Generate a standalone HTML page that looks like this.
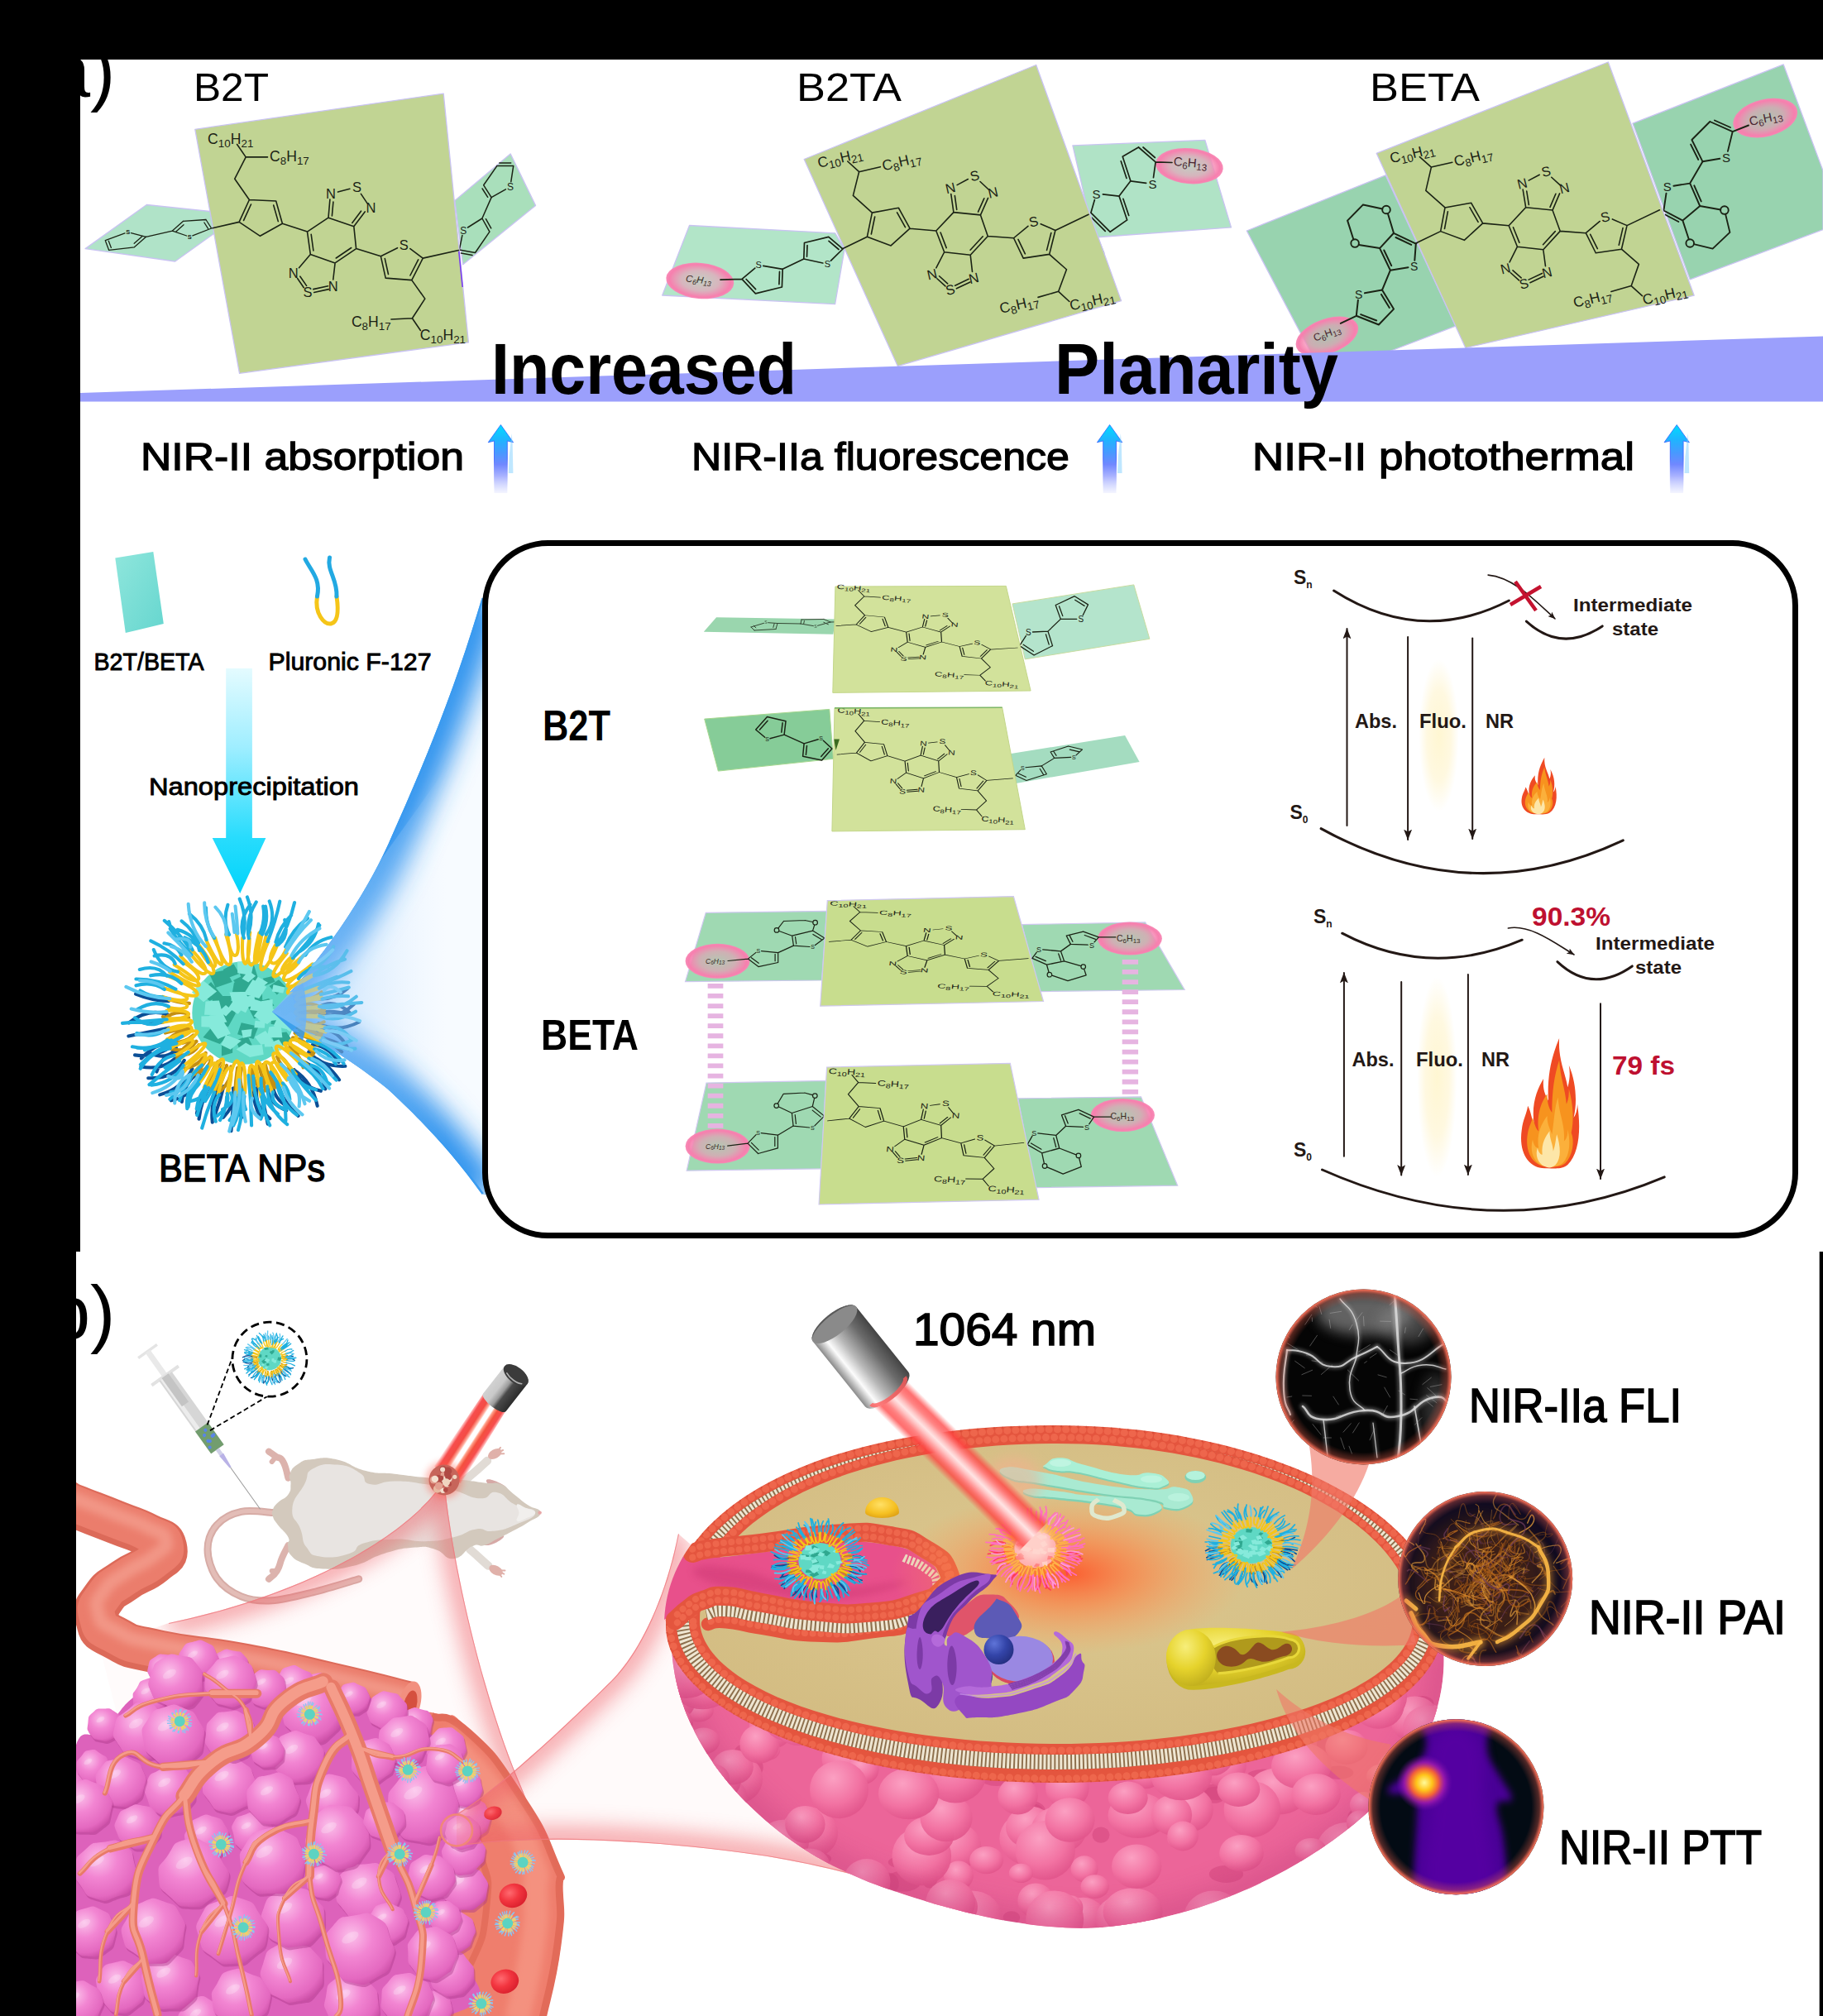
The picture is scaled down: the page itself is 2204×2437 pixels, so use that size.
<!DOCTYPE html>
<html><head><meta charset="utf-8"><title>Figure</title>
<style>html,body{margin:0;padding:0;background:#fff;overflow:hidden}svg{display:block}</style>
</head><body>
<svg width="2204" height="2437" viewBox="0 0 2204 2437" font-family="Liberation Sans, sans-serif">
<defs><g id="core" font-family="Liberation Sans, sans-serif" fill="#1b2315"><path d="M397 263.2 L427.8 273.7 M427.8 273.7 L430.6 300.6 M430.6 300.6 L405.1 317.9 M405.1 317.9 L375.3 307.4 M375.3 307.4 L371.5 280.1 M371.5 280.1 L397 263.2 M424.7 299.5 L406.3 312 M378.9 303 L376.2 283.3 M397 263.2 L398.9 241.1 M401.4 260.9 L402.9 244.1 M408.5 232.1 L422.9 228.2 M436.4 234.4 L444.1 245.9 M441.2 255.9 L427.8 273.7 M436.5 255.2 L425.8 269.4 M375.3 307.4 L361.5 323.7 M359.6 336.5 L367.3 347.7 M362.9 334.2 L370.6 345.4 M378.8 349.6 L396.6 345.7 M379.7 353.5 L397.5 349.6 M402.8 338 L405.1 317.9 M301.4 241.5 L333.7 243 M333.7 243 L341.4 270.3 M341.4 270.3 L314.5 285.3 M314.5 285.3 L289.1 268.4 M289.1 268.4 L301.4 241.5 M330.7 248 L336.3 267.6 M294.6 266.4 L303.5 247 M341.4 270.3 L371.5 280.1 M289.1 268.4 L256.9 275.7 M301.4 241.5 L283.8 216.2 M283.8 216.2 L297.2 189.9 M297.2 189.9 L286.6 174.5 M297.2 189.9 L323.5 189.9 M460.4 309.8 L480.5 299.7 M495.9 300.6 L511.3 312.1 M460.4 309.8 L466.2 336.1 M466.2 336.1 L497.8 338.6 M497.8 338.6 L511.3 312.1 M465.3 312.6 L469.5 331.5 M495.9 333 L505.7 313.9 M430.6 300.6 L460.4 309.8 M511.3 312.1 L554.5 302.5 M497.8 338.6 L513.8 361.1 M513.8 361.1 L498.4 384.7 M498.4 384.7 L472.9 386 M498.4 384.7 L508.4 399.5" stroke="#1b2315" stroke-width="1.6" fill="none" stroke-linecap="round"/><text x="399.9" y="239.7" font-size="16.5" text-anchor="middle">N</text><text x="431.6" y="231.7" font-size="16.5" text-anchor="middle">S</text><text x="448.5" y="256.6" font-size="16.5" text-anchor="middle">N</text><text x="354.8" y="335.9" font-size="16.5" text-anchor="middle">N</text><text x="372.1" y="358.9" font-size="16.5" text-anchor="middle">S</text><text x="402.8" y="351.7" font-size="16.5" text-anchor="middle">N</text><text x="488.2" y="301.7" font-size="16.5" text-anchor="middle">S</text><text x="251.1" y="174.4" font-size="17.6" text-anchor="start" ><tspan dy="0" font-size="17.6">C</tspan><tspan dy="3.9" font-size="13.4">10</tspan><tspan dy="-3.9" font-size="17.6">H</tspan><tspan dy="3.9" font-size="13.4">21</tspan></text><text x="326" y="195.3" font-size="17.6" text-anchor="start" ><tspan dy="0" font-size="17.6">C</tspan><tspan dy="3.9" font-size="13.4">8</tspan><tspan dy="-3.9" font-size="17.6">H</tspan><tspan dy="3.9" font-size="13.4">17</tspan></text><text x="424.9" y="395" font-size="17.6" text-anchor="start" ><tspan dy="0" font-size="17.6">C</tspan><tspan dy="3.9" font-size="13.4">8</tspan><tspan dy="-3.9" font-size="17.6">H</tspan><tspan dy="3.9" font-size="13.4">17</tspan></text><text x="507.8" y="410.6" font-size="17.6" text-anchor="start" ><tspan dy="0" font-size="17.6">C</tspan><tspan dy="3.9" font-size="13.4">10</tspan><tspan dy="-3.9" font-size="17.6">H</tspan><tspan dy="3.9" font-size="13.4">21</tspan></text></g><radialGradient id="pinkg"><stop offset="0" stop-color="#f58fb5" stop-opacity="0.25"/><stop offset="0.55" stop-color="#f58fb5" stop-opacity="0.55"/><stop offset="0.9" stop-color="#f77fae" stop-opacity="1"/><stop offset="1" stop-color="#f886b4" stop-opacity="0.95"/></radialGradient><linearGradient id="bluearrow" x1="0" y1="0" x2="0" y2="1"><stop offset="0" stop-color="#00dcff"/><stop offset="0.22" stop-color="#1fb4ff"/><stop offset="0.42" stop-color="#4a98ff"/><stop offset="0.58" stop-color="#7088ff"/><stop offset="0.75" stop-color="#a9b2ff"/><stop offset="1" stop-color="#eef0ff" stop-opacity="0.7"/></linearGradient><linearGradient id="bluearrow2" x1="0" y1="0" x2="0" y2="1"><stop offset="0" stop-color="#2a6aff"/><stop offset="0.5" stop-color="#3a5aff"/><stop offset="0.8" stop-color="#a0a8ff" stop-opacity="0.5"/><stop offset="1" stop-color="#fff" stop-opacity="0"/></linearGradient><linearGradient id="tealrect" x1="0" y1="0" x2="1" y2="1"><stop offset="0" stop-color="#8fe6dc"/><stop offset="1" stop-color="#66d6cf"/></linearGradient><linearGradient id="cyanarrow" x1="0" y1="0" x2="0" y2="1"><stop offset="0" stop-color="#e4fbff"/><stop offset="0.35" stop-color="#9feeff"/><stop offset="0.75" stop-color="#28dcfd"/><stop offset="1" stop-color="#00d4fb"/></linearGradient><filter id="blur14" filterUnits="userSpaceOnUse" x="200" y="600" width="600" height="1000"><feGaussianBlur stdDeviation="16"/></filter><filter id="blur5" filterUnits="userSpaceOnUse" x="200" y="600" width="600" height="1000"><feGaussianBlur stdDeviation="5"/></filter><linearGradient id="conefade" gradientUnits="userSpaceOnUse" x1="329" y1="0" x2="540" y2="0"><stop offset="0" stop-color="#7fbdf9" stop-opacity="0.75"/><stop offset="0.45" stop-color="#a9d3fb" stop-opacity="0.4"/><stop offset="1" stop-color="#d5e9ff" stop-opacity="0"/></linearGradient><clipPath id="coneclip"><path d="M329 1223 C390 1160 440 1085 468.8 1021.8 C505 940 545 850 582.6 722.7 L590 722 L590 1445 L582.6 1443.7 C545 1390 500 1345 468.8 1316.4 C430 1285 380 1255 329 1223 Z"/></clipPath><radialGradient id="glowy"><stop offset="0" stop-color="#fff6d0" stop-opacity="0.95"/><stop offset="0.6" stop-color="#fff4cc" stop-opacity="0.6"/><stop offset="1" stop-color="#fff4cc" stop-opacity="0"/></radialGradient><marker id="ah" viewBox="0 0 13 10" refX="12.4" refY="5" markerWidth="13" markerHeight="10" markerUnits="userSpaceOnUse" orient="auto-start-reverse"><path d="M0 0 L13 5 L0 10 L3 5 Z" fill="#231815"/></marker><marker id="ah2" viewBox="0 0 10 8" refX="9.4" refY="4" markerWidth="9" markerHeight="7.2" markerUnits="userSpaceOnUse" orient="auto-start-reverse"><path d="M0 0 L10 4 L0 8 L2.4 4 Z" fill="#231815"/></marker><g id="flame"><path d="M50 158 C20 160 2 140 8 112 C10 100 16 94 18 84 C24 92 24 100 28 104 C24 80 34 64 44 52 C42 66 48 72 52 78 C50 50 56 28 70 4 C68 30 80 44 84 62 C88 52 88 44 86 36 C98 56 100 80 94 98 C98 94 100 88 100 82 C106 110 104 140 84 154 C74 160 62 158 50 158 Z" fill="#ef4a23"/><path d="M50 156 C26 156 12 138 18 116 C20 108 24 104 26 98 C30 108 32 112 36 114 C32 92 42 78 50 70 C50 82 54 88 58 92 C58 66 62 48 70 30 C72 52 80 64 82 82 C86 76 86 70 86 64 C94 84 94 104 90 116 C96 126 92 144 80 152 C72 157 60 156 50 156 Z" fill="#f7931e"/><path d="M48 156 C30 154 20 140 26 124 C28 132 32 134 36 134 C32 116 42 104 50 96 C50 108 56 112 58 118 C62 100 62 86 68 74 C70 96 80 106 78 126 C84 122 84 116 84 112 C90 130 86 146 74 153 C66 157 56 157 48 156 Z" fill="#fbb03b"/><path d="M46 156 C34 152 30 142 34 134 C36 140 40 142 42 142 C40 128 48 120 54 114 C54 124 60 130 60 138 C64 130 64 124 66 118 C72 132 74 146 64 154 C58 158 52 158 46 156 Z" fill="#fde6a8"/></g><radialGradient id="cellg" cx="0.38" cy="0.32" r="0.75"><stop offset="0" stop-color="#fbc0ea"/><stop offset="0.4" stop-color="#f285d2"/><stop offset="0.8" stop-color="#e469c0"/><stop offset="1" stop-color="#c84aa2"/></radialGradient><radialGradient id="rbcg" cx="0.4" cy="0.35" r="0.7"><stop offset="0" stop-color="#ff6a70"/><stop offset="0.5" stop-color="#f2353f"/><stop offset="1" stop-color="#d81e2c"/></radialGradient><filter id="b8" filterUnits="userSpaceOnUse" x="0" y="1500" width="2204" height="940"><feGaussianBlur stdDeviation="8"/></filter><filter id="b14" filterUnits="userSpaceOnUse" x="0" y="1500" width="2204" height="940"><feGaussianBlur stdDeviation="14"/></filter><filter id="b4" filterUnits="userSpaceOnUse" x="0" y="1500" width="2204" height="940"><feGaussianBlur stdDeviation="4"/></filter><filter id="b2" filterUnits="userSpaceOnUse" x="0" y="1500" width="2204" height="940"><feGaussianBlur stdDeviation="2"/></filter><filter id="b25" filterUnits="userSpaceOnUse" x="0" y="1500" width="2204" height="940"><feGaussianBlur stdDeviation="25"/></filter><linearGradient id="metal" x1="0" y1="0" x2="1" y2="0"><stop offset="0" stop-color="#6e6e6e"/><stop offset="0.22" stop-color="#f2f2f2"/><stop offset="0.45" stop-color="#9a9a9a"/><stop offset="0.8" stop-color="#4a4a4a"/><stop offset="1" stop-color="#2e2e2e"/></linearGradient><linearGradient id="metal2" x1="0" y1="0" x2="1" y2="0"><stop offset="0" stop-color="#d2d2d2"/><stop offset="0.3" stop-color="#c9c9c9"/><stop offset="0.5" stop-color="#9a9a9a"/><stop offset="0.62" stop-color="#4a4a4a"/><stop offset="1" stop-color="#2c2c2c"/></linearGradient><linearGradient id="beam" x1="0" y1="0" x2="1" y2="0"><stop offset="0" stop-color="#ff3a3a" stop-opacity="0"/><stop offset="0.16" stop-color="#ff4040" stop-opacity="0.75"/><stop offset="0.3" stop-color="#ff8888"/><stop offset="0.42" stop-color="#ffc4c4"/><stop offset="0.5" stop-color="#ffe4e4"/><stop offset="0.58" stop-color="#ffc4c4"/><stop offset="0.7" stop-color="#ff8888"/><stop offset="0.84" stop-color="#ff4040" stop-opacity="0.75"/><stop offset="1" stop-color="#ff3a3a" stop-opacity="0"/></linearGradient><linearGradient id="beam2" x1="0" y1="0" x2="1" y2="0"><stop offset="0" stop-color="#ff3a3a" stop-opacity="0"/><stop offset="0.14" stop-color="#f64444" stop-opacity="0.95"/><stop offset="0.3" stop-color="#f44c44"/><stop offset="0.4" stop-color="#ffb0a0"/><stop offset="0.45" stop-color="#fff"/><stop offset="0.57" stop-color="#fff"/><stop offset="0.62" stop-color="#ffa088"/><stop offset="0.72" stop-color="#f4503e"/><stop offset="0.86" stop-color="#f64444" stop-opacity="0.95"/><stop offset="1" stop-color="#ff3a3a" stop-opacity="0"/></linearGradient><clipPath id="cone1clip"><path d="M537 1789 C500 1850 380 1925 204 1962 L120 1990 L200 2300 L672 2263 C660 2235 645 2195 625 2148 C585 2050 548 1900 537 1789 Z"/></clipPath><clipPath id="cone2clip"><path d="M552 2193 C600 2165 680 2090 740 2031 C775 1995 805 1930 820 1854 L850 1880 L900 2050 L1260 2325 C1080 2280 1000 2254 914 2242 C770 2222 640 2218 552 2232 Z"/></clipPath><clipPath id="botclip"><rect x="92" y="1500" width="2108" height="937"/></clipPath><radialGradient id="tang" cx="0.5" cy="0.45" r="0.6"><stop offset="0" stop-color="#dcc890"/><stop offset="1" stop-color="#d3bc82"/></radialGradient><radialGradient id="hotglow"><stop offset="0" stop-color="#ff5226" stop-opacity="0.9"/><stop offset="0.4" stop-color="#ff7a3e" stop-opacity="0.62"/><stop offset="1" stop-color="#ff9a58" stop-opacity="0"/></radialGradient><radialGradient id="bumpl" cx="0.4" cy="0.3" r="0.7"><stop offset="0" stop-color="#fba0c2"/><stop offset="0.65" stop-color="#f272a2"/><stop offset="1" stop-color="#e2568c" stop-opacity="0.9"/></radialGradient><radialGradient id="yelg" cx="0.4" cy="0.3" r="0.8"><stop offset="0" stop-color="#f7ee7a"/><stop offset="0.5" stop-color="#e6d32c"/><stop offset="1" stop-color="#b9a71a"/></radialGradient><radialGradient id="domeg" cx="0.45" cy="0.35" r="0.75"><stop offset="0" stop-color="#ffe066"/><stop offset="0.6" stop-color="#f6c021"/><stop offset="1" stop-color="#d99a12"/></radialGradient><radialGradient id="nucl" cx="0.35" cy="0.3" r="0.8"><stop offset="0" stop-color="#5f74d8"/><stop offset="0.5" stop-color="#3344a8"/><stop offset="1" stop-color="#222c7a"/></radialGradient><linearGradient id="metalL" x1="0" y1="0" x2="1" y2="0"><stop offset="0" stop-color="#8a8a8a"/><stop offset="0.2" stop-color="#fcfcfc"/><stop offset="0.42" stop-color="#b8b8b8"/><stop offset="0.75" stop-color="#6a6a6a"/><stop offset="1" stop-color="#444"/></linearGradient><clipPath id="pinkclip"><path d="M812 1990 C815 2095 900 2215 1050 2275 C1150 2312 1250 2335 1330 2330 C1480 2318 1650 2230 1720 2110 C1740 2070 1748 2030 1745 1990 L1745 1940 L812 1940 Z"/></clipPath><clipPath id="e2clip"><path d="M818 1963 C818 1825.6 1000.8 1734 1275 1734 C1527.4 1734 1732 1836.5 1732 1963 C1732 2060.2 1527.4 2139 1275 2139 C1022.6 2139 818 2060.2 818 1963Z"/></clipPath><clipPath id="e1clip"><path d="M803 1965 C803 1818.6 991.8 1721 1275 1721 C1535.7 1721 1747 1830.2 1747 1965 C1747 2071 1535.7 2157 1275 2157 C1014.3 2157 803 2071 803 1965Z"/></clipPath><clipPath id="topclip"><ellipse cx="1267" cy="1926" rx="437" ry="182"/></clipPath><radialGradient id="fli_r"><stop offset="0.9" stop-color="#000"/><stop offset="0.97" stop-color="#7a2a20"/><stop offset="1" stop-color="#e8604c"/></radialGradient><radialGradient id="hot"><stop offset="0" stop-color="#fffb9a"/><stop offset="0.28" stop-color="#ffc41a"/><stop offset="0.5" stop-color="#f2603a"/><stop offset="0.72" stop-color="#b020b0" stop-opacity="0.7"/><stop offset="1" stop-color="#7010a8" stop-opacity="0"/></radialGradient><radialGradient id="ringglow"><stop offset="0.86" stop-color="#e8604c" stop-opacity="0"/><stop offset="0.95" stop-color="#e8604c" stop-opacity="0.35"/><stop offset="0.985" stop-color="#ee6a54" stop-opacity="0.9"/><stop offset="1" stop-color="#f07860" stop-opacity="1"/></radialGradient><clipPath id="c1"><circle cx="1648.5" cy="1664.4" r="106"/></clipPath><clipPath id="c2"><circle cx="1795.7" cy="1908.5" r="105.5"/></clipPath><clipPath id="c3"><circle cx="1760.4" cy="2184.3" r="106"/></clipPath><linearGradient id="tail" x1="0" y1="0" x2="0" y2="1"><stop offset="0" stop-color="#f0705c" stop-opacity="0.35"/><stop offset="1" stop-color="#ee5f50" stop-opacity="0.8"/></linearGradient></defs>
<rect width="2204" height="2437" fill="#fff"/>
<g><polygon points="103.1,300.6 177.3,247.5 262,256.4 262,280 211.7,316" fill="#b0e3c8" stroke="#c9c3f2" stroke-width="1.3" stroke-linejoin="round"/><g font-family="Liberation Sans, sans-serif" font-weight="bold"><path d="M176.6 286.3 L162.4 298.8 M162.4 298.8 L131.7 302.4 M131.7 302.4 L127.3 290.7 M127.3 290.7 L151 281.9 M158.5 281.6 L176.6 286.3 M172.1 285.5 L162.2 294.2 M134.4 299.4 L131.3 291.2" stroke="#1b2315" stroke-width="1.3" fill="none" stroke-linecap="round"/><text x="154.7" y="283.3" font-size="7.5" text-anchor="middle" fill="#1b2315">S</text><path d="M208.4 279.1 L221.6 267.3 M221.6 267.3 L249 265.5 M249 265.5 L255.6 276 M255.6 276 L232.9 284.9 M225.6 285 L208.4 279.1 M212.8 280 L222 271.8 M246.9 269 L251.6 276.3 M176.6 286.3 L208.4 279.1" stroke="#1b2315" stroke-width="1.3" fill="none" stroke-linecap="round"/><text x="229.3" y="289" font-size="7.5" text-anchor="middle" fill="#1b2315">S</text></g><polygon points="549.9,242.6 617.1,185.9 647.5,248.4 559.7,319.8" fill="#a9dfbb" stroke="#c9c3f2" stroke-width="1.3" stroke-linejoin="round"/><g font-family="Liberation Sans, sans-serif"><path d="M594.1 238.6 L584.7 223.8 M584.7 223.8 L600.8 200.6 M600.8 200.6 L620.7 200.6 M620.7 200.6 L617.8 219.7 M611.4 228.9 L594.1 238.6 M589.7 238.3 L583.1 228 M603.8 197 L617.7 197" stroke="#1b2315" stroke-width="1.5" fill="none" stroke-linecap="round"/><text x="616.9" y="230.2" font-size="12" text-anchor="middle" fill="#1b2315">S</text><path d="M582.9 264 L591.9 280.1 M591.9 280.1 L574.5 305.5 M574.5 305.5 L555.3 302 M555.3 302 L558.9 284.4 M565.5 275 L582.9 264 M587.4 264.7 L593.7 275.9 M571 308.5 L557.5 306.1 M594.1 238.6 L582.9 264" stroke="#1b2315" stroke-width="1.5" fill="none" stroke-linecap="round"/><text x="560.2" y="282.6" font-size="12" text-anchor="middle" fill="#1b2315">S</text></g><polygon points="235.8,156.3 536.2,113.1 566.4,413.9 289.5,451.3" fill="#c1d493" stroke="#c9c3f2" stroke-width="1.3" stroke-linejoin="round"/><line x1="554.8" y1="303.8" x2="559.2" y2="347" stroke="#7a3df0" stroke-width="1.6"/><use href="#core"/><polygon points="800.7,357 833.5,272.5 1009.6,281.8 1021,301.3 1009.6,367.6" fill="#b2e5c8" stroke="#c9c3f2" stroke-width="1.3" stroke-linejoin="round"/><ellipse cx="846.3" cy="339.4" rx="41.1" ry="21.6" transform="rotate(5 846.3 339.4)" fill="url(#pinkg)"/><g font-family="Liberation Sans, sans-serif"><text x="829" y="342.5" font-size="11.5" text-anchor="start" font-style="italic" fill="#3a2a24" transform="rotate(7 848 339)"><tspan dy="0" font-size="11.5">C</tspan><tspan dy="2.5" font-size="8.7">6</tspan><tspan dy="-2.5" font-size="11.5">H</tspan><tspan dy="2.5" font-size="8.7">13</tspan></text><path d="M946.2 325.3 L945.4 347 M945.4 347 L913.4 354.8 M913.4 354.8 L897 337.3 M897 337.3 L912.8 324.1 M922.8 321.4 L946.2 325.3 M942.5 328.4 L941.9 343.6 M913.6 349.7 L902.1 337.5 M871 338.2 L897 337.3" stroke="#1b2315" stroke-width="1.7" fill="none" stroke-linecap="round"/><text x="917.2" y="324.4" font-size="11" text-anchor="middle" fill="#1b2315">S</text><path d="M971.8 313 L972.5 293.5 M972.5 293.5 L1001.8 286.4 M1001.8 286.4 L1018.9 301 M1018.9 301 L1004.5 315.2 M994.8 318 L971.8 313 M975.5 310.2 L976 296.6 M1002 291.3 L1014 301.5 M946.2 325.3 L971.8 313" stroke="#1b2315" stroke-width="1.7" fill="none" stroke-linecap="round"/><text x="1000.4" y="323.2" font-size="11" text-anchor="middle" fill="#1b2315">S</text></g><polygon points="1296.9,175.9 1456.8,169.3 1488.5,274.9 1323.4,287 1314,250" fill="#b0e3c6" stroke="#c9c3f2" stroke-width="1.3" stroke-linejoin="round"/><polygon points="1317.4,262 1322.2,311.1 1335.5,306.3" fill="#3f7553" /><ellipse cx="1437.9" cy="200.7" rx="41" ry="21.5" transform="rotate(5 1437.9 200.7)" fill="url(#pinkg)"/><g font-family="Liberation Sans, sans-serif"><text x="1418.5" y="201.5" font-size="15" text-anchor="start" fill="#4a2530" transform="rotate(5 1437 200)"><tspan dy="0" font-size="15">C</tspan><tspan dy="3.3" font-size="11.4">6</tspan><tspan dy="-3.3" font-size="15">H</tspan><tspan dy="3.3" font-size="11.4">13</tspan></text><path d="M1366.9 218.8 L1357.2 189.2 M1357.2 189.2 L1376.5 178 M1376.5 178 L1397.1 195.9 M1397.1 195.9 L1394.5 214.7 M1385.7 221.4 L1366.9 218.8 M1362 215.5 L1355.2 194.8 M1382 178 L1396.4 190.5 M1397.1 195.9 L1417 196.5" stroke="#1b2315" stroke-width="1.7" fill="none" stroke-linecap="round"/><text x="1393.4" y="227.8" font-size="15" text-anchor="middle" fill="#1b2315">S</text><path d="M1353 237.1 L1362.7 265.9 M1362.7 265.9 L1342.2 280.3 M1342.2 280.3 L1318.9 257.2 M1318.9 257.2 L1323.4 241.6 M1333.4 234.9 L1353 237.1 M1357.9 240.3 L1364.7 260.4 M1336.2 279.4 L1319.9 263.2 M1366.9 218.8 L1353 237.1" stroke="#1b2315" stroke-width="1.7" fill="none" stroke-linecap="round"/><text x="1325.6" y="239.5" font-size="15" text-anchor="middle" fill="#1b2315">S</text></g><polygon points="972.2,192.5 1252.7,78.5 1355.6,363.6 1085.3,442.6" fill="#c1d493" stroke="#c9c3f2" stroke-width="1.3" stroke-linejoin="round"/><use href="#core" transform="matrix(0.97940 -0.22714 0.22608 0.97717 704.59095 89.60579)"/><polygon points="1507.3,279 1675.1,211.8 1759.9,394.2 1640,440 1592,440" fill="#98d3af" stroke="#c9c3f2" stroke-width="1.3" stroke-linejoin="round"/><polygon points="1974,149.2 2156.2,77.9 2204,206.3 2204,277.6 2043.2,337.9" fill="#98d3af" stroke="#c9c3f2" stroke-width="1.3" stroke-linejoin="round"/><ellipse cx="1604.4" cy="406.5" rx="39.5" ry="21" transform="rotate(-20 1604.4 406.5)" fill="url(#pinkg)"/><ellipse cx="2134.2" cy="142.6" rx="39.8" ry="22.5" transform="rotate(-14 2134.2 142.6)" fill="url(#pinkg)"/><g font-family="Liberation Sans, sans-serif"><text x="1587" y="407" font-size="12.5" text-anchor="start" fill="#4a2530" transform="rotate(-20 1605 402)"><tspan dy="0" font-size="12.5">C</tspan><tspan dy="2.8" font-size="9.5">6</tspan><tspan dy="-2.8" font-size="12.5">H</tspan><tspan dy="2.8" font-size="9.5">13</tspan></text><text x="2116" y="152" font-size="15" text-anchor="start" fill="#4a2530" transform="rotate(-12 2116 152)"><tspan dy="0" font-size="15">C</tspan><tspan dy="3.3" font-size="11.4">6</tspan><tspan dy="-3.3" font-size="15">H</tspan><tspan dy="3.3" font-size="11.4">13</tspan></text><path d="M1680.9 326.7 L1668.1 300.1 M1668.1 300.1 L1685 281.8 M1685 281.8 L1711.8 294.6 M1711.8 294.6 L1710.3 314.8 M1702.5 323.2 L1680.9 326.7 M1682.2 321.1 L1673.3 302.5 M1687.5 287 L1706.2 295.9 M1711.8 294.6 L1741.8 279.8 M1680.9 326.7 L1671 350.6 M1685 281.8 L1678 258.5 M1671.3 252.4 L1648 247.4 M1648 247.4 L1629.1 266.6 M1629.1 266.6 L1636.3 289.2 M1642.8 296 L1668.1 300.1" stroke="#1b2315" stroke-width="2.0" fill="none" stroke-linecap="round"/><text x="1709.7" y="327.1" font-size="14" text-anchor="middle" fill="#1b2315">S</text><path d="M1671 350.6 L1685 373.6 M1685 373.6 L1666.9 392.5 M1666.9 392.5 L1639.8 381.8 M1639.8 381.8 L1641.9 362.7 M1649.9 354.3 L1671 350.6 M1670 355.9 L1679.8 372 M1664.2 387.5 L1645.2 380.1 M1639.8 381.8 L1620.8 390.9" stroke="#1b2315" stroke-width="2.0" fill="none" stroke-linecap="round"/><text x="1642.7" y="360.5" font-size="14" text-anchor="middle" fill="#1b2315">S</text><circle cx="1676" cy="253.5" r="4.8" fill="none" stroke="#1b2315" stroke-width="1.9"/><circle cx="1638.1" cy="294.1" r="4.8" fill="none" stroke="#1b2315" stroke-width="1.9"/><circle cx="2084.9" cy="254.1" r="4.8" fill="none" stroke="#1b2315" stroke-width="1.9"/><circle cx="2043.2" cy="294" r="4.8" fill="none" stroke="#1b2315" stroke-width="1.9"/><path d="M2058.5 195.3 L2045.4 169 M2045.4 169 L2067.3 147 M2067.3 147 L2094.7 159.1 M2094.7 159.1 L2088.9 182.9 M2079.3 191.8 L2058.5 195.3 M2053.3 193 L2044.1 174.6 M2072.9 145.5 L2092 154 M2094.7 159.1 L2114 151.5" stroke="#1b2315" stroke-width="1.9" fill="none" stroke-linecap="round"/><text x="2087" y="195.9" font-size="15" text-anchor="middle" fill="#1b2315">S</text><path d="M2043.2 221.6 L2055.2 249 M2055.2 249 L2034.4 266.6 M2034.4 266.6 L2011.4 254.5 M2011.4 254.5 L2014.5 233.7 M2023.4 224.8 L2043.2 221.6 M2048.3 224.3 L2056.7 243.4 M2029.3 268 L2013.2 259.5 M2058.5 195.3 L2043.2 221.6 M2011.4 254.5 L1968.6 272.1 M2055.2 249 L2080.2 253.5 M2086.1 258.9 L2091.4 280.9 M2091.4 280.9 L2070.6 300.6 M2070.6 300.6 L2047.9 295.2 M2041.8 289.3 L2034.4 266.6" stroke="#1b2315" stroke-width="1.9" fill="none" stroke-linecap="round"/><text x="2015.7" y="231.4" font-size="15" text-anchor="middle" fill="#1b2315">S</text></g><polygon points="1664.2,185.3 1944.3,75 2048.2,357.2 1771.8,420.6" fill="#c1d493" stroke="#c9c3f2" stroke-width="1.3" stroke-linejoin="round"/><use href="#core" transform="matrix(0.96640 -0.22127 0.24314 0.96509 1397.02166 84.56742)"/><g font-family="Liberation Sans, sans-serif" font-size="49" fill="#000"><text x="234" y="121.8" textLength="91" lengthAdjust="spacingAndGlyphs">B2T</text><text x="963" y="121.8" textLength="127" lengthAdjust="spacingAndGlyphs">B2TA</text><text x="1656" y="121.8" textLength="133" lengthAdjust="spacingAndGlyphs">BETA</text></g><polygon points="97,475 2204,406.5 2204,485.5 97,485.5" fill="#9b9ffc" /><g font-family="Liberation Sans, sans-serif" font-weight="bold" font-size="88" fill="#000"><text x="594" y="475.5" textLength="369" lengthAdjust="spacingAndGlyphs">Increased</text><text x="1275" y="475.5" textLength="343" lengthAdjust="spacingAndGlyphs">Planarity</text></g><g font-family="Liberation Sans, sans-serif" font-size="47" fill="#000" stroke="#000" stroke-width="1.3"><text x="170" y="568" textLength="391" lengthAdjust="spacingAndGlyphs">NIR-II absorption</text><text x="836" y="568" textLength="457" lengthAdjust="spacingAndGlyphs">NIR-IIa fluorescence</text><text x="1514" y="568" textLength="462" lengthAdjust="spacingAndGlyphs">NIR-II photothermal</text></g><path d="M605.4 513.5 L620.6 534.8 L613.3 533 L613.3 596 L597.5 596 L597.5 533 L590.2 534.8 Z" fill="url(#bluearrow)" stroke="url(#bluearrow2)" stroke-width="0.8"/><path d="M618.6 524 L619.6 534 L620.4 572 L614.8 572 L615.6 552 Z" fill="#7fd0ff" opacity="0.5"/><path d="M1341.6 513.5 L1356.8 534.8 L1349.5 533 L1349.5 596 L1333.7 596 L1333.7 533 L1326.4 534.8 Z" fill="url(#bluearrow)" stroke="url(#bluearrow2)" stroke-width="0.8"/><path d="M1354.8 524 L1355.8 534 L1356.6 572 L1351 572 L1351.8 552 Z" fill="#7fd0ff" opacity="0.5"/><path d="M2027.2 513.5 L2042.4 534.8 L2035.1 533 L2035.1 596 L2019.3 596 L2019.3 533 L2012 534.8 Z" fill="url(#bluearrow)" stroke="url(#bluearrow2)" stroke-width="0.8"/><path d="M2040.4 524 L2041.4 534 L2042.2 572 L2036.6 572 L2037.4 552 Z" fill="#7fd0ff" opacity="0.5"/></g>
<g><g clip-path="url(#coneclip)"><path d="M329 1223 C390 1160 440 1085 468.8 1021.8 C505 940 545 850 582.6 722.7 L590 722 L590 1445 L582.6 1443.7 C545 1390 500 1345 468.8 1316.4 C430 1285 380 1255 329 1223 Z" fill="#f7fbff"/><path d="M329 1223 C390 1160 440 1085 468.8 1021.8 C505 940 545 850 582.6 722.7" fill="none" stroke="#2f93ee" stroke-width="54" filter="url(#blur14)"/><path d="M329 1223 C380 1255 430 1285 468.8 1316.4 C500 1345 545 1390 582.6 1443.7" fill="none" stroke="#2f93ee" stroke-width="54" filter="url(#blur14)"/><path d="M329 1223 C390 1160 440 1085 468.8 1021.8 C505 940 545 850 582.6 722.7" fill="none" stroke="#3a9bf0" stroke-width="5"/><path d="M329 1223 C380 1255 430 1285 468.8 1316.4 C500 1345 545 1390 582.6 1443.7" fill="none" stroke="#3a9bf0" stroke-width="5"/></g><polygon points="139.3,674.5 185.3,666.9 197.8,753.9 151.8,765.1" fill="url(#tealrect)" /><g fill="none" stroke-width="5" stroke-linecap="round"><path d="M383.5 721 C380 742 392 755 400 754 C410 752 409 735 407 721" stroke="#f5c518"/><path d="M369 676 C376 690 388 700 383.5 721" stroke="#22a9e2"/><path d="M398.5 674 C395 690 408 700 407 721" stroke="#22a9e2"/></g><g font-family="Liberation Sans, sans-serif" fill="#000" stroke="#000"><text x="113.5" y="809.5" font-size="30" stroke-width="0.9" textLength="133" lengthAdjust="spacingAndGlyphs">B2T/BETA</text><text x="324.5" y="809.5" font-size="30" stroke-width="0.9" textLength="197" lengthAdjust="spacingAndGlyphs">Pluronic F-127</text></g><path d="M273.2 808 L304.9 808 L304.9 1013 L321.4 1013 L290.2 1080 L256.7 1013 L273.2 1013 Z" fill="url(#cyanarrow)"/><g font-family="Liberation Sans, sans-serif" fill="#000" stroke="#000"><text x="180" y="960.5" font-size="30" stroke-width="0.9" textLength="254" lengthAdjust="spacingAndGlyphs">Nanoprecipitation</text><text x="192" y="1428" font-size="47" stroke-width="1.4" textLength="201" lengthAdjust="spacingAndGlyphs">BETA NPs</text></g><g fill="none" stroke-linecap="round" stroke-width="4.1"><path d="M386.3 1223.9 Q403.6 1220.6 421 1226.7 M386.3 1224.1 Q406.8 1234 427.8 1214.1 M385.4 1237.2 Q407.8 1248.8 434.1 1235.5 M383.7 1246 Q404.9 1240.7 419.5 1265 M381.8 1252.7 Q403.3 1256.5 422.1 1268.9 M380.8 1255.8 Q398.8 1258.3 413.2 1271.4 M377.9 1262.7 Q397.5 1264.8 409.5 1283.9 M371.6 1274.3 Q395 1283.3 410.1 1305.3 M373.3 1271.5 Q389.3 1290 417.4 1288.8 M365.3 1282.9 Q386.9 1290.2 393.3 1316.5 M355.2 1293.3 Q377.6 1307.7 383.7 1336.8 M355.5 1293 Q363.6 1312.9 387.9 1318.8 M334.7 1307 Q340.9 1331.1 360.6 1348.9 M329.5 1309.3 Q329.8 1327.7 348.8 1338.7 M324.7 1311.2 Q320.7 1331.6 346.3 1342.3 M314.3 1314.1 Q319.5 1336.3 323.7 1358.7 M311 1314.8 Q306.2 1335.5 326.3 1352.1 M306.7 1315.5 Q305.6 1333.2 314.5 1349.6 M289.1 1316.1 Q282.9 1333 292.1 1350.9 M284.4 1315.7 Q280.8 1341.3 279.5 1367.1 M281.8 1315.4 Q286.1 1334.5 269.9 1350.9 M270.4 1313 Q266.7 1330 260.4 1346.2 M266 1311.7 Q254 1331.7 256.8 1356.7 M256.6 1308.1 Q243.4 1328 240.5 1352.7 M253.8 1306.7 Q241.6 1324.2 237.9 1345.8 M241.3 1299.3 Q236.5 1323.3 206.9 1330.3 M238.9 1297.5 Q222.4 1309.2 219.9 1331.9 M232.4 1292.1 Q221.4 1315.4 193.2 1323.4 M222.8 1281.8 Q211.1 1304.6 179.2 1303.2 M215.6 1271.3 Q196.7 1273.4 189.4 1295.6 M216.7 1273.2 Q202.4 1294.8 170.4 1289.5 M213 1266.7 Q203.7 1282.5 180.6 1273 M210.8 1262 Q191.5 1278.7 163 1275.4 M209.3 1258.5 Q187.3 1261.7 170.9 1279.4 M204.5 1242.6 Q180 1247.6 155.4 1252.5 M203.2 1233.9 Q183.3 1240.8 161.8 1233.3 M202.8 1226.5 Q179.2 1218.3 155.8 1236.3 M203.9 1210.2 Q183.5 1209.4 164.1 1201.5 M384.6 1207.2 Q403.9 1209 420.2 1194.9 M386 1217.4 Q403 1206.3 422.9 1224.2" stroke="#0b4f96"/><path d="M361.1 1222.9 Q376.5 1220.2 392.2 1224.5 M361.1 1224.4 Q376.3 1231.6 391.9 1217.1 M360.1 1235.8 Q374.2 1244.3 391.6 1235.3 M360 1236.4 Q376.3 1231.8 389 1249.2 M358.8 1241.9 Q374.3 1243.8 388.2 1252.1 M356.5 1248.9 Q371.9 1251.9 384.3 1262.9 M354.1 1254.2 Q370 1257 379.8 1272.2 M353.4 1255.7 Q368.7 1259.7 379.1 1273.3 M349.4 1262.2 Q359 1275.4 378 1275.2 M346.3 1266.4 Q361.9 1271.4 366.6 1290.4 M337.1 1275.7 Q350.9 1284.3 353 1302.7 M335.1 1277.3 Q340.4 1292.6 358.1 1298.6 M320.5 1285.8 Q323.3 1301.4 335.8 1313 M318.4 1286.7 Q319.1 1302.9 334.2 1313.7 M315.2 1287.8 Q312.4 1304.7 332.1 1314.7 M312.9 1288.5 Q317.4 1303.4 321.2 1318.5 M306.5 1290 Q303.1 1306.2 318.1 1319.3 M302.3 1290.6 Q301.6 1306.3 308.5 1321.2 M292.2 1291.1 Q287.8 1306.4 295 1322.2 M287.1 1290.7 Q284.8 1306.1 284.1 1321.6 M279.2 1289.3 Q280.7 1305.5 267.1 1318.3 M274.1 1287.9 Q270 1302.9 263.9 1317.3 M270 1286.4 Q260.8 1299.4 262.1 1316.7 M265.9 1284.7 Q256.9 1297.5 255 1313.9 M263.4 1283.4 Q254.2 1296.1 251 1311.9 M255.6 1278.6 Q252.6 1295.1 231.8 1299.4 M254.1 1277.4 Q241.2 1287 238.7 1304.7 M248.7 1272.9 Q242.1 1287.7 223.6 1291.7 M240.3 1263.2 Q232.2 1278.1 210.9 1275.1 M237.5 1259 Q221.4 1261.9 214.1 1280 M237.4 1258.7 Q228.2 1273 207.1 1268.1 M234.2 1252.7 Q223.5 1265.8 203.1 1259.1 M233.6 1251.5 Q221.6 1262.4 203.3 1259.4 M230.9 1244.3 Q215 1245.3 202.4 1257.1 M230 1240.9 Q214.9 1244.8 199.8 1248.6 M228.1 1230 Q213 1234.9 196.9 1229.1 M227.9 1225.8 Q212.5 1219.8 197.1 1232.5 M228.9 1212.9 Q213.3 1212 198.6 1205.8 M359.5 1209.9 Q375.4 1210.5 388.9 1199.2 M360.7 1217 Q375 1208 392.1 1220.8" stroke="#c48f12"/></g><circle cx="294.5" cy="1224.5" r="62.2" fill="#5fd8c4"/><path d="M300.4 1205 L286.1 1201.7 L292.6 1191.5 L305.9 1198.6Z M281.1 1267.9 L267.3 1263.5 L272.7 1255.7 L282.7 1256.2Z M288.4 1193.1 L282 1184.9 L294 1179.2 L298.5 1190.7Z M275.8 1241.5 L261.5 1232.9 L271.3 1219.8 L285.1 1224.7Z M292.9 1186.6 L288.4 1171.5 L307 1166.5 L313 1185.7Z M290.7 1271.1 L285 1257.4 L299.5 1252.4 L305.3 1264.6Z M327.5 1237.7 L328.6 1229.9 L342.4 1229.7 L341 1240.4Z M287.1 1250.2 L291.7 1236.2 L312.6 1240.7 L306.5 1255.9Z M294.8 1200.6 L281 1199 L283 1187.5 L297.8 1192.1Z M291.4 1192.2 L299.1 1183.9 L308.7 1190.1 L301 1199.3Z M307.2 1231.4 L298.4 1214.4 L314.1 1208.5 L321.5 1225Z M269.4 1204.2 L253.4 1209.7 L241.2 1200.7 L255.1 1187.1Z M260.6 1194 L252.9 1176.4 L273.3 1172.4 L280.7 1187Z M245.5 1254 L257.1 1240.2 L276.4 1251.1 L265.8 1262.1Z M328.3 1266.2 L332.6 1257.9 L342.9 1261.8 L340 1269.4Z M320.6 1191.6 L317.9 1182.7 L329.4 1180.1 L332.6 1186.8Z M299.9 1200.8 L293.5 1184.9 L311.4 1182.3 L317.1 1194Z M273.8 1182.8 L269.8 1171.9 L282.5 1165.3 L289.4 1177.1Z M345.2 1192.4 L334.8 1202.5 L325.6 1192.1 L337 1184.2Z M254.6 1218.5 L258.2 1204.1 L280 1204 L277.8 1221.2Z M334.2 1266.2 L327.2 1249.8 L346.4 1247.4 L354 1258.4Z M284.5 1224.4 L264 1227.9 L263 1210.5 L285.1 1210Z M329.4 1263 L334.5 1256.3 L344.3 1259.3 L340.2 1269Z M314.6 1199.3 L303.3 1197 L308.1 1189 L320 1191.9Z M267.9 1276.6 L268 1260.7 L281.4 1261.9 L281.1 1272.8Z M301.5 1217.2 L301.8 1199.8 L316.9 1199 L317.4 1214.4Z M305.1 1199.8 L291.2 1195 L296.7 1183.3 L307.1 1186.5Z M316.8 1221.5 L309.7 1211.3 L325.2 1206.9 L331.5 1215.6Z" fill="#2fa890"/><path d="M287.8 1225.8 L276.1 1218.6 L283.4 1207.8 L297.3 1213.7Z M306.8 1228.2 L319.2 1211.8 L333.9 1222.2 L322.3 1237.7Z M317.6 1218.8 L315.9 1210.2 L329.6 1208.1 L329.8 1219.5Z M278.9 1249.5 L263.4 1256 L251.7 1239.9 L268.4 1231.2Z M243.4 1241.3 L243.4 1228.6 L265.6 1227.7 L262.6 1242.1Z M300.3 1187.4 L292.6 1183.1 L300.7 1173.4 L309.1 1179.8Z M269.7 1227.6 L247 1226.7 L248.5 1210.4 L264.9 1209.4Z M325.6 1234.3 L321.5 1222.9 L339.7 1221.6 L341.2 1232.3Z M274.5 1235.5 L257.5 1238 L252.5 1227.9 L268.4 1222.9Z M328.8 1198.6 L330.5 1190.2 L344.3 1193.6 L342.3 1200.5Z M301.9 1278.1 L301.4 1263.5 L317 1263.1 L318.7 1274.7Z M315.6 1262.9 L307.9 1253.4 L321 1246 L330.5 1258.7Z M346 1243.9 L330.7 1239.9 L337.2 1226.5 L352.9 1229.6Z M313.2 1207 L294.8 1201.4 L305.6 1184 L322.4 1193.1Z M307.3 1242.2 L308.6 1233.8 L320.6 1235.5 L319.8 1242.8Z M267 1263.1 L273.3 1251 L291.9 1258 L278.8 1268.8Z M295.8 1217.9 L293.4 1205.6 L307.3 1203.1 L309 1215.4Z M302.3 1277.9 L285.6 1268.6 L297.2 1260.4 L312.3 1269.4Z M246.1 1211.2 L231.9 1199.4 L245.6 1185.2 L262.1 1198.5Z M264.7 1222.5 L273 1214.9 L280.3 1220.9 L273.2 1228.4Z M350.3 1247 L335.2 1235.3 L352.8 1223 L365 1238.1Z M328.4 1230.8 L315.5 1236.9 L311.4 1226.5 L319.8 1223Z M332.7 1272 L326.1 1260.7 L337.1 1256.5 L344.1 1266.9Z M312.1 1232.5 L317.2 1223.2 L332.9 1229.7 L323.2 1238Z M303.6 1179.1 L287.2 1176.3 L287.1 1162.8 L306.9 1163.8Z M320 1265.4 L319.1 1257.3 L329.7 1256.9 L328.6 1265.2Z M301.9 1221 L306.3 1207.4 L318.8 1211.4 L314.4 1222.4Z M315 1194.7 L306.1 1189.4 L311.8 1180.7 L324 1187.8Z M341.4 1254.3 L322.9 1254 L325.2 1241.5 L339.6 1239.4Z M297 1224.2 L279.5 1215.6 L287.7 1200.3 L305.8 1207.9Z M303.4 1252.7 L293.9 1254.7 L291.8 1245.6 L304.7 1243.9Z M282.5 1215.7 L277.4 1199.4 L297.3 1198.8 L301.2 1212.8Z" fill="#86eadb"/><g fill="none" stroke-linecap="round" stroke-width="4.1"><path d="M386.1 1218.2 C347.3 1217.1 347.4 1230.9 386.2 1229.1 M394.3 1229.2 C348.3 1223 346.7 1237.7 392.9 1241.6 M393.9 1247.5 C352.9 1234.6 349.6 1246.2 391.3 1256.5 M387.2 1259 C352.4 1241.2 345.7 1256.3 382.2 1270.3 M380.1 1268 C346.7 1246.2 338.6 1259.8 373.9 1278.5 M377.4 1279.7 C336.9 1249.4 330.8 1257.6 371.8 1287.3 M362.3 1285.2 C330.8 1252.3 321.6 1261.4 353.9 1293.4 M357 1298 C329.5 1259.6 318.1 1268.1 346.9 1305.5 M348.1 1303.5 C333.2 1272.4 317 1281.8 336.6 1310.1 M342.6 1314.4 C323.6 1269.3 308.7 1276 329.7 1320.2 M324.5 1313 C313.5 1271.3 303 1274.3 315.7 1315.5 M315.5 1325.9 C308.3 1274 295.7 1275.9 304 1327.6 M296.2 1320.8 C298.5 1273.5 287.1 1273.1 286.1 1320.5 M287.7 1323.9 C295 1269.8 281.9 1268 274.6 1322.1 M274.5 1325.8 C287 1281.5 273.8 1278.2 263.7 1323 M258 1320 C280.5 1270.7 269 1265.5 246.8 1314.9 M251.8 1314.8 C272.9 1280.6 258.5 1272.7 240.9 1308.8 M240.2 1310.3 C268.2 1273.5 256.3 1264.9 230.3 1303.2 M228.7 1302.5 C260.2 1270 251.7 1262.2 221.8 1296.1 M222.1 1288.4 C261 1257.7 254.8 1249.9 216.3 1281.1 M210.8 1276.2 C244.9 1259.6 238.2 1247.4 205.9 1267.2 M206.2 1266.4 C252.3 1248.1 247.8 1237 202.1 1256.1 M207 1257 C243.1 1249 238 1231.3 203.2 1243.8 M198.1 1246.4 C244.8 1239.3 242.7 1226.9 196.2 1235.7 M201.6 1231.3 C237.1 1232.3 236.8 1219.2 201.4 1221.7 M203.8 1218.1 C232.8 1223.9 234.5 1210.1 205 1208.8 M196.6 1204.9 C234 1216.2 237.4 1203 199.1 1195.1 M196.3 1193.3 C249 1214.4 254.6 1200.4 201.9 1179.3 M205.2 1175 C248.6 1202.6 254.6 1193 210.7 1166.2 M215.4 1174.1 C241.2 1196.3 251.7 1181.9 222.9 1163.9 M218.2 1155.7 C250.1 1191 262.8 1178.7 228.9 1145.4 M227.5 1149.3 C259.8 1191.8 271.9 1182.6 239.1 1140.4 M241.7 1148.6 C258.7 1179.2 269.6 1172.4 249.7 1143.6 M249.2 1136.1 C267.5 1178.6 277.7 1174 257.8 1132.2 M260.1 1133.6 C273.1 1179.7 287.7 1175.4 273.1 1129.7 M275.2 1130.1 C278 1164.7 293.3 1162.5 286 1128.6 M293.3 1133.9 C291.1 1175 301.2 1175.3 301.7 1134.2 M302.3 1127.2 C294.1 1178.2 308.8 1180.5 316.4 1129.4 M313.4 1127.5 C301.4 1174.8 311.1 1177.1 322.1 1129.6 M324.3 1138.3 C306.1 1180 318.1 1185 335.1 1142.8 M335.1 1139.5 C316.4 1166.4 333.2 1175.9 346.7 1146.1 M346.7 1152.4 C319.4 1184.3 328.9 1192.1 354.8 1159 M353.3 1155.8 C330.6 1175.5 342.2 1186.8 361.1 1163.4 M368.4 1153.9 C328.3 1186 338.7 1198.6 377.8 1165.3 M374.1 1170 C335.1 1192.8 341.2 1202.8 379.3 1178.5 M380.2 1177.7 C333.3 1198.9 339.2 1211.9 385.9 1190.1 M385.9 1195 C346.2 1204.6 349.1 1215.3 388.2 1203.4 M389.2 1206.9 C345.2 1212 346.7 1222.9 390.5 1216" stroke="#f5c518"/><path d="M385.9 1216.7 Q409.2 1222.9 430.8 1204.7 M386.2 1228.3 Q407.5 1236.7 430 1222.7 M392.8 1242.5 Q410.7 1237.5 424.7 1256.3 M387.7 1257.6 Q406.2 1269.2 429.4 1267.6 M380.1 1268 Q396.2 1270.8 405.9 1286.2 M373.4 1279.3 Q392.3 1289.1 406.6 1305.6 M371.1 1288.1 Q384.6 1299.7 398.8 1310.6 M362.1 1285.4 Q380.1 1296.3 390.4 1316 M353.5 1293.8 Q359.9 1312 382.1 1317.2 M355.8 1299 Q368.2 1314.9 381.9 1329.9 M335.1 1310.9 Q338.9 1333.2 359.1 1347.9 M329.9 1320.1 Q326.6 1334.8 345.9 1341.5 M323.3 1313.4 Q323 1340.1 347.2 1359.2 M314.2 1315.9 Q324.7 1332 315.3 1352.6 M316.4 1325.7 Q317.8 1343.8 326.2 1360.3 M288.6 1324 Q291.7 1342.6 282.2 1360.6 M274.7 1322.1 Q278.7 1337.4 262.6 1348.8 M274.2 1325.7 Q273.9 1340.7 266 1354.1 M264.8 1323.4 Q254.8 1337 260.8 1355.7 M259.2 1320.4 Q250.4 1341.5 244.2 1363.6 M247.8 1315.4 Q239.3 1326.2 237.7 1340.5 M252.2 1315 Q243.3 1330.6 238.3 1348.1 M239.3 1307.8 Q223.8 1317.8 226.3 1340.2 M240.5 1310.5 Q229.3 1321.2 227.6 1338 M229 1302.8 Q218.9 1317.2 205.4 1328.7 M221.7 1287.9 Q210 1308.2 183.1 1311.7 M217.3 1282.5 Q198.3 1295.9 180.5 1311.1 M210.5 1275.7 Q192.4 1279.5 183.7 1299.1 M205.9 1267.1 Q183.6 1270.4 169.7 1291.8 M205.5 1264.7 Q190.6 1267.9 179.6 1279.7 M202.4 1257.1 Q184.5 1270.4 159.9 1265.3 M207.1 1257.3 Q191 1263.3 174.9 1269.4 M198 1246.4 Q183.4 1254.8 165.4 1249 M196.1 1234.4 Q180.9 1243.8 163.1 1230.3 M201.7 1232.3 Q174.8 1234.5 148 1236.9 M203.9 1216.6 Q186.1 1208.1 166.2 1220.1 M196.5 1205.4 Q182.2 1205.4 169.4 1197.5 M198.8 1196 Q184.1 1185.8 164.5 1191.3 M201.7 1179.7 Q190.3 1165.6 168.8 1172 M211.7 1164.8 Q205.9 1151.1 186.6 1155.5 M214.9 1174.8 Q194.6 1170.9 185.8 1148 M221.7 1165.3 Q205 1147.7 182.3 1137.3 M219.4 1154.3 Q213.4 1142.6 198.4 1140.3 M228.7 1145.6 Q216.1 1127.3 198.8 1112.9 M227.8 1149 Q209.8 1137.2 204.3 1114.1 M240.1 1139.8 Q233.7 1124.1 219.6 1113.3 M241.1 1149 Q236.9 1130.1 214.5 1123.8 M249.6 1135.9 Q245.3 1117.4 228.9 1104.7 M259.1 1134 Q248.6 1117.9 249 1097.4 M277.1 1129.8 Q268.9 1113.2 275.4 1093.8 M294.9 1133.9 Q287.4 1113.8 302.5 1093.5 M300.8 1134.2 Q296.4 1111.7 309.8 1090.4 M300.9 1127.1 Q307.1 1106.3 298.9 1084.4 M317 1129.5 Q324.8 1114 321 1095.7 M314.6 1127.7 Q320.9 1112.6 318.2 1095.5 M321.7 1129.5 Q334.3 1112.6 325.7 1089.4 M323.6 1138 Q333.1 1114.6 338.3 1089.7 M334.6 1142.6 Q349.7 1119 356.1 1091 M333.4 1138.7 Q337.7 1120.3 352.1 1106.4 M353.9 1158.2 Q372.5 1140.5 386.3 1118.6 M369.2 1154.7 Q379.1 1137.7 400.5 1132.9 M374.6 1170.7 Q394 1165.2 403.2 1144.1 M379.7 1179.3 Q405.1 1175 419.5 1149.2 M380.1 1177.4 Q397 1165.6 417 1159.5 M385.9 1189.9 Q405.8 1183.8 424.4 1174 M385.8 1194.8 Q401.6 1185.2 421.4 1187.7 M387.9 1202.1 Q405 1198.4 421.8 1193.5 M389.4 1207.7 Q404.6 1202.8 421 1204.3 M390.5 1216 Q413.9 1213.7 437.3 1212 M371.8 1258.3 Q398 1261.7 415.6 1285.6 M279.2 1321.4 Q285.1 1332.8 269 1341 M315.7 1303.5 Q313.8 1328.1 335.9 1346.6 M327.1 1296.2 Q346.4 1321 345.4 1355.3 M342 1309.3 Q349.4 1317.4 350.4 1329 M231 1301.5 Q227.1 1317.8 206.4 1320.4 M376.4 1287.7 Q391.2 1291.7 395.7 1309.6 M284.9 1327.4 Q288.9 1341.4 277.6 1354.2 M220.4 1252.6 Q196.4 1267.9 166 1266.8 M292.4 1317.4 Q295 1341.8 288 1366 M266.1 1292.9 Q259.7 1313.1 248.1 1331.2 M213.3 1261.3 Q188.4 1266.9 169.9 1286.8 M251.8 1163.3 Q245.4 1143.1 223.3 1133.5 M244.2 1287.5 Q224.5 1303.8 217.1 1330.2 M227.7 1271.8 Q214.5 1282.4 199.5 1290.6 M295.5 1325.2 Q293.8 1333.2 297.1 1341.1 M300.4 1300 Q303.6 1330.1 304.1 1360.4 M367.4 1196.1 Q387.2 1188.3 407.1 1180.8 M232.7 1148.3 Q228.7 1137.5 216.3 1133.4 M390.2 1254.6 Q404 1269.2 427 1256.3 M348.2 1144.9 Q357.8 1132.2 365.3 1118 M306.1 1300.7 Q306.7 1323.1 315.6 1344.3 M294.3 1129.9 Q298.8 1108.3 289.7 1086.6 M212.5 1195.7 Q190.7 1183.3 164.4 1183.5 M248 1313.1 Q249.3 1327.1 230.6 1331 M345.1 1144.5 Q353 1123.8 372 1110 M219.4 1189 Q205.5 1174.4 182.2 1179.3 M360.8 1182.9 Q372.9 1167 396.4 1168.8 M250.6 1289.2 Q242.6 1306.7 226.7 1318.9 M231.4 1154 Q216.7 1140.1 205.7 1122.7 M362.7 1149.9 Q380.3 1139.4 385 1116.9 M336.6 1141.9 Q349.9 1131.9 344.2 1111.9" stroke="#1fb0e0"/><path d="M394.3 1228.7 Q414.9 1225.9 435.1 1234.1 M394.2 1246 Q413.7 1246 430.7 1257.9 M390.9 1257.7 Q408 1263.5 425.1 1269.6 M382.1 1270.5 Q394.7 1284.6 416.6 1281.4 M377.4 1279.7 Q392.9 1285.2 401.9 1300.5 M348.4 1304.5 Q364.5 1314.4 361.6 1337.5 M349 1302.8 Q355.7 1320.8 374.1 1330.8 M342.7 1314.3 Q347.9 1334.1 365.5 1347.3 M304.9 1327.6 Q299.5 1340.3 313.4 1351.4 M294.7 1320.9 Q292.7 1338.3 296.8 1355.7 M284.4 1320.3 Q284.2 1344.3 277.2 1367.6 M229.1 1302.2 Q224 1320.4 201 1324 M220.4 1294.7 Q208.4 1314.1 184.3 1321.1 M203.4 1244.8 Q184.8 1251.7 164.5 1250.7 M201.3 1223 Q180 1225.4 158.7 1219.6 M205.3 1207.2 Q177.7 1206 152.4 1192.9 M196.7 1192.1 Q183.9 1185.3 168.9 1185.3 M205.8 1174 Q195.3 1166.4 182.6 1162.5 M248.9 1144.1 Q229.6 1123.5 227.7 1092.9 M258.5 1132 Q246.9 1114.1 247.2 1091.4 M273.4 1129.6 Q275.2 1111.4 260.4 1096.6 M287.4 1128.5 Q286.5 1111.9 284.5 1095.5 M346.4 1145.9 Q361.8 1125.1 373.9 1102 M345.5 1151.5 Q357.8 1129.9 375.9 1112.2 M352.4 1155.1 Q363.6 1133.9 386.4 1122.3 M361.1 1163.4 Q370.7 1145 394.7 1141.8 M378.6 1166.4 Q391.7 1159.3 402.2 1148.3 M221 1295.4 Q221.6 1307.7 203.3 1301 M283.5 1127 Q282.4 1115.8 280.8 1104.7 M391.9 1197.3 Q398.5 1187.2 411.7 1199.3 M231.8 1162.7 Q224 1148.7 206.8 1144 M339.9 1286.5 Q360.3 1305.9 368.5 1334.3 M239.6 1299.7 Q233.1 1316 216.2 1324.8 M230.1 1144.7 Q231.6 1132 212.2 1135.5 M289.2 1305.3 Q291.9 1332.6 281 1359.1 M230.1 1155.3 Q217.4 1140.8 203.4 1127.4 M230.3 1298.8 Q211.2 1307.7 211.2 1333.6 M351.7 1273 Q377.3 1291.6 398.1 1315.7" stroke="#5cc8f0"/></g><path d="M329 1223 L366 1188 C372 1210 372 1238 366 1258 Z" fill="#2f93ee" opacity="0.85"/><g clip-path="url(#coneclip)"><path d="M329 1223 L560 900 L560 1400 Z" fill="url(#conefade)"/></g></g>
<g><rect x="586.5" y="656.5" width="1584" height="837" rx="76" ry="76" fill="#fff" stroke="#000" stroke-width="7"/><g font-family="Liberation Sans, sans-serif" font-weight="bold" font-size="52" fill="#000"><text x="656" y="894.5" textLength="82" lengthAdjust="spacingAndGlyphs">B2T</text><text x="654" y="1269" textLength="118" lengthAdjust="spacingAndGlyphs">BETA</text></g><g font-family="Liberation Sans, sans-serif"><polygon points="850.8,763.7 866.1,746.2 1009.9,748.4 1007.4,766.8" fill="#9ad6ae" /><g opacity="0.8"><path d="M940 753.5 L938 760.5 M938 760.5 L912 762 M912 762 L908 758 M908 758 L923.5 753.3 M928.6 752.7 L940 753.5 M936.2 753.6 L934.8 758.5 M913.9 758.9 L911.1 756.1" stroke="#1b2315" stroke-width="1.0" fill="none" stroke-linecap="round"/><text x="926" y="754.3" font-size="5" text-anchor="middle" fill="#1b2315">S</text><path d="M968 754 L969 749 M969 749 L996 748.5 M996 748.5 L1004 752 M1004 752 L988.5 756.3 M983.4 756.6 L968 754 M971.7 754 L972.4 750.5 M995.8 752.3 L1001.4 754.8 M940 753.5 L968 754 M1004 752 L1032 751.4" stroke="#1b2315" stroke-width="1.0" fill="none" stroke-linecap="round"/><text x="986" y="758.8" font-size="5" text-anchor="middle" fill="#1b2315">S</text></g><polygon points="1224,729.9 1370.8,706.9 1389.9,772.3 1239.3,796.9" fill="#b4e4cc" stroke="#c8dca0" stroke-width="1"/><path d="M1267 763.1 L1272.5 780.6 M1272.5 780.6 L1250.1 792 M1250.1 792 L1232.6 780.6 M1232.6 780.6 L1240.4 768.6 M1248.5 764 L1267 763.1 M1264.4 766.8 L1268.2 779.1 M1249.4 787.3 L1237.2 779.3 M1267 763.1 L1282.3 748.4" stroke="#1b2315" stroke-width="1.3" fill="none" stroke-linecap="round"/><text x="1243.3" y="767.9" font-size="10" text-anchor="middle" fill="#1b2315">S</text><path d="M1282.3 748.4 L1276.2 731.5 M1276.2 731.5 L1299.2 720.7 M1299.2 720.7 L1315.5 730.9 M1315.5 730.9 L1309.2 743.7 M1301.7 748.4 L1282.3 748.4 M1284.8 744.6 L1280.5 732.8 M1299.7 725.3 L1311.1 732.4" stroke="#1b2315" stroke-width="1.3" fill="none" stroke-linecap="round"/><text x="1306.9" y="752" font-size="10" text-anchor="middle" fill="#1b2315">S</text><polygon points="1009.9,709 1216.3,708.4 1246.1,835 1006.8,837.4" fill="#d2e29b" stroke="#c3d68a" stroke-width="1"/><use href="#core" transform="matrix(0.74082 0.04938 -0.04678 0.43851 833.55094 622.94926)"/><polygon points="851.7,869.1 1002.8,857.4 1007.4,917.3 868.3,932.1" fill="#86cc98" stroke="#a8d890" stroke-width="1"/><path d="M948.1 888.1 L950 871.8 M950 871.8 L927.5 866.6 M927.5 866.6 L913.7 882 M913.7 882 L924.7 891.3 M931 892.7 L948.1 888.1 M944.8 885.2 L946.1 873.8 M928.1 871.3 L918.5 882.1 M948.1 888.1 L972.1 898.9" stroke="#1b2315" stroke-width="1.5" fill="none" stroke-linecap="round"/><text x="927.5" y="896.2" font-size="7" text-anchor="middle" fill="#1b2315">S</text><path d="M972.1 898.9 L970.6 914.2 M970.6 914.2 L993.6 918.9 M993.6 918.9 L1005.9 905 M1005.9 905 L995.4 895.2 M989.2 893.7 L972.1 898.9 M975.5 901.5 L974.4 912.3 M992.7 914.4 L1001.4 904.7" stroke="#1b2315" stroke-width="1.5" fill="none" stroke-linecap="round"/><text x="992.7" y="895.2" font-size="7" text-anchor="middle" fill="#1b2315">S</text><polygon points="1220.9,911.2 1360.1,889.1 1377.6,921 1225.5,947.4" fill="#a4dcc0" /><path d="M1259.3 925.9 L1265.4 935.7 M1265.4 935.7 L1240.9 943.4 M1240.9 943.4 L1227.7 937.3 M1227.7 937.3 L1233.8 930.8 M1239.9 927.8 L1259.3 925.9 M1257.2 929.3 L1261.4 936.1 M1240.4 939.2 L1231.2 934.9 M1259.3 925.9 L1274.7 916.4" stroke="#1b2315" stroke-width="1.1" fill="none" stroke-linecap="round"/><text x="1236.3" y="930.6" font-size="7" text-anchor="middle" fill="#1b2315">S</text><path d="M1274.7 916.4 L1270.1 909 M1270.1 909 L1291.6 902 M1291.6 902 L1308.5 906 M1308.5 906 L1301 912.8 M1294.7 915.4 L1274.7 916.4 M1277.1 913.4 L1273.8 908.2 M1293.3 906.1 L1305.1 908.9" stroke="#1b2315" stroke-width="1.1" fill="none" stroke-linecap="round"/><text x="1298.3" y="917.7" font-size="7" text-anchor="middle" fill="#1b2315">S</text><polygon points="1009,855.9 1211.7,855.3 1239.3,1002.7 1005.9,1004.9" fill="#d2e29b" stroke="#c3d68a" stroke-width="1"/><use href="#core" transform="matrix(0.71700 0.05196 -0.04317 0.49926 839.78540 761.04977)"/><polygon points="1008.3,893.5 1015,893.5 1010.5,907" fill="#3a6a20" /><line x1="1009" y1="855.9" x2="1211.7" y2="855.3" stroke="#7fb86a" stroke-width="1.6"/><polygon points="853.3,1103.3 999.6,1101.3 993.5,1185 828.5,1186.7" fill="#9fd9b2" stroke="#cfc8f0" stroke-width="1.2"/><polygon points="1235.6,1117.6 1384.6,1114.9 1432.2,1196.5 1256,1198.6" fill="#9fd9b2" stroke="#cfc8f0" stroke-width="1.2"/><polygon points="854,1309.1 998.6,1306.4 992.8,1412.8 830.2,1415.2" fill="#9fd9b2" stroke="#cfc8f0" stroke-width="1.2"/><polygon points="1230.8,1327.8 1379.5,1325.8 1423.7,1433.2 1251.2,1435.6" fill="#9fd9b2" stroke="#cfc8f0" stroke-width="1.2"/><line x1="865" y1="1189" x2="865" y2="1366" stroke="#e6b4e1" stroke-width="18.7" stroke-dasharray="5.8 6.27"/><line x1="1366.4" y1="1160" x2="1366.4" y2="1326" stroke="#e6b4e1" stroke-width="19.4" stroke-dasharray="5.8 6.27"/><ellipse cx="867.6" cy="1161.8" rx="39" ry="21" transform="rotate(0 867.6 1161.8)" fill="url(#pinkg)"/><path d="M940.7 1151.6 L940.7 1163.5 M940.7 1163.5 L916.9 1168.6 M916.9 1168.6 L904.3 1159.1 M904.3 1159.1 L914 1151.4 M920.5 1149.6 L940.7 1151.6 M937.1 1153.4 L937.1 1161.7 M917.2 1164.3 L908.4 1157.7 M940.7 1151.6 L959.4 1143.1 M904.3 1159.1 L880 1161.5" stroke="#1b2315" stroke-width="1.2" fill="none" stroke-linecap="round"/><text x="916.9" y="1151.7" font-size="7" text-anchor="middle" fill="#1b2315">S</text><path d="M959.4 1143.1 L957.7 1131.2 M957.7 1131.2 L982.6 1125.1 M982.6 1125.1 L996.9 1133.9 M996.9 1133.9 L985.5 1142.6 M979 1144.5 L959.4 1143.1 M962.7 1140.8 L961.5 1132.5 M982.9 1129.5 L992.9 1135.6 M996.9 1133.9 L1025.1 1132.9 M957.7 1131.2 L942 1125.5 M941 1121.9 L947.5 1113.5 M947.5 1113.5 L973 1112.5 M973 1112.5 L982.5 1114.5 M984.7 1118.3 L982.6 1125.1" stroke="#1b2315" stroke-width="1.2" fill="none" stroke-linecap="round"/><text x="982.6" y="1147.3" font-size="7" text-anchor="middle" fill="#1b2315">S</text><circle cx="939" cy="1124.4" r="2.8" fill="none" stroke="#1b2315" stroke-width="1.2"/><circle cx="985.6" cy="1115.2" r="2.8" fill="none" stroke="#1b2315" stroke-width="1.2"/><text x="853" y="1164.5" font-size="8.5" text-anchor="start" font-style="italic" fill="#3a2a24"><tspan dy="0" font-size="8.5">C</tspan><tspan dy="1.9" font-size="6.5">6</tspan><tspan dy="-1.9" font-size="8.5">H</tspan><tspan dy="1.9" font-size="6.5">13</tspan></text><ellipse cx="867.6" cy="1385.6" rx="39" ry="21" transform="rotate(0 867.6 1385.6)" fill="url(#pinkg)"/><path d="M940.4 1372.2 L940.4 1387.8 M940.4 1387.8 L916.6 1394.5 M916.6 1394.5 L904 1382.1 M904 1382.1 L914.1 1371.7 M920.2 1369.6 L940.4 1372.2 M936.8 1374.6 L936.8 1385.5 M917.2 1390.1 L908.4 1381.4 M940.4 1372.2 L959.1 1361.1 M904 1382.1 L879.7 1385.2" stroke="#1b2315" stroke-width="1.2" fill="none" stroke-linecap="round"/><text x="916.6" y="1371.6" font-size="7" text-anchor="middle" fill="#1b2315">S</text><path d="M959.1 1361.1 L957.4 1345.5 M957.4 1345.5 L982.3 1337.5 M982.3 1337.5 L996.6 1349.1 M996.6 1349.1 L984.9 1360.8 M978.7 1363 L959.1 1361.1 M962.4 1358.4 L961.2 1347.5 M982.2 1342.1 L992.2 1350.1 M996.6 1349.1 L1024.8 1347.7 M957.4 1345.5 L941.6 1338 M940.3 1333.9 L947.2 1322.3 M947.2 1322.3 L972.7 1321 M972.7 1321 L982.2 1323.7 M984.6 1327.7 L982.3 1337.5" stroke="#1b2315" stroke-width="1.2" fill="none" stroke-linecap="round"/><text x="982.3" y="1365.8" font-size="7" text-anchor="middle" fill="#1b2315">S</text><circle cx="938.7" cy="1336.6" r="2.8" fill="none" stroke="#1b2315" stroke-width="1.2"/><circle cx="985.3" cy="1324.6" r="2.8" fill="none" stroke="#1b2315" stroke-width="1.2"/><text x="853" y="1388.5" font-size="8.5" text-anchor="start" font-style="italic" fill="#3a2a24"><tspan dy="0" font-size="8.5">C</tspan><tspan dy="1.9" font-size="6.5">6</tspan><tspan dy="-1.9" font-size="8.5">H</tspan><tspan dy="1.9" font-size="6.5">13</tspan></text><ellipse cx="1365.9" cy="1134.6" rx="39" ry="20" transform="rotate(0 1365.9 1134.6)" fill="url(#pinkg)"/><path d="M1282.5 1149.9 L1286.6 1161.8 M1286.6 1161.8 L1265.5 1166.2 M1265.5 1166.2 L1247.9 1158.4 M1247.9 1158.4 L1253.2 1151.3 M1260.7 1147.9 L1282.5 1149.9 M1279.7 1152.9 L1282.6 1161.2 M1264.3 1161.7 L1252 1156.3 M1282.5 1149.9 L1294.4 1141.4 M1247.9 1158.4 L1207.7 1160.1 M1286.6 1161.8 L1306.6 1167.7 M1310.7 1171.6 L1313.1 1178.8 M1313.1 1178.8 L1291 1185.6 M1291 1185.6 L1271.9 1179.2 M1268 1175.1 L1265.5 1166.2" stroke="#1b2315" stroke-width="1.3" fill="none" stroke-linecap="round"/><text x="1256" y="1150.7" font-size="9" text-anchor="middle" fill="#1b2315">S</text><path d="M1294.4 1141.4 L1289.3 1131.2 M1289.3 1131.2 L1309.7 1126.1 M1309.7 1126.1 L1328.4 1132.9 M1328.4 1132.9 L1323 1138.9 M1315.2 1142.2 L1294.4 1141.4 M1296.9 1138.3 L1293.3 1131.1 M1311.3 1130.5 L1324.4 1135.3 M1328.4 1132.9 L1348.9 1132.9" stroke="#1b2315" stroke-width="1.3" fill="none" stroke-linecap="round"/><text x="1319.9" y="1145.6" font-size="9" text-anchor="middle" fill="#1b2315">S</text><circle cx="1309.7" cy="1168.6" r="2.8" fill="none" stroke="#1b2315" stroke-width="1.2"/><circle cx="1268.9" cy="1178.2" r="2.8" fill="none" stroke="#1b2315" stroke-width="1.2"/><text x="1350" y="1137.5" font-size="10.5" text-anchor="start" fill="#3a2a24"><tspan dy="0" font-size="10.5">C</tspan><tspan dy="2.3" font-size="8">6</tspan><tspan dy="-2.3" font-size="10.5">H</tspan><tspan dy="2.3" font-size="8">13</tspan></text><ellipse cx="1357.4" cy="1347.9" rx="38.6" ry="20" transform="rotate(0 1357.4 1347.9)" fill="url(#pinkg)"/><path d="M1276.7 1372.4 L1280.8 1388 M1280.8 1388 L1259.7 1393.8 M1259.7 1393.8 L1242.1 1383.6 M1242.1 1383.6 L1247.9 1373.4 M1254.8 1369.9 L1276.7 1372.4 M1273.8 1375.7 L1276.7 1386.6 M1258.9 1389.2 L1246.5 1382 M1276.7 1372.4 L1288.6 1361.3 M1242.1 1383.6 L1201.9 1385.8 M1280.8 1388 L1300.9 1395.8 M1304.7 1400 L1307.3 1410.3 M1307.3 1410.3 L1285.2 1419.2 M1285.2 1419.2 L1266 1410.8 M1262.4 1406.4 L1259.7 1393.8" stroke="#1b2315" stroke-width="1.3" fill="none" stroke-linecap="round"/><text x="1250.2" y="1372.5" font-size="9" text-anchor="middle" fill="#1b2315">S</text><path d="M1288.6 1361.3 L1283.5 1347.9 M1283.5 1347.9 L1303.9 1341.3 M1303.9 1341.3 L1322.6 1350.2 M1322.6 1350.2 L1316.7 1358.8 M1309.4 1362.4 L1288.6 1361.3 M1291.2 1358 L1287.6 1348.7 M1305.2 1345.9 L1318.2 1352.1 M1322.6 1350.2 L1343.1 1350.2" stroke="#1b2315" stroke-width="1.3" fill="none" stroke-linecap="round"/><text x="1314.1" y="1365.9" font-size="9" text-anchor="middle" fill="#1b2315">S</text><circle cx="1303.9" cy="1396.9" r="2.8" fill="none" stroke="#1b2315" stroke-width="1.2"/><circle cx="1263.1" cy="1409.5" r="2.8" fill="none" stroke="#1b2315" stroke-width="1.2"/><text x="1342.5" y="1352.5" font-size="10.5" text-anchor="start" fill="#3a2a24"><tspan dy="0" font-size="10.5">C</tspan><tspan dy="2.3" font-size="8">6</tspan><tspan dy="-2.3" font-size="10.5">H</tspan><tspan dy="2.3" font-size="8">13</tspan></text><polygon points="1000.3,1088.7 1225.4,1083.6 1261.5,1210.5 991.7,1216.2" fill="#c8dd8e" stroke="#cfc8f0" stroke-width="1.2"/><use href="#core" transform="matrix(0.81305 0.02917 -0.05133 0.43041 807.80067 1012.20592)"/><polygon points="999.6,1290 1221.3,1285.3 1256,1450.2 990.1,1456" fill="#c8dd8e" stroke="#cfc8f0" stroke-width="1.2"/><use href="#core" transform="matrix(0.80129 0.03856 -0.05524 0.55950 810.02397 1190.76195)"/></g><g fill="none" stroke="#231815" stroke-linecap="round"><ellipse cx="1739.6" cy="889" rx="24" ry="92" fill="url(#glowy)" stroke="none"/><ellipse cx="1737.4" cy="1301.6" rx="24" ry="121" fill="url(#glowy)" stroke="none"/><path d="M1612.6 714.1 Q1717.5 781 1824.3 726" stroke-width="3"/><path d="M1845.4 751.1 Q1888 790 1937.2 756.9" stroke-width="3"/><path d="M1799.1 695.1 C1830 698 1855 725 1880 748" stroke-width="1.6" marker-end="url(#ah2)"/><path d="M1597.1 1001.6 Q1779.3 1102 1962.3 1015.8" stroke-width="3"/><path d="M1628.5 998 L1628.5 760" stroke-width="2" marker-end="url(#ah)"/><path d="M1702.1 770 L1702.1 1015" stroke-width="2" marker-end="url(#ah)"/><path d="M1780.2 771.4 L1780.2 1014" stroke-width="2" marker-end="url(#ah)"/><path d="M1832 703 L1857 738 M1826 731 L1863 709" stroke="#c4122f" stroke-width="4.5" stroke-linecap="butt"/><path d="M1622.7 1128.2 Q1728.6 1184 1840.2 1136.2" stroke-width="3"/><path d="M1882.9 1162.6 Q1924.8 1202 1973.3 1167.9" stroke-width="3"/><path d="M1823.4 1122 C1850 1117 1880 1140 1903 1154" stroke-width="1.6" marker-end="url(#ah2)"/><path d="M1598.5 1414 Q1810.2 1508 2012.2 1422.8" stroke-width="3"/><path d="M1624.9 1397.7 L1624.9 1176" stroke-width="2" marker-end="url(#ah)"/><path d="M1694.2 1187 L1694.2 1420.5" stroke-width="2" marker-end="url(#ah)"/><path d="M1774.9 1178 L1774.9 1420" stroke-width="2" marker-end="url(#ah)"/><path d="M1935 1213.3 L1935 1425" stroke-width="2" marker-end="url(#ah)"/></g><use href="#flame" transform="translate(1836.5 914) scale(0.44 0.445)"/><use href="#flame" transform="translate(1834 1251) scale(0.73 1.02)"/><g font-family="Liberation Sans, sans-serif" font-weight="bold" fill="#231815"><text x="1564" y="705.5" font-size="23">S<tspan font-size="12" dy="5">n</tspan></text><text x="1559.5" y="990" font-size="23">S<tspan font-size="12" dy="5">0</tspan></text><text x="1588" y="1115.5" font-size="23">S<tspan font-size="12" dy="5">n</tspan></text><text x="1564" y="1398" font-size="23">S<tspan font-size="12" dy="5">0</tspan></text><text x="1902" y="739.2" font-size="22.5" textLength="144" lengthAdjust="spacingAndGlyphs">Intermediate</text><text x="1949" y="768" font-size="22.5" textLength="56" lengthAdjust="spacingAndGlyphs">state</text><text x="1929" y="1148" font-size="22.5" textLength="144" lengthAdjust="spacingAndGlyphs">Intermediate</text><text x="1977" y="1177.2" font-size="22.5" textLength="56" lengthAdjust="spacingAndGlyphs">state</text><text x="1638" y="880.4" font-size="24.5" textLength="51" lengthAdjust="spacingAndGlyphs">Abs.</text><text x="1716" y="880.4" font-size="24.5" textLength="57" lengthAdjust="spacingAndGlyphs">Fluo.</text><text x="1796" y="880.4" font-size="24.5" textLength="34" lengthAdjust="spacingAndGlyphs">NR</text><text x="1634.5" y="1289.2" font-size="24.5" textLength="51" lengthAdjust="spacingAndGlyphs">Abs.</text><text x="1712" y="1289.2" font-size="24.5" textLength="57" lengthAdjust="spacingAndGlyphs">Fluo.</text><text x="1791" y="1289.2" font-size="24.5" textLength="34" lengthAdjust="spacingAndGlyphs">NR</text><text x="1852" y="1118.5" font-size="31" fill="#be1030" textLength="95" lengthAdjust="spacingAndGlyphs">90.3%</text><text x="1949" y="1299.4" font-size="32" fill="#be1030" textLength="76" lengthAdjust="spacingAndGlyphs">79 fs</text></g></g>
<g><g clip-path="url(#botclip)"><path d="M331.2 1828.6 C324.6 1828.4 303.2 1824.9 291.7 1827.4 C280.2 1829.8 268.9 1835.8 262.1 1843.4 C255.3 1851 251 1862.4 251 1873 C251 1883.7 255.3 1898.1 262.1 1907.6 C268.9 1917.1 280.6 1925.3 291.7 1929.8 C302.8 1934.4 314.3 1935.6 328.7 1934.8 C343.1 1933.9 360.6 1929.2 378.1 1924.9 C395.6 1920.6 424.4 1911.5 433.7 1908.8" fill="none" stroke="#d7aca6" stroke-width="9" stroke-linecap="round"/><path d="M331.2 1828.6 C324.6 1828.4 303.2 1824.9 291.7 1827.4 C280.2 1829.8 268.9 1835.8 262.1 1843.4 C255.3 1851 251 1862.4 251 1873 C251 1883.7 255.3 1898.1 262.1 1907.6 C268.9 1917.1 280.6 1925.3 291.7 1929.8 C302.8 1934.4 314.3 1935.6 328.7 1934.8 C343.1 1933.9 360.6 1929.2 378.1 1924.9 C395.6 1920.6 424.4 1911.5 433.7 1908.8" fill="none" stroke="#e3bdb7" stroke-width="5" stroke-linecap="round"/><path d="M348.5 1786.7 C346.8 1781.4 346.3 1773.8 342.3 1766.9 C338.4 1760 338.3 1764 333.7 1760.7 C329.1 1757.4 327.3 1756.2 325 1754.6" fill="none" stroke="#dcb3ad" stroke-width="8" stroke-linecap="round" stroke-linejoin="round"/><path d="M333.7 1760.7 C332.4 1762.4 330.1 1765.3 328.7 1766.9" fill="none" stroke="#dcb3ad" stroke-width="6" stroke-linecap="round" stroke-linejoin="round"/><path d="M348.5 1868.1 C346.5 1872.1 344.7 1874.7 341.1 1882.9 C337.5 1891.2 339.2 1892.1 334.9 1899 C330.6 1905.9 327.7 1906.2 325 1908.8" fill="none" stroke="#dcb3ad" stroke-width="8" stroke-linecap="round" stroke-linejoin="round"/><path d="M334.9 1899 C333.3 1899 330.4 1899 328.7 1899" fill="none" stroke="#dcb3ad" stroke-width="6" stroke-linecap="round" stroke-linejoin="round"/><path d="M560.8 1790.4 C564.7 1787.1 568 1784.6 575.6 1778 C583.2 1771.4 585.6 1769 589.2 1765.7" fill="none" stroke="#e1dbd5" stroke-width="10" stroke-linecap="round" stroke-linejoin="round"/><path d="M568.2 1873 C570.8 1875.4 572.1 1876.4 578.1 1881.7 C584 1887 587.1 1889.8 590.4 1892.8" fill="none" stroke="#e1dbd5" stroke-width="10" stroke-linecap="round" stroke-linejoin="round"/><ellipse cx="598.3" cy="1757.5" rx="9" ry="5.5" fill="#e0b1aa" transform="rotate(-30 598.3 1757.5)"/><line x1="598.3" y1="1757.5" x2="605.1" y2="1749.9" stroke="#e0b1aa" stroke-width="2" stroke-linecap="round"/><line x1="598.3" y1="1757.5" x2="608.1" y2="1753" stroke="#e0b1aa" stroke-width="2" stroke-linecap="round"/><line x1="598.3" y1="1757.5" x2="609.3" y2="1757.2" stroke="#e0b1aa" stroke-width="2" stroke-linecap="round"/><ellipse cx="599.5" cy="1898.2" rx="9" ry="5.5" fill="#e0b1aa" transform="rotate(30 599.5 1898.2)"/><line x1="599.5" y1="1898.2" x2="610.5" y2="1898.5" stroke="#e0b1aa" stroke-width="2" stroke-linecap="round"/><line x1="599.5" y1="1898.2" x2="609.3" y2="1902.7" stroke="#e0b1aa" stroke-width="2" stroke-linecap="round"/><line x1="599.5" y1="1898.2" x2="606.3" y2="1905.9" stroke="#e0b1aa" stroke-width="2" stroke-linecap="round"/><path d="M587.9 1790.4 C587.4 1787.6 592.1 1787.8 597.8 1789.9 C603.6 1791.9 612 1796.3 612.6 1799 C613.2 1801.7 606 1803.5 600.3 1801.5 C594.5 1799.4 588.5 1793.1 587.9 1790.4Z" fill="#d6a9a6"/><path d="M585.5 1867.6 C583.7 1866.2 587.4 1860.9 592.9 1858.2 C598.3 1855.6 607.2 1854.8 608.9 1856.3 C610.6 1857.7 605.8 1861.8 600.3 1864.4 C594.8 1867.1 587.2 1869.1 585.5 1867.6Z" fill="#d6a9a6"/><path d="M330 1824.9 C331.6 1820.3 331.2 1821.2 336.1 1816.3 C341.1 1811.3 344.4 1812.3 348.5 1806.4 C352.6 1800.5 350.9 1800.6 351.5 1794.1 C352 1787.5 348 1788.3 350.5 1781.7 C353 1775.1 353.5 1774.1 360.8 1769.4 C368.2 1764.6 365.6 1765.3 378.1 1763.9 C390.6 1762.6 390.6 1760.7 407.7 1764.4 C424.8 1768.2 423.9 1773.4 442.3 1778 C460.7 1782.6 457.1 1779.5 476.9 1781.7 C496.6 1783.9 494.6 1784.2 516.3 1786.2 C538.1 1788.1 539.2 1787.3 558.3 1789.1 C577.4 1790.9 575.4 1791.5 587.9 1792.8 C600.4 1794.1 596.7 1790.8 605.2 1794.1 C613.8 1797.3 611.5 1798.6 620 1805.2 C628.6 1811.7 628.4 1812.5 637.3 1818.7 C646.2 1825 653.4 1822.7 653.4 1828.6 C653.4 1834.5 647.5 1834.4 637.3 1841 C627.1 1847.5 625 1848 615.1 1853.3 C605.2 1858.6 608.2 1856.8 600.3 1860.7 C592.4 1864.7 593.4 1865.8 585.5 1868.1 C577.6 1870.4 580.5 1865.1 570.7 1869.3 C560.8 1873.6 560.3 1883.2 548.4 1884.2 C536.6 1885.1 538.7 1876.7 526.2 1873 C513.7 1869.4 518 1869.3 501.5 1870.6 C485.1 1871.9 484.3 1872.1 464.5 1878 C444.8 1883.9 447.2 1887.9 427.5 1892.8 C407.7 1897.7 406.3 1897.2 390.5 1896.5 C374.7 1895.8 378.4 1894.6 368.2 1890.3 C358 1886 357.6 1886.4 352.2 1880.5 C346.8 1874.5 349 1874 348 1868.1 C347 1862.2 351.6 1864.8 348.5 1858.2 C345.3 1851.7 341.1 1850 336.1 1843.4 C331.2 1836.8 331.6 1838.5 330 1833.6 C328.3 1828.6 328.3 1829.5 330 1824.9Z" fill="#d3c9bd"/><path d="M353.4 1823.7 C354.7 1809.2 361.7 1806.9 368.2 1794.1 C374.8 1781.2 367.6 1781.8 378.1 1775.5 C388.6 1769.3 392.6 1769.3 407.7 1770.6 C422.9 1771.9 424.4 1774.2 434.9 1780.5 C445.4 1786.7 436 1791.4 447.2 1794.1 C458.4 1796.7 459.1 1790.4 476.9 1790.4 C494.6 1790.4 494.8 1791.1 513.9 1794.1 C533 1797 530.7 1796.9 548.4 1801.5 C566.2 1806.1 566.7 1810.7 580.5 1811.3 C594.4 1812 589.1 1802 600.3 1803.9 C611.5 1805.9 610 1812.2 622.5 1818.7 C635 1825.3 647.2 1822 647.2 1828.6 C647.2 1835.2 636.3 1837.5 622.5 1843.4 C608.7 1849.4 607.8 1849.5 595.3 1850.8 C582.8 1852.1 588.1 1846.4 575.6 1848.4 C563.1 1850.3 564.9 1854.3 548.4 1858.2 C532 1862.2 533 1862.5 513.9 1863.2 C494.8 1863.8 496.6 1860 476.9 1860.7 C457.1 1861.4 454.3 1861 439.8 1865.6 C425.3 1870.3 436.4 1873.7 422.5 1878 C408.7 1882.3 401.8 1883.7 388 1881.7 C374.2 1879.7 377.3 1879.5 370.7 1870.6 C364.1 1861.7 367.9 1860.9 363.3 1848.4 C358.7 1835.9 352.1 1838.2 353.4 1823.7Z" fill="#e8e4e1"/><circle cx="652.6" cy="1828.6" r="2.2" fill="#e7a6a6"/><path d="M625 1818.7 C626.7 1817.3 629.7 1820.1 634.8 1822.4 C640 1824.7 647.2 1825.4 647.2 1828.6 C647.2 1831.8 640 1833.7 634.8 1836 C629.7 1838.3 626.7 1840.2 625 1838.5 C623.2 1836.8 627.4 1833.2 627.4 1828.6 C627.4 1824 623.2 1820.2 625 1818.7Z" fill="#f1efed"/><g clip-path="url(#cone1clip)"><path d="M537 1789 C500 1850 380 1925 204 1962 L120 1990 L200 2300 L672 2263 C660 2235 645 2195 625 2148 C585 2050 548 1900 537 1789 Z" fill="#f9b7b7" opacity="0.06"/><path d="M537 1789 C500 1850 380 1925 204 1962" fill="none" stroke="#ee5a62" stroke-width="26" filter="url(#b14)" opacity="0.62"/><path d="M537 1789 C548 1900 585 2050 625 2148 C645 2195 660 2235 672 2263" fill="none" stroke="#ee5a62" stroke-width="26" filter="url(#b14)" opacity="0.62"/><path d="M537 1789 C500 1850 380 1925 204 1962" fill="none" stroke="#ef7a80" stroke-width="2.2" opacity="0.8"/><path d="M537 1789 C548 1900 585 2050 625 2148 C645 2195 660 2235 672 2263" fill="none" stroke="#ef7a80" stroke-width="2.2" opacity="0.8"/></g><g transform="translate(178.7 1633.8) rotate(-35.5)"><rect x="-14" y="-2" width="28" height="3.4" fill="#e4e4e4"/><rect x="-3.5" y="0" width="7" height="36" fill="#e9e9e9"/><rect x="-20" y="34" width="40" height="4" fill="#e2e2e2"/><rect x="-9.5" y="37" width="19" height="108" fill="#d2d2d2" opacity="0.9"/><rect x="-7.5" y="37" width="5" height="108" fill="#f1f1f1" opacity="0.8"/><rect x="-5" y="36" width="10" height="42" fill="#c4c4c4"/><rect x="-9.5" y="112" width="19" height="33" fill="#729d6e"/><circle cx="-3.4" cy="130.1" r="2.1" fill="#5a86e6"/><circle cx="-1.7" cy="131.7" r="2.1" fill="#5a86e6"/><circle cx="1.6" cy="117.7" r="2.1" fill="#5a86e6"/><circle cx="-6.3" cy="137.8" r="2.1" fill="#5a86e6"/><circle cx="-3.1" cy="122.1" r="2.1" fill="#5a86e6"/><circle cx="6.4" cy="128.2" r="2.1" fill="#5a86e6"/><circle cx="4.4" cy="128.4" r="2.1" fill="#5a86e6"/><rect x="-2.5" y="145" width="5" height="8" fill="#d0d0e8"/><path d="M-3 153 L3 153 L1.2 172 L-1.2 172 Z" fill="#b9b2e6"/><rect x="-0.5" y="172" width="1" height="62" fill="#9a9a9a"/></g><path d="M250.6 1722.5 L282.4 1637.2 M254 1729.2 L324.2 1687.4" stroke="#000" stroke-width="1.8" stroke-dasharray="6 3.5" fill="none"/><circle cx="325.9" cy="1643.2" r="45" fill="#fff" stroke="#000" stroke-width="2.8" stroke-dasharray="10.2 5.5"/><g fill="none" stroke-linecap="round" stroke-width="1.3"><path d="M346.7 1642.4 Q351.4 1640.3 356.3 1644.4 M344.8 1651.1 Q348.5 1654.7 354.5 1653.7 M344.1 1652.3 Q346.6 1656.2 352.4 1654.3 M342.7 1654.6 Q346.8 1657.5 350.9 1660.5 M339.6 1658 Q341.5 1661.8 345.7 1663.6 M336 1660.6 Q339.6 1663.1 338.2 1668.5 M335.6 1660.8 Q339.1 1664.5 339.1 1670.3 M332.6 1662.1 Q332.4 1667.7 337.8 1671.5 M330.5 1662.7 Q331.6 1666.5 332 1670.5 M329.1 1662.9 Q328 1668.1 332.5 1672.6 M324.9 1663.1 Q326.4 1667.6 322.8 1672 M322.3 1662.9 Q322.9 1667.2 319.7 1670.8 M320.2 1662.4 Q317.7 1666.7 318.8 1672.2 M312.4 1658.2 Q310.2 1663.8 303.5 1665.6 M309.7 1655.4 Q305.7 1659.2 300.9 1661.8 M307.3 1651.6 Q304.5 1655.3 298.9 1653.6 M306.1 1648.7 Q302.2 1648.4 299.5 1652.4 M305.5 1646.5 Q300.6 1650 294.1 1646.3 M305.1 1642.2 Q299.5 1639.7 293.6 1644.5 M305.3 1640 Q299.8 1637.1 293.4 1640.8 M346.6 1640.3 Q350.5 1640.1 354.3 1639.3" stroke="#0b4f96"/><path d="M341 1642.5 Q344.4 1641 347.9 1644 M339.9 1648 Q342.6 1650.5 346.8 1649.5 M338.8 1650.1 Q340.9 1653.3 345.7 1652.3 M338.3 1651 Q341.2 1653 344.1 1655 M336.2 1653.4 Q338.1 1656.5 341.6 1658 M334 1655.1 Q337 1657.3 336.5 1661.8 M332.6 1655.9 Q335.1 1658.6 334.8 1662.6 M330.8 1656.7 Q330.6 1660.4 334.3 1662.8 M328.4 1657.3 Q329.2 1660.7 329.4 1664.2 M328.2 1657.3 Q327.3 1660.9 330.5 1664 M323.9 1657.3 Q324.6 1660.9 321.7 1664.1 M323.7 1657.3 Q324.1 1660.9 321.7 1664.1 M321.7 1656.9 Q319.8 1660 320.6 1663.9 M316.5 1654.2 Q315.4 1657.7 311.1 1658.8 M313.6 1651.2 Q311 1653.5 307.7 1655 M312.2 1648.8 Q309.7 1651.6 305.3 1650.4 M311.8 1647.6 Q308.1 1647.8 305.6 1651.1 M311.2 1645.5 Q308.1 1647.9 304 1645.3 M310.8 1641.9 Q307.5 1640 303.8 1643.3 M311 1640.4 Q307.7 1638.4 303.8 1640.9 M340.8 1640 Q344.3 1639.6 347.7 1638.7" stroke="#c48f12"/></g><circle cx="325.9" cy="1642.4" r="14.1" fill="#5fd8c4"/><path d="M323.3 1645.8 L318.7 1648.7 L316.1 1645.5 L320.3 1642.6Z M316.1 1641.1 L313 1640.5 L313.4 1637.1 L316.4 1637.6Z M328.6 1637.5 L325.7 1634.5 L327.9 1632.7 L331.2 1634.7Z M323.1 1640.7 L320.2 1640.1 L321.2 1637.9 L323.6 1638.5Z M335.2 1644.2 L336.2 1640.6 L340.5 1641.1 L338.7 1645.1Z M322.7 1651.1 L321.7 1648.5 L325.3 1648.1 L325.6 1650.6Z M320.2 1631.9 L319 1629.2 L323.7 1628.5 L324.9 1631.3Z M328.8 1634.2 L329.1 1632.3 L331.7 1632 L331.4 1634.8Z" fill="#2fa890"/><path d="M331.8 1644.3 L328.7 1644.4 L328.3 1642.6 L331.1 1641.8Z M319.9 1654.3 L321.1 1651.4 L324.5 1652.8 L322.3 1655.1Z M330.8 1647.6 L329.9 1644.8 L333.8 1643.7 L334 1647.4Z M317.7 1651.3 L316.1 1649.2 L318.2 1648.2 L320.2 1650.2Z M328.8 1646.1 L328.3 1644.2 L331 1644.1 L331.7 1645.6Z M323.8 1647.3 L319.5 1644.6 L322 1641.9 L326.4 1643.8Z" fill="#86eadb"/><g fill="none" stroke-linecap="round" stroke-width="1.3"><path d="M347.4 1640.8 C338.4 1640.8 338.4 1643.3 347.5 1642.8 M346.5 1644.7 C338.8 1642.9 338.2 1646.2 346.1 1647.1 M346.6 1651.2 C338.9 1647.1 337.6 1649.7 345.7 1653.2 M343 1654.2 C336.8 1648.9 334.8 1651.4 341.5 1656.1 M342.5 1658.5 C334.6 1649.6 332.1 1651.9 340.1 1660.7 M336.6 1660.1 C333.4 1653.3 331 1654.6 334.9 1661 M332.7 1661.6 C331.4 1655.1 327.9 1656.1 330.3 1662.3 M330 1665.2 C329.1 1655.4 325.8 1655.8 327.4 1665.5 M324.4 1664.2 C325.7 1656.3 322.9 1656 322.4 1664 M319.9 1663.3 C323.8 1653.3 320.5 1652.1 317 1662.2 M316.1 1660 C320.2 1654.3 317.8 1652.8 314.4 1659 M313.5 1659 C319.9 1651.7 317.7 1649.8 311.5 1657.4 M308.7 1656.3 C316.1 1651.6 314 1648.7 307.1 1654.1 M308 1652.5 C314.7 1650.2 312.8 1646.1 306.7 1649.8 M306 1648.2 C316.4 1646 315.8 1643.1 305.4 1645.5 M305.7 1643.9 C315.5 1643.7 315.5 1641.6 305.7 1642 M303.1 1637.9 C315.7 1641 316.2 1638.9 303.6 1635.7 M305.7 1634.7 C315.5 1639.4 316.9 1636.4 307 1631.9 M307.9 1630.8 C314.8 1636.5 317.1 1633.4 309.7 1628.3 M309.9 1625.8 C315.8 1633.2 318.4 1631 311.9 1624.1 M313 1624.3 C317.9 1632.6 320.5 1631 315.1 1623 M318.4 1621 C320.7 1630.6 324.2 1629.6 321.2 1620.2 M322.2 1619.6 C323.5 1631.6 325.8 1631.3 324.4 1619.3 M326.9 1619.2 C325.5 1632.2 328.5 1632.5 330.1 1619.6 M331.2 1622 C327.9 1631.1 331 1632.1 333.7 1622.8 M335.5 1621.4 C329.9 1631.5 332.9 1633.1 338.2 1622.9 M341.2 1624.9 C333.3 1632.8 335.3 1634.7 342.9 1626.6 M341.6 1629.2 C334.8 1634.1 336.3 1636 342.8 1630.7 M344.7 1633.3 C337 1635.7 338.6 1639.6 345.8 1636.1 M345.9 1636.9 C338.2 1638 339 1641.6 346.4 1639.5" stroke="#f5c518"/><path d="M347.5 1642.5 Q352.7 1643.7 357.9 1641.4 M346.5 1644.7 Q351.1 1645.8 355.9 1645.2 M346 1647.3 Q351.6 1647.7 356.4 1650.9 M346.5 1651.6 Q349.5 1653.2 352.8 1654.3 M342.9 1654.4 Q348.2 1656.6 351.5 1661.9 M342.5 1658.5 Q345.6 1662.3 349.9 1664.8 M340.5 1660.4 Q343.9 1662.9 344.8 1667.4 M336.9 1659.9 Q340.3 1663.5 341.1 1668.7 M332.5 1661.7 Q334.1 1666.1 335.5 1670.7 M327.4 1665.5 Q326.5 1669.7 329 1673.7 M324.4 1664.2 Q325.3 1668.7 322.7 1672.9 M322.5 1664 Q320.1 1668.7 322.6 1674.3 M316.9 1662.1 Q314.3 1666.1 313.6 1670.9 M316.2 1660.1 Q313.1 1663.8 312.5 1668.9 M314.2 1658.9 Q311.6 1663.3 307.9 1667 M313.5 1659.1 Q310.2 1663.2 307.4 1667.7 M311.5 1657.3 Q306.9 1660.2 305.1 1665.8 M308.5 1656.1 Q303.6 1658.5 300.7 1663.5 M306.9 1653.8 Q301.9 1655.9 297.9 1660 M308.2 1652.8 Q304.6 1655.9 299.7 1656.9 M306.8 1650 Q301.1 1652 295.7 1654.9 M305.3 1645.4 Q300.3 1647.1 294.9 1645.9 M305.7 1644.1 Q300.2 1644.7 294.6 1645 M303.1 1637.9 Q299.1 1638.2 295.7 1635.5 M303.5 1636.1 Q299.7 1634.8 295.8 1634.3 M305.6 1635 Q300.7 1632.8 295.5 1631.6 M309.9 1628.1 Q305.7 1626.5 304.5 1621.4 M309.9 1625.8 Q306 1623.3 304.4 1618.6 M311.9 1624.1 Q310.5 1619.4 305.1 1617.8 M312.9 1624.4 Q309.3 1622.3 309.7 1617.3 M315 1623 Q312.4 1618.9 310.5 1614.4 M318.6 1621 Q318.7 1615.3 313.3 1611.5 M320.9 1620.3 Q320.5 1616.6 318.9 1613.2 M326.9 1619.2 Q327.2 1616 327.1 1612.9 M331.4 1622.1 Q332.5 1616.8 334.4 1611.7 M333.3 1622.7 Q336.6 1619.1 334.9 1613.6 M338.2 1622.9 Q338.5 1619.5 342.6 1618.5 M342.9 1626.6 Q347 1624.8 348 1619.8 M341.5 1629.1 Q345 1625.2 349.8 1622.8 M342.8 1630.7 Q347.5 1627.9 351.7 1624.2 M344.7 1633.4 Q347.9 1630.3 352.9 1631 M345.8 1636.2 Q350.7 1635.5 354.7 1632.5 M346.4 1639.5 Q350.7 1640.5 354.4 1636.8 M313.4 1630.2 Q310.3 1624.9 303.7 1623.1 M316.8 1624.1 Q314.7 1619.8 312.4 1615.7 M309.5 1650.9 Q304.2 1654.3 298 1656 M344.8 1641.1 Q349.9 1639.1 355.3 1642.1 M343.7 1652.6 Q347 1655.5 351.5 1656.2 M328.7 1625.4 Q331 1620.7 328.7 1615.1 M318.7 1662.8 Q315.8 1666.3 317.3 1671.5 M312.4 1659.2 Q310.9 1662.4 307.5 1664 M332 1624.6 Q331.9 1619.8 336.7 1616.5 M340.4 1631.1 Q344.7 1628.5 347.9 1624.6 M310.6 1654.2 Q308.1 1657.5 303.6 1658.1 M304.3 1636.8 Q300.5 1637 297.6 1633.9 M339.6 1629.7 Q342.2 1627 345.3 1624.6 M304.8 1636 Q302.3 1636.3 300.7 1633.8 M339.9 1632.1 Q344.3 1627.6 350.6 1625.5 M305.6 1643.2 Q300.6 1645.2 295.4 1641.8 M337.3 1622.8 Q339.5 1618.7 342 1614.9 M320.4 1621 Q321.1 1617.5 317.4 1615 M324.6 1619 Q325.8 1616.5 323.2 1614.1" stroke="#1fb0e0"/><path d="M347.5 1641.2 Q352.5 1640.3 357.6 1641.2 M345.5 1653.4 Q349.2 1655.2 352.4 1657.6 M341.2 1656.4 Q345.5 1658.4 346.9 1663.6 M334.8 1661.1 Q337.8 1665.5 338.6 1670.9 M330.3 1662.3 Q331.6 1667.9 332.6 1673.5 M329.9 1665.2 Q331.8 1668.2 329.9 1671.9 M319.6 1663.2 Q318.3 1666.8 317.6 1670.6 M306 1648.5 Q301.2 1651.6 294.9 1650.3 M305.7 1641.6 Q301 1640.3 296.2 1642.2 M307.1 1631.7 Q303.9 1627.8 297.9 1628.6 M308 1630.5 Q303.8 1627.7 299.6 1624.9 M322.2 1619.6 Q321.5 1615.5 320.9 1611.4 M324 1619.3 Q323 1614.2 323.7 1609 M330 1619.5 Q332.4 1615.7 329.8 1611 M335.9 1621.6 Q339.5 1618.2 338.3 1612.5 M341.4 1625.1 Q344.5 1621.9 347.3 1618.4 M346 1637.3 Q350 1634.4 355.3 1636.6 M330.6 1660.9 Q330.2 1666.9 335.2 1671.6 M342.1 1657.6 Q344 1661.1 348.5 1661.9 M308.6 1650.8 Q304.6 1651 302.6 1655.5 M305.1 1632.7 Q301.2 1630.6 297 1629.2 M304.7 1632.8 Q302.5 1629.7 297.8 1631.7 M315 1627.6 Q312.2 1624 309.7 1620.2 M327.7 1623.1 Q327.4 1618.7 329.2 1614.4 M307 1654.3 Q304.5 1657.5 299.7 1657.4" stroke="#5cc8f0"/></g><g transform="translate(597.6 1695.7) rotate(33)"><path d="M-17 -4 L17 -4 L19.5 104 L-19.5 104 Z" fill="url(#beam2)"/></g><g transform="translate(625 1660.6) rotate(38)"><path d="M-17.5 2 L-17.5 44 A17.5 6 0 0 0 17.5 44 L17.5 2 A17.5 9 0 0 0 -17.5 2 Z" fill="url(#metal2)"/><ellipse cx="0" cy="2" rx="17.5" ry="9.5" fill="#3b3b3b"/><path d="M-10 7 A14 6 0 0 0 12 6" fill="none" stroke="#d0d0d0" stroke-width="1.6" opacity="0.8" stroke-linecap="round"/></g><circle cx="537" cy="1789" r="22" fill="#ff5a4a" opacity="0.45" filter="url(#b4)"/><circle cx="537" cy="1789" r="18.5" fill="#c7655a"/><circle cx="549.8" cy="1785.3" r="2.6" fill="#f0d5c0"/><circle cx="535.5" cy="1790.8" r="4.5" fill="#e3a090"/><circle cx="537" cy="1792" r="2.6" fill="#f2dccb"/><circle cx="540.3" cy="1794.1" r="3.5" fill="#f2dccb"/><circle cx="541.5" cy="1783.5" r="3.4" fill="#f4e0cf"/><circle cx="524.4" cy="1788.9" r="4.7" fill="#e3a090"/><circle cx="532.7" cy="1790" r="3.5" fill="#b04a44"/><circle cx="538.3" cy="1791.1" r="3.1" fill="#e8b8a0"/><circle cx="536.1" cy="1790.7" r="3.8" fill="#b04a44"/><circle cx="535.8" cy="1786.7" r="4.7" fill="#f4e0cf"/><circle cx="535.7" cy="1776.4" r="4.4" fill="#b04a44"/><circle cx="528.7" cy="1799.9" r="4.9" fill="#e8b8a0"/><circle cx="542.4" cy="1787.4" r="4.3" fill="#f2dccb"/><circle cx="530.3" cy="1787.7" r="4.8" fill="#b04a44"/><circle cx="525.9" cy="1787.9" r="4.2" fill="#f4e0cf"/><circle cx="542.2" cy="1785.2" r="3.9" fill="#b04a44"/><circle cx="535.9" cy="1782.3" r="3.1" fill="#e3a090"/><circle cx="541.6" cy="1778.2" r="4.7" fill="#b04a44"/><circle cx="535.6" cy="1801.7" r="3.3" fill="#f2dccb"/><circle cx="540.8" cy="1782.1" r="3.8" fill="#b04a44"/><circle cx="533.3" cy="1786.7" r="3" fill="#b04a44"/><circle cx="530.6" cy="1796.1" r="4.7" fill="#e3a090"/><circle cx="535.1" cy="1776.4" r="3" fill="#f2dccb"/><circle cx="543.3" cy="1794" r="2.6" fill="#b04a44"/><circle cx="538.8" cy="1801.1" r="2.8" fill="#b04a44"/><circle cx="539.4" cy="1791.8" r="4.6" fill="#f0d5c0"/><path d="M79.7 1815.6 C82.8 1817 71.4 1813 90 1820.5 C108.6 1828 115.3 1830.1 141.6 1840.6 C167.9 1851 160.3 1846.4 177.7 1855.3 C195.1 1864.2 197.3 1859.9 199.6 1870.2 C201.9 1880.5 200.1 1877.6 185.4 1889.6 C170.7 1901.6 168.8 1897.4 150.6 1910.2 C132.4 1923 134.6 1917.8 124.8 1932.1 C115 1946.4 113.6 1943.6 117.8 1957.9 C122.1 1972.2 116.4 1968.1 139 1979.8 C161.6 1991.6 145.9 1987 193.1 1997.1 C240.3 2007.1 234.4 2001.7 296.3 2013.3 C358.1 2024.9 339.8 2022.1 399.4 2035.8 C458.9 2049.4 466.2 2052 494.8 2059" fill="none" stroke="#dc6a59" stroke-width="53" stroke-linecap="butt"/><path d="M79.7 1815.6 C82.8 1817 71.4 1813 90 1820.5 C108.6 1828 115.3 1830.1 141.6 1840.6 C167.9 1851 160.3 1846.4 177.7 1855.3 C195.1 1864.2 197.3 1859.9 199.6 1870.2 C201.9 1880.5 200.1 1877.6 185.4 1889.6 C170.7 1901.6 168.8 1897.4 150.6 1910.2 C132.4 1923 134.6 1917.8 124.8 1932.1 C115 1946.4 113.6 1943.6 117.8 1957.9 C122.1 1972.2 116.4 1968.1 139 1979.8 C161.6 1991.6 145.9 1987 193.1 1997.1 C240.3 2007.1 234.4 2001.7 296.3 2013.3 C358.1 2024.9 339.8 2022.1 399.4 2035.8 C458.9 2049.4 466.2 2052 494.8 2059" fill="none" stroke="#eb7d6c" stroke-width="44" stroke-linecap="butt" transform="translate(0 -2.5)"/><path d="M79.7 1815.6 C82.8 1817 71.4 1813 90 1820.5 C108.6 1828 115.3 1830.1 141.6 1840.6 C167.9 1851 160.3 1846.4 177.7 1855.3 C195.1 1864.2 197.3 1859.9 199.6 1870.2 C201.9 1880.5 200.1 1877.6 185.4 1889.6 C170.7 1901.6 168.8 1897.4 150.6 1910.2 C132.4 1923 134.6 1917.8 124.8 1932.1 C115 1946.4 113.6 1943.6 117.8 1957.9 C122.1 1972.2 116.4 1968.1 139 1979.8 C161.6 1991.6 145.9 1987 193.1 1997.1 C240.3 2007.1 234.4 2001.7 296.3 2013.3 C358.1 2024.9 339.8 2022.1 399.4 2035.8 C458.9 2049.4 466.2 2052 494.8 2059" fill="none" stroke="#f29686" stroke-width="16" stroke-linecap="butt" transform="translate(1 -9)" filter="url(#b4)"/><ellipse cx="495.3" cy="2059" rx="13" ry="27" transform="rotate(14 495.3 2059)" fill="#f2907f"/><ellipse cx="496.3" cy="2062" rx="8" ry="19" transform="rotate(14 495.3 2059)" fill="#d5503f"/><path d="M512.3 2069 C519.1 2070.5 519.2 2068 535 2074 C550.9 2080 538.1 2061 565.2 2089.1 C592.3 2117.2 593.3 2119 625.4 2167.7 C657.5 2216.4 656 2216.2 672.2 2251.3 C688.5 2286.5 677.9 2254.7 679.6 2284.8 C681.3 2314.9 684.1 2304.6 677.9 2351.7 C671.7 2398.9 664.6 2415 658.8 2442.1 L484.8 2442.1 C497.9 2425 506.3 2427.4 528.3 2385.2 C550.4 2343 552.4 2346.7 558.5 2301.5 C564.5 2256.4 556.5 2282.8 548.4 2234.6 C540.4 2186.4 542.5 2187.1 531.7 2140.9 C520.9 2094.7 518.1 2098.8 512.3 2080.7Z" fill="#ef7e6d"/><path d="M521.7 2074.7 C535.2 2080.7 534.7 2065.8 566.8 2094.7 C599 2123.7 597.6 2124.1 628.7 2171 C659.9 2218 656.3 2217.2 670.6 2251.3 C684.8 2285.5 675.2 2254.7 676.2 2284.8 C677.3 2314.9 680.1 2304.6 673.9 2351.7 C667.7 2398.9 661 2415 655.5 2442.1" fill="none" stroke="#e26b59" stroke-width="9"/><path d="M535 2097.4 C556.1 2121.5 573.2 2132.6 605.3 2177.7 C637.4 2222.9 629.6 2214.9 642.1 2248 C654.7 2281.1 646.6 2257 647.1 2288.2 C647.6 2319.3 650.3 2305.6 643.8 2351.7 C637.3 2397.9 630.9 2415 625.4 2442.1" fill="none" stroke="#f4917f" stroke-width="30" filter="url(#b4)"/><path d="M521.7 2442.1 C534.7 2424 545.1 2424 565.2 2381.8 C585.2 2339.7 584.1 2345.7 588.6 2301.5 C593.1 2257.4 588.2 2278.8 580.2 2234.6 C572.2 2190.4 575.4 2190.4 561.8 2154.3 C548.3 2118.2 543.1 2126.2 535 2114.2" fill="none" stroke="#e46e5c" stroke-width="8"/><path d="M177 2040.5 C207.3 2019.1 204.7 2008.9 243.9 2007.1 C283.2 2005.3 285 2026.7 324.2 2033.8 C363.5 2041 342.1 2019.6 391.2 2033.8 C440.2 2048.1 463.7 2055.3 508.3 2087.4 C552.9 2119.5 543.3 2115 558.5 2154.3 C573.6 2193.6 566.9 2186.4 565.2 2234.6 C563.4 2282.8 564.3 2279.7 551.8 2335 C539.3 2390.3 643.2 2413.5 518.3 2442.1 C393.4 2470.6 199.3 2518.8 83.3 2442.1 C-32.7 2365.3 70.8 2248.9 83.3 2154.3 C95.8 2059.7 105.2 2117.7 130.2 2087.4 C155.1 2057 146.7 2062 177 2040.5Z" fill="#dd62bb"/><path d="M67.2 2174.8 C61.6 2166.7 61.9 2169.9 62.4 2160.1 C63 2150.2 61.7 2152 68.9 2145.3 C76 2138.6 73.9 2140.2 83.9 2139.8 C93.9 2139.5 91.3 2138.4 98.8 2144.2 C106.2 2150.1 103.5 2147.7 106.3 2157.3 C109.1 2167 111.3 2164.9 107.2 2173.1 C103.2 2181.4 103.5 2178.3 94.1 2182 C84.8 2185.8 88.1 2186.9 79.2 2184.5 C70.2 2182.1 72.8 2183 67.2 2174.8Z" fill="#b03a8c" opacity="0.45" transform="translate(1.5 3)"/><path d="M67.2 2174.8 C61.6 2166.7 61.9 2169.9 62.4 2160.1 C63 2150.2 61.7 2152 68.9 2145.3 C76 2138.6 73.9 2140.2 83.9 2139.8 C93.9 2139.5 91.3 2138.4 98.8 2144.2 C106.2 2150.1 103.5 2147.7 106.3 2157.3 C109.1 2167 111.3 2164.9 107.2 2173.1 C103.2 2181.4 103.5 2178.3 94.1 2182 C84.8 2185.8 88.1 2186.9 79.2 2184.5 C70.2 2182.1 72.8 2183 67.2 2174.8Z" fill="url(#cellg)"/><ellipse cx="79.1" cy="2155.2" rx="6.4" ry="3.2" fill="#fff" opacity="0.22" transform="rotate(-30 79.1 2155.2)"/><path d="M121.8 2119.9 C129.3 2124.6 128.1 2121.6 131.3 2129.5 C134.6 2137.4 134.8 2135.6 131.5 2143.6 C128.2 2151.7 129.4 2149.5 121.5 2153.6 C113.6 2157.7 115.9 2158 107.8 2156 C99.8 2153.9 102.5 2154.3 97.3 2147.4 C92.2 2140.5 92.2 2143.3 92.4 2135.3 C92.6 2127.3 92.4 2130 97.9 2123.4 C103.5 2116.7 101 2116.5 109 2115.4 C116.9 2114.2 114.4 2115.2 121.8 2119.9Z" fill="#b03a8c" opacity="0.45" transform="translate(1.5 3)"/><path d="M121.8 2119.9 C129.3 2124.6 128.1 2121.6 131.3 2129.5 C134.6 2137.4 134.8 2135.6 131.5 2143.6 C128.2 2151.7 129.4 2149.5 121.5 2153.6 C113.6 2157.7 115.9 2158 107.8 2156 C99.8 2153.9 102.5 2154.3 97.3 2147.4 C92.2 2140.5 92.2 2143.3 92.4 2135.3 C92.6 2127.3 92.4 2130 97.9 2123.4 C103.5 2116.7 101 2116.5 109 2115.4 C116.9 2114.2 114.4 2115.2 121.8 2119.9Z" fill="url(#cellg)"/><ellipse cx="106.4" cy="2129.5" rx="5.5" ry="2.8" fill="#fff" opacity="0.22" transform="rotate(-30 106.4 2129.5)"/><path d="M121.5 2103.7 C113.1 2101.8 114.5 2103.7 109.5 2096.7 C104.4 2089.7 105.4 2091.7 106.4 2082.8 C107.4 2073.8 106 2075.6 112.4 2069.9 C118.8 2064.1 116.9 2065.7 125.6 2065.5 C134.3 2065.2 131.5 2064.2 138.5 2069.1 C145.5 2074 144.6 2071.9 146.6 2080.1 C148.6 2088.2 148.5 2086.1 144.5 2093.6 C140.5 2101 142.3 2099 134.7 2102.4 C127 2105.8 129.9 2105.6 121.5 2103.7Z" fill="#b03a8c" opacity="0.45" transform="translate(1.5 3)"/><path d="M121.5 2103.7 C113.1 2101.8 114.5 2103.7 109.5 2096.7 C104.4 2089.7 105.4 2091.7 106.4 2082.8 C107.4 2073.8 106 2075.6 112.4 2069.9 C118.8 2064.1 116.9 2065.7 125.6 2065.5 C134.3 2065.2 131.5 2064.2 138.5 2069.1 C145.5 2074 144.6 2071.9 146.6 2080.1 C148.6 2088.2 148.5 2086.1 144.5 2093.6 C140.5 2101 142.3 2099 134.7 2102.4 C127 2105.8 129.9 2105.6 121.5 2103.7Z" fill="url(#cellg)"/><ellipse cx="121.4" cy="2078.7" rx="5.5" ry="2.8" fill="#fff" opacity="0.22" transform="rotate(-30 121.4 2078.7)"/><path d="M509 2440.4 C503.9 2433.2 504.6 2436.2 504.9 2427.1 C505.1 2418 503.4 2419.8 509.6 2413 C515.9 2406.2 514.2 2407.2 523.6 2406.7 C533 2406.2 530.4 2405.9 537.8 2411.5 C545.2 2417.2 543.7 2414.9 545.8 2423.7 C547.9 2432.4 548.1 2430 544.1 2437.8 C540 2445.6 541.7 2443.4 533.7 2447 C525.8 2450.7 528.3 2450.9 520.1 2448.7 C511.8 2446.5 514.1 2447.6 509 2440.4Z" fill="#b03a8c" opacity="0.45" transform="translate(1.5 3)"/><path d="M509 2440.4 C503.9 2433.2 504.6 2436.2 504.9 2427.1 C505.1 2418 503.4 2419.8 509.6 2413 C515.9 2406.2 514.2 2407.2 523.6 2406.7 C533 2406.2 530.4 2405.9 537.8 2411.5 C545.2 2417.2 543.7 2414.9 545.8 2423.7 C547.9 2432.4 548.1 2430 544.1 2437.8 C540 2445.6 541.7 2443.4 533.7 2447 C525.8 2450.7 528.3 2450.9 520.1 2448.7 C511.8 2446.5 514.1 2447.6 509 2440.4Z" fill="url(#cellg)"/><ellipse cx="519.6" cy="2422.3" rx="5.9" ry="2.9" fill="#fff" opacity="0.22" transform="rotate(-30 519.6 2422.3)"/><path d="M551.4 2358.9 C562.3 2361.4 558.7 2360.6 566 2369.8 C573.2 2379 573 2375.2 573.1 2386.5 C573.2 2397.8 574 2395.1 566.3 2403.8 C558.6 2412.4 561.4 2410.7 550 2412.4 C538.5 2414 541.9 2414.6 532 2408.7 C522.1 2402.7 523.6 2405.2 520.3 2394.5 C516.9 2383.8 517.8 2387.2 522.1 2376.5 C526.3 2365.7 523.3 2368.1 533.1 2362.2 C542.8 2356.4 540.4 2356.4 551.4 2358.9Z" fill="#b03a8c" opacity="0.45" transform="translate(1.5 3)"/><path d="M551.4 2358.9 C562.3 2361.4 558.7 2360.6 566 2369.8 C573.2 2379 573 2375.2 573.1 2386.5 C573.2 2397.8 574 2395.1 566.3 2403.8 C558.6 2412.4 561.4 2410.7 550 2412.4 C538.5 2414 541.9 2414.6 532 2408.7 C522.1 2402.7 523.6 2405.2 520.3 2394.5 C516.9 2383.8 517.8 2387.2 522.1 2376.5 C526.3 2365.7 523.3 2368.1 533.1 2362.2 C542.8 2356.4 540.4 2356.4 551.4 2358.9Z" fill="url(#cellg)"/><ellipse cx="538.6" cy="2377.5" rx="7.3" ry="3.7" fill="#fff" opacity="0.22" transform="rotate(-30 538.6 2377.5)"/><path d="M546.5 2358.7 C536.4 2356.9 538.6 2358.8 532 2351 C525.5 2343.2 526.3 2345.3 526.9 2335.2 C527.5 2325.1 527 2328.7 533.8 2320.6 C540.5 2312.6 537.3 2312.8 547.1 2311 C557 2309.1 554.6 2309.4 563.4 2315.1 C572.2 2320.7 570.8 2318.4 573.5 2327.9 C576.2 2337.4 575.1 2334 571.5 2343.5 C567.8 2353 570.8 2351.3 562.5 2356.4 C554.2 2361.4 556.7 2360.5 546.5 2358.7Z" fill="#b03a8c" opacity="0.45" transform="translate(1.5 3)"/><path d="M546.5 2358.7 C536.4 2356.9 538.6 2358.8 532 2351 C525.5 2343.2 526.3 2345.3 526.9 2335.2 C527.5 2325.1 527 2328.7 533.8 2320.6 C540.5 2312.6 537.3 2312.8 547.1 2311 C557 2309.1 554.6 2309.4 563.4 2315.1 C572.2 2320.7 570.8 2318.4 573.5 2327.9 C576.2 2337.4 575.1 2334 571.5 2343.5 C567.8 2353 570.8 2351.3 562.5 2356.4 C554.2 2361.4 556.7 2360.5 546.5 2358.7Z" fill="url(#cellg)"/><ellipse cx="544.4" cy="2328.1" rx="6.6" ry="3.3" fill="#fff" opacity="0.22" transform="rotate(-30 544.4 2328.1)"/><path d="M562 2308.8 C550.5 2308.5 554.2 2309.3 545.2 2301.9 C536.2 2294.5 537.1 2297.7 535 2286.6 C532.9 2275.4 532.9 2278.5 538.9 2268.4 C544.8 2258.2 542.1 2259.7 552.8 2256.1 C563.5 2252.5 560.1 2253.6 571 2257.7 C581.8 2261.9 579.4 2258.9 585.4 2268.6 C591.3 2278.2 590.7 2275.2 588.8 2286.7 C586.9 2298.2 588.6 2295.7 579.7 2303 C570.7 2310.4 573.5 2309.2 562 2308.8Z" fill="#b03a8c" opacity="0.45" transform="translate(1.5 3)"/><path d="M562 2308.8 C550.5 2308.5 554.2 2309.3 545.2 2301.9 C536.2 2294.5 537.1 2297.7 535 2286.6 C532.9 2275.4 532.9 2278.5 538.9 2268.4 C544.8 2258.2 542.1 2259.7 552.8 2256.1 C563.5 2252.5 560.1 2253.6 571 2257.7 C581.8 2261.9 579.4 2258.9 585.4 2268.6 C591.3 2278.2 590.7 2275.2 588.8 2286.7 C586.9 2298.2 588.6 2295.7 579.7 2303 C570.7 2310.4 573.5 2309.2 562 2308.8Z" fill="url(#cellg)"/><ellipse cx="554.7" cy="2273.5" rx="7.4" ry="3.7" fill="#fff" opacity="0.22" transform="rotate(-30 554.7 2273.5)"/><path d="M545.8 2261.3 C536.6 2254.7 538.2 2257.3 535.6 2246.4 C533.1 2235.6 533.2 2239 538.1 2228.8 C543 2218.5 540.2 2220.4 550.3 2215.6 C560.5 2210.8 558 2210.9 568.6 2214.4 C579.1 2217.8 576.1 2216.5 582 2226 C588 2235.4 587.7 2232.2 586.3 2242.6 C584.9 2253.1 585.6 2249.4 577.8 2257.2 C570.1 2265.1 573.8 2264.9 563.1 2266.2 C552.4 2267.6 554.9 2267.9 545.8 2261.3Z" fill="#b03a8c" opacity="0.45" transform="translate(1.5 3)"/><path d="M545.8 2261.3 C536.6 2254.7 538.2 2257.3 535.6 2246.4 C533.1 2235.6 533.2 2239 538.1 2228.8 C543 2218.5 540.2 2220.4 550.3 2215.6 C560.5 2210.8 558 2210.9 568.6 2214.4 C579.1 2217.8 576.1 2216.5 582 2226 C588 2235.4 587.7 2232.2 586.3 2242.6 C584.9 2253.1 585.6 2249.4 577.8 2257.2 C570.1 2265.1 573.8 2264.9 563.1 2266.2 C552.4 2267.6 554.9 2267.9 545.8 2261.3Z" fill="url(#cellg)"/><ellipse cx="554.2" cy="2232" rx="7" ry="3.5" fill="#fff" opacity="0.22" transform="rotate(-30 554.2 2232)"/><path d="M589.9 2187.7 C594.3 2197.5 594.5 2194.5 591.4 2204.9 C588.4 2215.2 590.1 2212.9 580.9 2218.8 C571.7 2224.8 574.2 2224.6 563.8 2222.7 C553.3 2220.9 557.1 2221.5 549.6 2213.4 C542.1 2205.3 542.1 2208.9 541.2 2198.5 C540.3 2188 540.3 2190.7 547 2182 C553.8 2173.3 551 2174.6 561.4 2172.4 C571.9 2170.2 568.8 2170.3 578.3 2175.4 C587.8 2180.5 585.6 2177.9 589.9 2187.7Z" fill="#b03a8c" opacity="0.45" transform="translate(1.5 3)"/><path d="M589.9 2187.7 C594.3 2197.5 594.5 2194.5 591.4 2204.9 C588.4 2215.2 590.1 2212.9 580.9 2218.8 C571.7 2224.8 574.2 2224.6 563.8 2222.7 C553.3 2220.9 557.1 2221.5 549.6 2213.4 C542.1 2205.3 542.1 2208.9 541.2 2198.5 C540.3 2188 540.3 2190.7 547 2182 C553.8 2173.3 551 2174.6 561.4 2172.4 C571.9 2170.2 568.8 2170.3 578.3 2175.4 C587.8 2180.5 585.6 2177.9 589.9 2187.7Z" fill="url(#cellg)"/><ellipse cx="560.1" cy="2189.3" rx="7" ry="3.5" fill="#fff" opacity="0.22" transform="rotate(-30 560.1 2189.3)"/><path d="M547 2146.5 C553.5 2139.9 551.3 2141.3 560.7 2140.4 C570.1 2139.5 568.1 2138.5 575.2 2143.9 C582.3 2149.3 579.9 2147.8 581.9 2156.7 C583.9 2165.5 584.6 2162.3 581.2 2170.4 C577.9 2178.5 579.8 2176.8 571.9 2181 C563.9 2185.3 565.9 2185.4 557.4 2183 C548.8 2180.7 551.6 2181.5 546.1 2173.9 C540.7 2166.3 540.7 2169.4 541 2160.3 C541.3 2151.2 540.4 2153.2 547 2146.5Z" fill="#b03a8c" opacity="0.45" transform="translate(1.5 3)"/><path d="M547 2146.5 C553.5 2139.9 551.3 2141.3 560.7 2140.4 C570.1 2139.5 568.1 2138.5 575.2 2143.9 C582.3 2149.3 579.9 2147.8 581.9 2156.7 C583.9 2165.5 584.6 2162.3 581.2 2170.4 C577.9 2178.5 579.8 2176.8 571.9 2181 C563.9 2185.3 565.9 2185.4 557.4 2183 C548.8 2180.7 551.6 2181.5 546.1 2173.9 C540.7 2166.3 540.7 2169.4 541 2160.3 C541.3 2151.2 540.4 2153.2 547 2146.5Z" fill="url(#cellg)"/><ellipse cx="556.8" cy="2155.2" rx="6" ry="3" fill="#fff" opacity="0.22" transform="rotate(-30 556.8 2155.2)"/><path d="M523.8 2096.2 C531 2088.9 528.3 2089.2 538.3 2088.5 C548.3 2087.8 546 2087.7 553.9 2094.1 C561.9 2100.6 560 2098 562.2 2107.9 C564.4 2117.8 564.9 2114.6 560.5 2123.8 C556.1 2132.9 558.3 2131.3 549 2135.3 C539.8 2139.3 542.5 2138.8 532.7 2135.7 C522.9 2132.6 525.1 2134.5 519.8 2126 C514.4 2117.5 515.3 2120.2 516.7 2110.3 C518 2100.4 516.6 2103.4 523.8 2096.2Z" fill="#b03a8c" opacity="0.45" transform="translate(1.5 3)"/><path d="M523.8 2096.2 C531 2088.9 528.3 2089.2 538.3 2088.5 C548.3 2087.8 546 2087.7 553.9 2094.1 C561.9 2100.6 560 2098 562.2 2107.9 C564.4 2117.8 564.9 2114.6 560.5 2123.8 C556.1 2132.9 558.3 2131.3 549 2135.3 C539.8 2139.3 542.5 2138.8 532.7 2135.7 C522.9 2132.6 525.1 2134.5 519.8 2126 C514.4 2117.5 515.3 2120.2 516.7 2110.3 C518 2100.4 516.6 2103.4 523.8 2096.2Z" fill="url(#cellg)"/><ellipse cx="532.7" cy="2105.2" rx="6.9" ry="3.5" fill="#fff" opacity="0.22" transform="rotate(-30 532.7 2105.2)"/><path d="M484.2 2088.8 C482.2 2080.5 481.6 2082.9 485.4 2075.3 C489.2 2067.6 487.7 2069 495.6 2066 C503.5 2063 500.6 2063.8 509.1 2066.3 C517.6 2068.7 516.9 2066.4 521.1 2073.3 C525.3 2080.2 523.2 2078.4 521.7 2087 C520.2 2095.6 522.5 2093.4 516.6 2099.1 C510.8 2104.7 512.6 2103.5 504.2 2103.9 C495.8 2104.2 498 2105.2 491.4 2100.2 C484.7 2095.2 486.2 2097.2 484.2 2088.8Z" fill="#b03a8c" opacity="0.45" transform="translate(1.5 3)"/><path d="M484.2 2088.8 C482.2 2080.5 481.6 2082.9 485.4 2075.3 C489.2 2067.6 487.7 2069 495.6 2066 C503.5 2063 500.6 2063.8 509.1 2066.3 C517.6 2068.7 516.9 2066.4 521.1 2073.3 C525.3 2080.2 523.2 2078.4 521.7 2087 C520.2 2095.6 522.5 2093.4 516.6 2099.1 C510.8 2104.7 512.6 2103.5 504.2 2103.9 C495.8 2104.2 498 2105.2 491.4 2100.2 C484.7 2095.2 486.2 2097.2 484.2 2088.8Z" fill="url(#cellg)"/><ellipse cx="497.8" cy="2078.2" rx="5.6" ry="2.8" fill="#fff" opacity="0.22" transform="rotate(-30 497.8 2078.2)"/><path d="M485.9 2084.3 C478.8 2091.7 480.9 2090 471.1 2090.8 C461.2 2091.6 464.9 2091.8 456.3 2086.8 C447.7 2081.8 448.3 2084.6 445.3 2075.8 C442.2 2066.9 443.5 2069.6 447.2 2060.2 C451 2050.9 448.2 2052.5 456.5 2047.7 C464.8 2043 462.3 2044 472.2 2046 C482 2047.9 479.3 2046 486 2053.6 C492.8 2061.2 492.4 2058.6 492.4 2068.9 C492.3 2079.1 493 2077 485.9 2084.3Z" fill="#b03a8c" opacity="0.45" transform="translate(1.5 3)"/><path d="M485.9 2084.3 C478.8 2091.7 480.9 2090 471.1 2090.8 C461.2 2091.6 464.9 2091.8 456.3 2086.8 C447.7 2081.8 448.3 2084.6 445.3 2075.8 C442.2 2066.9 443.5 2069.6 447.2 2060.2 C451 2050.9 448.2 2052.5 456.5 2047.7 C464.8 2043 462.3 2044 472.2 2046 C482 2047.9 479.3 2046 486 2053.6 C492.8 2061.2 492.4 2058.6 492.4 2068.9 C492.3 2079.1 493 2077 485.9 2084.3Z" fill="url(#cellg)"/><ellipse cx="461.2" cy="2060.8" rx="6.5" ry="3.3" fill="#fff" opacity="0.22" transform="rotate(-30 461.2 2060.8)"/><path d="M434.7 2037.1 C442.3 2040.7 441 2038.3 444.6 2045.4 C448.2 2052.6 447.7 2050.8 445.4 2058.5 C443.1 2066.2 444.3 2064.3 437.7 2068.6 C431.1 2072.9 433.7 2071.8 425.7 2071.4 C417.8 2070.9 419.7 2072.4 413.9 2067.2 C408.2 2061.9 409.5 2063.8 408.5 2055.6 C407.5 2047.4 406.4 2049.5 410.9 2042.6 C415.3 2035.6 413.9 2036.6 421.8 2034.7 C429.8 2032.9 427.1 2033.5 434.7 2037.1Z" fill="#b03a8c" opacity="0.45" transform="translate(1.5 3)"/><path d="M434.7 2037.1 C442.3 2040.7 441 2038.3 444.6 2045.4 C448.2 2052.6 447.7 2050.8 445.4 2058.5 C443.1 2066.2 444.3 2064.3 437.7 2068.6 C431.1 2072.9 433.7 2071.8 425.7 2071.4 C417.8 2070.9 419.7 2072.4 413.9 2067.2 C408.2 2061.9 409.5 2063.8 408.5 2055.6 C407.5 2047.4 406.4 2049.5 410.9 2042.6 C415.3 2035.6 413.9 2036.6 421.8 2034.7 C429.8 2032.9 427.1 2033.5 434.7 2037.1Z" fill="url(#cellg)"/><ellipse cx="421.9" cy="2047.8" rx="5.2" ry="2.6" fill="#fff" opacity="0.22" transform="rotate(-30 421.9 2047.8)"/><path d="M372.6 2030.5 C377.8 2023.9 375.4 2023.9 383 2022.7 C390.5 2021.4 388.4 2022.5 395.1 2026.8 C401.8 2031.1 400 2028.5 403.1 2035.6 C406.2 2042.7 406.7 2040.5 404.5 2048 C402.2 2055.5 403.3 2054.3 396.4 2058.1 C389.6 2061.9 392 2060.6 383.9 2059.4 C375.9 2058.1 378 2060 372.4 2054.3 C366.8 2048.6 367.1 2050.2 367.1 2042.3 C367.1 2034.3 367.3 2037 372.6 2030.5Z" fill="#b03a8c" opacity="0.45" transform="translate(1.5 3)"/><path d="M372.6 2030.5 C377.8 2023.9 375.4 2023.9 383 2022.7 C390.5 2021.4 388.4 2022.5 395.1 2026.8 C401.8 2031.1 400 2028.5 403.1 2035.6 C406.2 2042.7 406.7 2040.5 404.5 2048 C402.2 2055.5 403.3 2054.3 396.4 2058.1 C389.6 2061.9 392 2060.6 383.9 2059.4 C375.9 2058.1 378 2060 372.4 2054.3 C366.8 2048.6 367.1 2050.2 367.1 2042.3 C367.1 2034.3 367.3 2037 372.6 2030.5Z" fill="url(#cellg)"/><ellipse cx="381.5" cy="2036" rx="5.2" ry="2.6" fill="#fff" opacity="0.22" transform="rotate(-30 381.5 2036)"/><path d="M338.8 2056.4 C331.7 2049.3 333.3 2051.6 332.6 2041.4 C331.8 2031.2 331 2034.9 336.6 2025.9 C342.1 2016.9 339.4 2017.1 349.2 2014.4 C359.1 2011.8 356 2013.1 366 2017.9 C376.1 2022.6 374.5 2019.2 379.3 2028.6 C384.2 2038.1 383.8 2035.9 380.6 2046.2 C377.5 2056.6 378.9 2054.2 369.9 2059.7 C360.9 2065.3 364.1 2064 353.7 2062.9 C343.3 2061.8 345.8 2063.6 338.8 2056.4Z" fill="#b03a8c" opacity="0.45" transform="translate(1.5 3)"/><path d="M338.8 2056.4 C331.7 2049.3 333.3 2051.6 332.6 2041.4 C331.8 2031.2 331 2034.9 336.6 2025.9 C342.1 2016.9 339.4 2017.1 349.2 2014.4 C359.1 2011.8 356 2013.1 366 2017.9 C376.1 2022.6 374.5 2019.2 379.3 2028.6 C384.2 2038.1 383.8 2035.9 380.6 2046.2 C377.5 2056.6 378.9 2054.2 369.9 2059.7 C360.9 2065.3 364.1 2064 353.7 2062.9 C343.3 2061.8 345.8 2063.6 338.8 2056.4Z" fill="url(#cellg)"/><ellipse cx="349" cy="2031.7" rx="6.8" ry="3.4" fill="#fff" opacity="0.22" transform="rotate(-30 349 2031.7)"/><path d="M344.6 2037.3 C345.6 2046.9 346.2 2044.3 340.9 2052.1 C335.6 2060 338 2057.7 328.7 2061 C319.4 2064.3 321.8 2065.7 313 2062.1 C304.2 2058.6 306.3 2059.2 302.4 2050.3 C298.4 2041.3 299 2044.5 301.1 2035.2 C303.3 2025.9 301.4 2027.7 308.9 2022.2 C316.3 2016.8 313.8 2018.5 323.4 2018.9 C333.1 2019.3 330.8 2017.2 337.9 2023.4 C344.9 2029.6 343.6 2027.8 344.6 2037.3Z" fill="#b03a8c" opacity="0.45" transform="translate(1.5 3)"/><path d="M344.6 2037.3 C345.6 2046.9 346.2 2044.3 340.9 2052.1 C335.6 2060 338 2057.7 328.7 2061 C319.4 2064.3 321.8 2065.7 313 2062.1 C304.2 2058.6 306.3 2059.2 302.4 2050.3 C298.4 2041.3 299 2044.5 301.1 2035.2 C303.3 2025.9 301.4 2027.7 308.9 2022.2 C316.3 2016.8 313.8 2018.5 323.4 2018.9 C333.1 2019.3 330.8 2017.2 337.9 2023.4 C344.9 2029.6 343.6 2027.8 344.6 2037.3Z" fill="url(#cellg)"/><ellipse cx="316" cy="2032.9" rx="6.3" ry="3.1" fill="#fff" opacity="0.22" transform="rotate(-30 316 2032.9)"/><path d="M259.8 2022.2 C256.2 2013.8 255.6 2016.4 258.3 2007.6 C261 1998.8 259.8 1999.9 267.8 1995.9 C275.9 1991.8 273.2 1993.7 282.4 1995.5 C291.5 1997.3 289.6 1994.7 295.3 2001.2 C301.1 2007.6 299.3 2005.5 299.6 2014.9 C300 2024.3 302 2022.1 296.5 2029.4 C290.9 2036.7 292.2 2035.6 283.1 2036.7 C273.9 2037.9 276.8 2037.7 269 2032.8 C261.2 2028 263.3 2030.6 259.8 2022.2Z" fill="#b03a8c" opacity="0.45" transform="translate(1.5 3)"/><path d="M259.8 2022.2 C256.2 2013.8 255.6 2016.4 258.3 2007.6 C261 1998.8 259.8 1999.9 267.8 1995.9 C275.9 1991.8 273.2 1993.7 282.4 1995.5 C291.5 1997.3 289.6 1994.7 295.3 2001.2 C301.1 2007.6 299.3 2005.5 299.6 2014.9 C300 2024.3 302 2022.1 296.5 2029.4 C290.9 2036.7 292.2 2035.6 283.1 2036.7 C273.9 2037.9 276.8 2037.7 269 2032.8 C261.2 2028 263.3 2030.6 259.8 2022.2Z" fill="url(#cellg)"/><ellipse cx="273.1" cy="2008.2" rx="5.9" ry="3" fill="#fff" opacity="0.22" transform="rotate(-30 273.1 2008.2)"/><path d="M237.1 2029.4 C227 2029.1 228.2 2031.5 221.4 2024.6 C214.7 2017.7 217.2 2019.2 216.8 2008.7 C216.5 1998.3 214.6 2001.2 220.4 1993.2 C226.1 1985.1 224.1 1987 234 1984.6 C244 1982.1 241.1 1981.4 250.2 1985.8 C259.3 1990.2 257.1 1988.3 261.3 1997.7 C265.6 2007.1 266 2004.7 262.8 2014.1 C259.7 2023.4 260.4 2020.6 251.9 2025.7 C243.3 2030.9 247.2 2029.8 237.1 2029.4Z" fill="#b03a8c" opacity="0.45" transform="translate(1.5 3)"/><path d="M237.1 2029.4 C227 2029.1 228.2 2031.5 221.4 2024.6 C214.7 2017.7 217.2 2019.2 216.8 2008.7 C216.5 1998.3 214.6 2001.2 220.4 1993.2 C226.1 1985.1 224.1 1987 234 1984.6 C244 1982.1 241.1 1981.4 250.2 1985.8 C259.3 1990.2 257.1 1988.3 261.3 1997.7 C265.6 2007.1 266 2004.7 262.8 2014.1 C259.7 2023.4 260.4 2020.6 251.9 2025.7 C243.3 2030.9 247.2 2029.8 237.1 2029.4Z" fill="url(#cellg)"/><ellipse cx="233" cy="1999.8" rx="6.6" ry="3.3" fill="#fff" opacity="0.22" transform="rotate(-30 233 1999.8)"/><path d="M200.2 2000 C208.7 2000.6 206.7 1999.1 212.6 2004.8 C218.6 2010.4 217.3 2008.6 218.1 2016.9 C218.8 2025.2 219.4 2022.6 214.9 2029.6 C210.4 2036.6 212.5 2035.5 204.6 2038 C196.7 2040.4 198.8 2040.4 191.2 2037 C183.6 2033.5 185.8 2035.2 181.8 2027.6 C177.8 2020.1 177.5 2022.5 179.3 2014.3 C181.1 2006.1 180.3 2007.8 187.2 2003.1 C194.2 1998.3 191.8 1999.4 200.2 2000Z" fill="#b03a8c" opacity="0.45" transform="translate(1.5 3)"/><path d="M200.2 2000 C208.7 2000.6 206.7 1999.1 212.6 2004.8 C218.6 2010.4 217.3 2008.6 218.1 2016.9 C218.8 2025.2 219.4 2022.6 214.9 2029.6 C210.4 2036.6 212.5 2035.5 204.6 2038 C196.7 2040.4 198.8 2040.4 191.2 2037 C183.6 2033.5 185.8 2035.2 181.8 2027.6 C177.8 2020.1 177.5 2022.5 179.3 2014.3 C181.1 2006.1 180.3 2007.8 187.2 2003.1 C194.2 1998.3 191.8 1999.4 200.2 2000Z" fill="url(#cellg)"/><ellipse cx="193.5" cy="2012.8" rx="5.5" ry="2.7" fill="#fff" opacity="0.22" transform="rotate(-30 193.5 2012.8)"/><path d="M201.3 2055.6 C199.2 2064.3 201.1 2061.8 194.2 2067.6 C187.2 2073.5 189.7 2073.3 180.5 2073.1 C171.3 2072.9 173.2 2073.6 166.6 2067.1 C160.1 2060.6 161.2 2062.4 160.8 2053.5 C160.4 2044.6 160.5 2048.1 165.4 2040.4 C170.2 2032.6 167.2 2033 175.4 2030.2 C183.5 2027.4 181.4 2028.2 189.8 2032 C198.2 2035.7 196.7 2033.6 200.5 2041.5 C204.4 2049.3 203.5 2046.9 201.3 2055.6Z" fill="#b03a8c" opacity="0.45" transform="translate(1.5 3)"/><path d="M201.3 2055.6 C199.2 2064.3 201.1 2061.8 194.2 2067.6 C187.2 2073.5 189.7 2073.3 180.5 2073.1 C171.3 2072.9 173.2 2073.6 166.6 2067.1 C160.1 2060.6 161.2 2062.4 160.8 2053.5 C160.4 2044.6 160.5 2048.1 165.4 2040.4 C170.2 2032.6 167.2 2033 175.4 2030.2 C183.5 2027.4 181.4 2028.2 189.8 2032 C198.2 2035.7 196.7 2033.6 200.5 2041.5 C204.4 2049.3 203.5 2046.9 201.3 2055.6Z" fill="url(#cellg)"/><ellipse cx="175.8" cy="2044.3" rx="5.9" ry="2.9" fill="#fff" opacity="0.22" transform="rotate(-30 175.8 2044.3)"/><path d="M138.9 2372.3 C151.7 2369.2 147.2 2369.3 159.5 2374.7 C171.8 2380 170.4 2376.8 175.7 2388.4 C181.1 2400 179.4 2396.9 175.5 2409.5 C171.6 2422.1 174.4 2418.2 164 2426.2 C153.5 2434.1 156.7 2434.7 144.2 2433.4 C131.8 2432.1 135.4 2432 126.6 2422.4 C117.7 2412.8 119.6 2417.4 117.7 2404.6 C115.9 2391.8 114 2394.7 121 2383.9 C128.1 2373.2 126 2375.4 138.9 2372.3Z" fill="#b03a8c" opacity="0.45" transform="translate(1.5 3)"/><path d="M138.9 2372.3 C151.7 2369.2 147.2 2369.3 159.5 2374.7 C171.8 2380 170.4 2376.8 175.7 2388.4 C181.1 2400 179.4 2396.9 175.5 2409.5 C171.6 2422.1 174.4 2418.2 164 2426.2 C153.5 2434.1 156.7 2434.7 144.2 2433.4 C131.8 2432.1 135.4 2432 126.6 2422.4 C117.7 2412.8 119.6 2417.4 117.7 2404.6 C115.9 2391.8 114 2394.7 121 2383.9 C128.1 2373.2 126 2375.4 138.9 2372.3Z" fill="url(#cellg)"/><ellipse cx="138.5" cy="2392.3" rx="8.4" ry="4.2" fill="#fff" opacity="0.22" transform="rotate(-30 138.5 2392.3)"/><path d="M480 2303.7 C473.7 2318.4 476.1 2315.4 461.4 2322.1 C446.8 2328.7 451.2 2327.8 436 2323.6 C420.8 2319.3 425.7 2321.9 415.9 2309.3 C406.1 2296.6 406.3 2301.7 406.5 2285.6 C406.8 2269.6 405.1 2272 416.6 2261.2 C428 2250.5 424.7 2254.6 440.9 2253.4 C457.1 2252.2 452 2249.5 465.1 2257.6 C478.2 2265.8 475.3 2262.4 480.3 2277.8 C485.2 2293.1 486.3 2288.9 480 2303.7Z" fill="#b03a8c" opacity="0.45" transform="translate(1.5 3)"/><path d="M480 2303.7 C473.7 2318.4 476.1 2315.4 461.4 2322.1 C446.8 2328.7 451.2 2327.8 436 2323.6 C420.8 2319.3 425.7 2321.9 415.9 2309.3 C406.1 2296.6 406.3 2301.7 406.5 2285.6 C406.8 2269.6 405.1 2272 416.6 2261.2 C428 2250.5 424.7 2254.6 440.9 2253.4 C457.1 2252.2 452 2249.5 465.1 2257.6 C478.2 2265.8 475.3 2262.4 480.3 2277.8 C485.2 2293.1 486.3 2288.9 480 2303.7Z" fill="url(#cellg)"/><ellipse cx="434.4" cy="2276.4" rx="10.3" ry="5.2" fill="#fff" opacity="0.22" transform="rotate(-30 434.4 2276.4)"/><path d="M469.2 2181.8 C469.6 2163.4 468.1 2169.6 479.5 2155 C490.9 2140.4 485.2 2142.4 503.3 2137.9 C521.3 2133.3 518.2 2131.9 533.7 2141.4 C549.2 2150.9 544 2148.7 549.8 2166.5 C555.6 2184.3 556.1 2176.9 551.2 2194.8 C546.2 2212.6 550.5 2209.7 535 2220.1 C519.4 2230.4 523.5 2229.1 504.5 2225.8 C485.5 2222.5 489.8 2224.9 478 2210.2 C466.2 2195.6 468.7 2200.2 469.2 2181.8Z" fill="#b03a8c" opacity="0.45" transform="translate(1.5 3)"/><path d="M469.2 2181.8 C469.6 2163.4 468.1 2169.6 479.5 2155 C490.9 2140.4 485.2 2142.4 503.3 2137.9 C521.3 2133.3 518.2 2131.9 533.7 2141.4 C549.2 2150.9 544 2148.7 549.8 2166.5 C555.6 2184.3 556.1 2176.9 551.2 2194.8 C546.2 2212.6 550.5 2209.7 535 2220.1 C519.4 2230.4 523.5 2229.1 504.5 2225.8 C485.5 2222.5 489.8 2224.9 478 2210.2 C466.2 2195.6 468.7 2200.2 469.2 2181.8Z" fill="url(#cellg)"/><ellipse cx="499.4" cy="2167.2" rx="12.2" ry="6.1" fill="#fff" opacity="0.22" transform="rotate(-30 499.4 2167.2)"/><path d="M328 2218.4 C326.3 2229 328.3 2226.4 320.5 2233.5 C312.7 2240.5 315 2239.7 304.5 2239.6 C294 2239.5 296.2 2240.2 288.9 2233.2 C281.6 2226.2 284.7 2228.9 282.6 2218.7 C280.5 2208.4 278.2 2210.9 282.7 2202.6 C287.2 2194.2 286.4 2197 296.2 2193.5 C305.9 2190 302.2 2189.2 312 2192 C321.8 2194.7 320.2 2193 325.5 2201.8 C330.9 2210.6 329.7 2207.8 328 2218.4Z" fill="#b03a8c" opacity="0.45" transform="translate(1.5 3)"/><path d="M328 2218.4 C326.3 2229 328.3 2226.4 320.5 2233.5 C312.7 2240.5 315 2239.7 304.5 2239.6 C294 2239.5 296.2 2240.2 288.9 2233.2 C281.6 2226.2 284.7 2228.9 282.6 2218.7 C280.5 2208.4 278.2 2210.9 282.7 2202.6 C287.2 2194.2 286.4 2197 296.2 2193.5 C305.9 2190 302.2 2189.2 312 2192 C321.8 2194.7 320.2 2193 325.5 2201.8 C330.9 2210.6 329.7 2207.8 328 2218.4Z" fill="url(#cellg)"/><ellipse cx="297.6" cy="2207" rx="6.6" ry="3.3" fill="#fff" opacity="0.22" transform="rotate(-30 297.6 2207)"/><path d="M386.7 2256.3 C394.6 2254.1 391.8 2254 399.8 2257.3 C407.8 2260.6 407.4 2258.6 410.6 2266.2 C413.8 2273.9 412.2 2271.6 409.5 2280.1 C406.8 2288.6 409.3 2287 402.5 2291.7 C395.6 2296.5 397.3 2295.7 389 2294.5 C380.6 2293.2 383.4 2294.1 377.3 2288 C371.3 2281.8 371.2 2284.2 370.8 2276.1 C370.3 2268 370.7 2270.2 376 2263.6 C381.3 2257 378.7 2258.4 386.7 2256.3Z" fill="#b03a8c" opacity="0.45" transform="translate(1.5 3)"/><path d="M386.7 2256.3 C394.6 2254.1 391.8 2254 399.8 2257.3 C407.8 2260.6 407.4 2258.6 410.6 2266.2 C413.8 2273.9 412.2 2271.6 409.5 2280.1 C406.8 2288.6 409.3 2287 402.5 2291.7 C395.6 2296.5 397.3 2295.7 389 2294.5 C380.6 2293.2 383.4 2294.1 377.3 2288 C371.3 2281.8 371.2 2284.2 370.8 2276.1 C370.3 2268 370.7 2270.2 376 2263.6 C381.3 2257 378.7 2258.4 386.7 2256.3Z" fill="url(#cellg)"/><ellipse cx="385.5" cy="2268.3" rx="5.6" ry="2.8" fill="#fff" opacity="0.22" transform="rotate(-30 385.5 2268.3)"/><path d="M382.5 2407.9 C372.8 2419.5 375.9 2416.7 361 2419.2 C346 2421.6 351.4 2422.3 337.6 2415.4 C323.9 2408.5 326.1 2412.8 319.6 2398.6 C313.2 2384.4 313.4 2388.4 318.4 2372.8 C323.3 2357.3 320.5 2359.4 334.3 2352 C348.2 2344.6 343.9 2347.6 359.8 2350.7 C375.6 2353.8 371.7 2350 381.8 2361.2 C392 2372.5 390 2369 390.2 2384.5 C390.4 2400.1 392.2 2396.4 382.5 2407.9Z" fill="#b03a8c" opacity="0.45" transform="translate(1.5 3)"/><path d="M382.5 2407.9 C372.8 2419.5 375.9 2416.7 361 2419.2 C346 2421.6 351.4 2422.3 337.6 2415.4 C323.9 2408.5 326.1 2412.8 319.6 2398.6 C313.2 2384.4 313.4 2388.4 318.4 2372.8 C323.3 2357.3 320.5 2359.4 334.3 2352 C348.2 2344.6 343.9 2347.6 359.8 2350.7 C375.6 2353.8 371.7 2350 381.8 2361.2 C392 2372.5 390 2369 390.2 2384.5 C390.4 2400.1 392.2 2396.4 382.5 2407.9Z" fill="url(#cellg)"/><ellipse cx="344" cy="2373.4" rx="10.3" ry="5.2" fill="#fff" opacity="0.22" transform="rotate(-30 344 2373.4)"/><path d="M222.3 2426.4 C229.4 2416.5 226 2417.2 237 2414.5 C248.1 2411.9 245.5 2412.7 255.4 2418.4 C265.4 2424.2 261.9 2421.5 266.9 2431.9 C271.8 2442.3 273.3 2439.2 270.4 2449.6 C267.5 2460.1 267.9 2456.7 258.2 2463.2 C248.4 2469.7 252.3 2470 241.1 2469.2 C229.9 2468.4 233.1 2469.1 224.7 2460.7 C216.2 2452.3 216.5 2455.5 215.7 2444.1 C214.9 2432.6 215.2 2436.2 222.3 2426.4Z" fill="#b03a8c" opacity="0.45" transform="translate(1.5 3)"/><path d="M222.3 2426.4 C229.4 2416.5 226 2417.2 237 2414.5 C248.1 2411.9 245.5 2412.7 255.4 2418.4 C265.4 2424.2 261.9 2421.5 266.9 2431.9 C271.8 2442.3 273.3 2439.2 270.4 2449.6 C267.5 2460.1 267.9 2456.7 258.2 2463.2 C248.4 2469.7 252.3 2470 241.1 2469.2 C229.9 2468.4 233.1 2469.1 224.7 2460.7 C216.2 2452.3 216.5 2455.5 215.7 2444.1 C214.9 2432.6 215.2 2436.2 222.3 2426.4Z" fill="url(#cellg)"/><ellipse cx="236.4" cy="2433.5" rx="7.5" ry="3.7" fill="#fff" opacity="0.22" transform="rotate(-30 236.4 2433.5)"/><path d="M319.1 2305.7 C324.4 2291.3 322.5 2295.5 336.4 2287.6 C350.2 2279.6 345.5 2279.2 360.6 2281.7 C375.6 2284.3 370.8 2283.2 381.4 2295.3 C392.1 2307.4 392 2302.5 392.4 2318 C392.9 2333.6 393.4 2330.3 382.8 2341.8 C372.1 2353.3 375.9 2350.2 360.6 2352.6 C345.3 2355 350.2 2356.3 336.8 2349.1 C323.4 2341.8 326.4 2345.3 320.5 2330.8 C314.6 2316.4 313.8 2320.1 319.1 2305.7Z" fill="#b03a8c" opacity="0.45" transform="translate(1.5 3)"/><path d="M319.1 2305.7 C324.4 2291.3 322.5 2295.5 336.4 2287.6 C350.2 2279.6 345.5 2279.2 360.6 2281.7 C375.6 2284.3 370.8 2283.2 381.4 2295.3 C392.1 2307.4 392 2302.5 392.4 2318 C392.9 2333.6 393.4 2330.3 382.8 2341.8 C372.1 2353.3 375.9 2350.2 360.6 2352.6 C345.3 2355 350.2 2356.3 336.8 2349.1 C323.4 2341.8 326.4 2345.3 320.5 2330.8 C314.6 2316.4 313.8 2320.1 319.1 2305.7Z" fill="url(#cellg)"/><ellipse cx="344" cy="2306.5" rx="10.3" ry="5.2" fill="#fff" opacity="0.22" transform="rotate(-30 344 2306.5)"/><path d="M485.7 2075.5 C498.5 2073.8 495.3 2071.8 506 2078.7 C516.8 2085.7 515.3 2083.7 517.9 2096.2 C520.5 2108.7 519.5 2104.2 513.9 2116.1 C508.3 2128.1 512.2 2126.9 501.2 2132.1 C490.1 2137.2 492.9 2135.4 480.8 2131.5 C468.7 2127.7 472.5 2130.5 464.8 2120.4 C457.1 2110.4 456.8 2113.7 457.8 2101.4 C458.8 2089.1 458.4 2092.2 467.7 2083.6 C477 2074.9 473 2077.1 485.7 2075.5Z" fill="#b03a8c" opacity="0.45" transform="translate(1.5 3)"/><path d="M485.7 2075.5 C498.5 2073.8 495.3 2071.8 506 2078.7 C516.8 2085.7 515.3 2083.7 517.9 2096.2 C520.5 2108.7 519.5 2104.2 513.9 2116.1 C508.3 2128.1 512.2 2126.9 501.2 2132.1 C490.1 2137.2 492.9 2135.4 480.8 2131.5 C468.7 2127.7 472.5 2130.5 464.8 2120.4 C457.1 2110.4 456.8 2113.7 457.8 2101.4 C458.8 2089.1 458.4 2092.2 467.7 2083.6 C477 2074.9 473 2077.1 485.7 2075.5Z" fill="url(#cellg)"/><ellipse cx="479.8" cy="2094.5" rx="8.4" ry="4.2" fill="#fff" opacity="0.22" transform="rotate(-30 479.8 2094.5)"/><path d="M448.4 2398.6 C458.2 2409.2 455.6 2404.9 457.2 2419.5 C458.7 2434 461.2 2431.3 453 2442.3 C444.7 2453.2 446.8 2448.6 432.4 2452.3 C418 2455.9 421.9 2458.9 409.7 2453.1 C397.6 2447.4 401.3 2448.2 396.1 2435 C390.8 2421.8 391.1 2427.6 394 2413.5 C396.8 2399.4 393.2 2401.2 404.5 2392.7 C415.8 2384.1 413.3 2385.9 427.9 2387.9 C442.6 2389.8 438.7 2388.1 448.4 2398.6Z" fill="#b03a8c" opacity="0.45" transform="translate(1.5 3)"/><path d="M448.4 2398.6 C458.2 2409.2 455.6 2404.9 457.2 2419.5 C458.7 2434 461.2 2431.3 453 2442.3 C444.7 2453.2 446.8 2448.6 432.4 2452.3 C418 2455.9 421.9 2458.9 409.7 2453.1 C397.6 2447.4 401.3 2448.2 396.1 2435 C390.8 2421.8 391.1 2427.6 394 2413.5 C396.8 2399.4 393.2 2401.2 404.5 2392.7 C415.8 2384.1 413.3 2385.9 427.9 2387.9 C442.6 2389.8 438.7 2388.1 448.4 2398.6Z" fill="url(#cellg)"/><ellipse cx="415.2" cy="2411.3" rx="9.4" ry="4.7" fill="#fff" opacity="0.22" transform="rotate(-30 415.2 2411.3)"/><path d="M211.9 2192.4 C199.1 2195.3 202.2 2198 190.9 2192.1 C179.7 2186.2 182.6 2187.6 178.1 2174.7 C173.7 2161.9 172.7 2165.2 177.6 2153.4 C182.5 2141.7 181.3 2145.9 192.9 2139.5 C204.6 2133.1 200.3 2132.2 212.6 2134.2 C224.9 2136.2 222 2135.4 229.8 2145.5 C237.6 2155.6 236.2 2151.9 236.1 2164.5 C236 2177.1 237.6 2174 229.6 2183.4 C221.5 2192.7 224.8 2189.5 211.9 2192.4Z" fill="#b03a8c" opacity="0.45" transform="translate(1.5 3)"/><path d="M211.9 2192.4 C199.1 2195.3 202.2 2198 190.9 2192.1 C179.7 2186.2 182.6 2187.6 178.1 2174.7 C173.7 2161.9 172.7 2165.2 177.6 2153.4 C182.5 2141.7 181.3 2145.9 192.9 2139.5 C204.6 2133.1 200.3 2132.2 212.6 2134.2 C224.9 2136.2 222 2135.4 229.8 2145.5 C237.6 2155.6 236.2 2151.9 236.1 2164.5 C236 2177.1 237.6 2174 229.6 2183.4 C221.5 2192.7 224.8 2189.5 211.9 2192.4Z" fill="url(#cellg)"/><ellipse cx="198.7" cy="2154.7" rx="8.4" ry="4.2" fill="#fff" opacity="0.22" transform="rotate(-30 198.7 2154.7)"/><path d="M469.2 2396 C477.7 2386.4 474.5 2387.8 486.8 2386.1 C499.1 2384.3 494.7 2384.5 506.2 2390.8 C517.7 2397.1 516.6 2393.1 521.3 2405 C526 2416.8 525.1 2413.7 520.3 2426.2 C515.4 2438.8 518.3 2436.6 506.8 2442.7 C495.4 2448.9 499.2 2447.1 485.9 2444.6 C472.7 2442.1 475.2 2445.2 467 2435.3 C458.8 2425.3 460.6 2427.9 461.4 2414.9 C462.1 2401.8 460.7 2405.6 469.2 2396Z" fill="#b03a8c" opacity="0.45" transform="translate(1.5 3)"/><path d="M469.2 2396 C477.7 2386.4 474.5 2387.8 486.8 2386.1 C499.1 2384.3 494.7 2384.5 506.2 2390.8 C517.7 2397.1 516.6 2393.1 521.3 2405 C526 2416.8 525.1 2413.7 520.3 2426.2 C515.4 2438.8 518.3 2436.6 506.8 2442.7 C495.4 2448.9 499.2 2447.1 485.9 2444.6 C472.7 2442.1 475.2 2445.2 467 2435.3 C458.8 2425.3 460.6 2427.9 461.4 2414.9 C462.1 2401.8 460.7 2405.6 469.2 2396Z" fill="url(#cellg)"/><ellipse cx="483.1" cy="2405.7" rx="8.4" ry="4.2" fill="#fff" opacity="0.22" transform="rotate(-30 483.1 2405.7)"/><path d="M297 2229.1 C306.3 2214.3 302.4 2216.3 319 2211.6 C335.5 2206.9 331.3 2207.4 346.5 2215 C361.8 2222.5 357.8 2219.3 364.8 2234.3 C371.7 2249.3 371.1 2244 367.5 2259.9 C363.9 2275.9 366.8 2272.5 354 2282.2 C341.1 2291.8 346.1 2288.8 328.8 2288.9 C311.5 2288.9 314.5 2293.1 301.9 2282.2 C289.4 2271.3 292.8 2273.8 291.2 2256.1 C289.5 2238.4 287.7 2243.9 297 2229.1Z" fill="#b03a8c" opacity="0.45" transform="translate(1.5 3)"/><path d="M297 2229.1 C306.3 2214.3 302.4 2216.3 319 2211.6 C335.5 2206.9 331.3 2207.4 346.5 2215 C361.8 2222.5 357.8 2219.3 364.8 2234.3 C371.7 2249.3 371.1 2244 367.5 2259.9 C363.9 2275.9 366.8 2272.5 354 2282.2 C341.1 2291.8 346.1 2288.8 328.8 2288.9 C311.5 2288.9 314.5 2293.1 301.9 2282.2 C289.4 2271.3 292.8 2273.8 291.2 2256.1 C289.5 2238.4 287.7 2243.9 297 2229.1Z" fill="url(#cellg)"/><ellipse cx="319.7" cy="2238.5" rx="11.2" ry="5.6" fill="#fff" opacity="0.22" transform="rotate(-30 319.7 2238.5)"/><path d="M559.7 2195.3 C568.3 2195.6 565.9 2194 572.7 2199.6 C579.6 2205.2 579.1 2203.2 580.2 2212.1 C581.3 2221 581.3 2218.8 576 2226.2 C570.7 2233.6 572.9 2231.8 564.3 2234.2 C555.7 2236.7 558 2237.1 550.2 2233.5 C542.4 2229.8 544.6 2231.1 540.9 2223.3 C537.3 2215.4 537.3 2218.1 539.3 2209.9 C541.2 2201.7 539.9 2203.5 546.7 2198.6 C553.5 2193.8 551 2195 559.7 2195.3Z" fill="#b03a8c" opacity="0.45" transform="translate(1.5 3)"/><path d="M559.7 2195.3 C568.3 2195.6 565.9 2194 572.7 2199.6 C579.6 2205.2 579.1 2203.2 580.2 2212.1 C581.3 2221 581.3 2218.8 576 2226.2 C570.7 2233.6 572.9 2231.8 564.3 2234.2 C555.7 2236.7 558 2237.1 550.2 2233.5 C542.4 2229.8 544.6 2231.1 540.9 2223.3 C537.3 2215.4 537.3 2218.1 539.3 2209.9 C541.2 2201.7 539.9 2203.5 546.7 2198.6 C553.5 2193.8 551 2195 559.7 2195.3Z" fill="url(#cellg)"/><ellipse cx="552.7" cy="2207.9" rx="5.8" ry="2.9" fill="#fff" opacity="0.22" transform="rotate(-30 552.7 2207.9)"/><path d="M89.2 2356 C79.5 2347 79.4 2350.3 78.5 2337.9 C77.6 2325.4 78.6 2329 86.6 2318.7 C94.5 2308.3 90.5 2310.3 102.5 2306.9 C114.4 2303.6 111.1 2303.2 122.3 2308.5 C133.5 2313.8 130.7 2311.5 136 2322.8 C141.4 2334.1 141.4 2330.5 138.3 2342.5 C135.2 2354.4 137 2351.2 126.8 2358.7 C116.5 2366.2 120.1 2365.8 107.6 2364.9 C95 2364 98.9 2365 89.2 2356Z" fill="#b03a8c" opacity="0.45" transform="translate(1.5 3)"/><path d="M89.2 2356 C79.5 2347 79.4 2350.3 78.5 2337.9 C77.6 2325.4 78.6 2329 86.6 2318.7 C94.5 2308.3 90.5 2310.3 102.5 2306.9 C114.4 2303.6 111.1 2303.2 122.3 2308.5 C133.5 2313.8 130.7 2311.5 136 2322.8 C141.4 2334.1 141.4 2330.5 138.3 2342.5 C135.2 2354.4 137 2351.2 126.8 2358.7 C116.5 2366.2 120.1 2365.8 107.6 2364.9 C95 2364 98.9 2365 89.2 2356Z" fill="url(#cellg)"/><ellipse cx="101.6" cy="2325.4" rx="8.4" ry="4.2" fill="#fff" opacity="0.22" transform="rotate(-30 101.6 2325.4)"/><path d="M325.5 2422.4 C322.3 2436.4 323.1 2431.6 311.2 2441 C299.3 2450.5 304.2 2450.8 289.8 2450.8 C275.4 2450.8 279 2451.2 268 2441 C257 2430.9 258.7 2434.7 256.9 2420.3 C255 2406 254.8 2410.8 262.4 2397.9 C269.9 2385 266.2 2385.6 279.5 2381.6 C292.9 2377.6 288.6 2380 302.4 2385.9 C316.2 2391.7 313.2 2386.8 320.9 2399 C328.6 2411.2 328.7 2408.4 325.5 2422.4Z" fill="#b03a8c" opacity="0.45" transform="translate(1.5 3)"/><path d="M325.5 2422.4 C322.3 2436.4 323.1 2431.6 311.2 2441 C299.3 2450.5 304.2 2450.8 289.8 2450.8 C275.4 2450.8 279 2451.2 268 2441 C257 2430.9 258.7 2434.7 256.9 2420.3 C255 2406 254.8 2410.8 262.4 2397.9 C269.9 2385 266.2 2385.6 279.5 2381.6 C292.9 2377.6 288.6 2380 302.4 2385.9 C316.2 2391.7 313.2 2386.8 320.9 2399 C328.6 2411.2 328.7 2408.4 325.5 2422.4Z" fill="url(#cellg)"/><ellipse cx="281.4" cy="2404.6" rx="9.4" ry="4.7" fill="#fff" opacity="0.22" transform="rotate(-30 281.4 2404.6)"/><path d="M532.3 2154.1 C522.1 2151.2 524 2153.2 518.6 2144.8 C513.3 2136.5 514.9 2139 516.1 2129 C517.4 2119.1 515.7 2121.7 522.4 2115.1 C529.2 2108.4 526.8 2110 536.4 2109.1 C546 2108.2 543.5 2107 551.2 2112.4 C559 2117.7 556.9 2115.7 559.6 2125.1 C562.4 2134.5 562.9 2131.1 559.4 2140.6 C555.8 2150 558.1 2149 549 2153.5 C540 2158 542.4 2157 532.3 2154.1Z" fill="#b03a8c" opacity="0.45" transform="translate(1.5 3)"/><path d="M532.3 2154.1 C522.1 2151.2 524 2153.2 518.6 2144.8 C513.3 2136.5 514.9 2139 516.1 2129 C517.4 2119.1 515.7 2121.7 522.4 2115.1 C529.2 2108.4 526.8 2110 536.4 2109.1 C546 2108.2 543.5 2107 551.2 2112.4 C559 2117.7 556.9 2115.7 559.6 2125.1 C562.4 2134.5 562.9 2131.1 559.4 2140.6 C555.8 2150 558.1 2149 549 2153.5 C540 2158 542.4 2157 532.3 2154.1Z" fill="url(#cellg)"/><ellipse cx="531.8" cy="2123.4" rx="6.6" ry="3.3" fill="#fff" opacity="0.22" transform="rotate(-30 531.8 2123.4)"/><path d="M354.2 2094.3 C342.4 2083.2 343.9 2088.1 341.6 2073 C339.2 2057.9 339.2 2062.8 347.2 2048.9 C355.2 2035 350.7 2037 365.4 2031.4 C380.2 2025.7 377.1 2025.6 391.4 2031.9 C405.7 2038.2 401.4 2036.3 408.5 2050.3 C415.5 2064.4 414.9 2058.7 412.6 2074.1 C410.2 2089.5 413.3 2085.9 401.5 2096.6 C389.6 2107.4 392.8 2107.1 377 2106.4 C361.3 2105.6 366.1 2105.5 354.2 2094.3Z" fill="#b03a8c" opacity="0.45" transform="translate(1.5 3)"/><path d="M354.2 2094.3 C342.4 2083.2 343.9 2088.1 341.6 2073 C339.2 2057.9 339.2 2062.8 347.2 2048.9 C355.2 2035 350.7 2037 365.4 2031.4 C380.2 2025.7 377.1 2025.6 391.4 2031.9 C405.7 2038.2 401.4 2036.3 408.5 2050.3 C415.5 2064.4 414.9 2058.7 412.6 2074.1 C410.2 2089.5 413.3 2085.9 401.5 2096.6 C389.6 2107.4 392.8 2107.1 377 2106.4 C361.3 2105.6 366.1 2105.5 354.2 2094.3Z" fill="url(#cellg)"/><ellipse cx="367.5" cy="2055.5" rx="10.3" ry="5.2" fill="#fff" opacity="0.22" transform="rotate(-30 367.5 2055.5)"/><path d="M153.4 2067.8 C165.6 2058.5 161.4 2057.3 175.1 2058.4 C188.9 2059.5 184.8 2060.6 194.7 2071.1 C204.5 2081.6 202 2076 204.8 2089.9 C207.6 2103.8 210.1 2100.8 203 2112.7 C196 2124.6 197.4 2122.1 183.6 2125.6 C169.9 2129 175 2128.3 161.7 2123 C148.4 2117.7 151.5 2121.9 143.8 2109.7 C136.1 2097.5 135.5 2100.4 138.7 2086.4 C141.9 2072.4 141.3 2077.2 153.4 2067.8Z" fill="#b03a8c" opacity="0.45" transform="translate(1.5 3)"/><path d="M153.4 2067.8 C165.6 2058.5 161.4 2057.3 175.1 2058.4 C188.9 2059.5 184.8 2060.6 194.7 2071.1 C204.5 2081.6 202 2076 204.8 2089.9 C207.6 2103.8 210.1 2100.8 203 2112.7 C196 2124.6 197.4 2122.1 183.6 2125.6 C169.9 2129 175 2128.3 161.7 2123 C148.4 2117.7 151.5 2121.9 143.8 2109.7 C136.1 2097.5 135.5 2100.4 138.7 2086.4 C141.9 2072.4 141.3 2077.2 153.4 2067.8Z" fill="url(#cellg)"/><ellipse cx="164.3" cy="2083.4" rx="9.4" ry="4.7" fill="#fff" opacity="0.22" transform="rotate(-30 164.3 2083.4)"/><path d="M91 2257.2 C92.7 2242.4 91.7 2246.2 103 2236.1 C114.3 2226 109.2 2228.8 124.8 2226.8 C140.5 2224.9 137.5 2221.5 150 2230.2 C162.6 2238.9 158.7 2236.7 162.6 2252.9 C166.5 2269.2 169.1 2265.6 161.7 2278.9 C154.3 2292.3 155.5 2287.6 140.4 2293.1 C125.4 2298.6 130.8 2299.6 116.6 2295.4 C102.4 2291.1 106.5 2293 98 2280.3 C89.4 2267.6 89.3 2271.9 91 2257.2Z" fill="#b03a8c" opacity="0.45" transform="translate(1.5 3)"/><path d="M91 2257.2 C92.7 2242.4 91.7 2246.2 103 2236.1 C114.3 2226 109.2 2228.8 124.8 2226.8 C140.5 2224.9 137.5 2221.5 150 2230.2 C162.6 2238.9 158.7 2236.7 162.6 2252.9 C166.5 2269.2 169.1 2265.6 161.7 2278.9 C154.3 2292.3 155.5 2287.6 140.4 2293.1 C125.4 2298.6 130.8 2299.6 116.6 2295.4 C102.4 2291.1 106.5 2293 98 2280.3 C89.4 2267.6 89.3 2271.9 91 2257.2Z" fill="url(#cellg)"/><ellipse cx="116.5" cy="2249.6" rx="10.3" ry="5.2" fill="#fff" opacity="0.22" transform="rotate(-30 116.5 2249.6)"/><path d="M252.3 2176.6 C244.1 2165.1 244.8 2169.8 245.1 2156 C245.4 2142.2 243.8 2145.4 253.2 2135.1 C262.6 2124.9 259.7 2126.6 273.4 2125.3 C287.1 2124.1 283.1 2123.6 294.4 2131.3 C305.8 2139.1 302 2135.1 307.3 2148.5 C312.6 2161.9 315.4 2159 310.2 2171.6 C305.1 2184.1 305.4 2179.9 291.9 2186.1 C278.5 2192.4 283.1 2193.5 269.9 2190.3 C256.7 2187.1 260.6 2188 252.3 2176.6Z" fill="#b03a8c" opacity="0.45" transform="translate(1.5 3)"/><path d="M252.3 2176.6 C244.1 2165.1 244.8 2169.8 245.1 2156 C245.4 2142.2 243.8 2145.4 253.2 2135.1 C262.6 2124.9 259.7 2126.6 273.4 2125.3 C287.1 2124.1 283.1 2123.6 294.4 2131.3 C305.8 2139.1 302 2135.1 307.3 2148.5 C312.6 2161.9 315.4 2159 310.2 2171.6 C305.1 2184.1 305.4 2179.9 291.9 2186.1 C278.5 2192.4 283.1 2193.5 269.9 2190.3 C256.7 2187.1 260.6 2188 252.3 2176.6Z" fill="url(#cellg)"/><ellipse cx="268" cy="2146.9" rx="9.4" ry="4.7" fill="#fff" opacity="0.22" transform="rotate(-30 268 2146.9)"/><path d="M252.7 2114.9 C245.7 2104.8 247.8 2107.8 249.1 2095.1 C250.4 2082.4 248 2085.4 256.6 2076.8 C265.1 2068.1 262.1 2070.5 274.8 2069.1 C287.5 2067.7 283.5 2065.9 294.7 2072.5 C305.8 2079.2 304.7 2076.5 308.2 2089 C311.6 2101.6 310.9 2097.9 305.1 2110.2 C299.3 2122.5 302.6 2121 290.9 2126 C279.2 2131.1 282.7 2129.1 270 2125.4 C257.3 2121.7 259.6 2125 252.7 2114.9Z" fill="#b03a8c" opacity="0.45" transform="translate(1.5 3)"/><path d="M252.7 2114.9 C245.7 2104.8 247.8 2107.8 249.1 2095.1 C250.4 2082.4 248 2085.4 256.6 2076.8 C265.1 2068.1 262.1 2070.5 274.8 2069.1 C287.5 2067.7 283.5 2065.9 294.7 2072.5 C305.8 2079.2 304.7 2076.5 308.2 2089 C311.6 2101.6 310.9 2097.9 305.1 2110.2 C299.3 2122.5 302.6 2121 290.9 2126 C279.2 2131.1 282.7 2129.1 270 2125.4 C257.3 2121.7 259.6 2125 252.7 2114.9Z" fill="url(#cellg)"/><ellipse cx="269" cy="2087.8" rx="8.4" ry="4.2" fill="#fff" opacity="0.22" transform="rotate(-30 269 2087.8)"/><path d="M391.1 2127.5 C389.8 2140.3 391.2 2136.9 381.8 2145.9 C372.4 2154.9 375.8 2153.8 363 2154.5 C350.3 2155.3 354.1 2155.7 343.5 2148.1 C333 2140.4 334.7 2144 331.3 2131.5 C327.8 2118.9 327.5 2122.6 333.2 2110.4 C338.8 2098.3 336.2 2099.8 348.2 2095 C360.2 2090.2 356.7 2091.9 369.2 2096.1 C381.8 2100.2 378.6 2097.1 385.9 2107.6 C393.2 2118.1 392.5 2114.7 391.1 2127.5Z" fill="#b03a8c" opacity="0.45" transform="translate(1.5 3)"/><path d="M391.1 2127.5 C389.8 2140.3 391.2 2136.9 381.8 2145.9 C372.4 2154.9 375.8 2153.8 363 2154.5 C350.3 2155.3 354.1 2155.7 343.5 2148.1 C333 2140.4 334.7 2144 331.3 2131.5 C327.8 2118.9 327.5 2122.6 333.2 2110.4 C338.8 2098.3 336.2 2099.8 348.2 2095 C360.2 2090.2 356.7 2091.9 369.2 2096.1 C381.8 2100.2 378.6 2097.1 385.9 2107.6 C393.2 2118.1 392.5 2114.7 391.1 2127.5Z" fill="url(#cellg)"/><ellipse cx="352.6" cy="2114.6" rx="8.4" ry="4.2" fill="#fff" opacity="0.22" transform="rotate(-30 352.6 2114.6)"/><path d="M463.2 2104.7 C472.8 2109.6 470.4 2107.6 474.8 2117.8 C479.1 2128 479.5 2125 476.3 2135.3 C473 2145.6 474.5 2142.2 465 2148.8 C455.5 2155.4 459.2 2155.9 447.8 2155.1 C436.4 2154.3 438.3 2155.3 430.8 2146.5 C423.3 2137.7 425.2 2140.2 425.3 2128.7 C425.5 2117.3 424.4 2120.7 431.2 2112.1 C438.1 2103.5 435.2 2105.4 445.9 2102.9 C456.5 2100.5 453.6 2099.7 463.2 2104.7Z" fill="#b03a8c" opacity="0.45" transform="translate(1.5 3)"/><path d="M463.2 2104.7 C472.8 2109.6 470.4 2107.6 474.8 2117.8 C479.1 2128 479.5 2125 476.3 2135.3 C473 2145.6 474.5 2142.2 465 2148.8 C455.5 2155.4 459.2 2155.9 447.8 2155.1 C436.4 2154.3 438.3 2155.3 430.8 2146.5 C423.3 2137.7 425.2 2140.2 425.3 2128.7 C425.5 2117.3 424.4 2120.7 431.2 2112.1 C438.1 2103.5 435.2 2105.4 445.9 2102.9 C456.5 2100.5 453.6 2099.7 463.2 2104.7Z" fill="url(#cellg)"/><ellipse cx="443.9" cy="2119" rx="7.5" ry="3.7" fill="#fff" opacity="0.22" transform="rotate(-30 443.9 2119)"/><path d="M324.9 2136.4 C316.4 2136.8 318.8 2138 312 2133.1 C305.1 2128.2 306 2129.9 304.4 2121.7 C302.8 2113.4 302.9 2115.6 307.2 2108.4 C311.4 2101.2 309.4 2103.5 317.2 2100 C325 2096.5 323 2095.4 330.6 2097.9 C338.3 2100.4 336 2100.1 340.2 2107.6 C344.4 2115 344.3 2112.1 343.3 2120.2 C342.3 2128.4 343.4 2126.6 337.2 2132 C331.1 2137.4 333.3 2136 324.9 2136.4Z" fill="#b03a8c" opacity="0.45" transform="translate(1.5 3)"/><path d="M324.9 2136.4 C316.4 2136.8 318.8 2138 312 2133.1 C305.1 2128.2 306 2129.9 304.4 2121.7 C302.8 2113.4 302.9 2115.6 307.2 2108.4 C311.4 2101.2 309.4 2103.5 317.2 2100 C325 2096.5 323 2095.4 330.6 2097.9 C338.3 2100.4 336 2100.1 340.2 2107.6 C344.4 2115 344.3 2112.1 343.3 2120.2 C342.3 2128.4 343.4 2126.6 337.2 2132 C331.1 2137.4 333.3 2136 324.9 2136.4Z" fill="url(#cellg)"/><ellipse cx="318.6" cy="2111.1" rx="5.6" ry="2.8" fill="#fff" opacity="0.22" transform="rotate(-30 318.6 2111.1)"/><path d="M452.6 2340.7 C445.6 2333.6 446.2 2336.8 445.1 2327.2 C444 2317.6 443.8 2320.6 449.3 2312 C454.8 2303.5 452.1 2304.5 461.6 2301.6 C471.2 2298.7 468.3 2299.2 477.9 2303.5 C487.5 2307.7 486 2305.2 490.4 2314.3 C494.9 2323.5 494 2320.8 491.3 2330.9 C488.5 2341.1 490.6 2338.9 482.2 2344.7 C473.9 2350.6 476.1 2349.9 466.3 2348.6 C456.4 2347.2 459.7 2347.9 452.6 2340.7Z" fill="#b03a8c" opacity="0.45" transform="translate(1.5 3)"/><path d="M452.6 2340.7 C445.6 2333.6 446.2 2336.8 445.1 2327.2 C444 2317.6 443.8 2320.6 449.3 2312 C454.8 2303.5 452.1 2304.5 461.6 2301.6 C471.2 2298.7 468.3 2299.2 477.9 2303.5 C487.5 2307.7 486 2305.2 490.4 2314.3 C494.9 2323.5 494 2320.8 491.3 2330.9 C488.5 2341.1 490.6 2338.9 482.2 2344.7 C473.9 2350.6 476.1 2349.9 466.3 2348.6 C456.4 2347.2 459.7 2347.9 452.6 2340.7Z" fill="url(#cellg)"/><ellipse cx="461.6" cy="2317.5" rx="6.6" ry="3.3" fill="#fff" opacity="0.22" transform="rotate(-30 461.6 2317.5)"/><path d="M182.8 2045.7 C177.4 2033.4 178.6 2036.8 183.1 2023.2 C187.7 2009.6 184.5 2012.1 196.4 2004.8 C208.4 1997.6 205 1998.9 219 2001.5 C233 2004 230 2001.8 238.5 2012.4 C247 2023.1 244.2 2019.3 244.6 2033.4 C244.9 2047.5 247.8 2044.4 239.6 2054.8 C231.3 2065.2 233.2 2062.7 219.7 2064.5 C206.2 2066.4 211.5 2066.5 199.1 2060.2 C186.8 2053.9 188.1 2058 182.8 2045.7Z" fill="#b03a8c" opacity="0.45" transform="translate(1.5 3)"/><path d="M182.8 2045.7 C177.4 2033.4 178.6 2036.8 183.1 2023.2 C187.7 2009.6 184.5 2012.1 196.4 2004.8 C208.4 1997.6 205 1998.9 219 2001.5 C233 2004 230 2001.8 238.5 2012.4 C247 2023.1 244.2 2019.3 244.6 2033.4 C244.9 2047.5 247.8 2044.4 239.6 2054.8 C231.3 2065.2 233.2 2062.7 219.7 2064.5 C206.2 2066.4 211.5 2066.5 199.1 2060.2 C186.8 2053.9 188.1 2058 182.8 2045.7Z" fill="url(#cellg)"/><ellipse cx="204.9" cy="2023.7" rx="8.9" ry="4.5" fill="#fff" opacity="0.22" transform="rotate(-30 204.9 2023.7)"/><path d="M555.9 2326 C552.8 2333.5 554.4 2331.6 547 2335.7 C539.5 2339.8 541.6 2340.2 533.5 2338.3 C525.4 2336.3 527.3 2336.9 522.7 2329.8 C518 2322.7 519.4 2325.7 519.6 2317 C519.8 2308.4 517.8 2310.2 523.3 2303.9 C528.9 2297.6 527.7 2298.6 536.2 2298.2 C544.7 2297.8 542 2297.7 548.8 2302.7 C555.6 2307.6 554.1 2305.2 556.4 2313 C558.8 2320.8 559.1 2318.4 555.9 2326Z" fill="#b03a8c" opacity="0.45" transform="translate(1.5 3)"/><path d="M555.9 2326 C552.8 2333.5 554.4 2331.6 547 2335.7 C539.5 2339.8 541.6 2340.2 533.5 2338.3 C525.4 2336.3 527.3 2336.9 522.7 2329.8 C518 2322.7 519.4 2325.7 519.6 2317 C519.8 2308.4 517.8 2310.2 523.3 2303.9 C528.9 2297.6 527.7 2298.6 536.2 2298.2 C544.7 2297.8 542 2297.7 548.8 2302.7 C555.6 2307.6 554.1 2305.2 556.4 2313 C558.8 2320.8 559.1 2318.4 555.9 2326Z" fill="url(#cellg)"/><ellipse cx="532.8" cy="2311.8" rx="5.6" ry="2.8" fill="#fff" opacity="0.22" transform="rotate(-30 532.8 2311.8)"/><path d="M268.6 2240.4 C260.8 2248.7 263.8 2248.1 252.2 2249.3 C240.5 2250.5 242.9 2251.3 233.6 2244 C224.2 2236.7 226.1 2238.9 224.1 2227.4 C222.2 2216 222.3 2219.8 227.6 2209.6 C233 2199.4 230 2201.4 240.2 2196.9 C250.4 2192.4 247.4 2192.7 258.2 2196.1 C269 2199.5 266.8 2197.6 272.5 2206.9 C278.2 2216.3 276.7 2213 275.4 2224.2 C274.1 2235.3 276.3 2232 268.6 2240.4Z" fill="#b03a8c" opacity="0.45" transform="translate(1.5 3)"/><path d="M268.6 2240.4 C260.8 2248.7 263.8 2248.1 252.2 2249.3 C240.5 2250.5 242.9 2251.3 233.6 2244 C224.2 2236.7 226.1 2238.9 224.1 2227.4 C222.2 2216 222.3 2219.8 227.6 2209.6 C233 2199.4 230 2201.4 240.2 2196.9 C250.4 2192.4 247.4 2192.7 258.2 2196.1 C269 2199.5 266.8 2197.6 272.5 2206.9 C278.2 2216.3 276.7 2213 275.4 2224.2 C274.1 2235.3 276.3 2232 268.6 2240.4Z" fill="url(#cellg)"/><ellipse cx="243.1" cy="2212.7" rx="7.5" ry="3.7" fill="#fff" opacity="0.22" transform="rotate(-30 243.1 2212.7)"/><path d="M176.9 2377.6 C184.5 2364.8 181.7 2366.7 195.5 2362.7 C209.2 2358.7 204.4 2360.3 218.1 2365.6 C231.7 2370.9 229.5 2366.8 236.3 2378.6 C243.1 2390.3 240.9 2386.5 238.5 2400.9 C236.1 2415.3 239.6 2412.6 229.1 2421.7 C218.6 2430.9 221.9 2428.2 207 2428.4 C192 2428.6 195.5 2431.4 184.2 2422.3 C172.8 2413.2 175.2 2416 172.8 2401.1 C170.4 2386.2 169.3 2390.4 176.9 2377.6Z" fill="#b03a8c" opacity="0.45" transform="translate(1.5 3)"/><path d="M176.9 2377.6 C184.5 2364.8 181.7 2366.7 195.5 2362.7 C209.2 2358.7 204.4 2360.3 218.1 2365.6 C231.7 2370.9 229.5 2366.8 236.3 2378.6 C243.1 2390.3 240.9 2386.5 238.5 2400.9 C236.1 2415.3 239.6 2412.6 229.1 2421.7 C218.6 2430.9 221.9 2428.2 207 2428.4 C192 2428.6 195.5 2431.4 184.2 2422.3 C172.8 2413.2 175.2 2416 172.8 2401.1 C170.4 2386.2 169.3 2390.4 176.9 2377.6Z" fill="url(#cellg)"/><ellipse cx="197.7" cy="2384.5" rx="9.4" ry="4.7" fill="#fff" opacity="0.22" transform="rotate(-30 197.7 2384.5)"/><path d="M422.8 2197.6 C413.5 2207.6 417.9 2207.5 405.3 2209.3 C392.8 2211.1 396 2210.5 385.1 2203 C374.2 2195.4 376.6 2198.9 372.7 2186.7 C368.9 2174.5 368.9 2178.5 373.6 2166.3 C378.3 2154.1 375.3 2156.6 386.8 2150 C398.3 2143.4 395.3 2143.4 408.1 2146.5 C420.9 2149.6 416.8 2148.5 425.2 2159.3 C433.6 2170.2 434.1 2166.4 433.3 2179.1 C432.5 2191.9 432.1 2187.5 422.8 2197.6Z" fill="#b03a8c" opacity="0.45" transform="translate(1.5 3)"/><path d="M422.8 2197.6 C413.5 2207.6 417.9 2207.5 405.3 2209.3 C392.8 2211.1 396 2210.5 385.1 2203 C374.2 2195.4 376.6 2198.9 372.7 2186.7 C368.9 2174.5 368.9 2178.5 373.6 2166.3 C378.3 2154.1 375.3 2156.6 386.8 2150 C398.3 2143.4 395.3 2143.4 408.1 2146.5 C420.9 2149.6 416.8 2148.5 425.2 2159.3 C433.6 2170.2 434.1 2166.4 433.3 2179.1 C432.5 2191.9 432.1 2187.5 422.8 2197.6Z" fill="url(#cellg)"/><ellipse cx="392.8" cy="2168.1" rx="8.4" ry="4.2" fill="#fff" opacity="0.22" transform="rotate(-30 392.8 2168.1)"/><path d="M202.6 2243.3 C212.9 2228.4 206.7 2229.2 222.7 2224.3 C238.6 2219.5 235.3 2220.5 250.3 2228.6 C265.4 2236.6 259.5 2232.9 267.8 2248.5 C276.2 2264.1 279.4 2259.8 275.4 2275.4 C271.3 2291 270.6 2285.3 255.7 2295.3 C240.8 2305.2 247.4 2305.8 230.7 2305.2 C214.1 2304.5 218.8 2305.4 205.8 2293.3 C192.9 2281.2 192.9 2285.5 191.8 2268.8 C190.7 2252.1 192.3 2258.1 202.6 2243.3Z" fill="#b03a8c" opacity="0.45" transform="translate(1.5 3)"/><path d="M202.6 2243.3 C212.9 2228.4 206.7 2229.2 222.7 2224.3 C238.6 2219.5 235.3 2220.5 250.3 2228.6 C265.4 2236.6 259.5 2232.9 267.8 2248.5 C276.2 2264.1 279.4 2259.8 275.4 2275.4 C271.3 2291 270.6 2285.3 255.7 2295.3 C240.8 2305.2 247.4 2305.8 230.7 2305.2 C214.1 2304.5 218.8 2305.4 205.8 2293.3 C192.9 2281.2 192.9 2285.5 191.8 2268.8 C190.7 2252.1 192.3 2258.1 202.6 2243.3Z" fill="url(#cellg)"/><ellipse cx="222.6" cy="2251.9" rx="11.2" ry="5.6" fill="#fff" opacity="0.22" transform="rotate(-30 222.6 2251.9)"/><path d="M76.6 2438.1 C69.7 2429.4 70.5 2432.4 70.8 2421.4 C71 2410.4 70.1 2413.8 77.4 2405.1 C84.7 2396.4 81.6 2397.1 92.6 2395.3 C103.6 2393.5 100.2 2393.7 110.3 2399.6 C120.4 2405.5 119.5 2402.5 122.9 2413.1 C126.4 2423.7 125.3 2420.8 120.7 2431.4 C116.2 2442 119 2439.7 109.3 2445 C99.6 2450.3 102.5 2449.6 91.6 2447.3 C80.7 2445 83.6 2446.7 76.6 2438.1Z" fill="#b03a8c" opacity="0.45" transform="translate(1.5 3)"/><path d="M76.6 2438.1 C69.7 2429.4 70.5 2432.4 70.8 2421.4 C71 2410.4 70.1 2413.8 77.4 2405.1 C84.7 2396.4 81.6 2397.1 92.6 2395.3 C103.6 2393.5 100.2 2393.7 110.3 2399.6 C120.4 2405.5 119.5 2402.5 122.9 2413.1 C126.4 2423.7 125.3 2420.8 120.7 2431.4 C116.2 2442 119 2439.7 109.3 2445 C99.6 2450.3 102.5 2449.6 91.6 2447.3 C80.7 2445 83.6 2446.7 76.6 2438.1Z" fill="url(#cellg)"/><ellipse cx="89.2" cy="2413.4" rx="7.5" ry="3.7" fill="#fff" opacity="0.22" transform="rotate(-30 89.2 2413.4)"/><path d="M549.5 2264.9 C551.5 2276.2 551.8 2273.8 545.1 2283.6 C538.4 2293.3 540.7 2291.3 529.4 2294.2 C518.1 2297.1 521.3 2297.2 511.1 2292.3 C501 2287.4 504.5 2289.7 498.9 2279.4 C493.3 2269.2 492.1 2272.5 494.4 2261.5 C496.7 2250.6 496.2 2252.7 505.8 2246.6 C515.3 2240.4 512 2242.1 523.2 2243.1 C534.3 2244.1 530.4 2242.3 539.2 2249.6 C548 2256.8 547.6 2253.6 549.5 2264.9Z" fill="#b03a8c" opacity="0.45" transform="translate(1.5 3)"/><path d="M549.5 2264.9 C551.5 2276.2 551.8 2273.8 545.1 2283.6 C538.4 2293.3 540.7 2291.3 529.4 2294.2 C518.1 2297.1 521.3 2297.2 511.1 2292.3 C501 2287.4 504.5 2289.7 498.9 2279.4 C493.3 2269.2 492.1 2272.5 494.4 2261.5 C496.7 2250.6 496.2 2252.7 505.8 2246.6 C515.3 2240.4 512 2242.1 523.2 2243.1 C534.3 2244.1 530.4 2242.3 539.2 2249.6 C548 2256.8 547.6 2253.6 549.5 2264.9Z" fill="url(#cellg)"/><ellipse cx="514.2" cy="2259.5" rx="7.5" ry="3.7" fill="#fff" opacity="0.22" transform="rotate(-30 514.2 2259.5)"/><path d="M438.8 2243.3 C429.2 2256.8 433 2255.6 417.6 2258.9 C402.2 2262.1 407.6 2260.3 392.7 2253 C377.8 2245.8 379.5 2250.9 373 2237.1 C366.5 2223.3 368.8 2227.3 373.3 2211.6 C377.8 2196 373.7 2199.7 386.5 2190.1 C399.3 2180.5 395.6 2181.1 411.6 2182.7 C427.6 2184.4 423.1 2183.2 434.6 2195 C446.1 2206.8 444.7 2202.1 446.1 2218.2 C447.5 2234.3 448.3 2229.7 438.8 2243.3Z" fill="#b03a8c" opacity="0.45" transform="translate(1.5 3)"/><path d="M438.8 2243.3 C429.2 2256.8 433 2255.6 417.6 2258.9 C402.2 2262.1 407.6 2260.3 392.7 2253 C377.8 2245.8 379.5 2250.9 373 2237.1 C366.5 2223.3 368.8 2227.3 373.3 2211.6 C377.8 2196 373.7 2199.7 386.5 2190.1 C399.3 2180.5 395.6 2181.1 411.6 2182.7 C427.6 2184.4 423.1 2183.2 434.6 2195 C446.1 2206.8 444.7 2202.1 446.1 2218.2 C447.5 2234.3 448.3 2229.7 438.8 2243.3Z" fill="url(#cellg)"/><ellipse cx="397.6" cy="2209.5" rx="10.3" ry="5.2" fill="#fff" opacity="0.22" transform="rotate(-30 397.6 2209.5)"/><path d="M126.9 2174 C117.8 2165 118.4 2169.2 116.8 2156.7 C115.2 2144.3 114.4 2146.7 122.1 2136.6 C129.7 2126.5 127.1 2129.5 139.7 2126.4 C152.2 2123.4 148.3 2122.3 159.6 2127.5 C170.9 2132.8 168.8 2130.7 173.6 2142.1 C178.4 2153.5 177.3 2149.7 174 2161.8 C170.6 2173.9 173.5 2171.1 163.5 2178.5 C153.5 2185.8 156.3 2185.3 144.1 2183.8 C131.9 2182.3 136 2183 126.9 2174Z" fill="#b03a8c" opacity="0.45" transform="translate(1.5 3)"/><path d="M126.9 2174 C117.8 2165 118.4 2169.2 116.8 2156.7 C115.2 2144.3 114.4 2146.7 122.1 2136.6 C129.7 2126.5 127.1 2129.5 139.7 2126.4 C152.2 2123.4 148.3 2122.3 159.6 2127.5 C170.9 2132.8 168.8 2130.7 173.6 2142.1 C178.4 2153.5 177.3 2149.7 174 2161.8 C170.6 2173.9 173.5 2171.1 163.5 2178.5 C153.5 2185.8 156.3 2185.3 144.1 2183.8 C131.9 2182.3 136 2183 126.9 2174Z" fill="url(#cellg)"/><ellipse cx="138.5" cy="2144.7" rx="8.4" ry="4.2" fill="#fff" opacity="0.22" transform="rotate(-30 138.5 2144.7)"/><path d="M72.8 2189.1 C71.2 2176.1 71.2 2180.7 78 2169 C84.8 2157.3 80.8 2158.6 93.1 2154 C105.3 2149.3 102 2150.1 114.8 2155.1 C127.6 2160.2 125.1 2157.3 131.4 2169.1 C137.7 2180.9 136.6 2177.4 133.7 2190.5 C130.8 2203.6 133 2200.4 122.7 2208.5 C112.3 2216.6 116 2214.9 102.7 2214.7 C89.4 2214.5 92.6 2216.5 82.7 2208 C72.7 2199.5 74.3 2202.1 72.8 2189.1Z" fill="#b03a8c" opacity="0.45" transform="translate(1.5 3)"/><path d="M72.8 2189.1 C71.2 2176.1 71.2 2180.7 78 2169 C84.8 2157.3 80.8 2158.6 93.1 2154 C105.3 2149.3 102 2150.1 114.8 2155.1 C127.6 2160.2 125.1 2157.3 131.4 2169.1 C137.7 2180.9 136.6 2177.4 133.7 2190.5 C130.8 2203.6 133 2200.4 122.7 2208.5 C112.3 2216.6 116 2214.9 102.7 2214.7 C89.4 2214.5 92.6 2216.5 82.7 2208 C72.7 2199.5 74.3 2202.1 72.8 2189.1Z" fill="url(#cellg)"/><ellipse cx="95" cy="2174.8" rx="8.4" ry="4.2" fill="#fff" opacity="0.22" transform="rotate(-30 95 2174.8)"/><path d="M186.2 2125.8 C173.9 2115.1 175.8 2119.3 173.2 2103.6 C170.7 2087.9 170.2 2091.9 178.7 2078.7 C187.1 2065.4 183.9 2068.3 198.6 2063.8 C213.2 2059.2 208.6 2059.5 222.6 2065 C236.6 2070.5 232.9 2067.4 240.7 2080.4 C248.4 2093.4 248.1 2088.8 245.9 2104 C243.7 2119.3 246.1 2115.6 234.1 2126.2 C222.2 2136.7 226.1 2135.7 210.1 2135.6 C194.1 2135.4 198.5 2136.4 186.2 2125.8Z" fill="#b03a8c" opacity="0.45" transform="translate(1.5 3)"/><path d="M186.2 2125.8 C173.9 2115.1 175.8 2119.3 173.2 2103.6 C170.7 2087.9 170.2 2091.9 178.7 2078.7 C187.1 2065.4 183.9 2068.3 198.6 2063.8 C213.2 2059.2 208.6 2059.5 222.6 2065 C236.6 2070.5 232.9 2067.4 240.7 2080.4 C248.4 2093.4 248.1 2088.8 245.9 2104 C243.7 2119.3 246.1 2115.6 234.1 2126.2 C222.2 2136.7 226.1 2135.7 210.1 2135.6 C194.1 2135.4 198.5 2136.4 186.2 2125.8Z" fill="url(#cellg)"/><ellipse cx="200.2" cy="2085.6" rx="10.3" ry="5.2" fill="#fff" opacity="0.22" transform="rotate(-30 200.2 2085.6)"/><path d="M324.4 2145.8 C337.7 2142.7 334.3 2140.2 345.5 2146 C356.6 2151.7 352.7 2150.5 357.8 2163 C362.8 2175.5 364.4 2171.8 360.6 2183.5 C356.8 2195.2 357.5 2190.9 346.3 2198.1 C335.1 2205.4 339.7 2206.3 327.1 2205.3 C314.4 2204.4 317.7 2205.2 308.3 2195.4 C299 2185.6 299.9 2189.4 298.9 2176 C298 2162.6 297.1 2165.3 305.6 2155.2 C314 2145.2 311.1 2148.9 324.4 2145.8Z" fill="#b03a8c" opacity="0.45" transform="translate(1.5 3)"/><path d="M324.4 2145.8 C337.7 2142.7 334.3 2140.2 345.5 2146 C356.6 2151.7 352.7 2150.5 357.8 2163 C362.8 2175.5 364.4 2171.8 360.6 2183.5 C356.8 2195.2 357.5 2190.9 346.3 2198.1 C335.1 2205.4 339.7 2206.3 327.1 2205.3 C314.4 2204.4 317.7 2205.2 308.3 2195.4 C299 2185.6 299.9 2189.4 298.9 2176 C298 2162.6 297.1 2165.3 305.6 2155.2 C314 2145.2 311.1 2148.9 324.4 2145.8Z" fill="url(#cellg)"/><ellipse cx="322.5" cy="2164.7" rx="8.4" ry="4.2" fill="#fff" opacity="0.22" transform="rotate(-30 322.5 2164.7)"/><path d="M172.2 2299.4 C187 2293 183 2293.6 198.4 2298.7 C213.9 2303.9 210.7 2301.3 218.5 2314.9 C226.4 2328.5 224.2 2323.8 222 2339.6 C219.9 2355.3 223.1 2350.8 212 2362.2 C200.9 2373.6 204.3 2373.5 188.8 2373.8 C173.3 2374.1 178.8 2373.3 165.5 2363.2 C152.1 2353.1 152.5 2358.6 148.7 2343.5 C145 2328.5 146.3 2332.6 154.2 2317.9 C162 2303.2 157.5 2305.8 172.2 2299.4Z" fill="#b03a8c" opacity="0.45" transform="translate(1.5 3)"/><path d="M172.2 2299.4 C187 2293 183 2293.6 198.4 2298.7 C213.9 2303.9 210.7 2301.3 218.5 2314.9 C226.4 2328.5 224.2 2323.8 222 2339.6 C219.9 2355.3 223.1 2350.8 212 2362.2 C200.9 2373.6 204.3 2373.5 188.8 2373.8 C173.3 2374.1 178.8 2373.3 165.5 2363.2 C152.1 2353.1 152.5 2358.6 148.7 2343.5 C145 2328.5 146.3 2332.6 154.2 2317.9 C162 2303.2 157.5 2305.8 172.2 2299.4Z" fill="url(#cellg)"/><ellipse cx="176.7" cy="2323.2" rx="10.3" ry="5.2" fill="#fff" opacity="0.22" transform="rotate(-30 176.7 2323.2)"/><path d="M255.4 2051.3 C247.5 2041.7 247.6 2045.2 247.7 2033 C247.9 2020.9 247.5 2024.6 255.9 2014.8 C264.2 2004.9 260.1 2006.1 272.9 2003.4 C285.6 2000.7 282.5 2000 294 2006.7 C305.6 2013.5 303.7 2011 307.6 2023.8 C311.5 2036.6 311.2 2033 305.8 2045.1 C300.5 2057.1 302.9 2054.4 291.5 2059.9 C280.1 2065.5 283.7 2064.6 271.7 2061.7 C259.7 2058.9 263.4 2060.8 255.4 2051.3Z" fill="#b03a8c" opacity="0.45" transform="translate(1.5 3)"/><path d="M255.4 2051.3 C247.5 2041.7 247.6 2045.2 247.7 2033 C247.9 2020.9 247.5 2024.6 255.9 2014.8 C264.2 2004.9 260.1 2006.1 272.9 2003.4 C285.6 2000.7 282.5 2000 294 2006.7 C305.6 2013.5 303.7 2011 307.6 2023.8 C311.5 2036.6 311.2 2033 305.8 2045.1 C300.5 2057.1 302.9 2054.4 291.5 2059.9 C280.1 2065.5 283.7 2064.6 271.7 2061.7 C259.7 2058.9 263.4 2060.8 255.4 2051.3Z" fill="url(#cellg)"/><ellipse cx="269" cy="2024.2" rx="8.4" ry="4.2" fill="#fff" opacity="0.22" transform="rotate(-30 269 2024.2)"/><path d="M265.5 2297.5 C282.2 2291 277.2 2290.1 293.4 2295.6 C309.6 2301.1 304.4 2299 314.1 2314 C323.9 2329.1 325.2 2324.3 322.7 2340.8 C320.2 2357.3 320.1 2352.5 306.6 2363.6 C293.1 2374.7 298.8 2373.3 282.2 2374 C265.6 2374.7 270.7 2375.8 256.9 2365.7 C243.1 2355.5 245.4 2360.4 240.8 2343.6 C236.3 2326.8 235 2330.6 243.2 2315.2 C251.5 2299.9 248.8 2304.1 265.5 2297.5Z" fill="#b03a8c" opacity="0.45" transform="translate(1.5 3)"/><path d="M265.5 2297.5 C282.2 2291 277.2 2290.1 293.4 2295.6 C309.6 2301.1 304.4 2299 314.1 2314 C323.9 2329.1 325.2 2324.3 322.7 2340.8 C320.2 2357.3 320.1 2352.5 306.6 2363.6 C293.1 2374.7 298.8 2373.3 282.2 2374 C265.6 2374.7 270.7 2375.8 256.9 2365.7 C243.1 2355.5 245.4 2360.4 240.8 2343.6 C236.3 2326.8 235 2330.6 243.2 2315.2 C251.5 2299.9 248.8 2304.1 265.5 2297.5Z" fill="url(#cellg)"/><ellipse cx="269.5" cy="2322.2" rx="11.2" ry="5.6" fill="#fff" opacity="0.22" transform="rotate(-30 269.5 2322.2)"/><path d="M536.9 2388.4 C525.7 2395.2 528.6 2395.2 516.1 2392.5 C503.6 2389.8 507 2390.6 499.4 2380.3 C491.8 2370 493.7 2374.4 493.4 2361.7 C493.1 2348.9 490.8 2352.4 498.5 2342.1 C506.1 2331.8 503.3 2333.3 516.3 2330.7 C529.4 2328.1 526.1 2327.5 537.6 2334.4 C549.2 2341.2 546.9 2338.7 550.9 2351.3 C554.9 2363.8 554.3 2359.7 549.6 2372.1 C544.9 2384.4 548 2381.6 536.9 2388.4Z" fill="#b03a8c" opacity="0.45" transform="translate(1.5 3)"/><path d="M536.9 2388.4 C525.7 2395.2 528.6 2395.2 516.1 2392.5 C503.6 2389.8 507 2390.6 499.4 2380.3 C491.8 2370 493.7 2374.4 493.4 2361.7 C493.1 2348.9 490.8 2352.4 498.5 2342.1 C506.1 2331.8 503.3 2333.3 516.3 2330.7 C529.4 2328.1 526.1 2327.5 537.6 2334.4 C549.2 2341.2 546.9 2338.7 550.9 2351.3 C554.9 2363.8 554.3 2359.7 549.6 2372.1 C544.9 2384.4 548 2381.6 536.9 2388.4Z" fill="url(#cellg)"/><ellipse cx="513.2" cy="2352.1" rx="8.4" ry="4.2" fill="#fff" opacity="0.22" transform="rotate(-30 513.2 2352.1)"/><path d="M443.8 2211.8 C438.7 2203.1 438.2 2205.2 440.7 2195.6 C443.1 2185.9 442.6 2188.6 451.1 2183 C459.5 2177.3 456 2178.2 466 2178.5 C476 2178.8 473.1 2177.2 481 2183.8 C488.9 2190.3 488.7 2188.3 489.5 2198.1 C490.4 2208 489.7 2205.4 483.5 2213.4 C477.4 2221.4 480.3 2219.4 471.1 2222.1 C462 2224.8 465.2 2225 456.1 2221.5 C447 2218.1 448.9 2220.5 443.8 2211.8Z" fill="#b03a8c" opacity="0.45" transform="translate(1.5 3)"/><path d="M443.8 2211.8 C438.7 2203.1 438.2 2205.2 440.7 2195.6 C443.1 2185.9 442.6 2188.6 451.1 2183 C459.5 2177.3 456 2178.2 466 2178.5 C476 2178.8 473.1 2177.2 481 2183.8 C488.9 2190.3 488.7 2188.3 489.5 2198.1 C490.4 2208 489.7 2205.4 483.5 2213.4 C477.4 2221.4 480.3 2219.4 471.1 2222.1 C462 2224.8 465.2 2225 456.1 2221.5 C447 2218.1 448.9 2220.5 443.8 2211.8Z" fill="url(#cellg)"/><ellipse cx="458.2" cy="2193.7" rx="6.6" ry="3.3" fill="#fff" opacity="0.22" transform="rotate(-30 458.2 2193.7)"/><path d="M141.9 2197.5 C146.4 2187.2 144.9 2190.1 155.1 2185.2 C165.3 2180.3 161.4 2180.8 172.5 2182.8 C183.6 2184.9 181.2 2182.6 188.5 2191.3 C195.7 2200 194.7 2197.3 194.3 2209 C193.9 2220.7 195.1 2217.6 187.2 2226.4 C179.4 2235.1 181.9 2234.3 170.6 2235.2 C159.4 2236.1 163.2 2235.5 153.5 2229.1 C143.8 2222.6 145.4 2226.4 141.5 2215.9 C137.6 2205.4 137.3 2207.7 141.9 2197.5Z" fill="#b03a8c" opacity="0.45" transform="translate(1.5 3)"/><path d="M141.9 2197.5 C146.4 2187.2 144.9 2190.1 155.1 2185.2 C165.3 2180.3 161.4 2180.8 172.5 2182.8 C183.6 2184.9 181.2 2182.6 188.5 2191.3 C195.7 2200 194.7 2197.3 194.3 2209 C193.9 2220.7 195.1 2217.6 187.2 2226.4 C179.4 2235.1 181.9 2234.3 170.6 2235.2 C159.4 2236.1 163.2 2235.5 153.5 2229.1 C143.8 2222.6 145.4 2226.4 141.5 2215.9 C137.6 2205.4 137.3 2207.7 141.9 2197.5Z" fill="url(#cellg)"/><ellipse cx="159.5" cy="2199.3" rx="7.5" ry="3.7" fill="#fff" opacity="0.22" transform="rotate(-30 159.5 2199.3)"/><path d="M456.2 2318.2 C470.7 2327 465.5 2324.7 471.5 2341.9 C477.5 2359.1 479.7 2353.4 474.2 2369.7 C468.6 2386 470.7 2381.6 454.9 2390.7 C439.2 2399.8 443.7 2400.6 427 2396.9 C410.4 2393.3 416.1 2393.8 404.9 2379.7 C393.7 2365.7 394.2 2372.1 393.4 2354.9 C392.6 2337.6 391.1 2340.9 402.6 2327.9 C414.1 2314.8 410 2318.8 427.9 2315.6 C445.8 2312.4 441.7 2309.4 456.2 2318.2Z" fill="#b03a8c" opacity="0.45" transform="translate(1.5 3)"/><path d="M456.2 2318.2 C470.7 2327 465.5 2324.7 471.5 2341.9 C477.5 2359.1 479.7 2353.4 474.2 2369.7 C468.6 2386 470.7 2381.6 454.9 2390.7 C439.2 2399.8 443.7 2400.6 427 2396.9 C410.4 2393.3 416.1 2393.8 404.9 2379.7 C393.7 2365.7 394.2 2372.1 393.4 2354.9 C392.6 2337.6 391.1 2340.9 402.6 2327.9 C414.1 2314.8 410 2318.8 427.9 2315.6 C445.8 2312.4 441.7 2309.4 456.2 2318.2Z" fill="url(#cellg)"/><ellipse cx="423.4" cy="2342.2" rx="11.2" ry="5.6" fill="#fff" opacity="0.22" transform="rotate(-30 423.4 2342.2)"/><g fill="none" stroke-linecap="round"><path d="M391.2 2033.8 C377.1 2040.9 368.4 2037.2 344.3 2057.3 C320.2 2077.3 336.9 2078.7 310.8 2100.8 C284.7 2122.9 283.4 2109.8 257.3 2130.9 C231.2 2152 244.9 2143.9 223.8 2171 C202.8 2198.1 205.6 2182.1 187 2221.2 C168.5 2260.4 166 2257.4 161.9 2301.5 C157.9 2345.7 165.1 2328.3 173.7 2368.5 C182.2 2408.6 185.4 2415.3 190.4 2435.4" stroke="#e87a68" stroke-width="10.2"/><path d="M391.2 2033.8 C377.1 2040.9 368.4 2037.2 344.3 2057.3 C320.2 2077.3 336.9 2078.7 310.8 2100.8 C284.7 2122.9 283.4 2109.8 257.3 2130.9 C231.2 2152 233.9 2159 223.8 2171" stroke="#e87a68" stroke-width="22.8"/><path d="M257.3 2130.9 C239.2 2132.4 229.2 2138.9 197.1 2135.9 C165 2132.9 171.3 2111.3 150.2 2120.8 C129.2 2130.4 133.8 2153.6 126.8 2167.7" stroke="#e87a68" stroke-width="5.9"/><path d="M257.3 2130.9 C239.2 2132.4 215.1 2134.4 197.1 2135.9" stroke="#e87a68" stroke-width="10.2"/><path d="M223.8 2171 C227.9 2190.1 223.2 2195.5 237.2 2234.6 C251.3 2273.8 254.6 2259.4 270.7 2301.5 C286.8 2343.7 280.7 2335 290.8 2375.2 C300.8 2415.3 300.1 2417.3 304.2 2435.4" stroke="#e87a68" stroke-width="5.2"/><path d="M223.8 2171 C227.9 2190.1 223.2 2195.5 237.2 2234.6 C251.3 2273.8 260.7 2281.5 270.7 2301.5" stroke="#e87a68" stroke-width="9.6"/><path d="M187 2221.2 C171 2225.2 160.6 2221.6 133.5 2234.6 C106.4 2247.7 107.7 2255.7 96.7 2264.7" stroke="#e87a68" stroke-width="5.9"/><path d="M187 2221.2 C171 2225.2 149.6 2230.6 133.5 2234.6" stroke="#e87a68" stroke-width="9.6"/><path d="M161.9 2301.5 C152.4 2311.6 142.7 2306.9 130.2 2335 C117.6 2363.1 123.1 2377.2 120.1 2395.2" stroke="#e87a68" stroke-width="4.6"/><path d="M161.9 2301.5 C152.4 2311.6 139.7 2325 130.2 2335" stroke="#e87a68" stroke-width="7.1"/><path d="M401.2 2040.5 C409.2 2058.6 412.9 2062.6 428 2100.8 C443 2138.9 437.3 2127.5 451.4 2167.7 C465.4 2207.8 459.8 2194.5 474.8 2234.6 C489.9 2274.8 491 2261.4 501.6 2301.5 C512.1 2341.7 513 2326.3 509.9 2368.5 C506.9 2410.6 497.1 2420 491.5 2442.1" stroke="#e87a68" stroke-width="9"/><path d="M401.2 2040.5 C409.2 2058.6 412.9 2062.6 428 2100.8 C443 2138.9 437.3 2127.5 451.4 2167.7 C465.4 2207.8 467.8 2214.5 474.8 2234.6" stroke="#e87a68" stroke-width="20.2"/><path d="M424.6 2097.4 C415.1 2108.5 406.9 2103.1 392.8 2134.2 C378.8 2165.4 383.3 2161 377.8 2201.2 C372.2 2241.3 370.4 2227.9 374.4 2268.1 C378.4 2308.2 380.1 2292.8 391.2 2335 C402.2 2377.2 407.2 2376.5 411.2 2408.6 C415.2 2440.7 406.5 2432 404.5 2442.1" stroke="#e87a68" stroke-width="5.9"/><path d="M424.6 2097.4 C415.1 2108.5 406.9 2103.1 392.8 2134.2 C378.8 2165.4 383.3 2161 377.8 2201.2 C372.2 2241.3 375.4 2248 374.4 2268.1" stroke="#e87a68" stroke-width="10.9"/><path d="M377.8 2201.2 C361.7 2206.2 348.3 2202.8 324.2 2217.9 C300.1 2232.9 311.5 2221.2 297.5 2251.3 C283.4 2281.5 287.4 2285.1 277.4 2318.3 C267.3 2351.4 268 2348.7 264 2361.8" stroke="#e87a68" stroke-width="4.6"/><path d="M377.8 2201.2 C361.7 2206.2 348.3 2202.8 324.2 2217.9 C300.1 2232.9 305.5 2241.3 297.5 2251.3" stroke="#e87a68" stroke-width="7.8"/><path d="M434.7 2114.2 C446.7 2117.2 447.7 2124.2 474.8 2124.2 C501.9 2124.2 498.9 2112.1 525 2114.2 C551.1 2116.2 550.8 2125.9 561.8 2130.9" stroke="#e87a68" stroke-width="4.6"/><path d="M434.7 2114.2 C446.7 2117.2 462.8 2121.2 474.8 2124.2" stroke="#e87a68" stroke-width="7.8"/><path d="M310.8 2047.2 C294.8 2047.2 293.4 2044.7 257.3 2047.2 C221.2 2049.7 222 2047.6 190.4 2055.6 C158.8 2063.6 163.4 2068.5 151.9 2074" stroke="#e87a68" stroke-width="5.2"/><path d="M310.8 2047.2 C294.8 2047.2 273.4 2047.2 257.3 2047.2" stroke="#e87a68" stroke-width="10.9"/><path d="M304.2 2100.8 C302.1 2090.7 307.5 2085.4 297.5 2067.3 C287.4 2049.2 285.8 2053.6 270.7 2040.5 C255.6 2027.5 254.3 2028.8 247.3 2023.8" stroke="#e87a68" stroke-width="4.6"/><path d="M304.2 2100.8 C302.1 2090.7 299.5 2077.3 297.5 2067.3" stroke="#e87a68" stroke-width="7.1"/><path d="M374.4 2268.1 C365.4 2276.1 355.4 2271.8 344.3 2294.8 C333.3 2317.9 335.6 2314.9 337.6 2345 C339.6 2375.2 347 2380.2 351 2395.2" stroke="#e87a68" stroke-width="4"/><path d="M374.4 2268.1 C365.4 2276.1 353.3 2286.8 344.3 2294.8" stroke="#e87a68" stroke-width="6.5"/><path d="M474.8 2234.6 C469.8 2244.7 458.1 2246 458.1 2268.1 C458.1 2290.2 469.8 2296.2 474.8 2308.2" stroke="#e87a68" stroke-width="4"/><path d="M474.8 2234.6 C469.8 2244.7 463.1 2258 458.1 2268.1" stroke="#e87a68" stroke-width="6.5"/><path d="M501.6 2301.5 C507.6 2287.5 512.6 2278.8 521.7 2254.7 C530.7 2230.6 528.7 2231.3 531.7 2221.2" stroke="#e87a68" stroke-width="4"/><path d="M501.6 2301.5 C507.6 2287.5 515.6 2268.7 521.7 2254.7" stroke="#e87a68" stroke-width="5.9"/><path d="M173.7 2368.5 C166.6 2376.5 160.3 2375.2 150.2 2395.2 C140.2 2415.3 143.2 2423.3 140.2 2435.4" stroke="#e87a68" stroke-width="4.6"/><path d="M173.7 2368.5 C166.6 2376.5 157.3 2387.2 150.2 2395.2" stroke="#e87a68" stroke-width="6.5"/><path d="M270.7 2301.5 C262.7 2311.6 254 2308.9 243.9 2335 C233.9 2361.1 239.2 2372.5 237.2 2388.5" stroke="#e87a68" stroke-width="4"/><path d="M270.7 2301.5 C262.7 2311.6 252 2325 243.9 2335" stroke="#e87a68" stroke-width="5.9"/><path d="M391.2 2033.8 C377.1 2040.9 368.4 2037.2 344.3 2057.3 C320.2 2077.3 336.9 2078.7 310.8 2100.8 C284.7 2122.9 283.4 2109.8 257.3 2130.9 C231.2 2152 244.9 2143.9 223.8 2171 C202.8 2198.1 205.6 2182.1 187 2221.2 C168.5 2260.4 166 2257.4 161.9 2301.5 C157.9 2345.7 165.1 2328.3 173.7 2368.5 C182.2 2408.6 185.4 2415.3 190.4 2435.4" stroke="#f59c8a" stroke-width="5.2" transform="translate(-0.8 -0.8)"/><path d="M391.2 2033.8 C377.1 2040.9 368.4 2037.2 344.3 2057.3 C320.2 2077.3 336.9 2078.7 310.8 2100.8 C284.7 2122.9 283.4 2109.8 257.3 2130.9 C231.2 2152 233.9 2159 223.8 2171" stroke="#f59c8a" stroke-width="13.2" transform="translate(-1 -1)"/><path d="M257.3 2130.9 C239.2 2132.4 229.2 2138.9 197.1 2135.9 C165 2132.9 171.3 2111.3 150.2 2120.8 C129.2 2130.4 133.8 2153.6 126.8 2167.7" stroke="#f59c8a" stroke-width="2.6" transform="translate(-0.8 -0.8)"/><path d="M257.3 2130.9 C239.2 2132.4 215.1 2134.4 197.1 2135.9" stroke="#f59c8a" stroke-width="5.4" transform="translate(-1 -1)"/><path d="M223.8 2171 C227.9 2190.1 223.2 2195.5 237.2 2234.6 C251.3 2273.8 254.6 2259.4 270.7 2301.5 C286.8 2343.7 280.7 2335 290.8 2375.2 C300.8 2415.3 300.1 2417.3 304.2 2435.4" stroke="#f59c8a" stroke-width="2.2" transform="translate(-0.8 -0.8)"/><path d="M223.8 2171 C227.9 2190.1 223.2 2195.5 237.2 2234.6 C251.3 2273.8 260.7 2281.5 270.7 2301.5" stroke="#f59c8a" stroke-width="5" transform="translate(-1 -1)"/><path d="M187 2221.2 C171 2225.2 160.6 2221.6 133.5 2234.6 C106.4 2247.7 107.7 2255.7 96.7 2264.7" stroke="#f59c8a" stroke-width="2.6" transform="translate(-0.8 -0.8)"/><path d="M187 2221.2 C171 2225.2 149.6 2230.6 133.5 2234.6" stroke="#f59c8a" stroke-width="5" transform="translate(-1 -1)"/><path d="M161.9 2301.5 C152.4 2311.6 142.7 2306.9 130.2 2335 C117.6 2363.1 123.1 2377.2 120.1 2395.2" stroke="#f59c8a" stroke-width="1.9" transform="translate(-0.8 -0.8)"/><path d="M161.9 2301.5 C152.4 2311.6 139.7 2325 130.2 2335" stroke="#f59c8a" stroke-width="3.5" transform="translate(-1 -1)"/><path d="M401.2 2040.5 C409.2 2058.6 412.9 2062.6 428 2100.8 C443 2138.9 437.3 2127.5 451.4 2167.7 C465.4 2207.8 459.8 2194.5 474.8 2234.6 C489.9 2274.8 491 2261.4 501.6 2301.5 C512.1 2341.7 513 2326.3 509.9 2368.5 C506.9 2410.6 497.1 2420 491.5 2442.1" stroke="#f59c8a" stroke-width="4.5" transform="translate(-0.8 -0.8)"/><path d="M401.2 2040.5 C409.2 2058.6 412.9 2062.6 428 2100.8 C443 2138.9 437.3 2127.5 451.4 2167.7 C465.4 2207.8 467.8 2214.5 474.8 2234.6" stroke="#f59c8a" stroke-width="11.6" transform="translate(-1 -1)"/><path d="M424.6 2097.4 C415.1 2108.5 406.9 2103.1 392.8 2134.2 C378.8 2165.4 383.3 2161 377.8 2201.2 C372.2 2241.3 370.4 2227.9 374.4 2268.1 C378.4 2308.2 380.1 2292.8 391.2 2335 C402.2 2377.2 407.2 2376.5 411.2 2408.6 C415.2 2440.7 406.5 2432 404.5 2442.1" stroke="#f59c8a" stroke-width="2.6" transform="translate(-0.8 -0.8)"/><path d="M424.6 2097.4 C415.1 2108.5 406.9 2103.1 392.8 2134.2 C378.8 2165.4 383.3 2161 377.8 2201.2 C372.2 2241.3 375.4 2248 374.4 2268.1" stroke="#f59c8a" stroke-width="5.8" transform="translate(-1 -1)"/><path d="M377.8 2201.2 C361.7 2206.2 348.3 2202.8 324.2 2217.9 C300.1 2232.9 311.5 2221.2 297.5 2251.3 C283.4 2281.5 287.4 2285.1 277.4 2318.3 C267.3 2351.4 268 2348.7 264 2361.8" stroke="#f59c8a" stroke-width="1.9" transform="translate(-0.8 -0.8)"/><path d="M377.8 2201.2 C361.7 2206.2 348.3 2202.8 324.2 2217.9 C300.1 2232.9 305.5 2241.3 297.5 2251.3" stroke="#f59c8a" stroke-width="3.9" transform="translate(-1 -1)"/><path d="M434.7 2114.2 C446.7 2117.2 447.7 2124.2 474.8 2124.2 C501.9 2124.2 498.9 2112.1 525 2114.2 C551.1 2116.2 550.8 2125.9 561.8 2130.9" stroke="#f59c8a" stroke-width="1.9" transform="translate(-0.8 -0.8)"/><path d="M434.7 2114.2 C446.7 2117.2 462.8 2121.2 474.8 2124.2" stroke="#f59c8a" stroke-width="3.9" transform="translate(-1 -1)"/><path d="M310.8 2047.2 C294.8 2047.2 293.4 2044.7 257.3 2047.2 C221.2 2049.7 222 2047.6 190.4 2055.6 C158.8 2063.6 163.4 2068.5 151.9 2074" stroke="#f59c8a" stroke-width="2.2" transform="translate(-0.8 -0.8)"/><path d="M310.8 2047.2 C294.8 2047.2 273.4 2047.2 257.3 2047.2" stroke="#f59c8a" stroke-width="5.8" transform="translate(-1 -1)"/><path d="M304.2 2100.8 C302.1 2090.7 307.5 2085.4 297.5 2067.3 C287.4 2049.2 285.8 2053.6 270.7 2040.5 C255.6 2027.5 254.3 2028.8 247.3 2023.8" stroke="#f59c8a" stroke-width="1.9" transform="translate(-0.8 -0.8)"/><path d="M304.2 2100.8 C302.1 2090.7 299.5 2077.3 297.5 2067.3" stroke="#f59c8a" stroke-width="3.5" transform="translate(-1 -1)"/><path d="M374.4 2268.1 C365.4 2276.1 355.4 2271.8 344.3 2294.8 C333.3 2317.9 335.6 2314.9 337.6 2345 C339.6 2375.2 347 2380.2 351 2395.2" stroke="#f59c8a" stroke-width="1.5" transform="translate(-0.8 -0.8)"/><path d="M374.4 2268.1 C365.4 2276.1 353.3 2286.8 344.3 2294.8" stroke="#f59c8a" stroke-width="3.1" transform="translate(-1 -1)"/><path d="M474.8 2234.6 C469.8 2244.7 458.1 2246 458.1 2268.1 C458.1 2290.2 469.8 2296.2 474.8 2308.2" stroke="#f59c8a" stroke-width="1.5" transform="translate(-0.8 -0.8)"/><path d="M474.8 2234.6 C469.8 2244.7 463.1 2258 458.1 2268.1" stroke="#f59c8a" stroke-width="3.1" transform="translate(-1 -1)"/><path d="M501.6 2301.5 C507.6 2287.5 512.6 2278.8 521.7 2254.7 C530.7 2230.6 528.7 2231.3 531.7 2221.2" stroke="#f59c8a" stroke-width="1.5" transform="translate(-0.8 -0.8)"/><path d="M501.6 2301.5 C507.6 2287.5 515.6 2268.7 521.7 2254.7" stroke="#f59c8a" stroke-width="2.7" transform="translate(-1 -1)"/><path d="M173.7 2368.5 C166.6 2376.5 160.3 2375.2 150.2 2395.2 C140.2 2415.3 143.2 2423.3 140.2 2435.4" stroke="#f59c8a" stroke-width="1.9" transform="translate(-0.8 -0.8)"/><path d="M173.7 2368.5 C166.6 2376.5 157.3 2387.2 150.2 2395.2" stroke="#f59c8a" stroke-width="3.1" transform="translate(-1 -1)"/><path d="M270.7 2301.5 C262.7 2311.6 254 2308.9 243.9 2335 C233.9 2361.1 239.2 2372.5 237.2 2388.5" stroke="#f59c8a" stroke-width="1.5" transform="translate(-0.8 -0.8)"/><path d="M270.7 2301.5 C262.7 2311.6 252 2325 243.9 2335" stroke="#f59c8a" stroke-width="2.7" transform="translate(-1 -1)"/></g><g fill="none" stroke-linecap="round" stroke-width="1.4"><path d="M225.7 2081.4 L231.7 2083.4 M225.4 2082.9 L231.4 2086.1 M225.1 2083.8 L230.2 2087.3 M223.6 2086.2 L227.6 2091.7 M222.8 2087.1 L225 2091.7 M221.5 2088 L223.8 2094.7 M220.4 2088.6 L221.2 2094 M217.3 2089.2 L215.9 2094.9 M216.8 2089.2 L215.1 2094.5 M213.9 2088.6 L210.5 2093 M213 2088.1 L208.8 2092.7 M211.1 2086.7 L206 2089.7 M210.7 2086.3 L205.3 2089 M209.7 2084.9 L204.9 2086.1 M208.9 2083 L202.6 2083.2 M208.6 2081.1 L202.4 2079.9 M208.7 2079.5 L204.1 2077.5 M209.1 2078 L203.6 2074.6 M210.6 2075.2 L207.6 2070.9 M211.1 2074.7 L208.8 2070.5 M213.1 2073.2 L211.8 2067.9 M213.9 2072.8 L213 2066.6 M216.4 2072.2 L217.4 2066.5 M217.5 2072.2 L219.1 2066.2 M219.9 2072.6 L223 2067.8 M220.9 2073 L225.3 2067.7 M223.3 2074.8 L228.8 2071.6 M224.5 2076.4 L230.4 2074.6 M224.8 2077 L229.8 2076.1 M225.5 2079.1 L231.5 2079.4" stroke="#8cc4f2"/><path d="M222.5 2081.7 L227.5 2082.6 M222.2 2082.6 L227 2084.5 M222 2083.2 L226.5 2085.5 M220.9 2084.6 L224.4 2088.4 M220.3 2085.1 L223.2 2089.3 M219.4 2085.6 L221.6 2090.2 M218.7 2085.9 L220.2 2090.8 M216.7 2086.1 L216.2 2091.2 M216.3 2086.1 L215.6 2091.1 M214.6 2085.5 L212.1 2089.9 M214 2085.1 L211.1 2089.3 M212.9 2084.1 L208.9 2087.3 M212.7 2083.8 L208.5 2086.7 M212.2 2082.8 L207.5 2084.9 M211.8 2081.6 L206.8 2082.4 M211.7 2080.4 L206.6 2080 M211.9 2079.4 L206.9 2078.1 M212.2 2078.4 L207.6 2076.3 M213.4 2076.8 L209.8 2073.1 M213.7 2076.5 L210.5 2072.5 M215.1 2075.7 L213.1 2070.9 M215.6 2075.5 L214.2 2070.6 M217.3 2075.3 L217.4 2070.2 M217.9 2075.3 L218.6 2070.3 M219.4 2075.8 L221.5 2071.1 M220 2076.1 L222.8 2071.8 M221.4 2077.4 L225.5 2074.2 M222.1 2078.5 L226.8 2076.4 M222.3 2078.9 L227.1 2077.1 M222.6 2080.2 L227.7 2079.8" stroke="#f4cf6a"/></g><circle cx="217.2" cy="2080.7" r="6.5" fill="#5cd3c2"/><g fill="none" stroke-linecap="round" stroke-width="1.4"><path d="M382.9 2071.8 L389.2 2072.8 M382.7 2074.3 L387.9 2077 M382.4 2075.3 L387.9 2079 M381 2077.8 L384.5 2082.5 M380.1 2078.7 L382.5 2083.4 M379.4 2079.3 L381.4 2084.5 M376.9 2080.5 L377 2085.4 M374.8 2080.8 L373.7 2086 M374 2080.8 L372.4 2085.4 M371 2080.1 L367.1 2085.3 M369.6 2079.4 L365 2083.5 M369.3 2079.2 L365 2082.6 M367.5 2077.3 L362.8 2079.1 M366.4 2075.1 L360.8 2075.5 M366.2 2074.7 L359.6 2075 M365.9 2073 L359.1 2071.9 M366.1 2070.6 L360.6 2068.1 M366.5 2069.1 L361.8 2065.6 M367.2 2067.8 L364 2064.1 M369.2 2065.6 L367.1 2060.7 M370.6 2064.7 L369.5 2059.6 M372.6 2064 L372.6 2057.2 M374 2063.8 L375.1 2057.4 M375.5 2063.9 L377.7 2057.8 M376.4 2064 L379.2 2058.9 M379.2 2065.2 L383.1 2061.8 M380.6 2066.5 L386.5 2063.1 M381.2 2067.2 L386.4 2065 M382.2 2068.8 L387.7 2067.8 M382.9 2071.4 L388.5 2072.2" stroke="#8cc4f2"/><path d="M379.8 2072.5 L385 2072.7 M379.5 2074.1 L384.4 2075.9 M379.3 2074.8 L383.8 2077.1 M378.2 2076.2 L381.8 2079.8 M377.6 2076.7 L380.6 2080.9 M377.1 2077 L379.6 2081.5 M375.5 2077.7 L376.4 2082.7 M374.1 2077.7 L373.8 2082.8 M373.6 2077.7 L372.8 2082.7 M371.7 2077 L369.2 2081.5 M370.9 2076.5 L367.6 2080.4 M370.7 2076.3 L367.3 2080.1 M369.7 2075 L365.3 2077.6 M369.1 2073.5 L364.1 2074.7 M369.1 2073.3 L364 2074.1 M369 2072.2 L363.9 2072 M369.2 2070.7 L364.4 2069.2 M369.6 2069.8 L365.1 2067.3 M370.2 2069 L366.2 2065.8 M371.6 2067.7 L368.9 2063.4 M372.5 2067.3 L370.7 2062.5 M373.8 2066.9 L373.2 2061.9 M374.7 2066.9 L375 2061.8 M375.6 2067 L376.8 2062.1 M376.3 2067.2 L378 2062.4 M377.9 2068.2 L381.2 2064.2 M378.7 2069.1 L382.8 2066 M379.1 2069.5 L383.5 2066.9 M379.6 2070.6 L384.4 2069 M379.8 2072.3 L385 2072.3" stroke="#f4cf6a"/></g><circle cx="374.4" cy="2072.3" r="6.5" fill="#5cd3c2"/><g fill="none" stroke-linecap="round" stroke-width="1.4"><path d="M501.7 2140 L506.5 2141.8 M501.7 2140.2 L508.4 2142.5 M501.2 2142.2 L505.3 2145.2 M500 2144.5 L503.4 2148.9 M498.4 2146 L500.4 2150.9 M496.8 2147 L497.7 2152.4 M495.7 2147.4 L496.2 2154.3 M493.8 2147.8 L492.7 2154.6 M492 2147.7 L490 2152.1 M490 2147.1 L486.4 2152.1 M489.2 2146.8 L485.7 2150.6 M487.1 2145.2 L481.8 2148.2 M485.9 2143.6 L479.7 2145.6 M485.1 2142 L479.1 2142.5 M484.8 2140.7 L478.6 2140.3 M484.7 2139.7 L477.8 2138.5 M484.8 2137.8 L478.8 2135.2 M485.8 2135.1 L481.2 2130.8 M486 2134.7 L481.3 2130 M487.7 2132.7 L485.5 2128 M488.3 2132.3 L486.1 2126.7 M489.8 2131.4 L488.6 2124.6 M492.3 2130.8 L493.2 2124.9 M493.9 2130.8 L495.9 2124.8 M496.5 2131.4 L499.8 2127 M497.3 2131.8 L501.4 2127.2 M498.7 2132.7 L503.6 2129 M500.2 2134.3 L505.5 2132.2 M501.1 2136.1 L507 2135.2 M501.4 2136.8 L508.4 2136.3" stroke="#8cc4f2"/><path d="M498.5 2140.3 L503.5 2141.3 M498.5 2140.4 L503.5 2141.5 M498.1 2141.7 L502.7 2143.9 M497.1 2143 L500.8 2146.5 M496 2143.9 L498.7 2148.2 M495 2144.4 L496.6 2149.2 M494.2 2144.6 L495.2 2149.6 M493 2144.7 L492.8 2149.8 M491.9 2144.5 L490.6 2149.5 M490.6 2144 L488.2 2148.5 M490.2 2143.8 L487.3 2148 M488.9 2142.6 L484.9 2145.7 M488.3 2141.5 L483.7 2143.7 M487.9 2140.4 L482.9 2141.6 M487.8 2139.6 L482.7 2139.9 M487.8 2138.9 L482.7 2138.7 M488 2137.8 L483.1 2136.4 M488.8 2136.1 L484.6 2133.2 M488.9 2135.9 L484.9 2132.8 M490.2 2134.8 L487.3 2130.5 M490.6 2134.5 L488.1 2130 M491.6 2134.1 L490.1 2129.2 M493.2 2133.8 L493.2 2128.7 M494.2 2133.9 L495.2 2128.9 M495.8 2134.5 L498.3 2130 M496.3 2134.8 L499.2 2130.6 M497.1 2135.5 L500.8 2131.9 M497.9 2136.6 L502.4 2134.1 M498.4 2137.8 L503.3 2136.3 M498.5 2138.2 L503.6 2137.3" stroke="#f4cf6a"/></g><circle cx="493.2" cy="2139.3" r="6.5" fill="#5cd3c2"/><g fill="none" stroke-linecap="round" stroke-width="1.4"><path d="M573.6 2141.6 L580.3 2143.8 M573.3 2143.3 L577.5 2146 M572.9 2144.5 L577.3 2148.2 M572 2146 L575.2 2150 M571.2 2146.9 L574.2 2151.8 M569.8 2148.1 L571.7 2153.6 M568.5 2148.7 L569.2 2153.7 M565.7 2149.4 L564.6 2155.1 M564.2 2149.4 L562.1 2155.5 M562.8 2149.1 L560.1 2153.3 M560.5 2148.1 L556 2152.2 M559.3 2147.1 L554 2150.4 M557.8 2145.3 L552.4 2146.8 M557.2 2144 L551.6 2144.6 M556.8 2142.6 L550.5 2142.3 M556.6 2141.2 L551.8 2140.1 M556.8 2139.2 L551 2136.5 M557.4 2137.3 L552.9 2133.7 M558.4 2135.7 L555.3 2131.6 M559.1 2135 L556.2 2130.2 M561.4 2133.3 L560.3 2128.2 M561.9 2133 L561.3 2128.1 M563.5 2132.6 L563.8 2127.2 M566.2 2132.5 L568.4 2126.2 M567.5 2132.7 L570.4 2127.9 M569.1 2133.4 L572.8 2129.3 M571.2 2134.9 L576.4 2131.8 M571.8 2135.6 L576.4 2133.6 M573.1 2137.9 L579.5 2137.1 M573.6 2139.7 L578.9 2140.3" stroke="#8cc4f2"/><path d="M570.5 2141.9 L575.5 2142.9 M570.2 2143 L574.9 2145 M569.8 2143.7 L574.2 2146.4 M569.2 2144.6 L572.9 2148 M568.6 2145.1 L571.9 2149.1 M567.6 2145.7 L570 2150.3 M566.8 2146.1 L568.3 2151 M564.9 2146.3 L564.7 2151.5 M564 2146.2 L562.9 2151.2 M563.1 2145.9 L561.1 2150.7 M561.7 2145.1 L558.5 2149.1 M561 2144.4 L557.1 2147.7 M560.2 2143.2 L555.6 2145.3 M559.9 2142.3 L555 2143.7 M559.8 2141.4 L554.7 2141.9 M559.7 2140.6 L554.6 2140.2 M560 2139.3 L555.1 2137.7 M560.5 2138.1 L556.1 2135.5 M561.2 2137.2 L557.5 2133.7 M561.7 2136.7 L558.4 2132.8 M563.3 2135.8 L561.5 2131 M563.6 2135.7 L562.2 2130.8 M564.7 2135.5 L564.2 2130.4 M566.4 2135.6 L567.5 2130.6 M567.2 2135.9 L569.1 2131.2 M568.2 2136.4 L571 2132.1 M569.4 2137.5 L573.4 2134.3 M569.7 2138 L574 2135.2 M570.4 2139.5 L575.3 2138.2 M570.6 2140.7 L575.7 2140.5" stroke="#f4cf6a"/></g><circle cx="565.2" cy="2140.9" r="6.5" fill="#5cd3c2"/><g fill="none" stroke-linecap="round" stroke-width="1.4"><path d="M275.9 2230 L282.3 2231.7 M275.8 2230.8 L282.4 2233.4 M275.3 2232.6 L280.6 2236.1 M274.6 2234 L279.3 2238.6 M273.5 2235.5 L276.9 2240.9 M271.3 2237.2 L272.9 2243.5 M270.1 2237.7 L270.7 2244.4 M267.4 2238.1 L266.1 2243 M266.4 2238.1 L264.2 2244.7 M264.3 2237.6 L261 2242.3 M263.4 2237.1 L258.9 2242.4 M262.2 2236.4 L257.2 2240.5 M260.1 2234.1 L255.2 2235.6 M259.7 2233.3 L254.3 2234.4 M259 2231.3 L253.4 2231 M258.8 2228.9 L252.3 2226.9 M258.9 2228.1 L252.7 2225.5 M259.3 2226.8 L255.2 2224 M260.6 2224.4 L256.5 2219.2 M262.1 2222.9 L259 2216.6 M263.6 2221.9 L262.6 2216.6 M265.1 2221.4 L264.8 2214.5 M265.8 2221.2 L266.1 2215.3 M267.6 2221.1 L269.2 2216.2 M269.9 2221.5 L273.2 2216.1 M272.3 2222.7 L276.2 2219.4 M273.1 2223.3 L278.8 2219.2 M274.5 2225 L280.2 2223 M274.9 2225.7 L281 2224.3 M275.6 2227.4 L281.8 2227.3" stroke="#8cc4f2"/><path d="M272.7 2230.4 L277.8 2231.1 M272.6 2230.9 L277.6 2232.2 M272.2 2232 L276.8 2234.3 M271.7 2232.9 L275.7 2236 M270.8 2233.8 L274.1 2237.7 M269.3 2234.6 L271.2 2239.4 M268.5 2234.9 L269.7 2239.9 M266.8 2235 L266.3 2240.1 M266.2 2234.9 L265.1 2239.9 M264.9 2234.4 L262.6 2239 M264.3 2234.1 L261.5 2238.4 M263.6 2233.5 L260.1 2237.3 M262.5 2232 L257.9 2234.2 M262.2 2231.5 L257.4 2233.2 M261.9 2230.1 L256.9 2230.6 M262 2228.6 L257 2227.7 M262.1 2228.1 L257.2 2226.7 M262.4 2227.3 L257.8 2225.1 M263.4 2225.8 L259.8 2222.3 M264.4 2225 L261.7 2220.7 M265.5 2224.5 L263.8 2219.7 M266.5 2224.2 L265.7 2219.2 M266.9 2224.2 L266.5 2219.1 M268.1 2224.2 L268.8 2219.2 M269.5 2224.6 L271.6 2220 M270.9 2225.5 L274.3 2221.7 M271.4 2226 L275.2 2222.6 M272.2 2227.1 L276.7 2224.8 M272.4 2227.7 L277.2 2225.8 M272.7 2228.8 L277.8 2228" stroke="#f4cf6a"/></g><circle cx="267.3" cy="2229.6" r="6.5" fill="#5cd3c2"/><g fill="none" stroke-linecap="round" stroke-width="1.4"><path d="M388 2241.1 L394.7 2242.5 M387.6 2243.6 L392.1 2246.4 M387 2245.3 L391.6 2249.5 M386.8 2245.7 L391.8 2250.5 M385.4 2247.4 L388.2 2252.1 M383.8 2248.6 L385.6 2254.5 M382.7 2249.2 L383.7 2255.5 M379.8 2249.8 L378.6 2255.6 M378.1 2249.7 L375.6 2255.4 M376.3 2249.2 L373.2 2253.4 M375.4 2248.8 L371.4 2253.1 M374.3 2248.1 L368.9 2252.6 M372.4 2246.1 L367.7 2247.7 M371.6 2244.6 L365.9 2245.5 M371.2 2243.6 L366.1 2243.6 M370.9 2241.4 L366.2 2240.1 M371.1 2239.4 L365.8 2236.8 M371.4 2238.4 L365.7 2234.8 M372.1 2237 L368.5 2233.2 M374.2 2234.6 L372.1 2229.8 M375.1 2234 L373.3 2228.2 M376.7 2233.2 L376.2 2227.4 M378.6 2232.8 L379.4 2227 M379.6 2232.8 L381.2 2226.3 M381.7 2233.1 L384.3 2228.9 M383.6 2233.8 L388 2228.9 M385.3 2235.1 L390.2 2232 M386.3 2236.3 L391.2 2234.4 M387.3 2238 L392.8 2237.2 M387.6 2238.8 L392.7 2238.7" stroke="#8cc4f2"/><path d="M384.9 2241.7 L389.9 2242.2 M384.5 2243.3 L389.2 2245.2 M383.9 2244.4 L388.2 2247.2 M383.8 2244.6 L387.9 2247.6 M382.8 2245.5 L386 2249.5 M381.7 2246.2 L383.9 2250.9 M381 2246.5 L382.4 2251.4 M379.1 2246.7 L378.7 2251.8 M378 2246.5 L376.6 2251.5 M376.9 2246.1 L374.5 2250.6 M376.4 2245.8 L373.5 2250 M375.7 2245.2 L372.2 2249 M374.7 2243.9 L370.2 2246.3 M374.3 2242.9 L369.4 2244.4 M374.1 2242.2 L369 2243.1 M374 2240.8 L369 2240.3 M374.3 2239.6 L369.5 2237.9 M374.6 2239 L369.9 2236.7 M375.1 2238.1 L371 2235 M376.5 2236.7 L373.8 2232.4 M377.2 2236.4 L375 2231.7 M378.2 2236 L377.1 2231 M379.4 2235.9 L379.5 2230.8 M380.1 2235.9 L380.7 2230.8 M381.4 2236.3 L383.3 2231.5 M382.6 2236.9 L385.5 2232.7 M383.6 2237.8 L387.5 2234.5 M384.1 2238.6 L388.5 2236 M384.6 2239.8 L389.5 2238.3 M384.8 2240.3 L389.8 2239.3" stroke="#f4cf6a"/></g><circle cx="379.4" cy="2241.3" r="6.5" fill="#5cd3c2"/><g fill="none" stroke-linecap="round" stroke-width="1.4"><path d="M491.7 2241.7 L496.7 2243.3 M491.6 2242.6 L497.3 2244.9 M491.2 2244.1 L496.8 2247.6 M489.8 2246.7 L492.6 2250.7 M488.6 2247.8 L491.2 2253.2 M487.2 2248.8 L489.1 2255.5 M485 2249.6 L484.8 2255.3 M483.5 2249.8 L482.2 2256.3 M481.5 2249.7 L479.3 2254 M479.8 2249.2 L476.6 2253.3 M479.5 2249 L475.6 2253.7 M477.1 2247.2 L471.1 2250.9 M476.4 2246.5 L470.3 2249.3 M475.7 2245.5 L469 2247.5 M474.9 2243.4 L468.9 2243.5 M474.7 2241.9 L469.9 2241 M474.7 2240.4 L468.9 2238.3 M475.4 2237.7 L470.2 2233.7 M476.6 2235.8 L473.3 2231.2 M477.9 2234.6 L475.9 2229.8 M479.5 2233.6 L478.5 2228.4 M481.3 2233 L481.4 2227.4 M482.2 2232.8 L482.9 2226.9 M483.3 2232.8 L484.7 2228 M485.9 2233.2 L489.3 2227.8 M486.7 2233.6 L490.3 2229.1 M488.7 2234.8 L494 2230.9 M490.5 2237 L495.3 2235.7 M491 2237.9 L496 2237.2 M491.6 2240 L498.5 2240.5" stroke="#8cc4f2"/><path d="M488.5 2242.1 L493.6 2242.9 M488.4 2242.7 L493.4 2244 M488.1 2243.6 L492.7 2245.7 M487 2245.1 L490.6 2248.8 M486.2 2245.8 L489.1 2250.1 M485.2 2246.3 L487.2 2251 M483.8 2246.7 L484.4 2251.8 M482.8 2246.7 L482.4 2251.8 M481.6 2246.5 L480 2251.4 M480.5 2246.1 L478.1 2250.5 M480.3 2245.9 L477.6 2250.3 M478.9 2244.7 L474.9 2247.8 M478.6 2244.1 L474.2 2246.8 M478.2 2243.5 L473.5 2245.5 M477.8 2242.1 L472.7 2242.8 M477.8 2241.1 L472.6 2241 M477.9 2240.1 L472.9 2239.1 M478.5 2238.5 L474.1 2235.9 M479.4 2237.4 L475.9 2233.7 M480.3 2236.7 L477.6 2232.4 M481.4 2236.2 L479.6 2231.4 M482.5 2235.9 L481.9 2230.8 M483.1 2235.9 L483 2230.8 M483.8 2235.9 L484.4 2230.8 M485.4 2236.4 L487.5 2231.7 M486 2236.6 L488.6 2232.3 M487.1 2237.6 L490.8 2234.1 M488.1 2239.1 L492.8 2237 M488.3 2239.7 L493.2 2238.1 M488.6 2241 L493.7 2240.8" stroke="#f4cf6a"/></g><circle cx="483.2" cy="2241.3" r="6.5" fill="#5cd3c2"/><g fill="none" stroke-linecap="round" stroke-width="1.4"><path d="M523.5 2311.8 L529.6 2313.5 M523.1 2314.1 L527.5 2316.9 M523 2314.4 L528.7 2317.9 M522 2316.4 L525.7 2320.6 M520.3 2318.3 L522.3 2323 M518.6 2319.3 L519.8 2325.1 M518.3 2319.4 L519.5 2326.2 M515.7 2320.1 L514.8 2324.9 M513.5 2320 L510.9 2326 M511.9 2319.5 L508.4 2324.7 M510 2318.5 L506.2 2321.5 M508.7 2317.3 L503.2 2320.4 M508.3 2316.9 L502.7 2319.6 M507.3 2315.3 L501.2 2316.6 M506.6 2313 L500.6 2312.6 M506.5 2312.3 L500.9 2311.3 M506.6 2310.1 L500.6 2307.6 M507.5 2307.5 L502.6 2303.1 M508.1 2306.5 L504.9 2302.5 M509.5 2305 L507.3 2300.1 M511.5 2303.8 L510.6 2298.7 M513.1 2303.3 L513.4 2298.5 M514.5 2303.1 L515.7 2297.6 M516 2303.1 L518 2297.8 M517.3 2303.4 L520.2 2298.4 M519.7 2304.5 L523.8 2300.8 M520.5 2305.1 L525.8 2301.2 M521.5 2306.1 L526.6 2303.8 M522.8 2308.1 L528.6 2307.1 M523.2 2309.3 L529.7 2309" stroke="#8cc4f2"/><path d="M520.3 2312.3 L525.4 2313 M519.9 2313.7 L524.6 2315.7 M519.9 2313.9 L524.5 2316 M519.1 2315.1 L523 2318.4 M517.9 2316.2 L520.6 2320.5 M516.8 2316.7 L518.4 2321.5 M516.5 2316.8 L518 2321.7 M514.9 2317 L514.8 2322.1 M513.5 2316.8 L512.1 2321.7 M512.5 2316.4 L510.2 2321 M511.4 2315.6 L508 2319.5 M510.6 2314.8 L506.5 2317.9 M510.4 2314.5 L506.1 2317.3 M509.9 2313.4 L505 2315.2 M509.5 2311.9 L504.4 2312.3 M509.5 2311.4 L504.4 2311.3 M509.7 2310.1 L504.8 2308.7 M510.5 2308.5 L506.3 2305.5 M511 2307.9 L507.2 2304.5 M512 2307.1 L509.1 2302.8 M513.3 2306.4 L511.7 2301.6 M514.3 2306.2 L513.7 2301.1 M515.3 2306.2 L515.6 2301.1 M516.2 2306.3 L517.3 2301.3 M517 2306.5 L518.9 2301.8 M518.4 2307.4 L521.7 2303.5 M518.9 2307.8 L522.6 2304.3 M519.5 2308.6 L523.7 2305.7 M520.1 2309.9 L525 2308.4 M520.3 2310.7 L525.3 2309.8" stroke="#f4cf6a"/></g><circle cx="515" cy="2311.6" r="6.5" fill="#5cd3c2"/><g fill="none" stroke-linecap="round" stroke-width="1.4"><path d="M302.6 2329.3 L307.6 2330.3 M302.4 2331.9 L307 2334.4 M302.1 2332.9 L307 2336.1 M301.1 2334.9 L304.5 2338.9 M300 2336.2 L303.3 2342 M298.9 2337 L300.6 2341.9 M297.5 2337.8 L298.3 2343.1 M295.7 2338.4 L295.4 2345.4 M293.5 2338.5 L291.5 2345.2 M292.1 2338.3 L289 2344.4 M289.8 2337.4 L285.5 2342 M288.2 2336.1 L283.6 2338.9 M287.5 2335.4 L281.8 2338.1 M286.6 2334 L281.9 2335 M285.7 2331.3 L279.5 2330.8 M285.6 2330.4 L279.8 2329.2 M286 2327.5 L281.3 2324.7 M286.1 2327.1 L281.3 2323.9 M286.9 2325.4 L283 2321.4 M287.8 2324.2 L284.2 2318.8 M290.3 2322.4 L289.1 2316.8 M291.3 2321.9 L290.9 2316.6 M294 2321.5 L295.4 2314.8 M295.3 2321.5 L297.3 2316.8 M296.2 2321.7 L299.2 2315.9 M297.9 2322.3 L302 2317.5 M299.7 2323.6 L303.8 2320.9 M300.7 2324.6 L306.8 2321.5 M301.8 2326.2 L307.9 2324.9 M302.5 2328.6 L308.2 2329.2" stroke="#8cc4f2"/><path d="M299.5 2330.1 L304.7 2330.3 M299.2 2331.8 L304.1 2333.4 M299 2332.3 L303.6 2334.6 M298.2 2333.5 L302.1 2336.9 M297.4 2334.3 L300.5 2338.4 M296.7 2334.8 L299.1 2339.3 M295.7 2335.2 L297.3 2340 M294.6 2335.4 L295 2340.5 M293.2 2335.3 L292.3 2340.4 M292.3 2335.1 L290.6 2339.9 M290.9 2334.4 L287.9 2338.5 M290 2333.5 L286.1 2336.8 M289.6 2332.9 L285.3 2335.7 M289.1 2332 L284.4 2334 M288.7 2330.3 L283.6 2330.5 M288.7 2329.7 L283.6 2329.4 M289.1 2327.9 L284.4 2325.9 M289.2 2327.6 L284.6 2325.4 M289.9 2326.6 L285.8 2323.5 M290.5 2325.9 L287.2 2322.1 M292.2 2324.9 L290.4 2320.1 M292.9 2324.7 L291.7 2319.7 M294.6 2324.6 L295.1 2319.5 M295.4 2324.7 L296.6 2319.7 M296 2324.9 L297.8 2320.1 M297 2325.4 L299.8 2321.1 M298.1 2326.3 L301.8 2322.8 M298.6 2327 L302.9 2324.2 M299.2 2328.1 L304 2326.4 M299.5 2329.7 L304.6 2329.4" stroke="#f4cf6a"/></g><circle cx="294.1" cy="2330" r="6.5" fill="#5cd3c2"/><g fill="none" stroke-linecap="round" stroke-width="1.4"><path d="M640.6 2251.4 L646 2252.9 M640.3 2253.7 L644.9 2256.5 M639.9 2254.8 L644.2 2258.3 M639.1 2256.2 L643.8 2261.4 M638.3 2257.2 L641.4 2262.1 M636.7 2258.5 L638.5 2263.8 M633.9 2259.7 L633.7 2265.2 M632.8 2259.8 L631.8 2265.5 M630.8 2259.8 L628.6 2265.1 M630 2259.6 L627.2 2264.7 M628 2258.8 L623.5 2263.7 M626.3 2257.6 L621.9 2260.4 M625 2256.1 L619.9 2257.9 M624.3 2254.8 L619.1 2255.6 M623.8 2253.3 L617.2 2253.3 M623.6 2251.3 L617.2 2249.8 M623.8 2249.1 L618.5 2246.2 M624.4 2247.7 L620 2244 M625.3 2246.2 L621.1 2241.1 M625.9 2245.5 L622 2239.7 M627.6 2244.1 L626.2 2239.2 M628.9 2243.4 L628.2 2237.9 M630.5 2243 L630.8 2237.3 M632.8 2242.9 L634.8 2236.9 M634.7 2243.2 L638.2 2237.3 M636.6 2244.1 L640.6 2240.3 M638.2 2245.5 L643.7 2242.2 M639.4 2247 L645.6 2245.1 M640.2 2248.6 L645.4 2248.3 M640.3 2249.2 L647.3 2249" stroke="#8cc4f2"/><path d="M637.5 2252 L642.5 2252.5 M637.1 2253.4 L641.9 2255.3 M636.8 2254.1 L641.2 2256.6 M636.2 2254.9 L640 2258.3 M635.6 2255.5 L638.9 2259.4 M634.6 2256.2 L636.9 2260.7 M632.7 2256.7 L633.2 2261.8 M632 2256.8 L631.9 2261.9 M630.7 2256.6 L629.4 2261.5 M630.2 2256.4 L628.4 2261.2 M629 2255.8 L626 2260 M628 2254.9 L624.2 2258.3 M627.3 2253.9 L622.8 2256.3 M626.9 2253 L622 2254.6 M626.7 2252 L621.6 2252.6 M626.7 2250.8 L621.6 2250.2 M627 2249.4 L622.2 2247.6 M627.5 2248.5 L623.1 2245.8 M628.1 2247.6 L624.4 2244.1 M628.5 2247.2 L625.2 2243.3 M629.7 2246.5 L627.5 2241.8 M630.6 2246.1 L629.2 2241.2 M631.6 2245.9 L631.2 2240.8 M633.1 2246 L634.1 2241 M634.3 2246.4 L636.3 2241.7 M635.4 2247.1 L638.5 2243 M636.4 2248 L640.4 2244.9 M637 2249.1 L641.7 2247 M637.4 2250.2 L642.4 2249 M637.4 2250.5 L642.5 2249.8" stroke="#f4cf6a"/></g><circle cx="632.1" cy="2251.3" r="6.5" fill="#5cd3c2"/><g fill="none" stroke-linecap="round" stroke-width="1.4"><path d="M622.2 2325 L627.4 2326.5 M622.1 2325.9 L628 2328.1 M621.6 2328 L626 2331.1 M620.7 2329.8 L624.8 2334.5 M618.7 2331.8 L620.9 2337.2 M617.2 2332.7 L618.6 2339.6 M616.7 2332.9 L617.2 2337.8 M615.1 2333.4 L614.8 2340.1 M612.6 2333.4 L610.3 2339.9 M610.3 2332.8 L606.5 2337.8 M609.4 2332.3 L605.8 2335.7 M608.6 2331.8 L603.6 2336.1 M606.6 2329.7 L600.5 2332 M605.8 2328.3 L599.6 2329.4 M605.3 2326.5 L598.5 2326.2 M605.2 2325.6 L599.4 2324.6 M605.3 2323.5 L599.1 2320.9 M606.2 2320.9 L602.3 2317.3 M606.4 2320.5 L602.7 2316.7 M607.7 2318.8 L604.4 2313.2 M609.3 2317.7 L607.3 2311.5 M610.7 2317 L610.1 2311 M612.3 2316.6 L612.7 2310.3 M614.6 2316.5 L616.8 2310.1 M617 2317.1 L620.6 2312.4 M617.3 2317.2 L621.5 2311.8 M619.9 2319.2 L625.1 2316.3 M620.6 2319.9 L626.9 2317.2 M621.3 2321.1 L626.5 2320 M622.1 2323.5 L628.4 2323.9" stroke="#8cc4f2"/><path d="M619.1 2325.6 L624.1 2326.1 M619 2326.1 L624 2327.3 M618.5 2327.4 L623.1 2329.7 M617.8 2328.5 L621.7 2331.9 M616.4 2329.6 L619 2334.1 M615.4 2330.1 L617 2335 M615.1 2330.2 L616.4 2335.1 M614 2330.4 L614.4 2335.5 M612.4 2330.2 L611.3 2335.2 M611 2329.7 L608.5 2334.1 M610.5 2329.3 L607.4 2333.4 M610 2329 L606.5 2332.7 M608.9 2327.5 L604.4 2329.9 M608.5 2326.6 L603.6 2328.1 M608.3 2325.4 L603.2 2325.8 M608.3 2324.8 L603.1 2324.7 M608.5 2323.5 L603.5 2322.1 M609.2 2321.9 L605 2319 M609.4 2321.7 L605.3 2318.6 M610.3 2320.7 L607.2 2316.7 M611.4 2320 L609.2 2315.4 M612.3 2319.7 L611.1 2314.7 M613.3 2319.5 L613 2314.4 M614.8 2319.7 L615.9 2314.7 M616.3 2320.2 L618.8 2315.8 M616.5 2320.3 L619.1 2315.9 M618 2321.7 L622.1 2318.6 M618.4 2322.2 L622.8 2319.7 M618.7 2323 L623.5 2321.2 M619.1 2324.6 L624.2 2324.3" stroke="#f4cf6a"/></g><circle cx="613.7" cy="2325" r="6.5" fill="#5cd3c2"/><g fill="none" stroke-linecap="round" stroke-width="1.4"><path d="M590.4 2421.2 L595.3 2422 M590.3 2423.6 L596 2426.2 M589.9 2424.9 L594 2427.8 M589 2426.6 L593.5 2431.3 M588 2427.9 L591.5 2433.4 M585.9 2429.5 L587 2434.5 M584.5 2430.1 L584.8 2435.9 M582.9 2430.5 L582.2 2437.5 M581.7 2430.5 L580.3 2435.1 M578.5 2429.8 L575.1 2434.4 M578.1 2429.6 L574.4 2433.8 M576.4 2428.5 L570.8 2432.7 M575.3 2427.4 L570.5 2429.6 M574 2425.3 L568.1 2426.3 M573.4 2423 L566.8 2422.3 M573.4 2422.2 L568.3 2421 M573.7 2419.7 L567.5 2416.3 M573.8 2419.3 L568.3 2415.9 M575.4 2416.5 L571.7 2411.4 M575.8 2416 L572.3 2410.4 M578 2414.4 L576.9 2409.3 M579.5 2413.8 L579.4 2408.6 M580.2 2413.6 L580.5 2408.1 M582.5 2413.5 L584.3 2408.1 M584.8 2414 L588.4 2408.3 M586.8 2415 L592 2410.3 M588.2 2416.3 L593.9 2413 M588.6 2416.7 L593.3 2414.7 M589.8 2418.7 L595.7 2417.8 M590.3 2420.5 L595.2 2421" stroke="#8cc4f2"/><path d="M587.3 2422 L592.4 2422.1 M587.1 2423.6 L592 2425 M586.8 2424.4 L591.4 2426.6 M586.1 2425.4 L590.1 2428.6 M585.4 2426.2 L588.7 2430.1 M583.9 2427 L585.9 2431.8 M583 2427.3 L584 2432.3 M582 2427.4 L582.1 2432.5 M581.2 2427.4 L580.5 2432.5 M579.3 2426.7 L576.8 2431.2 M579 2426.6 L576.2 2430.9 M578 2425.7 L574.2 2429.3 M577.4 2425 L573.1 2427.8 M576.7 2423.6 L571.8 2425.1 M576.5 2422.1 L571.3 2422.1 M576.5 2421.6 L571.4 2421.2 M576.9 2420 L572.1 2418.1 M577 2419.7 L572.3 2417.6 M578.1 2418.1 L574.6 2414.4 M578.5 2417.8 L575.2 2413.8 M579.9 2416.9 L578 2412.2 M580.9 2416.7 L580 2411.6 M581.4 2416.6 L580.9 2411.5 M582.8 2416.7 L583.7 2411.6 M584.2 2417.1 L586.5 2412.5 M585.5 2417.9 L588.8 2414.1 M586.3 2418.8 L590.4 2415.8 M586.5 2419.1 L590.8 2416.4 M587.1 2420.5 L592 2419 M587.3 2421.6 L592.4 2421.3" stroke="#f4cf6a"/></g><circle cx="581.9" cy="2422" r="6.5" fill="#5cd3c2"/><ellipse cx="620.4" cy="2291.5" rx="17" ry="14.5" fill="url(#rbcg)" transform="rotate(-15 620.4 2291.5)"/><ellipse cx="610.3" cy="2395.2" rx="17" ry="14.5" fill="url(#rbcg)" transform="rotate(-15 610.3 2395.2)"/><ellipse cx="595.9" cy="2191.8" rx="11" ry="8" fill="url(#rbcg)" transform="rotate(-15 595.9 2191.8)"/><g clip-path="url(#cone2clip)"><path d="M552 2193 C600 2165 680 2090 740 2031 C775 1995 805 1930 820 1854 L850 1880 L900 2050 L1260 2325 C1080 2280 1000 2254 914 2242 C770 2222 640 2218 552 2232 Z" fill="#f9b0b0" opacity="0.06"/><path d="M552 2193 C600 2165 680 2090 740 2031 C775 1995 805 1930 820 1854" fill="none" stroke="#ee5a62" stroke-width="26" filter="url(#b14)" opacity="0.62"/><path d="M552 2232 C640 2218 770 2222 914 2242 C1000 2254 1080 2280 1260 2325" fill="none" stroke="#ee5a62" stroke-width="26" filter="url(#b14)" opacity="0.62"/><path d="M552 2193 C600 2165 680 2090 740 2031 C775 1995 805 1930 820 1854" fill="none" stroke="#ef7a80" stroke-width="2.2" opacity="0.8"/><path d="M552 2232 C640 2218 770 2222 914 2242 C1000 2254 1080 2280 1260 2325" fill="none" stroke="#ef7a80" stroke-width="2.2" opacity="0.8"/></g><circle cx="552" cy="2212.5" r="19" fill="#f7a0c0" fill-opacity="0.35" stroke="#f08878" stroke-width="2.5"/></g></g>
<g><g clip-path="url(#botclip)"><g clip-path="url(#pinkclip)"><path d="M812 1990 C815 2095 900 2215 1050 2275 C1150 2312 1250 2335 1330 2330 C1480 2318 1650 2230 1720 2110 C1740 2070 1748 2030 1745 1990 L1745 1940 L812 1940 Z" fill="#ec6599"/><ellipse cx="1245.2" cy="2143.9" rx="11.7" ry="13.1" fill="#d2447c" opacity="0.5"/><ellipse cx="816" cy="2183.3" rx="20.8" ry="7.6" fill="#d2447c" opacity="0.5"/><ellipse cx="1331" cy="2218.1" rx="10.5" ry="9.7" fill="#d2447c" opacity="0.5"/><ellipse cx="1471.3" cy="2167.9" rx="18.7" ry="8.1" fill="#d2447c" opacity="0.5"/><ellipse cx="1033.7" cy="2063.8" rx="16.1" ry="13.5" fill="#d2447c" opacity="0.5"/><ellipse cx="1365" cy="2266.1" rx="14.6" ry="12.2" fill="#d2447c" opacity="0.5"/><ellipse cx="905.6" cy="2118.8" rx="18.1" ry="12.1" fill="#d2447c" opacity="0.5"/><ellipse cx="1206.5" cy="2056.8" rx="13.2" ry="8.5" fill="#d2447c" opacity="0.5"/><ellipse cx="1074.3" cy="2276.9" rx="12.4" ry="13.2" fill="#d2447c" opacity="0.5"/><ellipse cx="1636.6" cy="2046.7" rx="14.5" ry="10.4" fill="#d2447c" opacity="0.5"/><ellipse cx="832.1" cy="2159.5" rx="20.9" ry="7.8" fill="#d2447c" opacity="0.5"/><ellipse cx="1371" cy="2067" rx="16.9" ry="13.3" fill="#d2447c" opacity="0.5"/><ellipse cx="1000.9" cy="2032.5" rx="11" ry="10.8" fill="#d2447c" opacity="0.5"/><ellipse cx="826.4" cy="2055.9" rx="16" ry="13.4" fill="#d2447c" opacity="0.5"/><ellipse cx="1204.9" cy="2151.4" rx="17.7" ry="7.7" fill="#d2447c" opacity="0.5"/><ellipse cx="1355" cy="2082.6" rx="17.3" ry="13.7" fill="#d2447c" opacity="0.5"/><ellipse cx="860.9" cy="2199.3" rx="17.3" ry="8" fill="#d2447c" opacity="0.5"/><ellipse cx="1062.2" cy="2333.4" rx="22" ry="7.8" fill="#d2447c" opacity="0.5"/><ellipse cx="1473.1" cy="2320" rx="12.8" ry="11.3" fill="#d2447c" opacity="0.5"/><ellipse cx="850.4" cy="2141.6" rx="18.1" ry="11.1" fill="#d2447c" opacity="0.5"/><ellipse cx="1538.1" cy="2056.5" rx="14.2" ry="13" fill="#d2447c" opacity="0.5"/><ellipse cx="1359.1" cy="2167.6" rx="14.8" ry="13.9" fill="#d2447c" opacity="0.5"/><ellipse cx="1350" cy="2035.6" rx="19.6" ry="9.3" fill="#d2447c" opacity="0.5"/><ellipse cx="1217.6" cy="2095.1" rx="15.3" ry="9.3" fill="#d2447c" opacity="0.5"/><ellipse cx="893.5" cy="2222" rx="11.2" ry="12.5" fill="#d2447c" opacity="0.5"/><ellipse cx="833.9" cy="2268.1" rx="19.7" ry="10.5" fill="#d2447c" opacity="0.5"/><ellipse cx="1476.9" cy="2105.7" rx="18.9" ry="10" fill="#d2447c" opacity="0.5"/><ellipse cx="1027.1" cy="2324" rx="14.8" ry="9.6" fill="#d2447c" opacity="0.5"/><ellipse cx="1618.3" cy="2142.7" rx="18" ry="8.2" fill="#d2447c" opacity="0.5"/><ellipse cx="1602.7" cy="2109" rx="10.6" ry="13.8" fill="#d2447c" opacity="0.5"/><ellipse cx="972.4" cy="2318.7" rx="21.8" ry="11.2" fill="#d2447c" opacity="0.5"/><ellipse cx="821.2" cy="2048.6" rx="12.5" ry="9.7" fill="#d2447c" opacity="0.5"/><ellipse cx="1384.9" cy="2324.8" rx="14.3" ry="8" fill="#d2447c" opacity="0.5"/><ellipse cx="1338.2" cy="2071.9" rx="11" ry="10.9" fill="#d2447c" opacity="0.5"/><ellipse cx="1464.2" cy="2050" rx="15.4" ry="11.9" fill="#d2447c" opacity="0.5"/><ellipse cx="1528.3" cy="2146.8" rx="20.6" ry="8.2" fill="#d2447c" opacity="0.5"/><ellipse cx="1482.5" cy="2265.4" rx="20.6" ry="10.5" fill="#d2447c" opacity="0.5"/><ellipse cx="903.3" cy="2044.8" rx="16.3" ry="8.2" fill="#d2447c" opacity="0.5"/><ellipse cx="1401.9" cy="2055.7" rx="19.4" ry="8.6" fill="#d2447c" opacity="0.5"/><ellipse cx="822.2" cy="2083.6" rx="15.5" ry="10.9" fill="#d2447c" opacity="0.5"/><ellipse cx="1175" cy="2082.8" rx="15.8" ry="13.6" fill="#d2447c" opacity="0.5"/><ellipse cx="1313.3" cy="2317.1" rx="10.3" ry="14" fill="#d2447c" opacity="0.5"/><ellipse cx="1645.7" cy="2196" rx="16.3" ry="10.8" fill="#d2447c" opacity="0.5"/><ellipse cx="1665" cy="2050" rx="17.7" ry="10.8" fill="#d2447c" opacity="0.5"/><ellipse cx="1092.3" cy="2251.1" rx="18.6" ry="7.7" fill="#d2447c" opacity="0.5"/><ellipse cx="1467.5" cy="2168.3" rx="15.9" ry="11.5" fill="#d2447c" opacity="0.5"/><ellipse cx="859.8" cy="2213.9" rx="14.5" ry="13.2" fill="#d2447c" opacity="0.5"/><ellipse cx="1027.2" cy="2281.1" rx="18.8" ry="11.4" fill="#d2447c" opacity="0.5"/><ellipse cx="1633.3" cy="2041" rx="17.2" ry="11.3" fill="#d2447c" opacity="0.5"/><ellipse cx="1447.4" cy="2154" rx="10.8" ry="8.3" fill="#d2447c" opacity="0.5"/><ellipse cx="1381.6" cy="2085.3" rx="10.8" ry="9.5" fill="#d2447c" opacity="0.5"/><ellipse cx="1252" cy="2193.3" rx="10.3" ry="12.4" fill="#d2447c" opacity="0.5"/><ellipse cx="1123.8" cy="2268.8" rx="10.1" ry="13.7" fill="#d2447c" opacity="0.5"/><ellipse cx="1364.8" cy="2327.8" rx="21.8" ry="12.8" fill="#d2447c" opacity="0.5"/><ellipse cx="909.9" cy="2136.4" rx="12.8" ry="12.5" fill="#d2447c" opacity="0.5"/><ellipse cx="990.6" cy="2097.5" rx="11.3" ry="7.8" fill="#d2447c" opacity="0.5"/><ellipse cx="1691.8" cy="2327.7" rx="14.5" ry="12.2" fill="#d2447c" opacity="0.5"/><ellipse cx="1249.5" cy="2189.2" rx="14.4" ry="11.4" fill="#d2447c" opacity="0.5"/><ellipse cx="1032" cy="2108.2" rx="16.2" ry="8.4" fill="#d2447c" opacity="0.5"/><ellipse cx="1222.9" cy="2317.9" rx="10.3" ry="7.7" fill="#d2447c" opacity="0.5"/><ellipse cx="1562" cy="2047.6" rx="13" ry="13" fill="#d2447c" opacity="0.5"/><ellipse cx="1378.9" cy="2097.3" rx="10.7" ry="8.9" fill="#d2447c" opacity="0.5"/><ellipse cx="1092.1" cy="2274.1" rx="21.7" ry="12.5" fill="#d2447c" opacity="0.5"/><ellipse cx="1657.6" cy="2313.9" rx="20.5" ry="13.4" fill="#d2447c" opacity="0.5"/><ellipse cx="1719.5" cy="2058.8" rx="13.8" ry="8.7" fill="#d2447c" opacity="0.5"/><ellipse cx="1377.9" cy="2180" rx="14.2" ry="12.9" fill="#d2447c" opacity="0.5"/><ellipse cx="1185.1" cy="2093.7" rx="13.3" ry="10.2" fill="#d2447c" opacity="0.5"/><ellipse cx="1383.8" cy="2203.4" rx="15.3" ry="8.3" fill="#d2447c" opacity="0.5"/><ellipse cx="1188" cy="2129.1" rx="12" ry="10.8" fill="#d2447c" opacity="0.5"/><ellipse cx="987.2" cy="2247" rx="17.9" ry="8" fill="#d2447c" opacity="0.5"/><ellipse cx="1399.1" cy="2128.1" rx="24.7" ry="22.3" fill="url(#bumpl)"/><ellipse cx="1528.5" cy="2302.7" rx="31.6" ry="25.4" fill="url(#bumpl)"/><ellipse cx="1319.8" cy="2127.3" rx="14.5" ry="12.8" fill="url(#bumpl)"/><ellipse cx="1252.1" cy="2297.4" rx="21.8" ry="20.9" fill="url(#bumpl)"/><ellipse cx="1293.4" cy="2051.7" rx="31.2" ry="25.6" fill="url(#bumpl)"/><ellipse cx="1311.8" cy="2042.9" rx="14.3" ry="14" fill="url(#bumpl)"/><ellipse cx="844.9" cy="2067.7" rx="17.9" ry="13.9" fill="url(#bumpl)"/><ellipse cx="1587.9" cy="2338.5" rx="29.6" ry="25.1" fill="url(#bumpl)"/><ellipse cx="1649" cy="2182" rx="17.2" ry="15.9" fill="url(#bumpl)"/><ellipse cx="1146" cy="2106.4" rx="21.7" ry="18.4" fill="url(#bumpl)"/><ellipse cx="978.3" cy="2216" rx="34.8" ry="31.1" fill="url(#bumpl)"/><ellipse cx="814" cy="2238.9" rx="14.5" ry="12.6" fill="url(#bumpl)"/><ellipse cx="1627.4" cy="2236.7" rx="35.8" ry="33.6" fill="url(#bumpl)"/><ellipse cx="1064.2" cy="2066" rx="24.8" ry="22.8" fill="url(#bumpl)"/><ellipse cx="1025.5" cy="2125.9" rx="32" ry="26.7" fill="url(#bumpl)"/><ellipse cx="1375.8" cy="2194.5" rx="36.3" ry="27.5" fill="url(#bumpl)"/><ellipse cx="982.1" cy="2269.1" rx="30.1" ry="23.3" fill="url(#bumpl)"/><ellipse cx="932.8" cy="2087.5" rx="27" ry="26.4" fill="url(#bumpl)"/><ellipse cx="1010.8" cy="2084.9" rx="30.5" ry="26.1" fill="url(#bumpl)"/><ellipse cx="1609.3" cy="2339.7" rx="36.5" ry="33.9" fill="url(#bumpl)"/><ellipse cx="1276.4" cy="2039.5" rx="33.4" ry="28.4" fill="url(#bumpl)"/><ellipse cx="1245.4" cy="2222.3" rx="37.1" ry="33" fill="url(#bumpl)"/><ellipse cx="1677" cy="2328.5" rx="16" ry="13.4" fill="url(#bumpl)"/><ellipse cx="1649.1" cy="2265.6" rx="37.3" ry="29.7" fill="url(#bumpl)"/><ellipse cx="1309.6" cy="2318.5" rx="27" ry="24.7" fill="url(#bumpl)"/><ellipse cx="1731.2" cy="2075.5" rx="15.4" ry="14.8" fill="url(#bumpl)"/><ellipse cx="1357" cy="2084.1" rx="34" ry="27.9" fill="url(#bumpl)"/><ellipse cx="928.3" cy="2115.2" rx="14.9" ry="12.7" fill="url(#bumpl)"/><ellipse cx="1545.6" cy="2165.3" rx="37.2" ry="28.3" fill="url(#bumpl)"/><ellipse cx="969.4" cy="2066" rx="27.8" ry="22.2" fill="url(#bumpl)"/><ellipse cx="1438.9" cy="2187.4" rx="27.9" ry="26.9" fill="url(#bumpl)"/><ellipse cx="1555.4" cy="2315.1" rx="17.7" ry="14.9" fill="url(#bumpl)"/><ellipse cx="1717.4" cy="2147" rx="20.9" ry="18.2" fill="url(#bumpl)"/><ellipse cx="976.8" cy="2291.5" rx="29.3" ry="22.6" fill="url(#bumpl)"/><ellipse cx="1721.1" cy="2186.5" rx="20.1" ry="18.1" fill="url(#bumpl)"/><ellipse cx="1707.1" cy="2131" rx="14.3" ry="11.5" fill="url(#bumpl)"/><ellipse cx="860.7" cy="2189.2" rx="21.5" ry="20.7" fill="url(#bumpl)"/><ellipse cx="1000.9" cy="2024.8" rx="25.2" ry="19.6" fill="url(#bumpl)"/><ellipse cx="1099.9" cy="2092.2" rx="18.3" ry="16.6" fill="url(#bumpl)"/><ellipse cx="1694.4" cy="2138.4" rx="29.3" ry="24.4" fill="url(#bumpl)"/><ellipse cx="1674.3" cy="2196.9" rx="14.7" ry="13.8" fill="url(#bumpl)"/><ellipse cx="1004.4" cy="2035" rx="14.5" ry="13.9" fill="url(#bumpl)"/><ellipse cx="1479.4" cy="2134.6" rx="27.4" ry="25.4" fill="url(#bumpl)"/><ellipse cx="876.7" cy="2245.9" rx="31" ry="30.6" fill="url(#bumpl)"/><ellipse cx="861.2" cy="2203.2" rx="26.2" ry="25.2" fill="url(#bumpl)"/><ellipse cx="1150.9" cy="2232" rx="35.5" ry="29.7" fill="url(#bumpl)"/><ellipse cx="1294.6" cy="2305.9" rx="14.8" ry="14.7" fill="url(#bumpl)"/><ellipse cx="1102.3" cy="2166.3" rx="20.9" ry="19.8" fill="url(#bumpl)"/><ellipse cx="1311" cy="2259.3" rx="16.5" ry="16" fill="url(#bumpl)"/><ellipse cx="1584.8" cy="2237.7" rx="19.3" ry="15.8" fill="url(#bumpl)"/><ellipse cx="1234.5" cy="2040.8" rx="36.9" ry="31.4" fill="url(#bumpl)"/><ellipse cx="1710.7" cy="2078.5" rx="29.6" ry="28.1" fill="url(#bumpl)"/><ellipse cx="1417.3" cy="2155.4" rx="14.5" ry="12.4" fill="url(#bumpl)"/><ellipse cx="1175.6" cy="2322.4" rx="37.4" ry="37" fill="url(#bumpl)"/><ellipse cx="1736.2" cy="2074" rx="14.7" ry="12.1" fill="url(#bumpl)"/><ellipse cx="812.5" cy="2058" rx="27.9" ry="22.3" fill="url(#bumpl)"/><ellipse cx="1385.2" cy="2141.8" rx="20.6" ry="20.4" fill="url(#bumpl)"/><ellipse cx="982" cy="2302.4" rx="26.6" ry="24.4" fill="url(#bumpl)"/><ellipse cx="941.8" cy="2258.4" rx="35.3" ry="28.3" fill="url(#bumpl)"/><ellipse cx="1254.1" cy="2229.1" rx="25.4" ry="23.8" fill="url(#bumpl)"/><ellipse cx="1417.1" cy="2120.5" rx="30.3" ry="28.6" fill="url(#bumpl)"/><ellipse cx="1245.2" cy="2208.9" rx="29.2" ry="25.4" fill="url(#bumpl)"/><ellipse cx="889.4" cy="2150.5" rx="32.7" ry="30.4" fill="url(#bumpl)"/><ellipse cx="875.5" cy="2173" rx="28.1" ry="24.8" fill="url(#bumpl)"/><ellipse cx="947.3" cy="2226.9" rx="30.7" ry="27.2" fill="url(#bumpl)"/><ellipse cx="1697.6" cy="2204.8" rx="14.3" ry="11.7" fill="url(#bumpl)"/><ellipse cx="1472" cy="2045.5" rx="37.2" ry="34.4" fill="url(#bumpl)"/><ellipse cx="1531.7" cy="2074.4" rx="14.2" ry="13.7" fill="url(#bumpl)"/><ellipse cx="1290.4" cy="2161.5" rx="26.4" ry="24.9" fill="url(#bumpl)"/><ellipse cx="1158.9" cy="2267.3" rx="17.9" ry="17.8" fill="url(#bumpl)"/><ellipse cx="1466.1" cy="2121.9" rx="25.5" ry="24.7" fill="url(#bumpl)"/><ellipse cx="1114.3" cy="2243.7" rx="35.8" ry="35.5" fill="url(#bumpl)"/><ellipse cx="1047.9" cy="2274.3" rx="28.6" ry="27.2" fill="url(#bumpl)"/><ellipse cx="871" cy="2152.2" rx="24.8" ry="23.7" fill="url(#bumpl)"/><ellipse cx="1234.5" cy="2033.4" rx="19" ry="18.2" fill="url(#bumpl)"/><ellipse cx="1643.7" cy="2203.6" rx="15.9" ry="15" fill="url(#bumpl)"/><ellipse cx="1627.9" cy="2111.9" rx="25.6" ry="21" fill="url(#bumpl)"/><ellipse cx="855.8" cy="2254.8" rx="17.8" ry="13.7" fill="url(#bumpl)"/><ellipse cx="1668.9" cy="2050.8" rx="32.2" ry="30.7" fill="url(#bumpl)"/><ellipse cx="1043.2" cy="2139.1" rx="19.4" ry="17.9" fill="url(#bumpl)"/><ellipse cx="1729.9" cy="2258.1" rx="25.8" ry="22.8" fill="url(#bumpl)"/><ellipse cx="1192.6" cy="2248.6" rx="20.5" ry="16.6" fill="url(#bumpl)"/><ellipse cx="1466.5" cy="2101.6" rx="37.7" ry="35.1" fill="url(#bumpl)"/><ellipse cx="979.7" cy="2026.8" rx="28.4" ry="22.2" fill="url(#bumpl)"/><ellipse cx="1280" cy="2212.1" rx="33.4" ry="28.3" fill="url(#bumpl)"/><ellipse cx="1323.7" cy="2280.6" rx="17.2" ry="14.4" fill="url(#bumpl)"/><ellipse cx="1573.3" cy="2134.6" rx="36.3" ry="28" fill="url(#bumpl)"/><ellipse cx="885.7" cy="2136.2" rx="25.1" ry="21.2" fill="url(#bumpl)"/><ellipse cx="1014.5" cy="2163.3" rx="35.5" ry="34.9" fill="url(#bumpl)"/><ellipse cx="1399.8" cy="2102.1" rx="28" ry="22.1" fill="url(#bumpl)"/><ellipse cx="864.7" cy="2274.4" rx="20.4" ry="16.1" fill="url(#bumpl)"/><ellipse cx="1583.8" cy="2059.2" rx="19.7" ry="15.5" fill="url(#bumpl)"/><ellipse cx="1652.8" cy="2238.1" rx="18.3" ry="14.1" fill="url(#bumpl)"/><ellipse cx="1666.5" cy="2061.1" rx="31.2" ry="28.7" fill="url(#bumpl)"/><ellipse cx="1363.7" cy="2173.3" rx="24" ry="19.7" fill="url(#bumpl)"/><ellipse cx="1419.2" cy="2068.2" rx="25.4" ry="20.7" fill="url(#bumpl)"/><ellipse cx="1154.4" cy="2305.1" rx="27.6" ry="25.2" fill="url(#bumpl)"/><ellipse cx="1420" cy="2020.5" rx="32.8" ry="31.8" fill="url(#bumpl)"/><ellipse cx="1513.9" cy="2187.1" rx="34.3" ry="33.8" fill="url(#bumpl)"/><ellipse cx="1067.9" cy="2072.5" rx="22.1" ry="16.7" fill="url(#bumpl)"/><ellipse cx="1028.4" cy="2046.4" rx="14.2" ry="12.1" fill="url(#bumpl)"/><ellipse cx="810.9" cy="2173.8" rx="34.4" ry="31.9" fill="url(#bumpl)"/><ellipse cx="854.6" cy="2252.9" rx="18.6" ry="17.7" fill="url(#bumpl)"/><ellipse cx="1416.6" cy="2194.1" rx="24.5" ry="24.3" fill="url(#bumpl)"/><ellipse cx="1004.5" cy="2307.5" rx="18.9" ry="14.6" fill="url(#bumpl)"/><ellipse cx="1010" cy="2031.9" rx="33.9" ry="27" fill="url(#bumpl)"/><ellipse cx="1349.5" cy="2107.8" rx="22.6" ry="21.4" fill="url(#bumpl)"/><ellipse cx="1326.9" cy="2105.5" rx="31.9" ry="25.1" fill="url(#bumpl)"/><ellipse cx="843.8" cy="2242.4" rx="34.5" ry="32.4" fill="url(#bumpl)"/><ellipse cx="1467.4" cy="2317.8" rx="36.2" ry="32.3" fill="url(#bumpl)"/><ellipse cx="973.4" cy="2205.4" rx="24.2" ry="22.5" fill="url(#bumpl)"/><ellipse cx="1136.4" cy="2043.2" rx="18.6" ry="14.6" fill="url(#bumpl)"/><ellipse cx="1501" cy="2240.3" rx="26.8" ry="22.2" fill="url(#bumpl)"/><ellipse cx="1497.4" cy="2163.2" rx="25.9" ry="20.7" fill="url(#bumpl)"/><ellipse cx="1752.1" cy="2161.6" rx="25.3" ry="20.3" fill="url(#bumpl)"/><ellipse cx="1230.6" cy="2170.7" rx="24.2" ry="22.7" fill="url(#bumpl)"/><ellipse cx="1123.2" cy="2219.3" rx="30.1" ry="23.6" fill="url(#bumpl)"/><ellipse cx="1586.8" cy="2042.4" rx="20.2" ry="19.3" fill="url(#bumpl)"/><ellipse cx="918.2" cy="2108.3" rx="23.9" ry="23.6" fill="url(#bumpl)"/><ellipse cx="1725.4" cy="2089.7" rx="29.4" ry="28.1" fill="url(#bumpl)"/><ellipse cx="1293.3" cy="2120.7" rx="17.7" ry="13.6" fill="url(#bumpl)"/><ellipse cx="847.4" cy="2035.3" rx="31.4" ry="28.2" fill="url(#bumpl)"/><ellipse cx="868.9" cy="2319.7" rx="37.7" ry="32.1" fill="url(#bumpl)"/><ellipse cx="1149.1" cy="2300.2" rx="30" ry="28.1" fill="url(#bumpl)"/><ellipse cx="978.3" cy="2253.2" rx="24.6" ry="18.8" fill="url(#bumpl)"/><ellipse cx="850.6" cy="2104.6" rx="19.6" ry="16" fill="url(#bumpl)"/><ellipse cx="1671" cy="2147.2" rx="19" ry="14.7" fill="url(#bumpl)"/><ellipse cx="858" cy="2149.8" rx="24.1" ry="18.5" fill="url(#bumpl)"/><ellipse cx="1295.7" cy="2130.2" rx="14.5" ry="12.6" fill="url(#bumpl)"/><ellipse cx="954.7" cy="2077.7" rx="32" ry="27.5" fill="url(#bumpl)"/><ellipse cx="1144.1" cy="2197.5" rx="31.6" ry="28.7" fill="url(#bumpl)"/><ellipse cx="1707" cy="2249" rx="22.2" ry="21.9" fill="url(#bumpl)"/><ellipse cx="819.9" cy="2080.2" rx="16.9" ry="14.3" fill="url(#bumpl)"/><ellipse cx="1141" cy="2144.5" rx="29.2" ry="24.4" fill="url(#bumpl)"/><ellipse cx="1263.7" cy="2236.7" rx="36.2" ry="35.8" fill="url(#bumpl)"/><ellipse cx="1155.1" cy="2143.2" rx="37.8" ry="36.3" fill="url(#bumpl)"/><ellipse cx="1638.6" cy="2056.6" rx="20.9" ry="17.9" fill="url(#bumpl)"/><ellipse cx="1098.6" cy="2168.3" rx="36.7" ry="31" fill="url(#bumpl)"/><ellipse cx="1285.6" cy="2123.6" rx="28.1" ry="24.9" fill="url(#bumpl)"/><ellipse cx="977.7" cy="2039" rx="32.1" ry="30.7" fill="url(#bumpl)"/><ellipse cx="1126.4" cy="2083.8" rx="16.4" ry="14.9" fill="url(#bumpl)"/><ellipse cx="1354.7" cy="2319.3" rx="30.3" ry="27" fill="url(#bumpl)"/><ellipse cx="1369.6" cy="2310.9" rx="36.1" ry="28.6" fill="url(#bumpl)"/><ellipse cx="921.1" cy="2061" rx="14.3" ry="13.8" fill="url(#bumpl)"/><ellipse cx="1720" cy="2180.2" rx="32.2" ry="29.5" fill="url(#bumpl)"/><ellipse cx="1428.3" cy="2145.7" rx="37" ry="30.6" fill="url(#bumpl)"/><ellipse cx="900.1" cy="2036.9" rx="32.9" ry="31.1" fill="url(#bumpl)"/><ellipse cx="1615.2" cy="2275.8" rx="19.4" ry="16.3" fill="url(#bumpl)"/><ellipse cx="1071.5" cy="2296.7" rx="14" ry="11.6" fill="url(#bumpl)"/><ellipse cx="1425.6" cy="2223.9" rx="14.1" ry="10.9" fill="url(#bumpl)"/><ellipse cx="965.3" cy="2090.2" rx="26.3" ry="19.9" fill="url(#bumpl)"/><ellipse cx="1591.2" cy="2169" rx="29.7" ry="24.9" fill="url(#bumpl)"/><ellipse cx="1610.7" cy="2053.3" rx="34.8" ry="28.2" fill="url(#bumpl)"/><ellipse cx="1293.5" cy="2200" rx="30.1" ry="26.7" fill="url(#bumpl)"/><ellipse cx="1488.8" cy="2036.3" rx="26.8" ry="23.5" fill="url(#bumpl)"/><ellipse cx="1393.6" cy="2054.2" rx="31" ry="23.9" fill="url(#bumpl)"/><ellipse cx="849.2" cy="2036.6" rx="37.5" ry="29.6" fill="url(#bumpl)"/><ellipse cx="1455" cy="2037.9" rx="28.5" ry="22.9" fill="url(#bumpl)"/><ellipse cx="1374.2" cy="2256.3" rx="30.2" ry="26.8" fill="url(#bumpl)"/><ellipse cx="1486.6" cy="2020.7" rx="15.3" ry="12.4" fill="url(#bumpl)"/><ellipse cx="1234.4" cy="2264.4" rx="14.6" ry="11.7" fill="url(#bumpl)"/><ellipse cx="1303.3" cy="2123.9" rx="16" ry="13.1" fill="url(#bumpl)"/><ellipse cx="829.8" cy="2024.7" rx="34.2" ry="28.3" fill="url(#bumpl)"/><ellipse cx="1485" cy="2098.7" rx="31.7" ry="30.8" fill="url(#bumpl)"/><ellipse cx="821.8" cy="2212.8" rx="35.8" ry="33.7" fill="url(#bumpl)"/><ellipse cx="920.3" cy="2253.7" rx="32.1" ry="25.4" fill="url(#bumpl)"/><ellipse cx="1430" cy="2219.5" rx="18.8" ry="17.9" fill="url(#bumpl)"/><ellipse cx="1619.1" cy="2043.9" rx="25.3" ry="22.7" fill="url(#bumpl)"/><ellipse cx="812.6" cy="2185.6" rx="36.5" ry="30.4" fill="url(#bumpl)"/><ellipse cx="1275.2" cy="2320" rx="35" ry="34.6" fill="url(#bumpl)"/><path d="M812 1990 C815 2095 900 2215 1050 2275 C1150 2312 1250 2335 1330 2330 C1480 2318 1650 2230 1720 2110 C1740 2070 1748 2030 1745 1990" fill="none" stroke="#c03a78" stroke-width="40" opacity="0.35" filter="url(#b14)"/></g><path d="M805 1965 C805 1819.8 993 1723 1275 1723 C1534.6 1723 1745 1831.3 1745 1965 C1745 2069.9 1534.6 2155 1275 2155 C1015.4 2155 805 2069.9 805 1965Z" fill="#e4553e"/><path d="M810 1965 C810 1822.8 996 1728 1275 1728 C1531.8 1728 1740 1834.1 1740 1965 C1740 2067.2 1531.8 2150 1275 2150 C1018.2 2150 810 2067.2 810 1965Z" fill="none" stroke="#ee664c" stroke-width="9" stroke-dasharray="0.1 10" stroke-linecap="round"/><path d="M806 1965 C806 1820.4 993.6 1724 1275 1724 C1534 1724 1744 1831.9 1744 1965 C1744 2069.4 1534 2154 1275 2154 C1016 2154 806 2069.4 806 1965Z" fill="none" stroke="#c9432f" stroke-width="2" stroke-dasharray="1.5 8.6" opacity="0.6"/><path d="M818 1963 C818 1825.6 1000.8 1734 1275 1734 C1527.4 1734 1732 1836.5 1732 1963 C1732 2060.2 1527.4 2139 1275 2139 C1022.6 2139 818 2060.2 818 1963Z" fill="#8d6f4c"/><g clip-path="url(#e2clip)"><path d="M826 1960 C826 1825.6 1006 1736 1276 1736 C1524.5 1736 1726 1836.3 1726 1960 C1726 2052.8 1524.5 2128 1276 2128 C1027.5 2128 826 2052.8 826 1960Z" fill="none" stroke="#efe6d2" stroke-width="30" stroke-dasharray="3 1.9"/></g><path d="M833 1960 C833 1826.9 1016.8 1732.5 1276 1732.5 C1520.7 1732.5 1719 1834.4 1719 1960 C1719 2048.9 1520.7 2121 1276 2121 C1031.3 2121 833 2048.9 833 1960Z" fill="#e4553e"/><path d="M838 1960 C838 1829.8 1019.8 1737.5 1276 1737.5 C1517.9 1737.5 1714 1837.1 1714 1960 C1714 2046.2 1517.9 2116 1276 2116 C1034.1 2116 838 2046.2 838 1960Z" fill="none" stroke="#ee664c" stroke-width="9" stroke-dasharray="0.1 10" stroke-linecap="round"/><path d="M846 1958 C846 1834.5 1027 1745 1277 1745 C1515 1745 1708 1840.4 1708 1958 C1708 2040.8 1515 2108 1277 2108 C1039 2108 846 2040.8 846 1958Z" fill="url(#tang)"/><g clip-path="url(#e1clip)"><path d="M779 1874.3 C793.7 1855 811.6 1880.8 833.9 1883.1 C856.1 1885.5 839 1884.9 862.4 1883.1 C885.8 1881.4 882.4 1881.2 921.7 1876.5 C960.9 1871.9 968.5 1867.9 1009.4 1865.6 C1050.4 1863.2 1047.2 1863.1 1075.2 1867.8 C1103.3 1872.4 1098.9 1873.8 1114.7 1883.1 C1130.5 1892.5 1131 1892.9 1134.5 1902.9 C1138 1912.8 1137.9 1912.2 1127.9 1920.4 C1118 1928.6 1117.1 1927.7 1097.2 1933.6 C1077.3 1939.4 1082.6 1940.3 1053.3 1942.4 C1024 1944.4 1022.6 1944.2 987.5 1941.3 C952.4 1938.3 955 1936.4 921.7 1931.4 C888.3 1926.4 888.7 1918.5 862.4 1922.6 C836.1 1926.7 845.1 1938 822.9 1946.8 C800.7 1955.5 790.7 1974.8 779 1955.5 C767.3 1936.2 764.4 1893.7 779 1874.3Z" fill="#e8508b"/><path d="M844.9 1894.1 C856.6 1890.6 873.4 1893.8 899.7 1898.5 C926 1903.2 914.3 1905.8 943.6 1911.7 C972.8 1917.5 968.5 1920.4 1009.4 1920.4 C1050.4 1920.4 1097.2 1908.1 1097.2 1911.7 C1097.2 1915.2 1056.2 1930.1 1009.4 1933.6 C962.6 1937.1 962.6 1930.7 921.7 1924.8 C880.7 1919 876.3 1919.8 855.8 1911.7 C835.3 1903.5 833.2 1897.6 844.9 1894.1Z" fill="#cf3a76" opacity="0.55" filter="url(#b4)"/><path d="M1134.5 1938 C1126.6 1944.9 1132.5 1950.6 1108.2 1961 C1083.8 1971.4 1089.5 1967.9 1053.3 1972.6 C1017.1 1977.4 1027 1978.2 987.5 1976.8 C948 1975.4 954.6 1973 921.7 1968 C888.7 1963.1 897.5 1961.8 877.8 1960.4 C858 1958.9 862.4 1962.4 855.8 1963.2" fill="none" stroke="#e4553e" stroke-width="16" stroke-linecap="round"/><path d="M1134.5 1938 C1126.6 1944.9 1132.5 1950.6 1108.2 1961 C1083.8 1971.4 1089.5 1967.9 1053.3 1972.6 C1017.1 1977.4 1027 1978.2 987.5 1976.8 C948 1975.4 954.6 1973 921.7 1968 C888.7 1963.1 897.5 1961.8 877.8 1960.4 C858 1958.9 862.4 1962.4 855.8 1963.2" fill="none" stroke="#ee664c" stroke-width="8" stroke-dasharray="0.1 9.5" stroke-linecap="round" transform="translate(0 -2)"/><path d="M1123.5 1938 C1116.9 1942.6 1122.6 1945.6 1101.6 1953.3 C1080.5 1961.1 1087.5 1960.9 1053.3 1963.9 C1019.1 1966.8 1027 1966.4 987.5 1963.2 C948 1960.1 954.6 1958.6 921.7 1953.3 C888.7 1948.1 898.2 1946.6 877.8 1945.7 C857.4 1944.7 860.9 1948.7 853.6 1950" fill="none" stroke="#8d6f4c" stroke-width="17"/><path d="M1123.5 1938 C1116.9 1942.6 1122.6 1945.6 1101.6 1953.3 C1080.5 1961.1 1087.5 1960.9 1053.3 1963.9 C1019.1 1966.8 1027 1966.4 987.5 1963.2 C948 1960.1 954.6 1958.6 921.7 1953.3 C888.7 1948.1 898.2 1946.6 877.8 1945.7 C857.4 1944.7 860.9 1948.7 853.6 1950" fill="none" stroke="#efe6d2" stroke-width="17" stroke-dasharray="3.2 2"/><path d="M1092.8 1883.1 C1100.7 1887.1 1107.3 1887.1 1119.1 1896.3 C1131 1905.5 1131 1904 1132.3 1913.8 C1133.6 1923.7 1126.1 1924.6 1123.5 1929.2" fill="none" stroke="#e9dfc8" stroke-width="10" stroke-dasharray="3.2 2"/><path d="M837.2 1877.6 C844.7 1875.9 837.1 1875.5 862.4 1871.7 C887.8 1868 877.5 1870.4 921.7 1865.1 C965.8 1859.9 963.3 1856.8 1009.4 1854.2 C1055.5 1851.5 1042.3 1850.8 1075.2 1856.4 C1108.2 1861.9 1097.7 1859.6 1119.1 1872.6 C1140.5 1885.6 1140.6 1884.9 1146.6 1899.6 C1152.5 1914.3 1150.4 1910.1 1138.9 1921.5 C1127.4 1932.9 1133.8 1929.3 1108.2 1937.5 C1082.5 1945.8 1089.5 1945.8 1053.3 1949 C1017.1 1952.1 1027 1951.5 987.5 1948.1 C948 1944.7 954.6 1943.1 921.7 1937.5 C888.7 1932 898.8 1930.7 877.8 1929.6 C856.7 1928.6 864.6 1929.9 851.4 1934 C838.3 1938.2 844.4 1936 833.9 1943.5 C823.4 1950.9 821.6 1954.2 816.3 1958.8" fill="none" stroke="#e4553e" stroke-width="23" stroke-linecap="round" stroke-linejoin="round"/><path d="M837.2 1877.6 C844.7 1875.9 837.1 1875.5 862.4 1871.7 C887.8 1868 877.5 1870.4 921.7 1865.1 C965.8 1859.9 963.3 1856.8 1009.4 1854.2 C1055.5 1851.5 1042.3 1850.8 1075.2 1856.4 C1108.2 1861.9 1097.7 1859.6 1119.1 1872.6 C1140.5 1885.6 1140.6 1884.9 1146.6 1899.6 C1152.5 1914.3 1150.4 1910.1 1138.9 1921.5 C1127.4 1932.9 1133.8 1929.3 1108.2 1937.5 C1082.5 1945.8 1089.5 1945.8 1053.3 1949 C1017.1 1952.1 1027 1951.5 987.5 1948.1 C948 1944.7 954.6 1943.1 921.7 1937.5 C888.7 1932 898.8 1930.7 877.8 1929.6 C856.7 1928.6 864.6 1929.9 851.4 1934 C838.3 1938.2 844.4 1936 833.9 1943.5 C823.4 1950.9 821.6 1954.2 816.3 1958.8" fill="none" stroke="#ee664c" stroke-width="8" stroke-dasharray="0.1 9.5" stroke-linecap="round" transform="translate(0 -5)"/><path d="M837.2 1877.6 C844.7 1875.9 837.1 1875.5 862.4 1871.7 C887.8 1868 877.5 1870.4 921.7 1865.1 C965.8 1859.9 963.3 1856.8 1009.4 1854.2 C1055.5 1851.5 1042.3 1850.8 1075.2 1856.4 C1108.2 1861.9 1097.7 1859.6 1119.1 1872.6 C1140.5 1885.6 1140.6 1884.9 1146.6 1899.6 C1152.5 1914.3 1150.4 1910.1 1138.9 1921.5 C1127.4 1932.9 1133.8 1929.3 1108.2 1937.5 C1082.5 1945.8 1089.5 1945.8 1053.3 1949 C1017.1 1952.1 1027 1951.5 987.5 1948.1 C948 1944.7 954.6 1943.1 921.7 1937.5 C888.7 1932 898.8 1930.7 877.8 1929.6 C856.7 1928.6 864.6 1929.9 851.4 1934 C838.3 1938.2 844.4 1936 833.9 1943.5 C823.4 1950.9 821.6 1954.2 816.3 1958.8" fill="none" stroke="#ee664c" stroke-width="8" stroke-dasharray="0.1 9.5" stroke-linecap="round" transform="translate(0 5)"/></g><g><ellipse cx="1292" cy="1902" rx="215" ry="98" fill="url(#hotglow)"/><path d="M1046 1828 A20.5 18 0 0 1 1087 1828 A20.5 7 0 0 1 1046 1828 Z" fill="url(#domeg)"/><path d="M1242.5 1802.2 C1251.9 1800.8 1259.2 1802.6 1278.7 1804.7 C1298.3 1806.8 1293 1807.8 1311.7 1809.6 C1330.3 1811.5 1323.6 1809.9 1344.6 1811.3 C1365.5 1812.7 1369.4 1812 1385.7 1814.6 C1402 1817.1 1398.4 1816.1 1402.2 1820.3 C1405.9 1824.5 1405.9 1825.8 1398.9 1829.4 C1391.9 1833 1388.2 1834.2 1377.5 1833 C1366.8 1831.9 1375 1829.3 1361 1825.3 C1347 1821.2 1351.4 1822.2 1328.1 1818.7 C1304.8 1815.2 1302.1 1815.5 1278.7 1812.9 C1255.4 1810.4 1256.1 1812.7 1245.8 1809.6 C1235.6 1806.6 1233.2 1803.6 1242.5 1802.2Z" fill="#7fd1b4" /><path d="M1242.5 1799.9 C1251.9 1798.5 1259.2 1800.3 1278.7 1802.4 C1298.3 1804.5 1293 1805.5 1311.7 1807.3 C1330.3 1809.2 1323.6 1807.6 1344.6 1809 C1365.5 1810.4 1369.4 1809.7 1385.7 1812.3 C1402 1814.8 1398.4 1813.8 1402.2 1818 C1405.9 1822.2 1405.9 1823.5 1398.9 1827.1 C1391.9 1830.7 1388.2 1831.9 1377.5 1830.7 C1366.8 1829.5 1375 1827 1361 1823 C1347 1818.9 1351.4 1819.9 1328.1 1816.4 C1304.8 1812.9 1302.1 1813.2 1278.7 1810.6 C1255.4 1808.1 1256.1 1810.4 1245.8 1807.3 C1235.6 1804.3 1233.2 1801.3 1242.5 1799.9Z" fill="#a9ead2" /><path d="M1328.1 1812.3 C1325.6 1815.2 1319.9 1815.7 1319.9 1822.2 C1319.9 1828.6 1318.7 1830.7 1328.1 1833.7 C1337.5 1836.6 1342 1835.5 1351.1 1832 C1360.3 1828.6 1360 1827.8 1358.6 1822.2 C1357.1 1816.5 1349.9 1815.8 1346.2 1813.1" fill="none" stroke="#dfe9cf" stroke-width="5.5"/><path d="M1214.6 1776.4 C1225.3 1774.3 1226.8 1776 1259 1781.7 C1291.2 1787.4 1289.9 1790.5 1328.1 1796.5 C1366.3 1802.5 1366.9 1801.7 1393.9 1802.7 C1421 1803.8 1410.3 1798.1 1423.6 1800.1 C1436.8 1802.1 1437.8 1803.1 1440.8 1809.6 C1443.9 1816.2 1442.9 1818.9 1434.2 1823.1 C1425.6 1827.4 1421.8 1827 1410.4 1824.8 C1399 1822.6 1417.2 1820.4 1393.9 1815.4 C1370.6 1810.4 1366.3 1812.8 1328.1 1807.2 C1289.9 1801.6 1289.3 1800.8 1259 1795.7 C1228.7 1790.5 1233.7 1794.5 1221.1 1789.1 C1208.6 1783.6 1203.8 1778.5 1214.6 1776.4Z" fill="#7fd1b4" /><path d="M1214.6 1774.1 C1225.3 1772 1226.8 1773.7 1259 1779.4 C1291.2 1785.1 1289.9 1788.2 1328.1 1794.2 C1366.3 1800.1 1366.9 1799.4 1393.9 1800.4 C1421 1801.5 1410.3 1795.8 1423.6 1797.8 C1436.8 1799.8 1437.8 1800.8 1440.8 1807.3 C1443.9 1813.9 1442.9 1816.5 1434.2 1820.8 C1425.6 1825.1 1421.8 1824.7 1410.4 1822.5 C1399 1820.3 1417.2 1818.1 1393.9 1813.1 C1370.6 1808.1 1366.3 1810.5 1328.1 1804.9 C1289.9 1799.3 1289.3 1798.5 1259 1793.4 C1228.7 1788.2 1233.7 1792.2 1221.1 1786.8 C1208.6 1781.3 1203.8 1776.2 1214.6 1774.1Z" fill="#a9ead2" /><path d="M1263.9 1772.3 C1268.8 1768.9 1268.5 1764 1282 1764.2 C1295.6 1764.5 1289.3 1767.3 1311.7 1773.1 C1334 1778.9 1338.6 1782 1361 1784.6 C1383.4 1787.2 1376.7 1780.8 1390.6 1782.3 C1404.6 1783.8 1405.7 1785.4 1410.4 1789.9 C1415.1 1794.4 1414.1 1795.3 1407.1 1798.1 C1400.1 1800.9 1403.4 1801.6 1385.7 1799.8 C1368 1797.9 1367.9 1796.7 1344.6 1791.5 C1321.2 1786.4 1322.1 1784.9 1303.4 1781.7 C1284.8 1778.4 1289.7 1781.6 1278.7 1780 C1267.8 1778.4 1268.9 1778.3 1264.7 1776.1 C1260.6 1773.9 1259 1775.6 1263.9 1772.3Z" fill="#7fd1b4" /><path d="M1263.9 1770.3 C1268.8 1767 1268.5 1762 1282 1762.3 C1295.6 1762.5 1289.3 1765.4 1311.7 1771.1 C1334 1776.9 1338.6 1780 1361 1782.7 C1383.4 1785.3 1376.7 1778.9 1390.6 1780.4 C1404.6 1781.8 1405.7 1783.5 1410.4 1787.9 C1415.1 1792.4 1414.1 1793.4 1407.1 1796.2 C1400.1 1799 1403.4 1799.7 1385.7 1797.8 C1368 1795.9 1367.9 1794.7 1344.6 1789.6 C1321.2 1784.4 1322.1 1783 1303.4 1779.7 C1284.8 1776.4 1289.7 1779.6 1278.7 1778.1 C1267.8 1776.5 1268.9 1776.3 1264.7 1774.1 C1260.6 1771.9 1259 1773.7 1263.9 1770.3Z" fill="#aaf0d6" /><ellipse cx="1282" cy="1768.5" rx="13" ry="4.5" fill="#c4f6e4" opacity="0.8"/><ellipse cx="1392" cy="1788" rx="13" ry="4.5" fill="#c4f6e4" opacity="0.7"/><ellipse cx="1425" cy="1810" rx="13" ry="5" fill="#c4f6e4" opacity="0.6"/><ellipse cx="1445.3" cy="1785.5" rx="12.8" ry="7.4" fill="#7fd1b4"/><ellipse cx="1445.3" cy="1783.5" rx="11.5" ry="5.6" fill="#b4f2dc"/><ellipse cx="1225" cy="1790" rx="34" ry="30" fill="#f5b090" opacity="0.55" filter="url(#b8)"/><path d="M1096.3 1968.9 C1100.7 1941.8 1096.1 1961.9 1112.6 1943.7 C1129 1925.5 1126.2 1920.3 1151.1 1908.1 C1176 1896 1181.3 1901.8 1195.5 1903.1 C1209.7 1904.4 1206.5 1901.7 1198.5 1912.6 C1190.5 1923.4 1184 1922.4 1168.9 1939.2 C1153.8 1956.1 1157 1949.3 1148.1 1968.9 C1139.2 1988.4 1142.8 1977.8 1139.2 2004.4 C1135.7 2031.1 1144.3 2042.6 1136.3 2057.7 C1128.3 2072.8 1124.1 2061.9 1112.6 2054.8 C1101 2047.7 1102.7 2059.8 1097.8 2034 C1092.9 2008.3 1091.8 1996 1096.3 1968.9Z" fill="#7c3aa6" /><path d="M1109.6 1957 C1115.8 1931.2 1118.8 1939.5 1139.2 1924.4 C1159.7 1909.3 1160.4 1911.5 1177.8 1906.7 C1195.1 1901.8 1199.7 1900.1 1197 1908.1 C1194.3 1916.1 1184.9 1916 1168.9 1933.3 C1152.9 1950.6 1153.5 1946.4 1143.7 1965.9 C1133.9 1985.5 1143.8 1985.2 1136.3 1998.5 C1128.7 2011.8 1126.5 2022.8 1118.5 2010.3 C1110.5 1997.9 1103.4 1982.8 1109.6 1957Z" fill="#a055cc" /><path d="M1118.5 1954.1 C1125.6 1938.9 1134.5 1936.9 1154.1 1924.4 C1173.6 1912 1182.8 1907.3 1183.7 1912.6 C1184.6 1917.9 1173 1923.5 1157 1942.2 C1141 1960.9 1141.9 1971.2 1130.4 1974.8 C1118.8 1978.3 1111.4 1969.2 1118.5 1954.1Z" fill="#3a1f5e" /><path d="M1146.6 1968.9 C1151.1 1957.3 1153.3 1951.7 1168.9 1939.2 C1184.4 1926.8 1182.5 1927.4 1198.5 1927.4 C1214.5 1927.4 1212.9 1930.4 1222.2 1939.2 C1231.5 1948.1 1234.9 1957 1229.6 1957 C1224.3 1957 1220 1935.7 1204.4 1939.2 C1188.9 1942.8 1192.9 1957.3 1177.8 1968.9 C1162.6 1980.4 1163.4 1977.8 1154.1 1977.8 C1144.7 1977.8 1142.2 1980.4 1146.6 1968.9Z" fill="#e0546a" /><path d="M1177.8 1970.3 C1176 1958.3 1188.7 1951.4 1198.5 1940.7 C1208.3 1930.1 1201.4 1931.7 1210.3 1934.8 C1219.2 1937.9 1221.7 1939.5 1228.1 1951.1 C1234.5 1962.6 1238.8 1964.4 1231.7 1973.3 C1224.6 1982.2 1220.6 1981.6 1204.4 1980.7 C1188.2 1979.8 1179.5 1982.3 1177.8 1970.3Z" fill="#5c5ab6" /><ellipse cx="1234" cy="2008" rx="41" ry="29" fill="#d9485f"/><ellipse cx="1233.1" cy="2005.3" rx="40" ry="27.5" fill="#9a88e2"/><circle cx="1207.5" cy="1994" r="18" fill="url(#nucl)"/><path d="M1189.6 2010.3 C1198.5 2013.9 1202 2025.1 1198.5 2034 C1194.9 2042.9 1186.6 2043.5 1177.8 2040 C1168.9 2036.4 1165.3 2031.1 1168.9 2022.2 C1172.4 2013.3 1180.7 2006.8 1189.6 2010.3Z" fill="#2a3590" /><path d="M1094.8 1977.8 C1096.6 1961.8 1098.4 1968.9 1103.7 1968.9 C1109 1968.9 1109 1967.1 1112.6 1977.8 C1116.1 1988.4 1112 2004.4 1115.5 2004.4 C1119.1 2004.4 1118.2 1986.6 1124.4 1977.8 C1130.7 1968.9 1130.5 1971.2 1136.3 1974.8 C1142.1 1978.3 1140.1 1988.7 1143.7 1989.6 C1147.2 1990.5 1141.5 1981.3 1148.1 1977.8 C1154.8 1974.2 1152.6 1969.8 1165.9 1977.8 C1179.2 1985.7 1182.8 1987.5 1192.6 2004.4 C1202.3 2021.3 1198.5 2021.6 1198.5 2034 C1198.5 2046.5 1202.3 2041.4 1192.6 2045.9 C1182.8 2050.3 1174.3 2043.5 1165.9 2048.8 C1157.5 2054.2 1171.1 2059.2 1164.4 2063.7 C1157.8 2068.1 1151.2 2072.5 1143.7 2063.7 C1136.1 2054.8 1144.1 2044.7 1139.2 2034 C1134.4 2023.4 1131.8 2024.6 1127.4 2028.1 C1123 2031.7 1129.8 2042.3 1124.4 2045.9 C1119.1 2049.4 1117.6 2047.1 1109.6 2040 C1101.6 2032.8 1102.2 2040.8 1097.8 2022.2 C1093.3 2003.5 1093 1993.7 1094.8 1977.8Z" fill="#a055cc" /><path d="M1109.6 1986.6 C1111 1977.8 1112.5 1976.6 1114.1 1983.7 C1115.7 1990.8 1116.3 2001.4 1115 2010.3 C1113.6 2019.2 1111.2 2020.4 1109.6 2013.3 C1108 2006.2 1108.3 1995.5 1109.6 1986.6Z" fill="#7c3aa6" /><path d="M1146.6 1998.5 C1148.6 1987.8 1151.4 1986.6 1154.1 1995.5 C1156.7 2004.4 1157.5 2017.4 1155.5 2028.1 C1153.6 2038.8 1150.2 2040 1147.5 2031.1 C1144.9 2022.2 1144.7 2009.2 1146.6 1998.5Z" fill="#7c3aa6" /><path d="M1127.4 1977.8 C1130.1 1974.2 1135.2 1975.1 1139.2 1977.8 C1143.2 1980.4 1143.4 1983.1 1140.7 1986.6 C1138.1 1990.2 1134.4 1992.3 1130.4 1989.6 C1126.4 1986.9 1124.7 1981.3 1127.4 1977.8Z" fill="#b46ada" /><path d="M1159.4 2049.4 C1169.8 2043.7 1172.5 2054.4 1198.5 2052.4 C1224.4 2050.4 1220.1 2051.4 1245.9 2042.9 C1271.7 2034.5 1267.3 2037 1284.4 2024.3 C1301.5 2011.6 1295.6 2005.6 1302.8 2000.6 C1309.9 1995.5 1305.8 2001.8 1308.1 2007.4 C1310.4 2013 1312.9 2008.7 1310.5 2019.2 C1308 2029.7 1311.2 2030.6 1299.8 2042.3 C1288.4 2054.1 1294 2049.5 1272.5 2058.3 C1251 2067.1 1254.8 2066.3 1228.1 2071.7 C1201.4 2077 1203 2076.1 1183.7 2076.1 C1164.4 2076.1 1171.1 2079.7 1163.8 2071.7 C1156.5 2063.7 1149 2055.2 1159.4 2049.4Z" fill="#9448c2" /><path d="M1160.6 2045.9 C1170.3 2048.5 1173.8 2050 1198.5 2047.7 C1223.2 2045.3 1218.7 2046.5 1242.9 2038.2 C1267.1 2029.8 1262.6 2032.2 1279.1 2019.8 C1295.5 2007.5 1295.2 2009.2 1297.7 1997 C1300.2 1984.8 1294.5 1986.1 1287.4 1979.2 C1280.2 1972.4 1274.9 1970.2 1274 1974.2 C1273.1 1978.2 1285.7 1980.8 1284.4 1992.6 C1283.1 2004.3 1283.8 2002.2 1269.6 2013.3 C1255.4 2024.4 1258.3 2021.9 1237 2029.6 C1215.7 2037.2 1219.8 2036 1198.5 2038.8 C1177.2 2041.5 1177.3 2036.6 1165.9 2038.8 C1154.5 2040.9 1150.8 2043.2 1160.6 2045.9Z" fill="#b46ada" /><path d="M1219.2 2036.4 C1229.9 2032.6 1235.2 2034.2 1254.8 2023.7 C1274.3 2013.2 1274.2 2013.4 1284.4 2001.4 C1294.6 1989.5 1287.5 1989 1288.8 1983.7" fill="none" stroke="#7c3aa6" stroke-width="2" opacity="0.85"/><path d="M1220.6 2038.3 C1231.3 2034.3 1236.8 2035.8 1256.4 2025 C1275.9 2014.2 1275.7 2014.5 1285.7 2002.2 C1295.8 1990 1288.6 1989.6 1289.9 1984.2" fill="none" stroke="#7c3aa6" stroke-width="2" opacity="0.85"/><path d="M1221.9 2040.1 C1232.7 2036 1238.4 2037.5 1258 2026.3 C1277.5 2015.2 1277.2 2015.5 1287.1 2003 C1297 1990.6 1289.8 1990.2 1291 1984.7" fill="none" stroke="#7c3aa6" stroke-width="2" opacity="0.85"/><path d="M1223.2 2042 C1234.1 2037.7 1240 2039.1 1259.6 2027.7 C1279.1 2016.2 1278.6 2016.6 1288.4 2003.8 C1298.1 1991.1 1290.9 1990.8 1292 1985.3" fill="none" stroke="#7c3aa6" stroke-width="2" opacity="0.85"/><path d="M1160.6 2047.7 C1171.9 2048.4 1173.2 2052.2 1198.5 2050 C1223.7 2047.9 1219.5 2048.9 1244.7 2040.5 C1269.9 2032.2 1265.7 2034.6 1282.6 2022.2 C1299.5 2009.7 1295.5 2006 1301 1999.1" fill="none" stroke="#c690e8" stroke-width="1.6" opacity="0.8"/><g transform="rotate(-2 1493 2006)"><path d="M1440 1970 C1470 1966 1540 1974 1557 1978 A20 20 0 0 1 1558 2020 C1530 2030 1470 2042 1442 2041 A30 35 0 0 1 1440 1970 Z" fill="#c9b81f"/><path d="M1440 1968 C1470 1964 1540 1972 1557 1976 A20 19 0 0 1 1558 2014 C1530 2024 1470 2036 1442 2036 A30 34 0 0 1 1440 1968 Z" fill="url(#yelg)"/><path d="M1468 1990 C1490 1978 1540 1976 1560 1984 A12 11 0 0 1 1558 2006 C1535 2014 1495 2022 1472 2022 C1462 2012 1462 2000 1468 1990 Z" fill="#b09a1c"/><path d="M1472 1997 C1480 1984 1492 1990 1498 1998 C1504 2006 1512 1994 1518 1988 C1526 1982 1532 1996 1540 1996 C1548 1996 1552 1986 1560 1990 C1566 1996 1560 2004 1552 2004 C1542 2006 1538 2010 1528 2010 C1518 2010 1514 2002 1506 2008 C1498 2016 1486 2016 1478 2012 C1472 2008 1470 2002 1472 1997 Z" fill="#8a4b20"/><path d="M1468 1990 C1490 1978 1540 1976 1560 1984 A12 11 0 0 1 1558 2006 C1535 2014 1495 2022 1472 2022" fill="none" stroke="#e8d83a" stroke-width="3"/><ellipse cx="1440" cy="2002" rx="30" ry="34" fill="url(#yelg)"/></g></g><g transform="translate(991 1887) scale(1 0.86)"><g fill="none" stroke-linecap="round" stroke-width="1.8"><path d="M37.7 -2.5 Q44.8 -2 51.6 -4.3 M37.2 6.8 Q44.2 7.8 51.1 9.6 M37 8.1 Q44.1 5.8 49 14.4 M35.4 13.3 Q44.2 19.5 55.9 18.1 M33 18.5 Q41.1 24.5 51.1 27 M33.5 17.5 Q43.4 19 48.8 29.3 M31.3 21.2 Q38 24.3 42.8 30.4 M23.4 29.7 Q28.7 34.7 31.6 41.7 M22.7 30.3 Q29.6 38 34.3 47.4 M17.2 33.7 Q25.3 39.7 21.6 51.9 M16.4 34.1 Q21.1 42.7 24.3 52 M7.3 37.1 Q9.8 44.8 9.5 53.1 M-3.5 37.7 Q-5.2 44.1 -3.7 50.8 M-6.5 37.3 Q-12.3 46.3 -5.8 57.8 M-13.1 35.5 Q-18.3 41.7 -15.9 50.9 M-16.6 34 Q-21 42.4 -24.6 51.2 M-20.2 31.9 Q-24.3 41.7 -32.9 48.6 M-22.3 30.5 Q-29.7 35.3 -29.5 45.7 M-29.8 23.3 Q-40.1 26 -42.7 38.9 M-30.9 21.8 Q-39.7 26.5 -46.4 34.2 M-31.8 20.4 Q-38.8 23.3 -43.6 29.5 M-33.6 17.3 Q-39.9 21.7 -47.6 23.3 M-34.9 14.5 Q-43 13.5 -46.8 23.6 M-37.3 6.2 Q-47.4 8.6 -57.8 8.8 M-37.5 4.7 Q-47.4 6.3 -57.5 6.8 M-37.7 -3.4 Q-46.5 -0.9 -54.6 -8 M37.4 -5.5 Q44.6 -9.6 53.3 -4.8" stroke="#0b4f96"/><path d="M27.4 -1.9 Q33.8 -1.6 40.1 -3.4 M26.7 6.5 Q32.9 7.8 39.1 9.7 M26.7 6.2 Q33.5 4.8 38.5 11.8 M25.7 9.6 Q31 13.5 38.3 12.3 M23.8 13.8 Q28.8 17.8 35.3 19.4 M23.5 14.1 Q30.2 15.3 33.3 22.7 M22.2 16.1 Q28 19.1 32.1 24.3 M18.2 20.5 Q23.1 24.8 26.1 30.6 M15.8 22.5 Q20 27.3 22.6 33.3 M11.7 24.8 Q17.2 29.2 14.2 37.7 M9.6 25.7 Q12.3 31.6 13.8 37.8 M5.1 27 Q7 33.1 6.8 39.7 M-2.2 27.4 Q-3.5 33.7 -2.4 40.2 M-4.7 27 Q-8.6 32.7 -4 40.1 M-9 25.9 Q-13.1 31.2 -11.3 38.6 M-13.6 23.8 Q-17 29.3 -19.8 35.1 M-16.2 22.1 Q-19 28 -24.8 31.7 M-16.5 22 Q-22.1 25.6 -22.2 33.6 M-20.5 18.3 Q-27.2 20.2 -28 29 M-21.7 16.8 Q-27.3 20 -31.3 25.3 M-23.7 13.9 Q-29.7 16.2 -34.2 21.2 M-24.9 11.5 Q-30.4 14.9 -36.9 16.1 M-25.5 10.1 Q-32.5 9.5 -36.3 17.5 M-26.8 5.9 Q-32.9 7.8 -39.4 8.2 M-27.4 2.1 Q-33.7 2.8 -40.2 2.8 M-27.3 -3.2 Q-33.8 -1.7 -39.6 -7 M26.8 -5.8 Q32.6 -9.3 39.8 -6.3" stroke="#c48f12"/></g><circle cx="0" cy="0" r="25.6" fill="#5fd8c4"/><path d="M-22 -3.5 L-21.4 -9.9 L-12.8 -8.2 L-13.9 -2.2Z M-17.2 16.3 L-16.4 12.1 L-9.6 12.4 L-9.1 17Z M2.5 -8.3 L-6.4 -6 L-8.7 -10.8 L-0.7 -12.1Z M-0.7 11.5 L-5.9 12.9 L-7.4 9.2 L-3.4 6.9Z M-14.5 -18.5 L-7.1 -22.2 L-1.6 -18.6 L-8 -12.9Z M1.3 -10.8 L7.3 -15.5 L13.4 -11.3 L8.7 -6.6Z M-0.7 19.3 L-8.7 23.4 L-12.5 18.8 L-3.9 14.2Z M-6.9 -5 L-11.3 -6.8 L-8.6 -11.4 L-1.7 -8.5Z M-0.7 2.3 L-8.2 4.6 L-10.7 -0.6 L-3.6 -3Z" fill="#2fa890"/><path d="M5 11.8 L-0.4 10.8 L-0.1 5.8 L5.6 6.3Z M28.1 2.6 L20.9 5.2 L19.2 0.5 L25.9 -0.7Z M-6.8 17.5 L-13.2 11.7 L-7.3 6.4 L-0.8 13Z M-6.3 -10.3 L-11.2 -9.5 L-13.9 -11.7 L-9.9 -15.2Z M3.6 -6.2 L-2.7 -7.9 L0.2 -12.9 L6.4 -10.3Z M2.6 17.7 L4.2 13.1 L8.3 14.8 L7.5 18.7Z M-23.1 -1.6 L-23.7 -7.8 L-17.3 -8.6 L-15.1 -2.7Z M-5 -11 L-11.6 -12.7 L-6.3 -19.6 L0.4 -16.8Z M-9.5 10.5 L-9.3 5.4 L0.6 5.3 L-1.9 12.2Z M16.3 10.2 L8.9 9.3 L11.9 3 L18.2 6.5Z M-10.6 -16.9 L-16.7 -17.1 L-16.4 -22.3 L-9.4 -21.2Z M-17.9 -1.4 L-17.3 -6 L-10.2 -5.4 L-10.3 -0.9Z M20.2 -11.1 L15.6 -13 L18.3 -16.4 L22.2 -14Z M-8.8 3.9 L-10.4 -1 L-4.5 -3.3 L-2 1.3Z M-17.8 -14.7 L-17.2 -22.4 L-10.1 -21.9 L-8.8 -14.9Z" fill="#86eadb"/><g fill="none" stroke-linecap="round" stroke-width="1.8"><path d="M38.1 -2.2 C23.7 -3.2 23.7 3.4 38.1 2.6 M39.1 5.5 C25.3 2 24.3 7.4 38.4 9.3 M39.8 13.8 C20.4 5.6 18.4 10.4 38 18.1 M34.2 18.2 C20.8 9 17.3 14.6 31.5 22.6 M29.5 23.5 C17.3 11.6 13 16.3 25.9 27.4 M24.5 27.8 C13.1 13.2 9.9 15.7 21.6 30.1 M20.7 33.2 C12.6 16.7 6.7 19.8 15.7 35.8 M14.8 34.2 C10.8 20.4 4.5 22.6 10.2 35.8 M7.9 41.8 C6.6 24.4 -0.5 25.3 2.5 42.4 M1.5 39.5 C3 25.1 -4.6 24.8 -4 39.3 M-5.7 42.2 C-1.7 23.3 -6.9 22.3 -10.1 41.4 M-13.7 38.2 C-4.9 18.6 -10.6 16.1 -19.2 35.8 M-19.4 34.2 C-9.6 20.2 -14.5 17 -23.3 31.7 M-24.5 28.2 C-14.9 19.7 -19.3 15.5 -27.5 25.3 M-29 22.7 C-18.3 16.5 -21.8 11.5 -31.4 19.3 M-36.7 18.9 C-16.5 9.9 -18.3 5.8 -38.5 14.9 M-35.7 13 C-21.3 9.5 -23 3.7 -37 8.7 M-39.6 6.3 C-24.5 5.3 -25 0.2 -40 2.6 M-39 -1.9 C-22.7 0.7 -22 -5.8 -38.4 -6.9 M-39 -9.5 C-20.6 -3.7 -19.2 -8.2 -37.9 -13.4 M-34 -15 C-19.4 -7.1 -17.3 -11.3 -32.3 -18.4 M-34.8 -23.3 C-20.5 -11.6 -16.6 -16.7 -31.6 -27.4 M-30.7 -28.1 C-18 -14.1 -13.5 -18.5 -27 -31.7 M-24.1 -30.6 C-16.2 -17.2 -9.9 -21.4 -19.4 -33.8 M-16.6 -33.3 C-12.6 -20.9 -6 -23.7 -12 -35.3 M-11.7 -40.9 C-6.6 -18.4 -2.1 -19.4 -7.3 -41.9 M-6.3 -40.6 C-4.8 -20.1 1.4 -20.6 -0.6 -41 M1.3 -41.3 C-1 -23 5.4 -22.3 6.6 -40.8 M8.3 -38.8 C3 -23.2 9.8 -21.2 13.6 -37.3 M17.5 -35.6 C7 -17.3 11.2 -14.9 21.5 -33.2 M22.9 -33.6 C11.7 -20.8 17.6 -16.1 27.5 -29.9 M28.8 -29.2 C12.8 -15.5 17.1 -10.6 32.8 -24.6 M30.5 -22.2 C14.5 -12 16.9 -8.3 32.7 -18.8 M33.4 -15.8 C21.3 -12.5 24.2 -5.2 35.3 -10.8 M38.7 -11.2 C22.3 -8.6 23.9 -1 39.9 -5.3" stroke="#f5c518"/><path d="M38.1 -2.2 Q47.4 -4.7 57.1 -1.3 M38.2 1.9 Q49 -0.9 59.4 6.4 M38.5 8.7 Q46.2 12.8 55.4 10.4 M39.7 14 Q47.5 18.1 56.5 18.7 M33.9 18.7 Q44.1 22 51.3 30.7 M31.8 22.1 Q38.8 28.7 48.4 31.8 M29.9 23 Q35.7 28.1 42.4 31.9 M26 27.3 Q33.5 32 36.4 41.3 M21.1 30.4 Q26.7 40.6 35.4 48.7 M21 33 Q28.5 39.7 29.2 50.8 M15 34.1 Q20.6 44.2 23.2 55.6 M10.5 35.7 Q12.7 43.7 15.4 51.6 M8 41.7 Q10.9 48.3 9.2 55.7 M2.5 42.4 Q6.4 49.5 0.1 57.3 M1.2 39.5 Q2 46.3 1 53.1 M-4.4 39.2 Q-5.7 48.9 -6.3 58.8 M-9.9 41.4 Q-13.8 47.5 -10.8 55.3 M-14.4 38 Q-18.9 45.3 -19 54.4 M-19.8 35.5 Q-23.3 43.7 -29.2 50.6 M-19.8 34 Q-25.3 43.1 -30.3 52.5 M-23.9 31.2 Q-32.1 38.2 -34.8 49.4 M-24.5 28.2 Q-32.2 32.8 -33.6 43 M-27.7 25 Q-34.5 30.7 -40.6 37.2 M-29.1 22.7 Q-38.5 27 -43.7 37 M-31.3 19.5 Q-39.6 21.4 -43.7 30.4 M-36.4 19.4 Q-42.6 26.8 -54 24.8 M-38.7 14.3 Q-44.4 20.1 -53.7 16.3 M-36.9 9.1 Q-46.4 15 -58.5 10.8 M-39.6 6.5 Q-47.7 10.5 -57.2 6.8 M-40 2.9 Q-48.8 0.6 -57 7 M-39 -1.7 Q-47.2 -2.8 -55.4 -1.6 M-38.4 -6.9 Q-49.2 -6.6 -58.8 -12.9 M-38.9 -10.1 Q-46.2 -9.1 -51.6 -16.1 M-37.7 -13.9 Q-45.9 -17.8 -54.8 -19.5 M-33.9 -15.2 Q-43.1 -20 -53 -23.2 M-32 -18.9 Q-38.3 -25.3 -48.2 -25.7 M-34.5 -23.7 Q-38.3 -27.9 -44.3 -28.8 M-31.1 -28 Q-37.3 -31.1 -39.9 -38.3 M-30.7 -28.1 Q-35 -34.9 -43.5 -37.2 M-26.4 -32.1 Q-31.8 -35.1 -32.1 -42.3 M-24 -30.7 Q-27.2 -40.4 -38.7 -43.8 M-19.4 -33.8 Q-22.9 -41.1 -28 -47.5 M-17.2 -33.1 Q-23.8 -42.1 -25.9 -53.6 M-11.3 -35.5 Q-11.2 -44.3 -18.9 -50.7 M-7.8 -41.8 Q-9.6 -50.8 -11.1 -59.8 M-5.9 -40.6 Q-6.5 -49.9 -9.3 -58.9 M-0.9 -41 Q-0.1 -49.5 -2.3 -57.9 M1.9 -41.3 Q0.6 -48.8 4.2 -56.1 M6.1 -40.9 Q6.1 -48.9 9.6 -56.3 M8.3 -38.8 Q12.7 -48.4 10.4 -59.4 M13.2 -37.5 Q17.7 -43 15.4 -51.1 M17.4 -35.6 Q20.2 -45.9 28.6 -53.6 M20.9 -33.6 Q26.7 -39.4 27.8 -48.1 M23.5 -33.1 Q26.2 -42.7 37 -46.7 M27.5 -29.8 Q34.2 -37 40.7 -44.2 M29.2 -28.7 Q35.1 -35.5 42.5 -40.8 M32.3 -19.4 Q42.7 -22.5 49 -32.6 M33.3 -15.9 Q40.6 -22.4 51.5 -21.5 M35.1 -11.3 Q44 -12.8 51.6 -18.1 M38.7 -11 Q45.8 -10.4 50.9 -16.9 M39.8 -5.7 Q45.4 -9.6 52.4 -4.5 M-27.5 -31.3 Q-28 -37.2 -36.3 -36.4 M-40.6 8.5 Q-47.9 13.2 -57.2 9.1 M34.2 -1.1 Q45.3 -5 56.9 1.9 M34.3 -24.8 Q37.3 -29 43 -29.3 M34.6 -24.2 Q39.7 -27.8 44.8 -31.2 M13.8 30.2 Q18.8 41.7 24.4 53 M30.6 -26.1 Q33.4 -28.9 36.7 -31.1 M13.1 31.6 Q16.9 40.4 20.3 49.2 M-17.8 25.7 Q-22.5 37.8 -34.8 44.7 M-40.7 -5.1 Q-47.6 -2.4 -53.3 -10.1 M-23.9 20.3 Q-32.5 30.8 -46.1 35.7 M-33 -21.6 Q-39.1 -26.7 -46.8 -29.6 M-18.8 25.9 Q-23.7 34.9 -31.9 41.6 M25.5 30 Q30.8 34.1 33 40.9 M-31.6 21 Q-39.8 26.9 -48.7 31.8 M37.9 -15.5 Q43.6 -16.4 47.8 -20.9 M-4.6 -34.8 Q-8.2 -44.4 -4.7 -55 M-29.7 -15.1 Q-36.6 -19.8 -45 -21.6 M-18.5 -31.1 Q-21.2 -36.3 -24.8 -41.1" stroke="#1fb0e0"/><path d="M39.2 4.9 Q48.1 3.8 56.3 9.2 M38.2 17.6 Q42.6 22.4 50.1 20.4 M24.3 28 Q32 32.2 32.8 42.5 M15.6 35.9 Q18.6 41.9 20.6 48.4 M-5.3 42.2 Q-8.1 50.9 -6 60.2 M-35.8 12.8 Q-43.9 18 -54.3 17 M-11.8 -40.9 Q-12.1 -48.3 -17.6 -54.3 M32.8 -24.5 Q36.8 -30.6 45.1 -30.8 M30.1 -22.7 Q36.9 -28.4 44.6 -33 M-27 -15.4 Q-37.9 -20.4 -47.1 -28.1 M3.2 39.7 Q0.9 47.1 7.2 53.9 M-27.3 32.5 Q-33.4 34.8 -32.3 43.3 M-33.3 -8.4 Q-44.7 -8.5 -54.1 -16.6 M-29.2 26 Q-35 31.5 -41.3 36.3 M32.4 5.8 Q43.5 4.4 53 12.9 M41.2 -0.1 Q45.6 -3.2 50.3 2.8 M-31.3 20.1 Q-38.3 21.7 -41.6 29.2 M-12.9 -40.6 Q-14.7 -48.2 -18.1 -55.4 M-16.8 33.5 Q-23.4 38.2 -20.1 48.1 M-28.3 -21.8 Q-38.4 -27.4 -45.3 -37.1 M41.7 -2.7 Q48.1 -0.3 54 -6.2" stroke="#5cc8f0"/></g></g><g transform="translate(1513 1868) scale(1 0.87)"><g fill="none" stroke-linecap="round" stroke-width="1.8"><path d="M36.9 4.4 Q46.2 5 55.2 7 M36.7 6 Q46.1 4.5 54.2 11.9 M36.1 8.8 Q43.3 9.2 49.6 13.4 M34.9 12.9 Q45.2 13.4 52.4 22.7 M31.5 19.8 Q38 28.7 51.2 27.3 M31.2 20.2 Q41.3 23 46.3 33.7 M29.3 22.9 Q36.4 28.6 43.7 34.2 M24.2 28.3 Q31.7 35 36.1 44.4 M13.1 34.8 Q17.3 43.3 18.9 52.9 M12.4 35.1 Q17 42.1 15.9 51.2 M8.1 36.3 Q7.3 44.2 13.7 50.5 M2.9 37.1 Q1 46.6 6.8 55.6 M-0.8 37.2 Q-3.1 43.8 1.1 50.6 M-10.2 35.8 Q-12.3 44.9 -15.7 53.6 M-15.7 33.7 Q-18.1 42 -24 48.6 M-17.4 32.9 Q-20.6 40.8 -26.1 47.5 M-23.6 28.7 Q-27.2 38.3 -38.6 41.7 M-26.4 26.2 Q-34.6 31 -37.9 40.8 M-28.6 23.8 Q-37.3 26.1 -39 37.2 M-34.8 13.1 Q-44.1 16.7 -53.5 20 M-35.8 10 Q-45.8 10.6 -54.1 17.2 M-36.7 6.2 Q-43.7 7.6 -50.9 8.4 M-37.1 3.2 Q-46.5 1.3 -55.4 7.6 M36.7 -6.3 Q45 -5.7 52.4 -11" stroke="#0b4f96"/><path d="M26.9 2.8 Q33.2 3.1 39.4 4.4 M26.6 4.3 Q33.1 3.2 38.7 8.5 M25.7 8.3 Q32 9.2 37.4 13.1 M25.3 9.4 Q31.9 9.5 36.3 15.7 M22.9 14.4 Q26.6 20.1 35 18.6 M21.9 15.8 Q28.2 17.7 30.8 24.9 M21.1 16.9 Q25.9 20.9 30.9 24.7 M17.7 20.4 Q22.6 24.5 25.2 30.6 M9.2 25.4 Q12 31.1 12.9 37.5 M8.9 25.5 Q12.3 30.9 11.6 37.9 M4.2 26.7 Q3.4 33.1 8 38.8 M1.7 26.9 Q0.2 33.3 4.2 39.4 M-1 27 Q-2.9 33.2 0.2 39.6 M-7.2 26 Q-8.5 32.2 -10.9 38.1 M-11.5 24.4 Q-13.3 30.5 -17.7 35.4 M-13.2 23.6 Q-15.7 29.4 -19.9 34.3 M-16.6 21.3 Q-18.5 27.7 -26.1 29.8 M-18.5 19.7 Q-24 23.1 -25.9 30 M-20.6 17.5 Q-27.1 19.4 -28.3 27.7 M-25.1 9.8 Q-31 12.2 -36.9 14.3 M-26 7.3 Q-32.4 7.6 -37.7 12.1 M-26.5 5 Q-32.7 6.4 -38.9 7.2 M-27 1.6 Q-33.3 0 -39.4 4.3 M26.6 -4.6 Q33 -4.2 38.8 -8.2" stroke="#c48f12"/></g><circle cx="0" cy="0" r="25.2" fill="#5fd8c4"/><path d="M8.4 -15.6 L10.7 -18.1 L14.5 -16.7 L11.3 -13.2Z M-15.6 9 L-20.6 4.5 L-14.3 1.6 L-9.3 6.2Z M9.6 -6.5 L6.2 -11.7 L9.7 -14 L14.2 -10.1Z M-20.5 1.5 L-19.8 -6.2 L-10.6 -6.1 L-11.6 2.6Z M-16.1 -9 L-13.2 -12.5 L-8.7 -9.3 L-11 -6.7Z M-6.7 -18.1 L-6.4 -23.1 L1.4 -22.2 L0 -17.5Z M25.3 -2.9 L19.4 -0.6 L15.7 -3.9 L20.6 -7.8Z" fill="#2fa890"/><path d="M14.2 10.2 L9.3 6.1 L12.7 1.3 L18.8 5.3Z M-11.6 -6.2 L-14.5 -12.2 L-10 -14.7 L-4.8 -10.2Z M-13.7 -0.8 L-19.9 1.5 L-21.7 -3.7 L-15.6 -5.4Z M-11.3 9 L-16.3 9.2 L-16.9 5 L-12.3 4.6Z M-19.2 9.6 L-13.5 4.1 L-6.3 9.7 L-12.8 13.6Z M-22 6.3 L-24.6 3.7 L-20.6 0.1 L-16.7 4.6Z M-0.9 13.6 L-3.3 8.5 L3.9 6.7 L6.7 13Z M-4.6 12.1 L-11.8 10.8 L-11.1 5.9 L-3.7 6.9Z M-4.4 1.2 L-1.6 -1.8 L3.3 0.8 L-0.1 4.3Z M-4.8 15.4 L-4.4 11 L0.7 10.6 L1.4 15.9Z M13.4 -9.1 L7.4 -7.2 L5.4 -12.2 L10.3 -14Z M4.4 -0.9 L4.8 -6.1 L12.1 -6.9 L13.7 -1.8Z M-0.2 6.4 L0.9 0.8 L7.3 0.7 L7.4 7Z M21.9 8.5 L17.1 4.2 L21.7 0.7 L26.6 3.7Z M-11 14.6 L-7.6 9.1 L0.9 10.6 L-3.2 18.7Z M9.6 15.5 L4.8 9.8 L14.3 7.1 L17.7 11.8Z M7.8 -3.3 L1.3 -1.2 L-0.4 -6.8 L5.1 -8.1Z" fill="#86eadb"/><g fill="none" stroke-linecap="round" stroke-width="1.8"><path d="M38.2 -2 C21.2 -2.6 21.2 2.7 38.2 2.3 M38.4 6.4 C19.8 2 18.8 6.6 37.5 10.4 M39.9 12.8 C18.8 4.2 16.5 10 37.6 18.5 M33.5 18.4 C22.7 10.8 19.9 15.3 31.6 21.5 M31.2 23.5 C15.5 10.3 12.8 13.5 28.6 26.6 M27.5 30.6 C15.3 15 11.4 18.2 24 33.4 M21.1 32.9 C14.7 19.9 9.5 22.9 17.3 35 M14.4 35.6 C9 19.1 4.8 20.5 10.9 36.9 M7.8 36.9 C7 23.4 -0.1 24.4 2.9 37.6 M1.8 38.4 C2.7 23.9 -3.1 23.8 -2.4 38.3 M-5.9 38.4 C-1.4 19.7 -7.1 18.4 -11.1 37.3 M-11.6 36.2 C-5.1 20.7 -10 18.8 -15.6 34.7 M-18.6 30.9 C-9.5 19.1 -14.6 15.5 -22.5 28.1 M-26.3 29.7 C-14.1 18 -17.6 14.5 -29.1 27 M-26.9 24 C-12.5 13.3 -16.1 8.6 -30.2 19.8 M-31.9 19.6 C-17 12.7 -20.1 6.6 -34.4 14.8 M-38 13.2 C-22.8 9.3 -24.2 4.6 -39 9.7 M-41.1 7.2 C-22 5.5 -22.6 -0.3 -41.6 2.4 M-41 -2 C-21.8 0.4 -21.2 -4.7 -40.5 -6.3 M-37.5 -8.5 C-24.6 -3.5 -22.5 -10.6 -36 -13.5 M-36.3 -15.6 C-17 -6 -15.2 -9.8 -34.5 -19.3 M-34.8 -23.4 C-17.8 -10 -14.1 -14.7 -31.4 -27.9 M-27 -25.7 C-18.6 -15 -13.4 -19.8 -23.3 -29.1 M-23.2 -33.1 C-15.4 -19.2 -10.5 -22.3 -19.5 -35.4 M-16.1 -32.9 C-11 -19 -5.9 -21.1 -12.3 -34.5 M-11.3 -34.9 C-8.1 -19.8 -2.2 -21.3 -6.7 -36 M-4.9 -39.9 C-3.4 -18.4 0.7 -18.7 -1 -40.2 M3.9 -40.4 C0.5 -24.9 7.5 -23.8 9.1 -39.6 M9.1 -40 C2.7 -19.1 8.5 -17.4 14.7 -38.2 M17.2 -34 C7.8 -17.8 11.2 -15.9 20.2 -32.3 M23.9 -33.1 C10.1 -16.2 13.7 -13.3 27.4 -30.3 M28.5 -25.9 C15.1 -15.7 18.5 -11.6 31.1 -22.6 M32 -20.2 C14.7 -10.7 16.8 -6.9 34 -16.6 M36.1 -16.7 C18.3 -9.9 20.1 -5.6 37.6 -13 M39.5 -9.7 C20.4 -6.3 21.3 -1.6 40.3 -5.6" stroke="#f5c518"/><path d="M38.2 1.8 Q47 0.9 55.8 3.9 M38.3 6.9 Q45 7.9 51.5 9.4 M37.4 10.9 Q44.3 10.8 49.6 16.4 M39.9 12.8 Q44.8 15.4 50.6 15.2 M33.1 19 Q41.1 26.4 52.9 27.4 M31.5 21.6 Q38.4 28.9 49 30.8 M31.3 23.3 Q37.1 28.9 44.8 32.1 M29 26.2 Q36 30.1 39.6 38 M24.4 33.2 Q26.1 40.1 34.3 42.4 M20.9 33.1 Q26.4 41.4 31.4 50.1 M17.3 35 Q23.8 41.5 22.5 51.9 M14.5 35.6 Q19.9 41 17.2 49.8 M2.7 37.6 Q1.3 48.4 6.4 58.8 M1.9 38.4 Q2 45.2 2.7 52 M-2.3 38.3 Q0.1 46.8 -6.2 54.8 M-5.2 38.5 Q-9.3 47.5 -4.9 57.8 M-11.2 37.2 Q-11.9 46.6 -18.5 54.2 M-11 36.4 Q-14.1 43.6 -14.7 51.6 M-15.4 34.7 Q-22.1 41.7 -19.9 52.8 M-19.2 30.5 Q-23.6 40.4 -32 47.9 M-22.1 28.5 Q-28.6 35.9 -33.6 44.5 M-26.8 29.2 Q-34.4 34.2 -37.1 43.7 M-29.4 26.7 Q-35.5 34.9 -45.6 38.8 M-30.5 19.4 Q-36.6 26.1 -46.6 26.8 M-31.8 19.7 Q-41.1 21.5 -45.3 31.8 M-34.3 15 Q-41.6 21.9 -53.1 19.5 M-38 13 Q-43.9 16.8 -51.5 15.8 M-41 7.9 Q-47.9 9.1 -54.8 10.7 M-41.7 1.9 Q-47.7 3.4 -53.8 1.4 M-40.9 -2.7 Q-46.4 -2.2 -51.7 -4.2 M-37.4 -9.2 Q-44.2 -10.7 -51 -12.6 M-34.4 -19.5 Q-43 -22.4 -49.1 -29.7 M-31.5 -27.7 Q-39.5 -31.5 -42.7 -40.7 M-23.3 -29.1 Q-30.4 -36.8 -35.8 -45.9 M-23 -33.2 Q-28.2 -40.4 -33 -48 M-19.2 -35.5 Q-19.7 -43.5 -29.1 -46.8 M-16.7 -32.6 Q-18.7 -42.9 -28.6 -49.3 M-11.7 -34.7 Q-18 -44.6 -16.2 -57.3 M-11.8 -34.7 Q-12.4 -44.9 -20.6 -52.6 M-6.6 -36 Q-10.6 -43.9 -7.1 -53.2 M-5.3 -39.9 Q-8.1 -47.7 -5.9 -56.2 M4.5 -40.3 Q7.9 -45.4 3.2 -51.5 M8.7 -39.7 Q10.3 -45.8 11.1 -52.2 M9.4 -39.9 Q9.8 -47.3 14 -53.7 M14.6 -38.3 Q18.1 -45.8 20 -53.9 M17.7 -33.7 Q22.1 -42.3 26.7 -50.9 M20.8 -31.9 Q23.5 -41 32.9 -45.8 M27.7 -30 Q32.3 -37.1 40.2 -41.5 M29 -25.3 Q36.1 -28.6 38.9 -36.9 M30.9 -22.9 Q38.4 -24.5 40.5 -33.7 M31.8 -20.5 Q39.3 -24.7 46.1 -30.1 M34.2 -16.2 Q45.4 -17.8 52.4 -28.7 M36.4 -16.1 Q44.1 -21.7 54.3 -21.8 M39.4 -10 Q47.5 -14 57 -12.6 M40.2 -6.1 Q49.2 -9.2 58.9 -7.2 M20 29.8 Q27.2 35.4 27.4 45.8 M-36.9 -18.2 Q-43 -23.2 -51.5 -23.4 M18.6 -30.8 Q19.9 -39.9 30.5 -43.7 M-35.4 -3.3 Q-45.5 -4.7 -55.9 -4.7 M7.1 36.6 Q6.6 46 12.9 54.2 M-7.1 31.4 Q-7 42.3 -14.5 51.7 M-15.9 29.8 Q-18.7 38.8 -26.3 45.4 M-35.5 4.4 Q-42.5 8.4 -50.8 3.2 M30.5 -11.3 Q39.4 -13.5 47.3 -18.6 M-34.3 13.2 Q-39.8 17 -46.9 16.4 M28.6 -11.5 Q39.9 -17.3 52.7 -19.8 M-41.4 -3.2 Q-47 -2.4 -52.3 -5.1 M10.5 -36.8 Q10.2 -43.6 16 -48.7 M-41.5 -0.9 Q-46 -1.3 -50.5 -0.9 M39.2 -3 Q44.3 -5.8 50 -1.5 M-20.6 23.1 Q-28.9 29.2 -32.5 39.5 M-15.4 -37.3 Q-17.9 -42.3 -19.2 -47.9 M-16.4 25.8 Q-23.5 31.3 -23 42 M28.1 30.4 Q29.1 36.8 38.1 36.2 M-7.7 33 Q-7.2 44.9 -16.2 54.6 M-24.7 -23.4 Q-29.1 -30.3 -37.6 -33 M35.8 -15.8 Q39.9 -19.3 45.8 -18.7 M22.9 30.2 Q26 34 28.7 38.1 M-38.4 10.1 Q-45.5 11.9 -52.5 13.9 M-29.9 17.6 Q-35.7 22 -42.8 24.3" stroke="#1fb0e0"/><path d="M38.2 -2 Q48.6 -5.5 59.6 -0.1 M37.4 18.9 Q42.2 20.9 46.5 23.9 M27.8 30.3 Q35.7 35.5 38.5 45.4 M10.2 37.1 Q11.7 44.6 14.8 51.6 M8.1 36.9 Q9.5 45.3 12.3 53.5 M-27.3 23.6 Q-36.2 27.6 -39.8 38 M-39.1 9.3 Q-45.9 13.5 -54.4 10.4 M-40.6 -6 Q-47.3 -6 -53.7 -8.8 M-35.8 -14 Q-45 -17.3 -53.9 -21.4 M-36.5 -15.2 Q-41.7 -18.4 -48.1 -19 M-34.5 -23.8 Q-39.7 -29.7 -48.1 -31 M-27 -25.7 Q-35.5 -33.1 -43 -41.7 M-0.6 -40.2 Q0.2 -47.6 -1.7 -54.9 M23.4 -33.5 Q25.1 -39.7 32 -42.3 M37.4 -13.5 Q42.9 -17.7 50.5 -16.2 M29.6 28.1 Q32.7 33.7 39.6 35.4 M-28.8 -18.1 Q-36.2 -19.1 -38.9 -27.9 M34.6 11.9 Q39.3 17.1 47.6 12.8 M36.5 13.7 Q43.2 14.2 47.9 19.9 M-39.7 -0.6 Q-46.2 2.8 -52.7 -4.3 M-26.7 -22.7 Q-34.5 -27.1 -39 -35.4" stroke="#5cc8f0"/></g></g><g transform="translate(1252 1873) scale(1 0.87)"><g fill="none" stroke-linecap="round" stroke-width="1.8"><path d="M37.5 4.5 Q46.6 1.8 54.5 10.4 M36.8 8.7 Q45.9 10 54.4 13.7 M36.2 11 Q44.3 18.1 56.5 12.7 M29.5 23.6 Q37.7 24.8 38.2 35.8 M25.2 28.2 Q32.9 31 32 41.7 M23.4 29.7 Q28 36.3 33.6 42.1 M16 34.3 Q20.2 42.5 23.4 51.1 M15.6 34.4 Q15.7 45.2 27.8 50.7 M10.7 36.3 Q16.2 43.8 12.6 54.1 M8.9 36.8 Q7.3 47.8 18 56.2 M4.1 37.6 Q8.4 45.9 2.5 55.4 M1.5 37.8 Q4.4 45.9 -0.3 54.4 M-6 37.3 Q-3.3 46.3 -12.7 53.6 M-14.9 34.8 Q-19.8 43.6 -21.9 53.7 M-21.7 31 Q-30.4 35.7 -28.3 48.2 M-22.1 30.7 Q-24.1 37.5 -31.7 40.4 M-32.8 18.8 Q-42.7 19.2 -46.1 31.5 M-35 14.3 Q-41.2 17.5 -48.1 19.1 M-36.4 10.2 Q-46 9.7 -53.1 18.1 M-37.6 4 Q-47.6 4.6 -57.5 6.4 M-37.7 3 Q-46.2 6.9 -55.6 1.2 M-37.3 -6.2 Q-45 -11.2 -54.7 -5.3 M-36.8 -8.6 Q-43.4 -12.6 -51.6 -9.7" stroke="#ff3a5a"/><path d="M27.3 2.7 Q33.9 0.5 39.7 6.6 M27 4.7 Q33.4 5.3 39.6 7.5 M26 8.9 Q30.9 13.8 39 10.1 M20.7 18 Q27.5 19.8 28.2 28.7 M19 19.8 Q25.5 22.3 25.6 31.1 M17.2 21.4 Q21 26.6 25.5 31.2 M11.3 25 Q14.2 30.7 16.4 36.8 M10.1 25.5 Q9.5 32.5 17.6 36.2 M8.1 26.2 Q12.2 31.6 9.7 39.1 M6.3 26.7 Q4.9 33.5 12 38.4 M3.9 27.2 Q7.2 33.1 3.2 40.1 M-0.3 27.4 Q1.5 33.8 -2.2 40.2 M-4.2 27.1 Q-2.3 33.8 -9.1 39.2 M-11 25.1 Q-14.3 30.7 -15.5 37.2 M-14.2 23.5 Q-20.2 27.2 -18.1 36 M-16.5 21.9 Q-19 28 -25.6 31.1 M-24.2 12.9 Q-31.3 13 -33.9 21.7 M-25.1 11.2 Q-30.7 14.2 -36.9 16 M-26.3 8 Q-33 7.6 -37.8 13.8 M-26.9 5.2 Q-33.3 6.2 -39.5 7.9 M-27.3 2.4 Q-33.4 5.3 -40.2 1.3 M-27.3 -2.4 Q-33.4 -5.6 -40.3 -0.8 M-27.1 -4.3 Q-33.1 -7.1 -40 -4.5" stroke="#ff7a2a"/></g><circle cx="0" cy="0" r="25.6" fill="#ffb0b0"/><path d="M14 14.4 L15 8.5 L20.6 9.9 L20.1 13.6Z M-13.2 13.4 L-22.4 14.8 L-24.5 10.1 L-16.6 6.9Z M3.4 25 L-2.3 23.8 L0.6 19.3 L5.1 20.3Z M-6.4 2.8 L-8 -0.9 L-3.8 -1.6 L-1.8 1.2Z M-20.9 -3.7 L-24.3 -7.2 L-18.7 -10 L-14.6 -6.9Z M-18.8 12.1 L-21.9 7 L-17.5 5 L-13.7 9.2Z" fill="#ff8080"/><path d="M-17.8 1.2 L-14.7 -4.8 L-6.3 -2.4 L-8.4 3.5Z M14.6 -6.4 L8.8 -3.3 L5.3 -8.9 L11 -12.1Z M-15.8 -6.8 L-21.6 -10.1 L-16.4 -15.8 L-11.7 -12.3Z M5.7 5.2 L7.8 1.1 L14.3 3.4 L11.9 6.9Z M7.2 3.3 L3.4 0.2 L6 -2.4 L10 -0.1Z M1 -17.7 L6.1 -20.9 L11.6 -18.4 L6.8 -13Z M-3.7 5.7 L-3.1 -1.2 L6.2 0.7 L5 7Z M-8 2.5 L-10.6 -1.2 L-7.2 -2.7 L-3.9 0.1Z M-3.1 -16.5 L-7.4 -18.9 L-3.9 -22.8 L0.4 -20Z M22.7 4.3 L14.6 3.6 L14.7 -2.1 L23.3 -2.7Z M8.7 22.8 L7.6 17.6 L14.3 16.5 L14.3 23.4Z M7.1 -14.6 L6.3 -19.5 L13 -19.2 L13.7 -15.6Z" fill="#ffd0c8"/><g fill="none" stroke-linecap="round" stroke-width="1.8"><path d="M38 -1 C21.2 -1.9 21.1 3.1 37.9 3.1 M41.4 6 C18.3 1.5 17.5 5.7 40.5 10.4 M37.2 12 C19.2 5 17.7 9 35.8 15.7 M32.5 17.6 C17.1 7.4 13.8 12.4 29.6 22.2 M33.2 26.9 C20.4 13.9 15.3 19.4 29.1 31.2 M27.8 30.5 C16.9 16.6 13.3 19.7 24.9 32.9 M19.6 34.7 C10.7 16.7 7 18.6 16.1 36.4 M17 39 C10.5 19.5 4.2 21.7 11.4 41 M7.3 36 C5.7 19.9 -0.4 20.7 2.3 36.7 M1.9 36.6 C3.5 25.2 -4.4 25.1 -3.3 36.5 M-6.1 36.4 C-1.7 19.9 -7.4 18.5 -10.9 35.3 M-12.3 39.3 C-4.4 19.1 -9.4 17.1 -17.1 37.4 M-21.1 34.8 C-10.7 21.6 -16.9 17.2 -25.9 31.4 M-24.9 32.7 C-12.7 20 -18.3 15 -29.4 28.7 M-28.5 23.7 C-16.1 15.1 -18.9 11.4 -30.6 20.8 M-37.2 19.3 C-20.4 12.7 -23.1 6.6 -39.3 14.5 M-35.1 12.5 C-18.2 8.2 -19.8 2.4 -36.5 7.5 M-38.7 5.4 C-21.4 4.5 -21.9 -0.9 -39.1 1 M-39.1 -1.4 C-24.8 1 -24.2 -5.8 -38.6 -6.2 M-41.6 -7.1 C-23.6 -2.1 -21.9 -8.9 -40.2 -12.6 M-38.2 -16.6 C-22.9 -8.1 -20.2 -13.5 -36.1 -20.8 M-32.1 -21 C-16 -9.1 -13.5 -12.5 -29.7 -24.3 M-30 -28.4 C-19.8 -16.3 -15.1 -20.7 -26.6 -31.7 M-21.9 -29.7 C-14 -16.9 -10.2 -19.5 -19 -31.7 M-16.4 -32.7 C-11.2 -18.6 -5.7 -20.9 -12.3 -34.5 M-12.3 -39.6 C-8.7 -22.3 -2.8 -23.7 -7.7 -40.8 M-3.8 -39.7 C-3 -18.2 1.5 -18.4 0.6 -39.9 M4.4 -40.6 C0.7 -20.2 5.9 -19.4 9.1 -39.8 M9.3 -37.1 C3.1 -19.8 9.3 -17.7 14.7 -35.3 M15.8 -34.7 C8.1 -20.9 12.4 -18.7 19.2 -33 M24.7 -32.5 C12.1 -17.8 15.4 -15.1 27.5 -30.1 M28 -25.8 C13.2 -14.1 16.5 -10 31 -22.1 M32.8 -22.2 C17.2 -13.4 19.9 -8.8 35 -18.4 M36.1 -16.3 C22.5 -12.1 24.9 -5.9 37.7 -11.9 M40 -9.5 C19 -5.9 19.9 -0.9 40.9 -4.8" stroke="#ffb347"/><path d="M38 -1 Q48.1 0.6 58 -3.5 M41.3 6.6 Q47.1 9.1 53.6 7.1 M40.7 9.6 Q47.8 9.7 53.9 14.2 M37.2 12.1 Q45.5 16.9 55.7 16.1 M35.9 15.4 Q43.3 18.2 50.2 22 M32.4 17.9 Q39.5 21.9 46.7 25.8 M29.8 21.9 Q39.3 29.2 49.3 35.7 M33.5 26.4 Q40 29.2 43.2 36.1 M29 31.3 Q33.7 37.7 40.4 42.2 M27.6 30.6 Q32.6 38 40.4 43 M24.9 32.9 Q30.5 37.6 32.2 45.4 M16.6 36.2 Q18.2 43.9 24.5 49.4 M12 40.8 Q13.1 46.7 15.9 52 M7.3 36 Q8.1 44.3 11.4 52.1 M2.1 36.7 Q1 48.7 5.5 60.5 M1.9 36.6 Q4.4 46 0.8 55.8 M-3.9 36.5 Q-2 48 -9.5 58.6 M-6.8 36.3 Q-5.4 46.4 -13.6 54.9 M-11.5 35.1 Q-15.4 46.4 -18.8 57.9 M-12.9 39.1 Q-14.5 46.7 -18.5 53.6 M-16.7 37.6 Q-23.5 44.5 -21 55.7 M-21.7 34.4 Q-28.4 41.7 -30.5 51.8 M-25.2 32.4 Q-31.5 35.1 -30.2 43.8 M-29.3 28.8 Q-34.4 31.9 -36.7 38 M-28.1 24.1 Q-36.1 29.2 -41.4 37.5 M-30.7 20.7 Q-41.2 24.3 -46.9 35.3 M-39.3 14.6 Q-46.5 16 -52.5 20.9 M-35 12.8 Q-43.6 18.6 -54.9 17.4 M-36.3 8 Q-46.9 12.8 -59 10.6 M-39.1 1.6 Q-47 3.3 -55.1 1 M-39.1 -1 Q-46.3 -0.8 -53.5 -1.9 M-38.5 -6.9 Q-49 -9.8 -60 -9.9 M-41.7 -6.3 Q-47.3 -7.4 -53 -7.6 M-40.1 -13 Q-44.9 -17.1 -51.9 -14.3 M-38.5 -16 Q-45.9 -21.5 -55.8 -21 M-36 -21 Q-42.4 -20.9 -44 -29.3 M-31.8 -21.5 Q-37.4 -28.9 -48 -28.9 M-29.5 -24.5 Q-35.6 -28.7 -40.4 -34.4 M-29.5 -29 Q-36.4 -32.4 -38.3 -41 M-26.4 -31.8 Q-29.5 -38.8 -37.4 -41.9 M-21.4 -30 Q-27 -35.9 -29.8 -43.7 M-19.3 -31.4 Q-26.9 -40.4 -29.9 -52.2 M-16.4 -32.7 Q-22.8 -39.1 -21.7 -49.4 M-12.1 -34.6 Q-14.2 -46.3 -21.7 -56.3 M-13 -39.4 Q-17.7 -46.9 -16.4 -56.4 M-7.8 -40.7 Q-11 -48.3 -9.3 -56.8 M-4.1 -39.7 Q-5.5 -48.3 -5.5 -57.1 M0.6 -39.9 Q0.5 -46.3 1 -52.7 M4.8 -40.5 Q7.5 -49.3 5.3 -58.7 M9 -39.8 Q9 -46.4 13.2 -52.2 M9.6 -37.1 Q15.2 -47.2 12.3 -59.7 M15.1 -35.2 Q16.9 -44.3 24.1 -51.1 M19.5 -32.8 Q27.2 -39.2 26.4 -50.8 M24.7 -32.5 Q30 -38.9 34.4 -46 M27.1 -30.5 Q29 -36.7 37 -37.6 M27.5 -26.3 Q35.9 -30.6 38.8 -40.7 M30.7 -22.5 Q37.6 -25.6 41.8 -32.5 M34.9 -18.6 Q44.2 -23.5 53.4 -28.4 M35.8 -16.9 Q43.3 -22.6 53.3 -23.2 M37.6 -12.3 Q46 -12.9 52.5 -19.3 M40 -9.7 Q49.8 -10.5 58.6 -15.9 M40.9 -4.2 Q50.6 -3.2 59.7 -8 M-2.6 -36.2 Q-2.9 -42.1 -3.6 -47.9 M-30.2 -13.4 Q-37.6 -19.1 -47.7 -18.7 M24.4 -22.9 Q27.7 -29.8 36.7 -30.8 M-21.1 -33.4 Q-25 -41 -30.9 -47.3 M30.8 3.6 Q41 8.1 52.5 2.7 M31.7 -2.4 Q44.1 -2.9 56.3 -4.8 M5.7 -35.4 Q8 -44.3 7.8 -53.7 M-21.6 -31.4 Q-29.8 -37 -29.2 -48.9 M30.7 9.2 Q43.3 9.1 52.9 19.8 M-14.4 -30.5 Q-18.2 -39 -22.5 -47.3 M24.5 31.2 Q29.6 38.8 36.3 45.2 M15.6 -38.7 Q14 -44.2 22 -45.9 M-17.8 -26.5 Q-24.1 -37.5 -32.8 -46.8 M-2.6 35 Q-3.9 45.5 -3.7 56.2 M-35.9 19.1 Q-42 19.9 -45.2 26.3 M-36.5 -16.3 Q-40.4 -20.3 -46.8 -18.9 M13.5 28.4 Q16.1 37.4 22.8 44.6 M-37.3 9.4 Q-45.9 9.2 -52.9 15.7 M-25.4 -33.2 Q-25.4 -37.6 -31.6 -37.4 M41.1 -11.1 Q46.8 -15.2 54.5 -12.3 M19.3 -28.3 Q27.9 -36.4 30.1 -49 M13.4 34.1 Q15.7 44.8 23 53.6 M40.2 -4.8 Q46.5 -2.4 51.9 -9.2 M-30.5 -20.7 Q-34.5 -26.4 -42.6 -26.2 M31.2 19.9 Q38.5 21.8 42 29.6" stroke="#ff6fc0"/><path d="M37.9 2.7 Q47.6 0.8 56.8 6.6 M20 34.4 Q27.5 41.5 27.4 53.1 M16.9 39 Q21.7 45.2 21.4 53.7 M-26.1 31.2 Q-32.8 36.9 -36.1 45.4 M-37 19.7 Q-43.5 19.6 -45.8 27.6 M-38.8 5.3 Q-45.6 8 -53.2 5.5 M16.1 -34.6 Q17.4 -43.6 25.7 -49.4 M32.9 -22 Q38.7 -27 46 -29.8 M14.5 32.4 Q15.8 41.7 24.3 48 M34.2 -12.8 Q44.4 -16.3 54.4 -20.5 M-37.5 -7.7 Q-43.3 -5.7 -47.4 -12.7 M31 18.8 Q35.1 22.9 41.3 23.7 M23.4 -33 Q27.5 -37.5 29.6 -43.3 M-1 38.6 Q-2.4 48.2 -0.4 57.8" stroke="#ff9ad8"/></g></g><circle cx="1250" cy="1866" r="20" fill="#ffd8d0" opacity="0.8" filter="url(#b4)"/><g transform="translate(1072.3 1681) rotate(-45.3)"><rect x="-26" y="0" width="52" height="250" fill="url(#beam)"/></g><g transform="translate(1009 1600.7) rotate(-38.7)"><path d="M-33.5 0 L-33.5 101 A33.5 13 0 0 0 33.5 101 L33.5 0 A33.5 13 0 0 0 -33.5 0 Z" fill="url(#metalL)"/><ellipse cx="0" cy="0" rx="33.5" ry="13" fill="#8a8a8a"/><path d="M-33.5 0 A33.5 13 0 0 1 33.5 0 A33.5 11 0 0 0 -33.5 0Z" fill="#5a5a5a"/><path d="M-26 103 A26 9 0 0 0 26 103" fill="none" stroke="#ff5a5a" stroke-width="5" opacity="0.8"/></g><path d="M1582.6 1746 C1590 1790 1588 1840 1561.4 1897 C1605 1860 1640 1815 1655 1770 Z" fill="#f07868" opacity="0.62"/><path d="M1697 1927 C1660 1955 1600 1968 1549 1972.7 C1600 1988 1660 1992 1712.5 1988 Z" fill="#f07868" opacity="0.62"/><path d="M1682 2108.7 C1625 2100 1575 2072 1543 2042 C1558 2095 1600 2140 1655 2175 Z" fill="#f07868" opacity="0.6"/><circle cx="1648.5" cy="1664.4" r="106" fill="#050505"/><g clip-path="url(#c1)" fill="none" stroke-linecap="round"><ellipse cx="1650" cy="1588" rx="58" ry="26" fill="#a0a0a0" opacity="0.6" filter="url(#b8)"/><ellipse cx="1700" cy="1600" rx="34" ry="24" fill="#909090" opacity="0.45" filter="url(#b8)"/><ellipse cx="1735" cy="1700" rx="16" ry="40" fill="#808080" opacity="0.35" filter="url(#b8)"/><path d="M1556 1632 C1563.2 1633.2 1563.8 1630 1580 1636 C1596.2 1642 1592 1650.8 1610 1652 C1628 1653.2 1623.5 1647.2 1640 1640 C1656.5 1632.8 1657.5 1631.6 1665 1628" stroke="#fff" stroke-width="5.2" opacity="0.3" filter="url(#b2)"/><path d="M1556 1632 C1563.2 1633.2 1563.8 1630 1580 1636 C1596.2 1642 1592 1650.8 1610 1652 C1628 1653.2 1623.5 1647.2 1640 1640 C1656.5 1632.8 1657.5 1631.6 1665 1628" stroke="#dcdcdc" stroke-width="2.0" opacity="0.85"/><path d="M1665 1628 C1675.5 1634 1676 1648.9 1700 1648 C1724 1647.1 1731.5 1631.9 1745 1625" stroke="#fff" stroke-width="5.2" opacity="0.3" filter="url(#b2)"/><path d="M1665 1628 C1675.5 1634 1676 1648.9 1700 1648 C1724 1647.1 1731.5 1631.9 1745 1625" stroke="#dcdcdc" stroke-width="2.0" opacity="0.85"/><path d="M1686 1562 C1687.2 1579.4 1687.6 1578.6 1690 1620 C1692.4 1661.4 1694 1655.6 1694 1700 C1694 1744.4 1691.2 1747.6 1690 1768" stroke="#fff" stroke-width="7.800000000000001" opacity="0.3" filter="url(#b2)"/><path d="M1686 1562 C1687.2 1579.4 1687.6 1578.6 1690 1620 C1692.4 1661.4 1694 1655.6 1694 1700 C1694 1744.4 1691.2 1747.6 1690 1768" stroke="#dcdcdc" stroke-width="3.0" opacity="0.85"/><path d="M1575 1700 C1582.5 1704.8 1577.5 1714.5 1600 1716 C1622.5 1717.5 1623 1706.2 1650 1705 C1677 1703.8 1666 1716.5 1690 1712 C1714 1707.5 1711.4 1694.8 1730 1690 C1748.6 1685.2 1745.4 1694.2 1752 1696" stroke="#fff" stroke-width="6.760000000000001" opacity="0.3" filter="url(#b2)"/><path d="M1575 1700 C1582.5 1704.8 1577.5 1714.5 1600 1716 C1622.5 1717.5 1623 1706.2 1650 1705 C1677 1703.8 1666 1716.5 1690 1712 C1714 1707.5 1711.4 1694.8 1730 1690 C1748.6 1685.2 1745.4 1694.2 1752 1696" stroke="#dcdcdc" stroke-width="2.6" opacity="0.85"/><path d="M1640 1640 C1637.6 1652 1629 1660.5 1632 1680 C1635 1699.5 1644.6 1697.5 1650 1705" stroke="#fff" stroke-width="3.9000000000000004" opacity="0.3" filter="url(#b2)"/><path d="M1640 1640 C1637.6 1652 1629 1660.5 1632 1680 C1635 1699.5 1644.6 1697.5 1650 1705" stroke="#dcdcdc" stroke-width="1.5" opacity="0.85"/><path d="M1600 1716 C1601.5 1729.2 1603.5 1746.8 1605 1760" stroke="#fff" stroke-width="3.6399999999999997" opacity="0.3" filter="url(#b2)"/><path d="M1600 1716 C1601.5 1729.2 1603.5 1746.8 1605 1760" stroke="#dcdcdc" stroke-width="1.4" opacity="0.85"/><path d="M1620 1570 C1626 1579 1634 1579 1640 1600 C1646 1621 1640 1628 1640 1640" stroke="#fff" stroke-width="3.6399999999999997" opacity="0.3" filter="url(#b2)"/><path d="M1620 1570 C1626 1579 1634 1579 1640 1600 C1646 1621 1640 1628 1640 1640" stroke="#dcdcdc" stroke-width="1.4" opacity="0.85"/><path d="M1556 1632 C1554.8 1646.4 1550.8 1656.6 1552 1680 C1553.2 1703.4 1557.6 1701 1560 1710" stroke="#fff" stroke-width="5.720000000000001" opacity="0.3" filter="url(#b2)"/><path d="M1556 1632 C1554.8 1646.4 1550.8 1656.6 1552 1680 C1553.2 1703.4 1557.6 1701 1560 1710" stroke="#dcdcdc" stroke-width="2.2" opacity="0.85"/><path d="M1745 1625 C1742 1611.5 1738 1593.5 1735 1580" stroke="#fff" stroke-width="4.16" opacity="0.3" filter="url(#b2)"/><path d="M1745 1625 C1742 1611.5 1738 1593.5 1735 1580" stroke="#dcdcdc" stroke-width="1.6" opacity="0.85"/><path d="M1694 1660 C1701.8 1657 1703.8 1651.5 1720 1650 C1736.2 1648.5 1739.6 1653.5 1748 1655" stroke="#fff" stroke-width="3.6399999999999997" opacity="0.3" filter="url(#b2)"/><path d="M1694 1660 C1701.8 1657 1703.8 1651.5 1720 1650 C1736.2 1648.5 1739.6 1653.5 1748 1655" stroke="#dcdcdc" stroke-width="1.4" opacity="0.85"/><path d="M1660 1720 C1661.5 1732.6 1663.5 1749.4 1665 1762" stroke="#fff" stroke-width="3.12" opacity="0.3" filter="url(#b2)"/><path d="M1660 1720 C1661.5 1732.6 1663.5 1749.4 1665 1762" stroke="#dcdcdc" stroke-width="1.2" opacity="0.85"/><path d="M1710 1700 C1712.4 1713.5 1715.6 1731.5 1718 1745" stroke="#fff" stroke-width="4.16" opacity="0.3" filter="url(#b2)"/><path d="M1710 1700 C1712.4 1713.5 1715.6 1731.5 1718 1745" stroke="#dcdcdc" stroke-width="1.6" opacity="0.85"/><path d="M1597.8 1588.6 l-2.9 -9.7" stroke="#bbb" stroke-width="0.9" opacity="0.45"/><path d="M1565.6 1645.3 l11.7 8.4" stroke="#bbb" stroke-width="0.9" opacity="0.45"/><path d="M1698.4 1611.2 l1 -6.3" stroke="#bbb" stroke-width="0.9" opacity="0.45"/><path d="M1585.8 1589.2 l-8 12" stroke="#bbb" stroke-width="0.9" opacity="0.45"/><path d="M1710.5 1722.3 l8.4 -8.6" stroke="#bbb" stroke-width="0.9" opacity="0.45"/><path d="M1611.9 1688.1 l6.5 9.9" stroke="#bbb" stroke-width="0.9" opacity="0.45"/><path d="M1720.2 1585.5 l3 4.8" stroke="#bbb" stroke-width="0.9" opacity="0.45"/><path d="M1649.1 1602.8 l-0.7 -11.5" stroke="#bbb" stroke-width="0.9" opacity="0.45"/><path d="M1730.6 1733.4 l1.3 -5.6" stroke="#bbb" stroke-width="0.9" opacity="0.45"/><path d="M1725.7 1677.7 l10.7 9.7" stroke="#bbb" stroke-width="0.9" opacity="0.45"/><path d="M1649.6 1647.6 l2.8 -1.9" stroke="#bbb" stroke-width="0.9" opacity="0.45"/><path d="M1583.7 1627 l8.8 -12.8" stroke="#bbb" stroke-width="0.9" opacity="0.45"/><path d="M1561.8 1688 l-6.1 1" stroke="#bbb" stroke-width="0.9" opacity="0.45"/><path d="M1642.5 1634.1 l13.9 -8.5" stroke="#bbb" stroke-width="0.9" opacity="0.45"/><path d="M1631.4 1607.5 l3.7 -6.3" stroke="#bbb" stroke-width="0.9" opacity="0.45"/><path d="M1620.6 1710.9 l-5 1.6" stroke="#bbb" stroke-width="0.9" opacity="0.45"/><path d="M1724.8 1588.2 l-12.3 -7.6" stroke="#bbb" stroke-width="0.9" opacity="0.45"/><path d="M1698.4 1685.9 l-7.4 -4.7" stroke="#bbb" stroke-width="0.9" opacity="0.45"/><path d="M1586.7 1656.2 l-12.8 5.5" stroke="#bbb" stroke-width="0.9" opacity="0.45"/><path d="M1723.2 1750.4 l6.6 12.9" stroke="#bbb" stroke-width="0.9" opacity="0.45"/><path d="M1556.5 1623.9 l13 7.7" stroke="#bbb" stroke-width="0.9" opacity="0.45"/><path d="M1631 1748.2 l3.4 8.9" stroke="#bbb" stroke-width="0.9" opacity="0.45"/><path d="M1608.7 1605.4 l-1.6 -10.2" stroke="#bbb" stroke-width="0.9" opacity="0.45"/><path d="M1625.5 1751.7 l-4.7 -13.7" stroke="#bbb" stroke-width="0.9" opacity="0.45"/><path d="M1561.5 1601.2 l7.9 -3.8" stroke="#bbb" stroke-width="0.9" opacity="0.45"/><path d="M1608.2 1587.4 l13.5 -2.1" stroke="#bbb" stroke-width="0.9" opacity="0.45"/><path d="M1592.5 1580.3 l-12.5 -9.3" stroke="#bbb" stroke-width="0.9" opacity="0.45"/><path d="M1681.6 1597.4 l-12.9 -0.3" stroke="#bbb" stroke-width="0.9" opacity="0.45"/><path d="M1600.3 1758.6 l-10.6 0.8" stroke="#bbb" stroke-width="0.9" opacity="0.45"/><path d="M1700 1646.8 l13.7 -0.6" stroke="#bbb" stroke-width="0.9" opacity="0.45"/><path d="M1599 1647 l-13 -2.2" stroke="#bbb" stroke-width="0.9" opacity="0.45"/><path d="M1600.2 1738 l9.3 -0" stroke="#bbb" stroke-width="0.9" opacity="0.45"/><path d="M1559 1617.3 l-7.2 -8.2" stroke="#bbb" stroke-width="0.9" opacity="0.45"/><path d="M1597 1734.2 l-10 -12.6" stroke="#bbb" stroke-width="0.9" opacity="0.45"/><path d="M1729.3 1676.4 l13.7 -2.7" stroke="#bbb" stroke-width="0.9" opacity="0.45"/><path d="M1724.2 1693.3 l8.1 6.9" stroke="#bbb" stroke-width="0.9" opacity="0.45"/><path d="M1646.9 1586.7 l-8.1 10.5" stroke="#bbb" stroke-width="0.9" opacity="0.45"/><path d="M1724 1744.7 l-4.6 4.4" stroke="#bbb" stroke-width="0.9" opacity="0.45"/><path d="M1704.9 1691.1 l8.8 0.8" stroke="#bbb" stroke-width="0.9" opacity="0.45"/><path d="M1677.4 1699.3 l-6.5 11.8" stroke="#bbb" stroke-width="0.9" opacity="0.45"/><path d="M1734.7 1583.1 l13.2 12.9" stroke="#bbb" stroke-width="0.9" opacity="0.45"/><path d="M1680 1577.5 l11.2 -10.4" stroke="#bbb" stroke-width="0.9" opacity="0.45"/><path d="M1737 1695.8 l-12.3 -9.3" stroke="#bbb" stroke-width="0.9" opacity="0.45"/><path d="M1673.7 1677.1 l6.9 12" stroke="#bbb" stroke-width="0.9" opacity="0.45"/><path d="M1594.5 1569.6 l11.8 -13.6" stroke="#bbb" stroke-width="0.9" opacity="0.45"/><path d="M1719.5 1591 l8.7 7.9" stroke="#bbb" stroke-width="0.9" opacity="0.45"/><path d="M1719.8 1673.6 l10.6 -8.4" stroke="#bbb" stroke-width="0.9" opacity="0.45"/><path d="M1680.6 1631.8 l11 7.7" stroke="#bbb" stroke-width="0.9" opacity="0.45"/><path d="M1642.6 1669 l-13.3 -13" stroke="#bbb" stroke-width="0.9" opacity="0.45"/><path d="M1666 1661.9 l10.2 3" stroke="#bbb" stroke-width="0.9" opacity="0.45"/><path d="M1579.4 1637.9 l7.5 0.6" stroke="#bbb" stroke-width="0.9" opacity="0.45"/><path d="M1555 1728.2 l9.2 -11.6" stroke="#bbb" stroke-width="0.9" opacity="0.45"/><path d="M1656.2 1641.4 l8 -5.3" stroke="#bbb" stroke-width="0.9" opacity="0.45"/><path d="M1597.4 1661.5 l13.1 -11.3" stroke="#bbb" stroke-width="0.9" opacity="0.45"/><path d="M1574.7 1687 l10.8 0.3" stroke="#bbb" stroke-width="0.9" opacity="0.45"/><path d="M1635.5 1732 l7.7 -12.1" stroke="#bbb" stroke-width="0.9" opacity="0.45"/><path d="M1720.5 1606.2 l-5.5 9.4" stroke="#bbb" stroke-width="0.9" opacity="0.45"/><path d="M1633.3 1720.7 l-9.3 10.5" stroke="#bbb" stroke-width="0.9" opacity="0.45"/><path d="M1586.5 1597.4 l-0.2 -4.5" stroke="#bbb" stroke-width="0.9" opacity="0.45"/><path d="M1656 1740.8 l5.9 -13.8" stroke="#bbb" stroke-width="0.9" opacity="0.45"/></g><circle cx="1648.5" cy="1664.4" r="106" fill="url(#ringglow)"/><circle cx="1795.7" cy="1908.5" r="105.5" fill="#0e0a22"/><g clip-path="url(#c2)" fill="none" stroke-linecap="round"><circle cx="1790" cy="1915" r="80" fill="#6a3410" opacity="0.5" filter="url(#b14)"/><path d="M1775.3 1958.5 C1775.2 1961 1775.1 1969.6 1774.8 1967.1 C1774.4 1964.6 1777.4 1951 1774.1 1950.1 C1770.9 1949.2 1767 1959.8 1764 1964" stroke="#8a4a14" stroke-width="1" opacity="0.4"/><path d="M1796 1907.9 C1790.6 1912.8 1783 1914.4 1778.1 1924.2 C1773.3 1934 1776 1934.8 1779.9 1940.5 C1783.8 1946.3 1787.8 1942.5 1791.2 1943.3" stroke="#e09a3a" stroke-width="1.6" opacity="0.6"/><path d="M1782.8 1913 C1786 1911.4 1788.4 1913.6 1793.6 1907.5 C1798.8 1901.5 1803.2 1901.5 1800.1 1892.8 C1797 1884.2 1788.4 1882.9 1783.4 1878.6" stroke="#e09a3a" stroke-width="0.9" opacity="0.8"/><path d="M1756 1949.5 C1754.2 1951 1756.7 1954.1 1750 1954.4 C1743.3 1954.7 1733.4 1955.5 1733.8 1950.5 C1734.1 1945.5 1746 1941.5 1751.2 1937.7" stroke="#a85a18" stroke-width="1.1" opacity="0.4"/><path d="M1840.6 1867.5 C1840.9 1870.5 1846.2 1876.3 1841.6 1877.6 C1837 1879 1826.3 1878.5 1825.1 1872 C1824 1865.5 1833.9 1860.8 1837.7 1855.9" stroke="#d8892a" stroke-width="1.3" opacity="0.6"/><path d="M1712 1866.2 C1715.1 1871.8 1723.8 1877.5 1722.4 1884.9 C1720.9 1892.3 1709.5 1886.2 1707 1891 C1704.5 1895.7 1711.9 1897.8 1714.1 1900.8" stroke="#e09a3a" stroke-width="1.6" opacity="0.6"/><path d="M1837.1 1853 C1841.7 1849.8 1847.9 1849 1852.4 1842.5 C1856.8 1836 1853.7 1831.7 1852 1831.3 C1850.3 1830.9 1848.3 1838.2 1846.7 1841.1" stroke="#e09a3a" stroke-width="1.4" opacity="0.8"/><path d="M1828.1 1884.2 C1826.9 1888 1827.9 1894.1 1824.1 1896.9 C1820.3 1899.6 1823.9 1898.2 1815.4 1893.3 C1807 1888.5 1801.8 1884.5 1796 1880.7" stroke="#e09a3a" stroke-width="1.2" opacity="0.6"/><path d="M1814.4 1872.1 C1813 1866.4 1811.1 1859.3 1809.9 1853.2 C1808.7 1847 1804.7 1850.4 1810.4 1851.5 C1816.1 1852.6 1823.4 1855.2 1829 1856.7" stroke="#8a4a14" stroke-width="1.4" opacity="0.5"/><path d="M1817.6 1922 C1814.2 1927.1 1805.1 1930.7 1806.4 1939.1 C1807.8 1947.6 1821.7 1950 1822.2 1950.2 C1822.6 1950.4 1812.3 1942.9 1808.1 1939.8" stroke="#8a4a14" stroke-width="0.8" opacity="0.4"/><path d="M1749.3 1942.9 C1750.8 1945.4 1752.2 1954.6 1754.2 1951.4 C1756.1 1948.2 1758.3 1934.9 1755.7 1932.1 C1753.1 1929.4 1748.6 1939.2 1745.5 1942.2" stroke="#d8892a" stroke-width="0.7" opacity="0.5"/><path d="M1800.3 1912.2 C1806.2 1909.7 1809.4 1903.9 1820 1903.8 C1830.6 1903.7 1828.2 1907.6 1835.6 1911.9 C1843.1 1916.2 1842.1 1916.2 1844.9 1918.1" stroke="#d8892a" stroke-width="1.7" opacity="0.7"/><path d="M1731.3 1882.6 C1734 1883.2 1737.6 1888.2 1740.3 1884.7 C1743 1881.2 1736.2 1875.2 1740.4 1870.9 C1744.6 1866.5 1750 1870.4 1754.2 1870.2" stroke="#b8681a" stroke-width="1.1" opacity="0.4"/><path d="M1835.4 1875 C1835.9 1872.6 1837.6 1873.4 1836.9 1867.1 C1836.2 1860.8 1839.4 1852.1 1832.9 1853.9 C1826.5 1855.7 1820.7 1867.4 1815.4 1873.1" stroke="#8a4a14" stroke-width="1.7" opacity="0.4"/><path d="M1810.7 1904.2 C1806.5 1908.4 1797.2 1917.1 1796.9 1918.1 C1796.7 1919.1 1805.3 1910.9 1809.9 1907.4 C1814.4 1903.9 1811.4 1906.7 1812 1906.5" stroke="#a85a18" stroke-width="1.3" opacity="0.7"/><path d="M1726 1929.7 C1730.5 1931.9 1734 1936.8 1740.8 1937 C1747.6 1937.3 1750.3 1932.1 1748.7 1930.5 C1747.1 1928.9 1739.5 1931.3 1735.6 1931.7" stroke="#d8892a" stroke-width="0.8" opacity="0.6"/><path d="M1821.8 1891.9 C1823.6 1896.6 1824.7 1908.5 1827.7 1907.7 C1830.6 1907 1828.9 1897.7 1831.7 1889.2 C1834.5 1880.7 1835.4 1882.4 1837 1879.5" stroke="#a85a18" stroke-width="1.4" opacity="0.7"/><path d="M1713.4 1919.9 C1717.1 1914.9 1725.1 1910.4 1725.7 1903.2 C1726.2 1896 1723 1892.4 1715.1 1895.9 C1707.2 1899.4 1704 1909.2 1699.3 1914.9" stroke="#b8681a" stroke-width="1.4" opacity="0.6"/><path d="M1831.1 1905.1 C1826.1 1907.7 1819.4 1910.5 1814.3 1913.6 C1809.3 1916.8 1813.1 1917.9 1814.3 1915.5 C1815.4 1913 1817 1908.5 1818.2 1905.5" stroke="#d8892a" stroke-width="1.4" opacity="0.5"/><path d="M1784.8 1899.8 C1782.5 1899.9 1774.8 1896.1 1777.2 1900.1 C1779.5 1904.1 1784 1914.3 1792.7 1913.1 C1801.4 1911.9 1802.2 1901.1 1806.3 1896" stroke="#d8892a" stroke-width="1.4" opacity="0.6"/><path d="M1868.7 1916.4 C1863.1 1916.1 1859.9 1917.5 1850.1 1915.5 C1840.2 1913.6 1835.5 1908.6 1835.9 1909.9 C1836.3 1911.2 1846.8 1916.9 1851.5 1919.8" stroke="#8a4a14" stroke-width="1.6" opacity="0.6"/><path d="M1781.8 1917.9 C1781.7 1912.7 1781.5 1905.6 1781.5 1900.5 C1781.6 1895.4 1781.1 1903.4 1781.9 1900.9 C1782.8 1898.4 1783.6 1894.8 1784.3 1892.2" stroke="#d8892a" stroke-width="1.5" opacity="0.5"/><path d="M1796.7 1909.6 C1801.4 1914.8 1810.2 1918.6 1812.2 1926.9 C1814.2 1935.1 1807 1932.5 1803.2 1937.1 C1799.4 1941.7 1800.6 1940.7 1799.5 1942.2" stroke="#6a3a5a" stroke-width="1.1" opacity="0.6"/><path d="M1794 1959.1 C1788.4 1956.2 1783.4 1947.5 1775.2 1949.6 C1767 1951.8 1773.7 1958.1 1766.7 1966.2 C1759.7 1974.3 1756.4 1973.4 1752 1976.5" stroke="#b8681a" stroke-width="1.7" opacity="0.7"/><path d="M1744.8 1860 C1750 1857.1 1760.3 1851.4 1762.1 1850.2 C1763.9 1848.9 1751 1852.4 1750.8 1855.9 C1750.6 1859.3 1758.2 1860 1761.4 1861.7" stroke="#b8681a" stroke-width="1.2" opacity="0.8"/><path d="M1808.1 1929.1 C1812.3 1924.5 1812.1 1920.8 1821.9 1913.7 C1831.7 1906.6 1834.3 1906.1 1840.7 1905.5 C1847.2 1905 1842.6 1910 1843.4 1912" stroke="#a85a18" stroke-width="0.8" opacity="0.7"/><path d="M1826.8 1972.8 C1821.1 1976 1817.4 1983.8 1807.9 1983.5 C1798.4 1983.2 1804.6 1977.4 1795.1 1971.7 C1785.7 1966.1 1782.1 1966.8 1776.5 1964.7" stroke="#8a4a14" stroke-width="1.5" opacity="0.7"/><path d="M1850.5 1825.9 C1846.4 1828.9 1846.4 1838.4 1837 1836.1 C1827.5 1833.8 1828.4 1818.3 1819 1818.2 C1809.5 1818.1 1809.5 1830.5 1805.4 1835.8" stroke="#b8681a" stroke-width="1.4" opacity="0.5"/><path d="M1854.8 1875.9 C1854.7 1880.1 1851 1887 1854.5 1889.8 C1858 1892.7 1861.7 1886.9 1866.4 1885.5 C1871.2 1884.2 1869.3 1885.4 1870.5 1885.3" stroke="#8a4a14" stroke-width="1.1" opacity="0.7"/><path d="M1835.7 1843.5 C1830.2 1839.3 1826.2 1836.9 1817.3 1829.6 C1808.3 1822.3 1808.5 1825.9 1806 1819.1 C1803.5 1812.3 1808.1 1810.5 1809 1806.9" stroke="#e09a3a" stroke-width="1.4" opacity="0.5"/><path d="M1785 1905.5 C1781.7 1911.5 1781.1 1919 1774 1925.4 C1766.9 1931.7 1770.9 1930.9 1761.4 1926.8 C1751.8 1922.6 1748 1916.1 1742.2 1911.5" stroke="#8a4a14" stroke-width="1.6" opacity="0.7"/><path d="M1841.9 1889.1 C1836.4 1886.8 1826.4 1885 1823.6 1881.3 C1820.7 1877.7 1834 1879.8 1832.3 1877.1 C1830.6 1874.3 1822.2 1873.6 1817.9 1872.1" stroke="#6a3a5a" stroke-width="1.1" opacity="0.4"/><path d="M1781.4 1865.7 C1784.4 1870.7 1785.7 1881 1791.2 1882.6 C1796.7 1884.2 1799.3 1873.3 1799.8 1871 C1800.4 1868.7 1795.1 1873.8 1793 1874.9" stroke="#b8681a" stroke-width="1.7" opacity="0.6"/><path d="M1847.9 1899.2 C1844 1900.6 1837.7 1901.2 1835.1 1903.8 C1832.5 1906.4 1835.2 1912.3 1839.1 1907.8 C1843 1903.2 1845.4 1894.4 1848.1 1888.7" stroke="#6a3a5a" stroke-width="1" opacity="0.6"/><path d="M1786.2 1898.7 C1787.5 1895.5 1786.3 1890.8 1790.4 1888.1 C1794.6 1885.4 1798.7 1886.5 1800 1889.7 C1801.4 1893 1796.4 1896.2 1794.9 1898.9" stroke="#a85a18" stroke-width="1.6" opacity="0.6"/><path d="M1764.9 1892.9 C1766.1 1898.5 1773.2 1910.1 1768.8 1911.5 C1764.3 1912.9 1754.8 1897.5 1750.1 1897.6 C1745.3 1897.6 1752 1907.5 1752.9 1911.7" stroke="#6a3a5a" stroke-width="1.2" opacity="0.4"/><path d="M1840 1867.9 C1845.8 1863.7 1851.1 1856.8 1859.5 1853.7 C1867.9 1850.6 1870.8 1852.6 1867.9 1857.6 C1865.1 1862.6 1855.4 1866.5 1850 1870.4" stroke="#b8681a" stroke-width="1.5" opacity="0.4"/><path d="M1803.6 1895.2 C1799.7 1896.7 1797 1894.1 1790.6 1900.2 C1784.3 1906.3 1787.5 1909.2 1782.4 1915.5 C1777.4 1921.8 1776.3 1919.5 1773.7 1921.2" stroke="#8a4a14" stroke-width="1.3" opacity="0.7"/><path d="M1808.9 1913.4 C1813.9 1907.9 1822.4 1899.4 1825.6 1895.2 C1828.8 1890.9 1816.3 1899.7 1819.5 1899.3 C1822.7 1898.9 1831.2 1895.4 1836.2 1893.7" stroke="#d8892a" stroke-width="1.2" opacity="0.4"/><path d="M1714.8 1949.8 C1712.2 1954 1703.2 1955.7 1706.1 1963.7 C1709 1971.6 1722.4 1967.6 1724.3 1976.4 C1726.2 1985.2 1716 1988.1 1712.4 1993.1" stroke="#b8681a" stroke-width="1.8" opacity="0.4"/><path d="M1825 1908.7 C1825.2 1907.7 1830.4 1904.8 1825.7 1905.6 C1821.1 1906.4 1812.3 1908 1809.4 1911.2 C1806.6 1914.5 1814.1 1914.9 1816.2 1916.5" stroke="#e09a3a" stroke-width="1.5" opacity="0.4"/><path d="M1808.8 1913.3 C1814.3 1918 1816.2 1924.1 1827.3 1929 C1838.5 1933.9 1840.2 1927.5 1845.9 1929.6 C1851.7 1931.8 1846.3 1934.3 1846.5 1936.2" stroke="#d8892a" stroke-width="1.3" opacity="0.4"/><path d="M1791.4 1902.6 C1796.9 1898.4 1801 1892.4 1809.6 1888.8 C1818.3 1885.3 1818 1892.5 1820.4 1890.6 C1822.7 1888.8 1818.3 1885.2 1817.4 1882.8" stroke="#8a4a14" stroke-width="1.8" opacity="0.4"/><path d="M1766.3 1942.8 C1772.1 1942.2 1774.1 1935.5 1785.7 1940.9 C1797.3 1946.3 1798.2 1960.5 1804.9 1960.8 C1811.6 1961.1 1807.2 1947.5 1808.1 1941.8" stroke="#e09a3a" stroke-width="1.3" opacity="0.4"/><path d="M1861.8 1889.8 C1864.5 1895.3 1868.7 1904.6 1870.8 1908 C1873 1911.5 1871.8 1905.6 1868.9 1901.3 C1866 1897.1 1863.4 1896.2 1861.1 1894" stroke="#8a4a14" stroke-width="1.6" opacity="0.7"/><path d="M1735.5 1895.2 C1732.7 1899.6 1733.1 1910.2 1726.3 1909.7 C1719.5 1909.2 1720.1 1893.6 1712.9 1893.6 C1705.7 1893.5 1705.4 1904.7 1702.2 1909.4" stroke="#a85a18" stroke-width="1.6" opacity="0.4"/><path d="M1877.9 1964.3 C1872.3 1958.4 1860.4 1956.4 1859.2 1944.5 C1858 1932.6 1867.6 1929.9 1873.9 1924.7 C1880.2 1919.4 1878.3 1926.2 1880.1 1926.9" stroke="#d8892a" stroke-width="1.7" opacity="0.5"/><path d="M1772.1 1877.6 C1773.7 1882.9 1776.6 1890 1777.4 1895.5 C1778.2 1901 1777.4 1901.2 1774.7 1895.8 C1772 1890.4 1770.3 1883 1768.4 1877.6" stroke="#d8892a" stroke-width="0.8" opacity="0.4"/><path d="M1839.3 1906.1 C1842.1 1906.8 1840.2 1909.6 1848.8 1908.4 C1857.3 1907.2 1863.9 1901.8 1867.8 1902.1 C1871.7 1902.4 1863.5 1907.2 1861.7 1909.4" stroke="#b8681a" stroke-width="1.1" opacity="0.4"/><path d="M1780.4 1922.8 C1778.6 1923.7 1775.6 1929.8 1774.5 1925.8 C1773.4 1921.8 1780.1 1915 1776.6 1909.4 C1773.1 1903.9 1767 1908 1762.9 1907.4" stroke="#e09a3a" stroke-width="0.9" opacity="0.4"/><path d="M1793.1 1920.3 C1792.6 1923.2 1788.8 1922.4 1791.3 1929.8 C1793.9 1937.3 1800.8 1938.5 1801.7 1945.1 C1802.6 1951.8 1796.6 1949.9 1794.4 1951.9" stroke="#6a3a5a" stroke-width="1.7" opacity="0.7"/><path d="M1806 1875.4 C1804.5 1875.6 1807.6 1875.9 1801 1875.8 C1794.4 1875.8 1783.3 1877.1 1784.1 1875.3 C1784.8 1873.6 1797.7 1871.6 1803.5 1870" stroke="#d8892a" stroke-width="1.3" opacity="0.6"/><path d="M1821.2 1894.9 C1819.2 1889.3 1812 1880.3 1814.6 1876.3 C1817.1 1872.3 1823.1 1883.1 1829.7 1881.5 C1836.3 1879.9 1834.5 1874.2 1836.6 1871" stroke="#d8892a" stroke-width="1.6" opacity="0.5"/><path d="M1704.1 1897.7 C1703.4 1898.1 1700.4 1898.7 1701.7 1899 C1703 1899.3 1701 1894.8 1708.3 1898.8 C1715.6 1902.8 1720.7 1908.3 1726 1912.4" stroke="#6a3a5a" stroke-width="1.5" opacity="0.6"/><path d="M1794.4 1880 C1790.1 1878.3 1787.2 1873.5 1780 1874.4 C1772.9 1875.3 1772.7 1878.5 1770.6 1883.1 C1768.6 1887.6 1772.4 1887.6 1773.2 1889.5" stroke="#6a3a5a" stroke-width="1.6" opacity="0.7"/><path d="M1887.1 1890.3 C1890 1888.5 1893.7 1883 1896.7 1884.2 C1899.7 1885.5 1893.5 1886.6 1897.1 1894.4 C1900.6 1902.3 1905.1 1905.6 1908.5 1910.4" stroke="#a85a18" stroke-width="1.6" opacity="0.5"/><path d="M1737.7 1870.2 C1742.3 1870.6 1744.3 1871.7 1753 1871.6 C1761.7 1871.6 1760.4 1869.6 1766.8 1870 C1773.2 1870.4 1772.1 1872 1774.3 1872.9" stroke="#d8892a" stroke-width="0.7" opacity="0.7"/><path d="M1797.9 1892.7 C1801.7 1896.7 1805.9 1904.8 1810.6 1906.2 C1815.3 1907.5 1818 1905.1 1813.6 1897.1 C1809.2 1889.2 1801.2 1884.9 1795.8 1879.7" stroke="#6a3a5a" stroke-width="0.8" opacity="0.7"/><path d="M1798.1 1955.3 C1798.5 1955.8 1803.1 1960.1 1799.5 1957 C1795.9 1953.9 1785.8 1948.4 1786 1944.9 C1786.2 1941.4 1795.9 1945.3 1800.2 1945.4" stroke="#d8892a" stroke-width="0.9" opacity="0.4"/><path d="M1761.2 1911.9 C1762.1 1912.8 1760.8 1909 1764.2 1915 C1767.6 1920.9 1771.9 1925 1772.5 1931.6 C1773 1938.2 1768 1935.4 1766 1937" stroke="#b8681a" stroke-width="1.4" opacity="0.5"/><path d="M1887.4 1942.6 C1892.2 1937.3 1895.3 1935.4 1903.5 1924.9 C1911.6 1914.4 1908.7 1918.2 1914.6 1907.6 C1920.5 1897.1 1920.6 1895 1923.1 1889.6" stroke="#a85a18" stroke-width="1.1" opacity="0.4"/><path d="M1833.5 1856.3 C1838 1860.4 1841.2 1862.1 1848.4 1870.1 C1855.5 1878.1 1852.2 1880 1857.4 1883.1 C1862.5 1886.1 1863.1 1881 1865.6 1880.2" stroke="#6a3a5a" stroke-width="1.7" opacity="0.4"/><path d="M1806.4 1921.4 C1805.8 1925.7 1804.8 1927.3 1804.6 1935.9 C1804.4 1944.6 1807 1945.1 1805.7 1950.2 C1804.4 1955.2 1801.9 1952 1800.3 1952.8" stroke="#d8892a" stroke-width="1.6" opacity="0.5"/><path d="M1771.7 1896.5 C1774 1894.5 1774.6 1888.4 1779.3 1889.8 C1784 1891.2 1782.5 1902.4 1787.4 1901.3 C1792.2 1900.1 1793.1 1890.6 1795.5 1886" stroke="#e09a3a" stroke-width="1.6" opacity="0.8"/><path d="M1863.1 1891.5 C1861.8 1892 1858.2 1891.3 1858.7 1893.2 C1859.2 1895.1 1866.7 1891.8 1864.7 1897.7 C1862.8 1903.7 1856 1908.5 1852.3 1913.1" stroke="#e09a3a" stroke-width="1.5" opacity="0.7"/><path d="M1845.5 1917.8 C1847.6 1919.6 1856.3 1924.8 1852.5 1923.7 C1848.6 1922.6 1842.3 1914 1832.7 1914.3 C1823.2 1914.6 1824.2 1921.6 1820.6 1924.7" stroke="#b8681a" stroke-width="1.6" opacity="0.6"/><path d="M1784.6 1998.4 C1778.7 1997.2 1769.6 1999.6 1764.9 1994.4 C1760.2 1989.1 1767.8 1980.3 1768.8 1980.9 C1769.9 1981.4 1768.6 1991.6 1768.5 1996.3" stroke="#8a4a14" stroke-width="1.7" opacity="0.7"/><path d="M1824.5 1868.1 C1821.4 1873.5 1821.3 1877.9 1814.3 1886 C1807.3 1894.2 1799.8 1896.3 1801 1895.3 C1802.2 1894.4 1813.1 1886.6 1818.3 1882.9" stroke="#e09a3a" stroke-width="1.2" opacity="0.6"/><path d="M1807.8 1920.4 C1806.2 1920.5 1800.2 1921.3 1802.4 1920.9 C1804.7 1920.5 1813.5 1914.5 1815.2 1918.9 C1817 1923.2 1810.4 1930.5 1808.4 1935.4" stroke="#a85a18" stroke-width="1.5" opacity="0.4"/><path d="M1769.5 1914.9 C1765.4 1917.4 1762.8 1921.5 1755.7 1923.3 C1748.6 1925.1 1743.2 1920.4 1745.9 1920.8 C1748.6 1921.2 1759 1923.5 1764.7 1924.6" stroke="#a85a18" stroke-width="1.2" opacity="0.8"/><path d="M1828.1 1927.2 C1828.6 1928.4 1828 1934.2 1829.9 1931.3 C1831.8 1928.4 1832.9 1925.6 1834.3 1917.6 C1835.8 1909.6 1834.6 1908.6 1834.7 1904.7" stroke="#6a3a5a" stroke-width="1.2" opacity="0.4"/><path d="M1800.5 1931.8 C1800.9 1928.1 1798.8 1923.6 1801.8 1919.4 C1804.8 1915.2 1809.1 1920.3 1810.4 1917.8 C1811.6 1915.3 1807.2 1913.1 1805.9 1911.1" stroke="#d8892a" stroke-width="1.5" opacity="0.4"/><path d="M1793.3 1903.1 C1798 1899.4 1800.4 1900.1 1808.9 1890.8 C1817.5 1881.5 1818.1 1880.7 1821.9 1872.1 C1825.7 1863.6 1821.7 1865.3 1821.6 1862.4" stroke="#b8681a" stroke-width="0.8" opacity="0.4"/><path d="M1790.6 1866.4 C1789.1 1864.6 1788.7 1861.3 1785.5 1860.4 C1782.4 1859.5 1783.2 1867 1780.2 1863.4 C1777.3 1859.9 1777.1 1853 1775.7 1848.6" stroke="#6a3a5a" stroke-width="1.1" opacity="0.5"/><path d="M1831.7 1972 C1837 1972.4 1845.8 1972.1 1849.5 1973.2 C1853.3 1974.3 1842.3 1978.8 1844.2 1975.8 C1846.2 1972.7 1852.5 1966.8 1856 1963" stroke="#8a4a14" stroke-width="1.4" opacity="0.6"/><path d="M1796.7 1901.8 C1798.8 1905.7 1807.1 1908.7 1803.6 1914.9 C1800.1 1921 1793.3 1917.1 1785.2 1922.2 C1777 1927.3 1779 1929 1776.4 1932" stroke="#b8681a" stroke-width="1.2" opacity="0.5"/><path d="M1837.4 1980 C1842.8 1975.3 1844.8 1963.4 1855.2 1964.4 C1865.5 1965.3 1863 1980.2 1872 1983.2 C1881 1986.1 1881.2 1976.8 1885.2 1974.1" stroke="#6a3a5a" stroke-width="1.7" opacity="0.7"/><path d="M1841.4 1863.8 C1838.5 1866.6 1832.1 1865.3 1831.8 1873.2 C1831.5 1881.2 1841.8 1890.9 1840.5 1890.3 C1839.1 1889.7 1831.2 1876.9 1827.3 1871.2" stroke="#8a4a14" stroke-width="1" opacity="0.5"/><path d="M1764.7 1955.8 C1760.9 1960.1 1754.9 1969 1751.8 1970.1 C1748.7 1971.2 1758.4 1962.8 1754.4 1959.6 C1750.4 1956.4 1743.2 1959.4 1738.5 1959.4" stroke="#e09a3a" stroke-width="1" opacity="0.8"/><path d="M1823.6 1935.3 C1827 1935.6 1832.1 1931.4 1834.8 1936.2 C1837.5 1941 1837.4 1942.7 1832.7 1951.4 C1828 1960.2 1823.3 1961.3 1819.3 1965.5" stroke="#e09a3a" stroke-width="0.9" opacity="0.7"/><path d="M1843.7 1859.9 C1838.6 1862.2 1830.5 1862.4 1826.5 1867.4 C1822.6 1872.4 1829 1877.5 1830.5 1876.6 C1832 1875.6 1831.2 1867.9 1831.4 1864.2" stroke="#a85a18" stroke-width="1.5" opacity="0.6"/><path d="M1802.6 1882.8 C1802.2 1883 1807 1880 1801.3 1883.7 C1795.7 1887.4 1789.5 1891.1 1783.8 1895.1 C1778.1 1899.1 1782.7 1896.4 1782.3 1897" stroke="#8a4a14" stroke-width="0.9" opacity="0.5"/><path d="M1790.8 1913.6 C1787.9 1918.4 1779.8 1927.4 1781.1 1929.6 C1782.4 1931.9 1791.9 1927.7 1795.1 1921.2 C1798.3 1914.7 1792.8 1911.9 1791.8 1908" stroke="#a85a18" stroke-width="1.1" opacity="0.7"/><path d="M1857.4 1858.3 C1860.3 1862.9 1867.3 1863.8 1867.3 1873.8 C1867.4 1883.7 1864.1 1890.9 1857.6 1891.5 C1851 1892 1849.2 1880.3 1845.6 1875.5" stroke="#6a3a5a" stroke-width="1.4" opacity="0.4"/><path d="M1797.6 1907.6 C1795.4 1905.5 1789.5 1907.1 1790.3 1900.7 C1791.1 1894.4 1796.1 1895.9 1800.3 1886.3 C1804.4 1876.8 1802.9 1874.1 1804 1868.8" stroke="#8a4a14" stroke-width="0.9" opacity="0.5"/><path d="M1772.5 1935.1 C1773.2 1935.8 1774.5 1937.4 1774.8 1937.4 C1775.1 1937.4 1772.6 1935.9 1773.5 1935 C1774.4 1934.1 1776.5 1934.6 1777.8 1934.4" stroke="#d8892a" stroke-width="1.5" opacity="0.5"/><path d="M1848.8 1849.2 C1852.8 1854.8 1858.6 1858.6 1862.2 1867.7 C1865.9 1876.8 1858.7 1872.1 1860.8 1879.6 C1862.9 1887.1 1866.7 1888.8 1869.2 1892.7" stroke="#d8892a" stroke-width="1.7" opacity="0.5"/><path d="M1839.8 1906.7 C1841.4 1902.2 1849.1 1900.4 1845.1 1891.8 C1841.1 1883.3 1831.4 1885.4 1826.3 1878.2 C1821.2 1871 1827.5 1870.9 1828 1867.8" stroke="#8a4a14" stroke-width="0.9" opacity="0.6"/><path d="M1851.9 1867.1 C1856.9 1871 1859.4 1881.7 1868.8 1880.1 C1878.1 1878.5 1878.7 1869.6 1883.1 1861.7 C1887.5 1853.8 1883.4 1856.1 1883.5 1853.7" stroke="#6a3a5a" stroke-width="0.8" opacity="0.5"/><path d="M1821 1850.6 C1822.3 1851 1821.8 1853.7 1825.3 1851.8 C1828.9 1850 1836.2 1841.4 1832.8 1844.4 C1829.4 1847.4 1819.7 1856.6 1814 1861.9" stroke="#e09a3a" stroke-width="1.8" opacity="0.4"/><path d="M1717.9 1868 C1714 1870.2 1710.6 1871.4 1704.8 1875.3 C1698.9 1879.2 1700.6 1883.5 1698.3 1881 C1696 1878.4 1697.4 1871.1 1697.1 1866.9" stroke="#b8681a" stroke-width="1.3" opacity="0.8"/><path d="M1716.5 1854.1 C1718.4 1848.8 1726.8 1835.8 1722.7 1836.4 C1718.6 1837 1706.9 1846.7 1702.9 1856.1 C1698.9 1865.5 1707.6 1864.2 1709.5 1867.7" stroke="#e09a3a" stroke-width="1.1" opacity="0.7"/><path d="M1792.3 1903.2 C1792.7 1908.4 1792.7 1911.8 1793.8 1920.4 C1795 1929 1800.6 1929.4 1796.1 1931.9 C1791.6 1934.3 1784 1929.5 1778.8 1928.5" stroke="#e09a3a" stroke-width="1.2" opacity="0.7"/><path d="M1795.8 1875.7 C1790.3 1872.3 1781.1 1871.7 1777.5 1864.2 C1774 1856.8 1781.1 1848.9 1783.9 1850.9 C1786.8 1852.9 1786.1 1864.8 1787.1 1870.7" stroke="#e09a3a" stroke-width="1.1" opacity="0.7"/><path d="M1782.7 2005.9 C1779.3 2004.9 1776.3 1999.1 1771.3 2002.7 C1766.4 2006.2 1764.9 2016.1 1766.1 2017.8 C1767.3 2019.4 1772.6 2011.1 1775.4 2008.3" stroke="#d8892a" stroke-width="1.3" opacity="0.6"/><path d="M1859.8 1966.3 C1861.8 1968.8 1862.5 1969.5 1866.7 1974.8 C1870.8 1980 1868.8 1976.4 1873.6 1983.7 C1878.4 1991 1880 1994.5 1882.8 1999.2" stroke="#6a3a5a" stroke-width="1.3" opacity="0.5"/><path d="M1803 1963.6 C1798.9 1967.2 1797.6 1974.7 1789.5 1975.4 C1781.5 1976.1 1777.1 1971.7 1776.2 1966.1 C1775.3 1960.5 1783.3 1959.5 1786.4 1956.6" stroke="#8a4a14" stroke-width="0.8" opacity="0.7"/><path d="M1776.4 1829.2 C1781.1 1833.5 1788.4 1833.4 1792.3 1843.6 C1796.1 1853.7 1785.9 1856.9 1789.2 1863 C1792.6 1869 1799.2 1863.5 1803.5 1863.8" stroke="#6a3a5a" stroke-width="1.8" opacity="0.4"/><path d="M1761.5 1937.8 C1764.5 1938 1766.1 1940.9 1771.5 1938.3 C1777 1935.8 1774.2 1926.3 1779.6 1929.3 C1785 1932.4 1786.5 1942.8 1789.5 1948.5" stroke="#8a4a14" stroke-width="0.9" opacity="0.6"/><path d="M1793.6 1888.9 C1793.5 1888.1 1787.5 1887.1 1793.1 1886.2 C1798.8 1885.3 1802.9 1889.2 1812.4 1885.9 C1821.9 1882.6 1821.1 1878.5 1824.8 1875.3" stroke="#6a3a5a" stroke-width="0.7" opacity="0.4"/><path d="M1760.6 1868.4 C1761 1869.9 1763.2 1869.9 1761.7 1873.3 C1760.2 1876.7 1758.7 1876.8 1755.6 1879.8 C1752.6 1882.7 1752.7 1882.1 1751.5 1883.2" stroke="#a85a18" stroke-width="1.4" opacity="0.5"/><path d="M1804.2 1895.2 C1809.8 1891.5 1821 1881.4 1823.1 1882.7 C1825.1 1884.1 1819.2 1891.1 1811 1899.8 C1802.8 1908.4 1800.2 1908.1 1795.6 1911.6" stroke="#8a4a14" stroke-width="0.8" opacity="0.7"/><path d="M1849.5 1827.5 C1852.6 1824 1854.1 1818.4 1859.8 1815.8 C1865.5 1813.2 1868.6 1814.4 1868.5 1818.8 C1868.4 1823.2 1862.1 1827 1859.4 1830.5" stroke="#8a4a14" stroke-width="1.1" opacity="0.4"/><path d="M1815.4 1885.2 C1814.5 1890.8 1815.7 1893.8 1812.4 1903.8 C1809.2 1913.8 1811.6 1918.9 1804.5 1918.5 C1797.5 1918 1793.6 1907.1 1788.9 1902.3" stroke="#6a3a5a" stroke-width="1.1" opacity="0.7"/><path d="M1806.7 1937.7 C1801.5 1934.8 1791.6 1929.2 1789.3 1928 C1787.1 1926.7 1795 1927.1 1799.2 1933.6 C1803.4 1940 1802 1944.7 1803.2 1949.5" stroke="#b8681a" stroke-width="1.6" opacity="0.6"/><path d="M1746.7 1922.4 C1749.8 1925.1 1755.2 1922.9 1757 1931.3 C1758.8 1939.7 1756.5 1942.5 1752.7 1950.5 C1748.9 1958.5 1746.8 1955.7 1744.3 1957.9" stroke="#6a3a5a" stroke-width="1.1" opacity="0.5"/><path d="M1788.2 1826.2 C1789.7 1829.7 1789.8 1831.1 1793.4 1837.9 C1797 1844.8 1802.5 1841.7 1800 1849 C1797.5 1856.3 1789.6 1858.3 1785.1 1862.2" stroke="#e09a3a" stroke-width="1.1" opacity="0.7"/><path d="M1763 1881.7 C1760.5 1881.4 1752.8 1877.5 1754.6 1880.9 C1756.4 1884.3 1766.1 1893.7 1769.1 1893 C1772.1 1892.4 1765.9 1883 1764.5 1878.7" stroke="#d8892a" stroke-width="1.6" opacity="0.5"/><path d="M1794.5 1921.4 C1795.8 1924.3 1801.2 1924.3 1798.7 1931 C1796.3 1937.8 1795.9 1944.6 1786.2 1943.9 C1776.6 1943.1 1772.5 1933.1 1766.7 1928.6" stroke="#b8681a" stroke-width="1.7" opacity="0.5"/><path d="M1789 1897 C1793.2 1896.2 1796.6 1899.6 1803.1 1894.4 C1809.7 1889.1 1806.5 1888.1 1810.7 1879.6 C1815 1871 1815.3 1869.9 1817.3 1865.8" stroke="#a85a18" stroke-width="1.3" opacity="0.6"/><path d="M1742.3 1885.9 C1747.9 1882.5 1759.3 1872 1761.1 1874.7 C1762.8 1877.3 1749.8 1887 1748.2 1894.6 C1746.6 1902.2 1753.5 1898.3 1755.7 1899.9" stroke="#6a3a5a" stroke-width="1.3" opacity="0.7"/><path d="M1819.6 1899.2 C1822.6 1904.7 1825.8 1916.8 1829.6 1917.7 C1833.4 1918.7 1828 1902.5 1832.2 1902.3 C1836.4 1902 1840.1 1912.6 1843.5 1917" stroke="#8a4a14" stroke-width="1" opacity="0.6"/><path d="M1728.6 1872.6 C1724.5 1871.7 1716 1868.6 1715 1869.7 C1714 1870.8 1722.5 1872.6 1725.2 1876.3 C1728 1879.9 1724.5 1880.2 1724.2 1881.9" stroke="#6a3a5a" stroke-width="1.7" opacity="0.6"/><path d="M1806.3 1915.7 C1808.3 1917.8 1811.6 1918.4 1813 1922.9 C1814.3 1927.4 1814.8 1929.7 1810.8 1930.8 C1806.7 1931.9 1802.9 1927.8 1799.5 1926.5" stroke="#6a3a5a" stroke-width="1.5" opacity="0.5"/><path d="M1832.4 1842.1 C1827.1 1841.4 1818.3 1846.4 1814.7 1839.6 C1811 1832.9 1815.1 1822.5 1820.2 1819.8 C1825.4 1817 1828.4 1827.3 1832 1830.6" stroke="#6a3a5a" stroke-width="1.7" opacity="0.6"/><path d="M1708.4 1950.7 C1711.2 1955.4 1711.2 1956 1717.7 1966.6 C1724.3 1977.1 1724.2 1976.7 1730.1 1985.9 C1736.1 1995.1 1735.3 1993.8 1737.5 1997.1" stroke="#e09a3a" stroke-width="1.3" opacity="0.5"/><path d="M1775.7 1986.1 C1776.8 1987.5 1778.3 1986.2 1779.6 1990.7 C1780.9 1995.3 1778.3 1995.1 1780 2001.3 C1781.6 2007.4 1783.5 2008.2 1785 2011.2" stroke="#6a3a5a" stroke-width="1.6" opacity="0.7"/><path d="M1832 1934.5 C1830.2 1940.1 1825.6 1949.2 1826 1953.2 C1826.5 1957.2 1831.1 1944.8 1833.5 1947.9 C1835.9 1951 1833.9 1958.9 1834 1963.6" stroke="#e09a3a" stroke-width="1.6" opacity="0.7"/><path d="M1722.6 1896.3 C1727.1 1899.4 1731.7 1898.4 1737.6 1906.6 C1743.5 1914.8 1742.3 1920.8 1742.2 1923.5 C1742.2 1926.2 1738.9 1918 1737.4 1915.6" stroke="#d8892a" stroke-width="1.8" opacity="0.7"/><path d="M1831.6 1869.4 C1827.2 1873.3 1826.1 1876 1816.9 1882.5 C1807.6 1888.9 1808 1884.7 1800.6 1891 C1793.3 1897.2 1794.8 1899.6 1792.3 1903.3" stroke="#a85a18" stroke-width="0.8" opacity="0.5"/><path d="M1753 1900.8 C1758.3 1900.1 1769 1896.7 1770.7 1898.6 C1772.4 1900.4 1758.5 1907.7 1758.7 1907.1 C1758.9 1906.5 1767.7 1899.8 1771.5 1896.6" stroke="#e09a3a" stroke-width="1.8" opacity="0.4"/><path d="M1711 1896.6 C1708.7 1894.1 1709 1896.1 1703.2 1888.3 C1697.4 1880.4 1694.2 1875.1 1691.7 1870.5 C1689.2 1865.9 1694 1872.2 1695 1872.9" stroke="#d8892a" stroke-width="1.3" opacity="0.4"/><path d="M1799.8 1908.8 C1797.6 1909.7 1800.3 1914.7 1792.6 1911.7 C1784.9 1908.7 1778.4 1907.1 1774.1 1898.8 C1769.7 1890.4 1776.9 1888.4 1778.1 1883.9" stroke="#d8892a" stroke-width="1.1" opacity="0.7"/><path d="M1842.8 1894.6 C1842.2 1897 1841.6 1901.8 1841 1902.6 C1840.4 1903.4 1846.6 1895.1 1840.9 1897.3 C1835.1 1899.5 1827.5 1906.2 1821.7 1910.1" stroke="#e09a3a" stroke-width="0.9" opacity="0.7"/><path d="M1850.5 1936.7 C1854.3 1931 1864.4 1919.6 1863.2 1917.7 C1862 1915.7 1848.8 1930.6 1846.5 1930.1 C1844.1 1929.6 1852.7 1920.3 1855.4 1916.1" stroke="#6a3a5a" stroke-width="1" opacity="0.5"/><path d="M1833.1 1989.6 C1834.2 1993 1835.8 1998.3 1836.8 2000.9 C1837.8 2003.4 1831.2 1993.8 1836.4 1998.2 C1841.6 2002.6 1848.8 2010.4 1854.1 2015.6" stroke="#a85a18" stroke-width="1.4" opacity="0.6"/><path d="M1810.6 1887.2 C1815.9 1881.8 1827.5 1870.9 1828.3 1869.4 C1829.1 1867.9 1813.8 1874.1 1813.3 1882.3 C1812.8 1890.6 1822.6 1892.6 1826.6 1897" stroke="#b8681a" stroke-width="1.3" opacity="0.5"/><path d="M1806.5 1892.4 C1802.9 1893.3 1798.2 1891.5 1794.3 1895.5 C1790.3 1899.5 1799.5 1897.6 1793.4 1905.9 C1787.4 1914.2 1779.9 1918 1774 1923.2" stroke="#8a4a14" stroke-width="1.2" opacity="0.6"/><path d="M1729.5 1937.6 C1724.2 1935.1 1714 1936.2 1711.7 1929.2 C1709.5 1922.2 1717.2 1920.3 1722 1914.3 C1726.9 1908.4 1726.1 1910.9 1727.9 1909.4" stroke="#b8681a" stroke-width="1.3" opacity="0.7"/><path d="M1752.2 1918.9 C1751.4 1915.8 1753 1913.3 1749.5 1908.6 C1746 1903.9 1748.4 1905.3 1740.5 1903.3 C1732.6 1901.3 1728.3 1902.3 1723.1 1901.8" stroke="#e09a3a" stroke-width="1.7" opacity="0.4"/><path d="M1738.8 1973.6 C1744.2 1971.4 1755.4 1964.4 1757 1966.2 C1758.6 1968.1 1750.4 1973.9 1744.1 1979.8 C1737.8 1985.8 1738.4 1984.2 1735.9 1986.1" stroke="#8a4a14" stroke-width="1" opacity="0.5"/><path d="M1788.2 1904.4 C1788.3 1905.4 1789.2 1903.7 1788.5 1907.5 C1787.7 1911.3 1784.6 1913.3 1785.8 1917.1 C1787 1921 1790.4 1919.4 1792.4 1920.4" stroke="#a85a18" stroke-width="0.9" opacity="0.4"/><path d="M1792.3 1925.1 C1797 1929.3 1798.6 1936.2 1808.2 1939.2 C1817.7 1942.1 1815 1930.9 1824 1934.8 C1832.9 1938.7 1833.8 1947 1838 1952.2" stroke="#b8681a" stroke-width="1.5" opacity="0.4"/><path d="M1783.8 1930.8 C1784.1 1931.6 1779.6 1935.4 1785 1933.3 C1790.3 1931.2 1790.9 1930.8 1801.7 1923.7 C1812.4 1916.7 1815 1914 1820.7 1909.8" stroke="#a85a18" stroke-width="1" opacity="0.6"/><path d="M1792.3 1904.7 C1793.2 1906.6 1797.4 1914.1 1795.4 1911.1 C1793.5 1908.2 1787.4 1902.6 1785.8 1894.9 C1784.2 1887.1 1788.8 1888.1 1790 1885.3" stroke="#d8892a" stroke-width="0.9" opacity="0.8"/><path d="M1747.2 1966.1 C1747 1967.1 1747.6 1969.7 1746.5 1969.5 C1745.4 1969.3 1749.8 1967.6 1743.3 1965.5 C1736.8 1963.4 1730.3 1963.4 1724.8 1962.5" stroke="#6a3a5a" stroke-width="1.3" opacity="0.5"/><path d="M1848.8 1898.3 C1844.6 1898 1841.9 1893.5 1834.9 1897.4 C1827.9 1901.3 1824.9 1912.2 1825.5 1911.2 C1826 1910.3 1833.3 1899.4 1836.6 1894.3" stroke="#d8892a" stroke-width="1.5" opacity="0.4"/><path d="M1783.2 1830.3 C1780.9 1830.6 1780 1835.2 1775.6 1831.5 C1771.2 1827.7 1772.3 1816.7 1768.5 1817.8 C1764.8 1818.8 1764.8 1829.9 1763.2 1835.1" stroke="#b8681a" stroke-width="1.2" opacity="0.4"/><path d="M1803.2 1939.7 C1799.1 1945 1789.8 1947.7 1789.7 1957.2 C1789.6 1966.6 1793.1 1964.2 1802.7 1971.3 C1812.4 1978.4 1816.1 1978 1821.9 1980.8" stroke="#e09a3a" stroke-width="1.7" opacity="0.6"/><path d="M1794.2 1906.7 C1789 1910.3 1783.7 1909.2 1776.9 1918.6 C1770.1 1927.9 1767.8 1931.6 1771.6 1937.9 C1775.3 1944.2 1784.1 1939.1 1789.4 1939.6" stroke="#e09a3a" stroke-width="1.7" opacity="0.4"/><path d="M1796.5 1994.6 C1794.4 1996 1791.6 1992.8 1789.6 1999.5 C1787.6 2006.1 1789.1 2008.6 1789.8 2016.7 C1790.5 2024.8 1791.3 2023.6 1792 2026.6" stroke="#b8681a" stroke-width="1.5" opacity="0.4"/><path d="M1715.4 1852.8 C1714.3 1858.7 1715.8 1868.5 1711.7 1872.7 C1707.6 1877 1709 1872.8 1701.7 1867 C1694.4 1861.1 1691.7 1857.3 1687.4 1853.1" stroke="#6a3a5a" stroke-width="0.8" opacity="0.4"/><path d="M1823.4 1836.7 C1824.7 1830.9 1823.2 1819.1 1827.7 1817.3 C1832.2 1815.5 1837.9 1830.6 1838.4 1830.7 C1838.8 1830.9 1831.9 1821.6 1829.1 1817.7" stroke="#a85a18" stroke-width="1" opacity="0.4"/><path d="M1798.7 1901 C1801.6 1895.6 1801.2 1888.8 1808.4 1883.1 C1815.7 1877.4 1820.5 1885.8 1822.9 1882 C1825.3 1878.2 1818.3 1874 1816.4 1870.5" stroke="#6a3a5a" stroke-width="1.2" opacity="0.6"/><path d="M1788.2 1924.2 C1785.9 1921.3 1779.9 1913.5 1780.5 1914.5 C1781.1 1915.4 1784 1926 1790.2 1927.4 C1796.4 1928.8 1797.9 1921.7 1801.2 1919.2" stroke="#8a4a14" stroke-width="0.8" opacity="0.6"/><path d="M1785.4 1928.8 C1789.3 1931.9 1800.3 1939 1798.4 1939.2 C1796.5 1939.4 1779.2 1930.6 1778.9 1929.6 C1778.7 1928.6 1791.9 1934 1797.5 1935.9" stroke="#a85a18" stroke-width="1.1" opacity="0.5"/><path d="M1787 1922.3 C1791 1922.7 1797.7 1921.6 1800.3 1923.5 C1802.8 1925.4 1801.6 1929.6 1795.4 1928.7 C1789.1 1927.8 1784.2 1923 1779.4 1920.5" stroke="#8a4a14" stroke-width="1.2" opacity="0.8"/><path d="M1778.7 1853.1 C1783.5 1853.9 1784.2 1855.1 1794.7 1855.7 C1805.1 1856.4 1810.3 1851.9 1813.7 1855.3 C1817.1 1858.8 1808.2 1863.7 1805.9 1867.3" stroke="#6a3a5a" stroke-width="0.8" opacity="0.4"/><path d="M1778.6 1921.9 C1779.3 1924.8 1780.9 1925.8 1781.1 1931.3 C1781.3 1936.9 1782.1 1941.5 1779.1 1940.5 C1776.2 1939.6 1773.6 1931.8 1771.3 1928.1" stroke="#e09a3a" stroke-width="1.7" opacity="0.5"/><path d="M1784.9 1883.3 C1779.7 1878.1 1778.9 1873 1767.8 1865.9 C1756.7 1858.8 1753.2 1865.1 1747.9 1859.7 C1742.6 1854.2 1749.5 1851.3 1750.2 1847.7" stroke="#6a3a5a" stroke-width="1.6" opacity="0.7"/><path d="M1795.4 1886 C1798.1 1891.1 1796.4 1900.1 1804.5 1902.8 C1812.6 1905.5 1814.4 1901.2 1822.4 1895.1 C1830.4 1888.9 1828.5 1886.2 1831.2 1882.4" stroke="#b8681a" stroke-width="1.2" opacity="0.6"/><path d="M1804.2 1896.9 C1801.3 1902.5 1795.9 1905.1 1794.6 1915.5 C1793.3 1925.9 1801.5 1928.9 1799.8 1931.5 C1798.1 1934.2 1792.2 1926.5 1788.9 1924.4" stroke="#e09a3a" stroke-width="1" opacity="0.5"/><path d="M1735 1950.6 C1730.5 1950.7 1726.9 1950.1 1720.2 1951 C1713.5 1951.9 1717 1952.7 1712.6 1953.6 C1708.2 1954.4 1707.6 1953.7 1705.5 1953.7" stroke="#a85a18" stroke-width="1.4" opacity="0.4"/><path d="M1754.1 1909.5 C1754.1 1909.5 1759.1 1905.6 1754.2 1909.3 C1749.3 1913 1743.4 1921.7 1737.8 1921.8 C1732.2 1921.8 1736.1 1913.1 1735.4 1909.3" stroke="#e09a3a" stroke-width="1.5" opacity="0.7"/><path d="M1722.2 1880.5 C1724.6 1885.5 1722.2 1894.6 1730.3 1897.3 C1738.4 1899.9 1745.2 1897.2 1749.2 1889.3 C1753.1 1881.5 1745.2 1876.6 1743.4 1871.1" stroke="#d8892a" stroke-width="1.5" opacity="0.4"/><path d="M1786.2 1964.1 C1788.1 1969.6 1786.9 1980.7 1792.6 1982.3 C1798.4 1983.9 1800.9 1978.1 1805.3 1969.4 C1809.7 1960.8 1806.7 1958.3 1807.3 1953.5" stroke="#a85a18" stroke-width="1.4" opacity="0.6"/><path d="M1772.3 1853.1 C1771.1 1856 1775.2 1854.5 1768.3 1863 C1761.3 1871.6 1751.5 1873 1749.3 1881.5 C1747.1 1890 1757.4 1888.4 1760.9 1891.4" stroke="#b8681a" stroke-width="0.8" opacity="0.4"/><path d="M1771 1888.3 C1765.6 1890.4 1762.5 1891.4 1753 1895.2 C1743.6 1899 1743.7 1904.9 1739.5 1901.1 C1735.2 1897.3 1739.1 1888.1 1739 1882.6" stroke="#d8892a" stroke-width="1.5" opacity="0.4"/><path d="M1784.5 1853.9 C1787.2 1859.7 1796.3 1865.9 1793.4 1873.1 C1790.6 1880.2 1782.7 1871.3 1775.1 1877.8 C1767.5 1884.3 1770.2 1889.7 1768.1 1894.8" stroke="#8a4a14" stroke-width="0.8" opacity="0.4"/><path d="M1815.1 1865 C1815.5 1866.7 1817.4 1865.9 1816.4 1870.7 C1815.3 1875.6 1810.3 1883.8 1811.6 1881.1 C1812.8 1878.5 1817.9 1867.7 1820.5 1861.9" stroke="#a85a18" stroke-width="1.3" opacity="0.7"/><path d="M1796.5 1908.7 C1792.8 1904.3 1789.9 1895.6 1784.2 1894 C1778.4 1892.4 1784.1 1901.5 1777.3 1903.4 C1770.4 1905.3 1766.1 1901.3 1761.3 1900.4" stroke="#e09a3a" stroke-width="1" opacity="0.6"/><path d="M1812.5 1907.6 C1812 1912.3 1815.3 1914.6 1810.9 1923.4 C1806.5 1932.1 1798.8 1929.2 1797.8 1936.8 C1796.8 1944.3 1804.6 1945 1807.5 1948.6" stroke="#8a4a14" stroke-width="1" opacity="0.4"/><path d="M1816.3 1840.6 C1811.6 1842.2 1801.5 1846.2 1800.5 1845.9 C1799.4 1845.6 1814.1 1840 1812.9 1839.6 C1811.7 1839.3 1801.4 1843.2 1796.5 1844.8" stroke="#a85a18" stroke-width="1.1" opacity="0.7"/><path d="M1733.1 1901.9 C1735.6 1904.3 1744.5 1910.3 1741.3 1909.9 C1738.1 1909.6 1724.7 1904.8 1722.4 1900.8 C1720.1 1896.7 1730.3 1897.8 1733.6 1896.5" stroke="#b8681a" stroke-width="1.1" opacity="0.6"/><path d="M1785.8 1957.8 C1790.4 1958.6 1797.9 1957.3 1801.2 1960.4 C1804.5 1963.5 1792.4 1969.6 1796.7 1968.1 C1801 1966.6 1810 1959.2 1815.7 1955.4" stroke="#e09a3a" stroke-width="1" opacity="0.8"/><path d="M1782.1 1906.8 C1778.6 1901.1 1779.5 1890.9 1770.6 1887.9 C1761.6 1884.8 1763.1 1890.7 1752.2 1896.6 C1741.4 1902.5 1739.8 1904.3 1734.4 1907.5" stroke="#d8892a" stroke-width="1.2" opacity="0.5"/><path d="M1797.7 1967 C1801.1 1965.5 1806.2 1961.1 1809.1 1962 C1812.1 1962.9 1809.6 1964.3 1807.5 1969.9 C1805.4 1975.6 1803.8 1977.6 1802.1 1980.9" stroke="#b8681a" stroke-width="0.7" opacity="0.7"/><path d="M1746.9 1928.7 C1746.5 1933.6 1744 1940.8 1745.6 1945.1 C1747.3 1949.4 1752.1 1942.2 1752.5 1943 C1752.8 1943.9 1748.5 1946.4 1746.8 1947.9" stroke="#6a3a5a" stroke-width="1.6" opacity="0.8"/><path d="M1793.7 1914 C1797.1 1910.3 1806.9 1902.7 1804.9 1901.7 C1802.9 1900.7 1790.2 1905.9 1787.2 1910.6 C1784.3 1915.4 1792.7 1915.4 1795.1 1917.5" stroke="#b8681a" stroke-width="0.7" opacity="0.8"/><path d="M1749.4 1878.4 C1751.3 1883.5 1749.8 1890.1 1755.7 1895.5 C1761.6 1901 1769 1893.3 1769.2 1896.6 C1769.4 1899.8 1760.2 1903.4 1756.3 1906.3" stroke="#a85a18" stroke-width="1.6" opacity="0.4"/><path d="M1767.1 1966.2 C1770.6 1967.9 1775.2 1969.7 1778.7 1971.8 C1782.2 1973.9 1777.6 1976.3 1778.9 1973.3 C1780.3 1970.3 1781.8 1965.2 1783.1 1961.8" stroke="#8a4a14" stroke-width="0.7" opacity="0.7"/><path d="M1883.8 1954.9 C1881.1 1949.3 1880.2 1937 1874.7 1936.1 C1869.3 1935.2 1873.2 1943 1865.5 1952 C1857.9 1961 1854.1 1961.9 1849.2 1966.1" stroke="#a85a18" stroke-width="1.7" opacity="0.4"/><path d="M1851 1944.1 C1849.8 1940.8 1852.3 1932.5 1847 1933.1 C1841.7 1933.6 1833 1940.4 1833.3 1945.9 C1833.6 1951.3 1843.7 1949.6 1848.1 1951.2" stroke="#d8892a" stroke-width="1.6" opacity="0.4"/><path d="M1786.9 1835 C1784.1 1838.9 1785.7 1846.3 1777.7 1848.1 C1769.7 1849.8 1763.1 1839.4 1760.1 1840.9 C1757.1 1842.4 1765.4 1849.4 1767.7 1853.1" stroke="#e09a3a" stroke-width="1" opacity="0.4"/><path d="M1865.8 1900.3 C1860.1 1896.3 1855.5 1887.2 1846.9 1886.9 C1838.3 1886.5 1837.2 1894.9 1837.2 1899.2 C1837.1 1903.6 1843.9 1900.7 1846.8 1901.4" stroke="#8a4a14" stroke-width="0.9" opacity="0.5"/><path d="M1885.9 1923.8 C1881.6 1917.8 1870.3 1912.2 1871.5 1903.9 C1872.6 1895.6 1882.8 1900.1 1889.8 1896.2 C1896.8 1892.3 1893.2 1892.5 1894.7 1890.9" stroke="#8a4a14" stroke-width="1.1" opacity="0.5"/><path d="M1837.6 1859.6 C1833.3 1863.2 1821.7 1863.3 1823.4 1871.5 C1825 1879.7 1835 1886.6 1843.2 1886.9 C1851.4 1887.2 1848.5 1876.8 1850.7 1872.5" stroke="#8a4a14" stroke-width="1.1" opacity="0.6"/><path d="M1778.9 1858.9 C1773.8 1864.8 1770.8 1871.6 1761.9 1878.5 C1753 1885.4 1755 1886.2 1749.2 1881.9 C1743.3 1877.5 1744.3 1869.3 1742.3 1863.9" stroke="#d8892a" stroke-width="1" opacity="0.8"/><path d="M1809.5 1912.5 C1812.4 1915.3 1813.2 1913.2 1819.2 1921.8 C1825.3 1930.4 1820.6 1937.2 1829.7 1941.2 C1838.8 1945.2 1843.5 1937 1849.4 1935.1" stroke="#a85a18" stroke-width="1.7" opacity="0.8"/><path d="M1773.7 1911.1 C1775.3 1907.7 1772.3 1906.7 1779 1900 C1785.6 1893.3 1789.8 1890.7 1795.9 1888.8 C1801.9 1886.8 1798.2 1892 1799.2 1893.4" stroke="#b8681a" stroke-width="1.7" opacity="0.6"/><path d="M1803.5 1889.2 C1806.8 1893.6 1806.8 1895.4 1814.4 1903.9 C1822 1912.4 1828.2 1916.9 1828.9 1917.7 C1829.6 1918.4 1820.4 1909.7 1816.7 1906.3" stroke="#a85a18" stroke-width="1.5" opacity="0.4"/><path d="M1738.6 1948.3 C1735.1 1946 1730.2 1938.7 1726.9 1940.6 C1723.5 1942.6 1727.1 1946.3 1727.5 1954.7 C1727.9 1963.2 1728.1 1964.6 1728.3 1968.8" stroke="#6a3a5a" stroke-width="0.8" opacity="0.7"/><path d="M1758.7 1915.9 C1759.5 1914.1 1759.2 1909.2 1761.5 1909.8 C1763.7 1910.3 1769.2 1911.9 1766.1 1917.8 C1763 1923.7 1755.6 1926 1751.1 1929.5" stroke="#8a4a14" stroke-width="1.8" opacity="0.5"/><path d="M1790 1909.4 C1785.1 1903.8 1772.6 1895.9 1773.6 1890.8 C1774.6 1885.8 1781.5 1896.3 1793.3 1892.6 C1805 1888.8 1807 1882.6 1812.9 1878.3" stroke="#d8892a" stroke-width="1.7" opacity="0.6"/><path d="M1773.9 1896.8 C1779.3 1891.1 1786.5 1883.1 1791.9 1877.7 C1797.4 1872.3 1792 1873.3 1792.2 1878.8 C1792.3 1884.2 1792.4 1890.8 1792.5 1895.9" stroke="#e09a3a" stroke-width="0.7" opacity="0.8"/><path d="M1826.3 1981.9 C1830.8 1977.7 1833.5 1966.9 1841.5 1967.8 C1849.5 1968.8 1850.8 1982.9 1852.9 1985.2 C1855.1 1987.4 1850 1978.3 1848.7 1975.3" stroke="#8a4a14" stroke-width="0.8" opacity="0.6"/><path d="M1733.2 1942.8 C1734.2 1947.3 1735.9 1954.1 1736.6 1957.6 C1737.3 1961.1 1740.6 1952.5 1735.6 1954.5 C1730.6 1956.5 1724.6 1961.4 1719.8 1964.3" stroke="#8a4a14" stroke-width="1.7" opacity="0.6"/><path d="M1760.8 1992.9 C1755 1988.5 1742.1 1986.8 1741.5 1978.3 C1741 1969.8 1750.4 1971.5 1759 1964.5 C1767.5 1957.5 1766.7 1957.8 1770 1955" stroke="#a85a18" stroke-width="1.1" opacity="0.6"/><path d="M1797.9 1885.7 C1799.6 1883.8 1803.2 1886.4 1803.4 1879.3 C1803.6 1872.2 1797.3 1869.1 1798.6 1862 C1799.8 1854.9 1804.9 1857.5 1807.6 1855.5" stroke="#e09a3a" stroke-width="0.9" opacity="0.6"/><path d="M1754.2 1836.4 C1759.8 1842 1772.2 1853.4 1772.8 1855.1 C1773.4 1856.7 1763.5 1840 1756.3 1841.9 C1749.1 1843.8 1751 1855.5 1748.7 1861.4" stroke="#8a4a14" stroke-width="1" opacity="0.7"/><path d="M1800.7 1903.8 C1804 1908.2 1808.9 1917.4 1811.6 1918.6 C1814.2 1919.8 1813.1 1914.1 1809.5 1907.7 C1805.9 1901.3 1802.5 1900.4 1799.5 1897.3" stroke="#d8892a" stroke-width="1.5" opacity="0.5"/><path d="M1792.8 1826.3 C1789.9 1831 1784.8 1842.6 1783.3 1842.2 C1781.8 1841.7 1787.7 1831.9 1787.9 1824.7 C1788 1817.6 1785 1820.3 1783.8 1818.3" stroke="#d8892a" stroke-width="1" opacity="0.7"/><path d="M1827.5 1839.4 C1823 1842.2 1819.8 1844.4 1812.4 1848.6 C1805 1852.8 1803.9 1847.5 1802.8 1853.5 C1801.6 1859.5 1806.9 1864.1 1808.6 1868.6" stroke="#d8892a" stroke-width="0.8" opacity="0.7"/><path d="M1794.1 1939.5 C1792.3 1939.8 1785.9 1938.3 1788.3 1940.6 C1790.7 1942.9 1795.6 1948.4 1802.1 1947.1 C1808.6 1945.8 1807.5 1939.5 1809.9 1936.3" stroke="#a85a18" stroke-width="1.5" opacity="0.7"/><path d="M1859.2 1855.8 C1864.4 1855.3 1873.8 1853.9 1876.6 1854.1 C1879.4 1854.2 1869.9 1861.3 1868.6 1856.2 C1867.3 1851.2 1871.2 1843 1872.4 1837.3" stroke="#8a4a14" stroke-width="0.8" opacity="0.6"/><path d="M1799.6 1888 C1793.9 1893.6 1782.5 1898.5 1780.6 1906.6 C1778.7 1914.8 1786.6 1908.9 1793.4 1915.2 C1800.2 1921.4 1800.3 1923.8 1803.3 1927.5" stroke="#6a3a5a" stroke-width="1.7" opacity="0.6"/><path d="M1786 1903.9 C1787.9 1899.2 1791.6 1887.7 1792.3 1888.1 C1793.1 1888.5 1791.1 1896.6 1788.5 1905.3 C1786 1914.1 1785.2 1913.7 1783.8 1917.3" stroke="#b8681a" stroke-width="1" opacity="0.4"/><path d="M1777.5 1926.8 C1775.1 1927.1 1770.5 1932.2 1769.5 1927.8 C1768.5 1923.4 1775.6 1912.5 1774.2 1912.1 C1772.8 1911.7 1767.7 1922.2 1764.9 1926.5" stroke="#a85a18" stroke-width="1.5" opacity="0.6"/><path d="M1756.1 1943.1 C1757.6 1948.3 1762 1958.9 1761.1 1960.4 C1760.2 1961.8 1758.6 1954.6 1753.1 1947.9 C1747.7 1941.2 1745.9 1941 1742.8 1938" stroke="#e09a3a" stroke-width="0.9" opacity="0.4"/><path d="M1764 1948.7 C1763.6 1944.6 1761.8 1940.2 1762.5 1935.1 C1763.3 1930.1 1765 1931.1 1766.6 1932 C1768.1 1932.8 1767.4 1936.1 1767.7 1937.9" stroke="#b8681a" stroke-width="1.8" opacity="0.6"/><path d="M1819.4 1977.4 C1815.1 1976.5 1814.7 1978.9 1805.1 1974.6 C1795.4 1970.3 1795.2 1965.3 1787.3 1963 C1779.3 1960.8 1781.1 1966 1778.5 1967.2" stroke="#a85a18" stroke-width="0.8" opacity="0.8"/><path d="M1784.2 1934.2 C1778.5 1931.7 1777 1930.1 1765.4 1926.1 C1753.8 1922.1 1748.8 1922 1745.5 1920.8 C1742.1 1919.6 1751.5 1921.7 1754.2 1922.1" stroke="#d8892a" stroke-width="1.3" opacity="0.8"/><path d="M1847.5 1923.7 C1843.6 1927.1 1841.8 1929.2 1834.5 1935 C1827.2 1940.9 1829.3 1936.3 1823.1 1943.2 C1817 1950.2 1816.8 1953.7 1814 1958.2" stroke="#6a3a5a" stroke-width="1.2" opacity="0.6"/><path d="M1776.5 1929.3 C1771.5 1930.4 1763.9 1926.9 1759.6 1933 C1755.3 1939.2 1762.3 1938.8 1762.2 1949.7 C1762.2 1960.5 1760.3 1963.3 1759.5 1969.2" stroke="#b8681a" stroke-width="1" opacity="0.8"/><path d="M1788.8 1884.5 C1788.3 1884.4 1788.1 1890 1787.3 1884.1 C1786.4 1878.1 1782.3 1874.7 1785.9 1864.8 C1789.6 1854.8 1795.4 1855.1 1799.4 1850.9" stroke="#6a3a5a" stroke-width="1.1" opacity="0.7"/><path d="M1799.1 1899.1 C1793.7 1903.8 1786.2 1906.2 1781.2 1914.8 C1776.2 1923.4 1786.6 1923.5 1782.5 1927.7 C1778.4 1931.9 1772.1 1928.5 1767.6 1928.8" stroke="#e09a3a" stroke-width="0.9" opacity="0.4"/><path d="M1831 1951 C1836.2 1950.7 1847.6 1954.2 1848.4 1949.9 C1849.2 1945.7 1838.4 1938.4 1833.6 1936.9 C1828.8 1935.3 1832.8 1942.4 1832.4 1944.7" stroke="#b8681a" stroke-width="0.7" opacity="0.4"/><path d="M1762.5 1931.5 C1762.4 1932.8 1764.2 1937 1762.1 1935.8 C1760.1 1934.5 1760.2 1931.9 1755.7 1927.3 C1751.1 1922.8 1749.6 1922.5 1747.1 1920.5" stroke="#e09a3a" stroke-width="1.6" opacity="0.5"/><path d="M1761.1 1943 C1757.5 1948 1752.3 1951.5 1749 1959.7 C1745.6 1967.9 1745.4 1966.7 1750 1970.3 C1754.5 1973.9 1759.9 1971.4 1764.1 1971.8" stroke="#b8681a" stroke-width="1.2" opacity="0.5"/><path d="M1815.3 1888.5 C1817.3 1891.7 1815.9 1900.2 1821.9 1899.1 C1827.8 1898 1830 1892.5 1835.2 1884.7 C1840.5 1876.9 1838.2 1876.6 1839.5 1873.1" stroke="#b8681a" stroke-width="1" opacity="0.6"/><path d="M1801.7 1927.3 C1798.5 1923.3 1792.3 1912.3 1791 1914 C1789.8 1915.6 1793.2 1926 1797.5 1932.7 C1801.8 1939.4 1803 1935.2 1805.3 1936.3" stroke="#e09a3a" stroke-width="1.5" opacity="0.7"/><path d="M1878.3 1893.3 C1882.3 1898.1 1885.9 1907.2 1891.8 1909.5 C1897.7 1911.8 1898.6 1897.6 1898 1900.9 C1897.4 1904.2 1892.2 1914.6 1889.8 1920.4" stroke="#b8681a" stroke-width="1.3" opacity="0.5"/><path d="M1737.5 1878.9 C1738.2 1873.1 1745.1 1867.8 1739.9 1859.5 C1734.6 1851.1 1724.8 1856.3 1720.1 1851.1 C1715.3 1845.8 1722.9 1844.7 1724.1 1842" stroke="#a85a18" stroke-width="1" opacity="0.5"/><path d="M1792 1857.4 C1787.4 1856.3 1786.3 1859.1 1776.7 1853.7 C1767.1 1848.3 1759.9 1843.2 1760 1839.5 C1760.1 1835.8 1771.9 1840.8 1777 1841.4" stroke="#d8892a" stroke-width="1.1" opacity="0.7"/><path d="M1810 1919 C1812.7 1922.7 1818.8 1921.7 1818.9 1931.2 C1818.9 1940.7 1811.2 1942 1810.2 1950.7 C1809.3 1959.4 1814 1957.3 1815.7 1960.2" stroke="#b8681a" stroke-width="1.7" opacity="0.7"/><path d="M1817.7 1932.5 C1815.5 1926.7 1817.3 1918.2 1810.5 1913.4 C1803.8 1908.6 1800.3 1912.7 1795.2 1916.4 C1790.2 1920.2 1794.1 1923 1793.7 1925.9" stroke="#e09a3a" stroke-width="1.2" opacity="0.4"/><path d="M1848.3 1925.7 C1844.4 1924.6 1844.9 1922.8 1835.3 1922.1 C1825.7 1921.4 1824.9 1921.3 1816.2 1923.4 C1807.5 1925.6 1809.3 1927.5 1806.3 1929.3" stroke="#a85a18" stroke-width="1.7" opacity="0.8"/><path d="M1881.8 1889.3 C1886.5 1887.8 1892.9 1884 1897.7 1884.2 C1902.5 1884.3 1891.9 1891 1897.8 1889.8 C1903.7 1888.5 1911.5 1883 1917.4 1880" stroke="#e09a3a" stroke-width="1.5" opacity="0.6"/><path d="M1819.2 1906 C1816.1 1903.4 1814.3 1904 1809.1 1897.2 C1803.8 1890.5 1802.1 1889.1 1801.7 1883.5 C1801.4 1877.9 1806 1880.1 1807.8 1878.6" stroke="#b8681a" stroke-width="1.3" opacity="0.7"/><path d="M1837.2 1879 C1833.3 1883.1 1823 1891.4 1824.2 1892.6 C1825.5 1893.9 1840.5 1885.8 1841.4 1883.2 C1842.4 1880.6 1831.6 1883.7 1827.4 1884" stroke="#d8892a" stroke-width="1" opacity="0.8"/><path d="M1808.9 1853.5 C1804 1854.9 1795.2 1858.6 1792.5 1858.1 C1789.8 1857.6 1801.7 1858.1 1800.1 1851.8 C1798.4 1845.4 1790.9 1841.3 1786.9 1836.8" stroke="#a85a18" stroke-width="0.9" opacity="0.6"/><path d="M1812.6 1907.6 C1812.3 1901.8 1815.7 1890.4 1811.6 1888.3 C1807.5 1886.3 1797.6 1899.9 1799.1 1900.9 C1800.6 1901.8 1811.3 1894.3 1816.6 1891.5" stroke="#8a4a14" stroke-width="1.8" opacity="0.6"/><path d="M1793 1944.5 C1789 1945.3 1789.5 1941.1 1779.6 1947.3 C1769.6 1953.5 1769 1963 1759.8 1965 C1750.6 1967.1 1752.2 1957.5 1748.9 1954.3" stroke="#d8892a" stroke-width="1.7" opacity="0.7"/><path d="M1804.9 1932.5 C1802.6 1927.8 1798.7 1923.2 1797.2 1916.8 C1795.8 1910.3 1804.2 1909.8 1800.2 1911 C1796.1 1912.2 1788.7 1917.8 1783.8 1920.7" stroke="#8a4a14" stroke-width="1.3" opacity="0.4"/><path d="M1790.1 1842.5 C1794.2 1841.3 1800 1838.8 1803.6 1838.5 C1807.3 1838.2 1802.3 1845.4 1802.3 1841.4 C1802.3 1837.5 1803.2 1830.1 1803.6 1825.3" stroke="#e09a3a" stroke-width="0.7" opacity="0.5"/><path d="M1823.8 1905 C1829.5 1908.9 1833.6 1909.1 1842.8 1917.9 C1851.9 1926.8 1850.7 1925.3 1854.3 1934.6 C1857.9 1943.9 1854.6 1944.7 1854.8 1949.1" stroke="#e09a3a" stroke-width="1.6" opacity="0.8"/><path d="M1829 1900.1 C1823.5 1904.4 1816.4 1912.5 1810.6 1914.4 C1804.7 1916.3 1814.1 1911.1 1809.5 1906.5 C1804.9 1901.8 1799.6 1901.2 1795.3 1898.9" stroke="#a85a18" stroke-width="1.7" opacity="0.6"/><path d="M1777.1 1929.2 C1776.7 1927.1 1773.4 1927.2 1775.6 1922.1 C1777.9 1916.9 1776.7 1914.7 1784.5 1912 C1792.3 1909.3 1796.5 1912.8 1801.6 1913.1" stroke="#b8681a" stroke-width="1" opacity="0.4"/><path d="M1798.1 1908 C1798.5 1905.4 1797.4 1896.9 1799.5 1899.2 C1801.7 1901.6 1801.1 1910.4 1805.3 1915.9 C1809.4 1921.4 1811 1917.1 1813.4 1917.6" stroke="#a85a18" stroke-width="1.7" opacity="0.4"/><path d="M1772.5 1838.2 C1772.7 1841.6 1770.1 1842.7 1773.2 1849.6 C1776.3 1856.5 1774.8 1860.5 1782.8 1861.2 C1790.7 1861.9 1794.7 1854.7 1799.8 1852" stroke="#8a4a14" stroke-width="0.9" opacity="0.7"/><path d="M1758.1 1881.2 C1752.4 1876.1 1741.4 1870 1739.2 1864.3 C1736.9 1858.6 1750.3 1858.9 1750.6 1862.1 C1751 1865.3 1743.4 1871.1 1740.3 1875" stroke="#b8681a" stroke-width="0.9" opacity="0.4"/><path d="M1808.7 1997.3 C1804.3 1992.5 1803.3 1980.4 1794 1981.2 C1784.6 1982 1783.1 1993.1 1777.6 2000 C1772.1 2006.9 1776.2 2002.9 1775.5 2004.2" stroke="#b8681a" stroke-width="1.4" opacity="0.6"/><path d="M1801.4 1849.7 C1796 1851.5 1785.8 1852.6 1783.5 1855.9 C1781.2 1859.2 1790.1 1853.5 1793.8 1860.7 C1797.4 1867.9 1795.2 1874.1 1795.8 1879.9" stroke="#8a4a14" stroke-width="0.9" opacity="0.8"/><path d="M1825.3 1836.2 C1830.9 1839.3 1842.5 1838.2 1843.9 1846.7 C1845.2 1855.2 1835 1858.1 1829.9 1864.5 C1824.8 1870.9 1827.8 1867.1 1826.9 1868.2" stroke="#6a3a5a" stroke-width="1.6" opacity="0.8"/><path d="M1707.3 1892.2 C1713.1 1893.9 1717.4 1899.7 1726.4 1898 C1735.5 1896.3 1730 1892.4 1737.5 1886.6 C1744.9 1880.7 1747.1 1880.9 1751.2 1878.4" stroke="#e09a3a" stroke-width="1.7" opacity="0.4"/><path d="M1774.2 1958.9 C1768.4 1960.4 1759.3 1968.4 1755 1964.1 C1750.7 1959.7 1763 1950.1 1759.8 1944.4 C1756.6 1938.7 1749 1944.8 1744.3 1945" stroke="#8a4a14" stroke-width="1.2" opacity="0.4"/><path d="M1806.9 1917.5 C1803.4 1912 1795.9 1901.9 1795.1 1899.3 C1794.2 1896.7 1800.4 1910.9 1804.2 1908.8 C1807.9 1906.8 1806.6 1897.4 1807.7 1892.5" stroke="#a85a18" stroke-width="0.8" opacity="0.4"/><path d="M1761.7 1944.9 C1759.5 1950.3 1756.9 1952.4 1754.2 1963 C1751.4 1973.5 1748 1974.7 1752.5 1980.2 C1756.9 1985.7 1764.1 1981 1769 1981.3" stroke="#8a4a14" stroke-width="1.4" opacity="0.5"/><path d="M1757.6 1890.2 C1753.3 1885.9 1743 1880.1 1743.3 1875.8 C1743.6 1871.6 1751.8 1878.9 1758.5 1875.9 C1765.1 1873 1763.3 1869 1765.4 1866" stroke="#8a4a14" stroke-width="0.8" opacity="0.5"/><path d="M1783 1881.1 C1783.3 1876.5 1784.4 1873.4 1784.2 1865.9 C1783.9 1858.4 1780.4 1859.8 1782.3 1856.1 C1784.1 1852.3 1788 1854.1 1790.4 1853.3" stroke="#a85a18" stroke-width="0.9" opacity="0.6"/><path d="M1772 1986 C1775.7 1988.7 1782 1996.1 1784.2 1995.2 C1786.5 1994.3 1786.7 1990.6 1779.5 1982.9 C1772.2 1975.2 1765.9 1973.5 1760.1 1969.5" stroke="#d8892a" stroke-width="1.2" opacity="0.7"/><path d="M1878.3 1889.9 C1881 1884.5 1888.9 1878.2 1887.2 1872 C1885.5 1865.8 1882 1867.8 1872.7 1869.2 C1863.4 1870.5 1861.1 1874.4 1856.1 1876.6" stroke="#e09a3a" stroke-width="1.3" opacity="0.6"/><path d="M1810.2 1917.9 C1813.7 1919 1821.3 1920.4 1822 1921.5 C1822.6 1922.7 1811.3 1921.4 1812.3 1921.7 C1813.3 1922.1 1821.4 1922.4 1825.3 1922.7" stroke="#d8892a" stroke-width="0.8" opacity="0.8"/><path d="M1799.1 1901.4 C1796 1898.2 1789.2 1894.2 1788.7 1890.9 C1788.2 1887.6 1795.2 1895.2 1797.5 1890.4 C1799.8 1885.5 1796.8 1879.5 1796.5 1874.9" stroke="#b8681a" stroke-width="1.6" opacity="0.5"/><path d="M1775.1 1919.2 C1776.6 1920 1778.2 1924.7 1780 1921.9 C1781.8 1919 1775.6 1916.6 1781.1 1909.7 C1786.5 1902.9 1793.1 1902.2 1798.2 1899" stroke="#8a4a14" stroke-width="1.1" opacity="0.7"/><path d="M1783.5 1910.4 C1785.8 1913.2 1789.8 1921.2 1791.2 1919.6 C1792.6 1918 1784.1 1914.9 1788.2 1905 C1792.2 1895 1799.8 1891.9 1804.8 1886.3" stroke="#a85a18" stroke-width="0.9" opacity="0.5"/><path d="M1803 1915.3 C1807.7 1918.9 1816.2 1918.9 1818.6 1927.3 C1821.1 1935.7 1812.6 1937.1 1811.1 1943.3 C1809.6 1949.6 1812.8 1946.7 1813.5 1948.1" stroke="#e09a3a" stroke-width="1.7" opacity="0.4"/><path d="M1795.3 1905.6 C1792.7 1901.3 1785.3 1900.3 1786.8 1891.5 C1788.4 1882.7 1791.2 1886 1800.5 1876.2 C1809.8 1866.4 1812.7 1864 1817.9 1858.8" stroke="#b8681a" stroke-width="1.1" opacity="0.8"/><path d="M1765.8 1867.8 C1762.3 1872.1 1754.9 1881.7 1754.2 1882 C1753.6 1882.3 1763.9 1875.1 1763.7 1868.9 C1763.5 1862.6 1756.5 1863.5 1753.5 1861.1" stroke="#b8681a" stroke-width="1.6" opacity="0.6"/><path d="M1849.2 1983.7 C1845.9 1989.2 1840.9 1992 1838.3 2002 C1835.7 2012 1838.1 2010.1 1840.6 2017.1 C1843.1 2024.1 1844.8 2022.8 1846.6 2025.2" stroke="#6a3a5a" stroke-width="1.3" opacity="0.5"/><path d="M1798 1905.1 C1803.8 1902.9 1810.4 1905.9 1817.2 1897.8 C1824 1889.7 1825.2 1887.8 1820.6 1878 C1816 1868.3 1807.4 1869.2 1801.8 1865.4" stroke="#b8681a" stroke-width="0.8" opacity="0.5"/><path d="M1728.7 1944.8 C1726.8 1949.8 1728 1955.3 1722.4 1961.5 C1716.8 1967.8 1711.3 1961.6 1710 1965.6 C1708.7 1969.7 1715.6 1972.3 1718 1975.1" stroke="#b8681a" stroke-width="1.6" opacity="0.7"/><path d="M1873.7 1957.7 C1873.5 1953 1867.4 1943.1 1873.2 1942.2 C1879 1941.4 1883 1952.2 1893.1 1954.9 C1903.1 1957.6 1902.6 1952.3 1906.7 1951.1" stroke="#b8681a" stroke-width="0.8" opacity="0.7"/><path d="M1715.1 1925.4 C1717.1 1929.3 1718.6 1938.1 1721.8 1938.3 C1725 1938.5 1718.9 1933.4 1725.9 1926 C1732.8 1918.6 1739.2 1917.3 1744.9 1913.6" stroke="#e09a3a" stroke-width="1.2" opacity="0.8"/><path d="M1741.7 1919.1 C1745.9 1922.3 1748.1 1926.1 1755.7 1929.7 C1763.2 1933.3 1761.1 1931.4 1766.8 1931.1 C1772.4 1930.7 1772.2 1929.4 1774.5 1928.7" stroke="#d8892a" stroke-width="1" opacity="0.5"/><path d="M1806.7 1922.5 C1801.2 1921.3 1798.7 1920.2 1788.5 1918.6 C1778.4 1917 1782.9 1912.9 1772.7 1917.2 C1762.5 1921.5 1760.1 1928.3 1754.7 1933" stroke="#b8681a" stroke-width="0.9" opacity="0.6"/><path d="M1789.6 1904.3 C1794.9 1909.1 1797.5 1917.3 1807.3 1920.4 C1817.2 1923.6 1817.5 1912.9 1822.4 1914.7 C1827.3 1916.4 1823.3 1922.8 1823.7 1926.3" stroke="#6a3a5a" stroke-width="1.7" opacity="0.7"/><path d="M1799.8 1902 C1796 1904.1 1795.7 1904.2 1787.2 1908.9 C1778.7 1913.6 1778.7 1912.1 1771.4 1917.6 C1764.1 1923.2 1765.4 1924.5 1762.8 1927.4" stroke="#8a4a14" stroke-width="1.6" opacity="0.6"/><path d="M1859.1 1919.7 C1864.7 1921.2 1866.3 1923.2 1877.7 1924.5 C1889.1 1925.8 1886.5 1923.5 1897 1924.1 C1907.4 1924.6 1907.8 1925.7 1912.4 1926.4" stroke="#a85a18" stroke-width="1.2" opacity="0.5"/><path d="M1809.2 1920.5 C1810.3 1919.6 1814.9 1915.4 1812.9 1917.3 C1811 1919.3 1811.5 1925.5 1802.7 1927 C1794 1928.5 1789.4 1923.8 1783.7 1922.4" stroke="#b8681a" stroke-width="1.1" opacity="0.5"/><path d="M1706 1950 C1710.2 1957.5 1708.3 1963 1720 1975 C1731.7 1987 1724 1987 1745 1990 C1766 1993 1776.5 1986.5 1790 1985" stroke="#f0a030" stroke-width="11.0" opacity="0.55" filter="url(#b4)"/><path d="M1706 1950 C1710.2 1957.5 1708.3 1963 1720 1975 C1731.7 1987 1724 1987 1745 1990 C1766 1993 1776.5 1986.5 1790 1985" stroke="#f6b546" stroke-width="5.5" opacity="0.95"/><path d="M1860 1870 C1863.6 1880.5 1871.4 1884 1872 1905 C1872.6 1926 1873.1 1920.5 1862 1940 C1850.9 1959.5 1850.6 1956.5 1835 1970 C1819.4 1983.5 1817.5 1980.5 1810 1985" stroke="#f0a030" stroke-width="9.0" opacity="0.55" filter="url(#b4)"/><path d="M1860 1870 C1863.6 1880.5 1871.4 1884 1872 1905 C1872.6 1926 1873.1 1920.5 1862 1940 C1850.9 1959.5 1850.6 1956.5 1835 1970 C1819.4 1983.5 1817.5 1980.5 1810 1985" stroke="#f6b546" stroke-width="4.5" opacity="0.95"/><path d="M1760 1870 C1769 1864 1769 1854.5 1790 1850 C1811 1845.5 1809 1849 1830 1855 C1851 1861 1851 1865.5 1860 1870" stroke="#f0a030" stroke-width="6.4" opacity="0.55" filter="url(#b4)"/><path d="M1760 1870 C1769 1864 1769 1854.5 1790 1850 C1811 1845.5 1809 1849 1830 1855 C1851 1861 1851 1865.5 1860 1870" stroke="#f6b546" stroke-width="3.2" opacity="0.95"/><path d="M1760 1870 C1755.5 1879 1751 1880.5 1745 1900 C1739 1919.5 1741.5 1924.5 1740 1935" stroke="#f0a030" stroke-width="5.2" opacity="0.55" filter="url(#b4)"/><path d="M1760 1870 C1755.5 1879 1751 1880.5 1745 1900 C1739 1919.5 1741.5 1924.5 1740 1935" stroke="#f6b546" stroke-width="2.6" opacity="0.95"/><path d="M1790 1985 C1785.5 1991 1779.5 1999 1775 2005" stroke="#f0a030" stroke-width="7.0" opacity="0.55" filter="url(#b4)"/><path d="M1790 1985 C1785.5 1991 1779.5 1999 1775 2005" stroke="#f6b546" stroke-width="3.5" opacity="0.95"/><path d="M1700 1935 C1703.6 1938 1708.4 1942 1712 1945" stroke="#f0a030" stroke-width="10" opacity="0.55" filter="url(#b4)"/><path d="M1700 1935 C1703.6 1938 1708.4 1942 1712 1945" stroke="#f6b546" stroke-width="5" opacity="0.95"/></g><circle cx="1795.7" cy="1908.5" r="105.5" fill="url(#ringglow)"/><circle cx="1760.4" cy="2184.3" r="106" fill="#030b14"/><g clip-path="url(#c3)"><path d="M1722 2070 C1705.8 2079.1 1726.4 2095.5 1725 2109 C1723.6 2122.5 1721.8 2119.6 1716 2128 C1710.2 2136.4 1709 2136.4 1700 2145 C1691 2153.6 1677.6 2159.4 1677.6 2165 C1677.6 2170.6 1692 2167.4 1700 2169 C1708 2170.6 1709 2167.1 1712 2172 C1715 2176.9 1713.2 2176.5 1713 2190 C1712.8 2203.5 1712 2211.3 1711 2230 C1710 2248.7 1710.3 2251.3 1708.9 2270 C1707.5 2288.7 1677.7 2300.7 1705 2310 C1732.3 2319.3 1798.6 2319.3 1826 2310 C1853.4 2300.7 1824.4 2290.8 1822.4 2270 C1820.4 2249.2 1820.4 2241.5 1817.5 2221 C1814.6 2200.5 1807.7 2192.7 1810 2182 C1812.3 2171.3 1826.1 2182.5 1827.3 2175 C1828.5 2167.5 1821.4 2161.7 1815 2150 C1808.6 2138.3 1804.2 2134.3 1800 2125 C1795.8 2115.7 1798.3 2122.8 1797 2110 C1795.7 2097.2 1811.9 2079.3 1794.4 2070 C1776.9 2060.7 1738.2 2060.9 1722 2070Z" fill="#4a0096" filter="url(#b4)"/><path d="M1735 2100 C1722.2 2118.7 1731.6 2135.7 1730 2180 C1728.4 2224.3 1711.7 2264.3 1728 2290 C1744.3 2315.7 1784.4 2315.7 1800 2290 C1815.6 2264.3 1798.5 2224.3 1795 2180 C1791.5 2135.7 1799 2118.7 1785 2100 C1771 2081.3 1747.8 2081.3 1735 2100Z" fill="#5a06a6" opacity="0.7" filter="url(#b8)"/><circle cx="1722" cy="2155" r="34" fill="url(#hot)"/></g><circle cx="1760.4" cy="2184.3" r="106" fill="url(#ringglow)"/><g font-family="Liberation Sans, sans-serif" fill="#000" stroke="#000" font-size="57" stroke-width="1.6"><text x="1776" y="1718.8" textLength="257" lengthAdjust="spacingAndGlyphs">NIR-IIa FLI</text><text x="1921" y="1974.5" textLength="238" lengthAdjust="spacingAndGlyphs">NIR-II PAI</text><text x="1885" y="2252.5" textLength="245" lengthAdjust="spacingAndGlyphs">NIR-II PTT</text><text x="1104" y="1625.6" font-size="55" textLength="221" lengthAdjust="spacingAndGlyphs">1064 nm</text></g></g></g>

<rect x="0" y="0" width="2204" height="72" fill="#000"/><rect x="0" y="0" width="97" height="1513" fill="#000"/><rect x="0" y="1500" width="92" height="937" fill="#000"/><rect x="2199.7" y="1513" width="5" height="924" fill="#000"/><g font-family="Liberation Sans, sans-serif" font-size="91" fill="#000"><text x="58.5" y="117">a)</text><text x="58.5" y="1618">b)</text></g>
</svg>
</body></html>
